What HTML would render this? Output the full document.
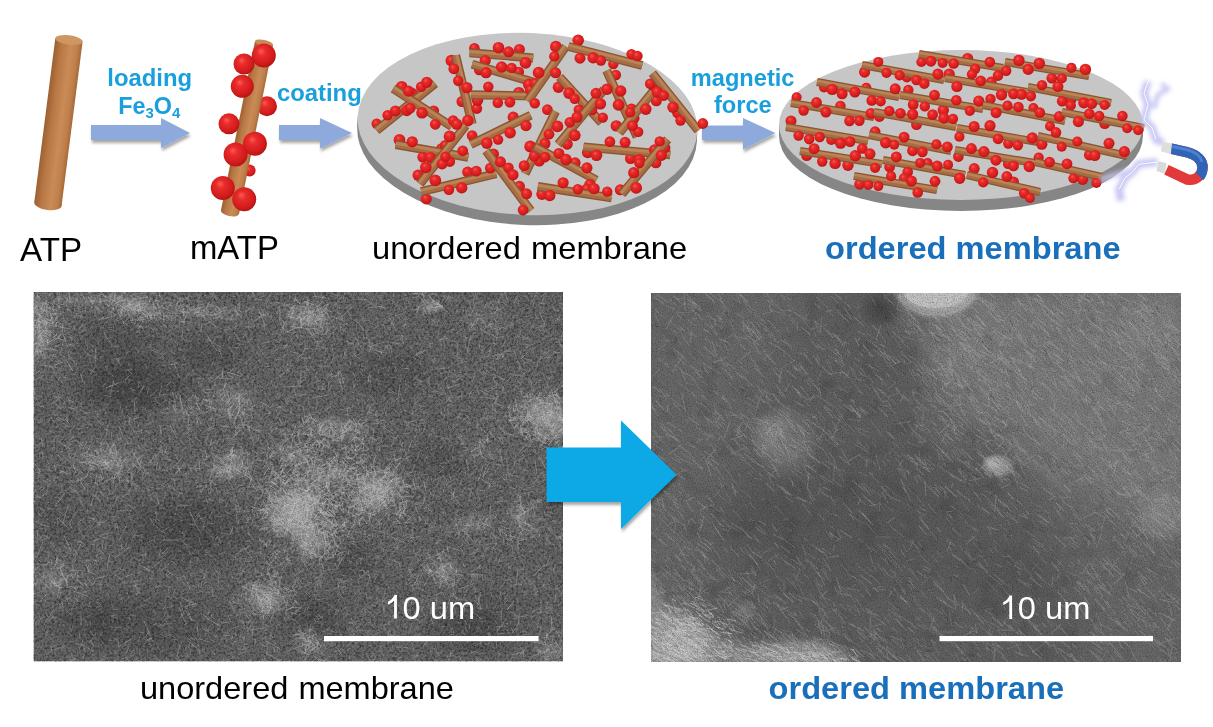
<!DOCTYPE html><html><head><meta charset="utf-8"><style>html,body{margin:0;padding:0;background:#fff;width:1213px;height:727px;overflow:hidden}svg{display:block}text{font-family:"Liberation Sans",sans-serif;opacity:0.999}</style></head><body><svg width="1213" height="727" viewBox="0 0 1213 727"><defs><radialGradient id="ball" cx="0.45" cy="0.42" r="0.6" fx="0.38" fy="0.32"><stop offset="0" stop-color="#ff5a52"/><stop offset="0.3" stop-color="#e82c2c"/><stop offset="0.75" stop-color="#d41c1c"/><stop offset="1" stop-color="#b01414"/></radialGradient><linearGradient id="rod1" x1="0" y1="0" x2="1" y2="0"><stop offset="0" stop-color="#9c6032"/><stop offset="0.25" stop-color="#b87744"/><stop offset="0.6" stop-color="#c98b57"/><stop offset="0.85" stop-color="#bf7f4b"/><stop offset="1" stop-color="#a56838"/></linearGradient><filter id="shadow" x="-10%" y="-10%" width="130%" height="140%"><feGaussianBlur in="SourceAlpha" stdDeviation="1.5"/><feOffset dx="1" dy="3"/><feComponentTransfer><feFuncA type="linear" slope="0.35"/></feComponentTransfer><feMerge><feMergeNode/><feMergeNode in="SourceGraphic"/></feMerge></filter></defs><g transform="translate(69.0,40.0) rotate(7.30)"><rect x="-13.8" y="0" width="27.5" height="165.3" fill="url(#rod1)"/><ellipse cx="0" cy="165.3" rx="13.8" ry="6.0" fill="url(#rod1)"/><ellipse cx="0" cy="0" rx="13.8" ry="4.7" fill="#cf9664"/></g><path d="M91,125 L161,125 L161,118 L190,133 L161,148 L161,140 L91,140 Z" fill="#8eaadc" filter="url(#shadow)"/><path d="M279,125 L320,125 L320,118 L352,133 L320,148.5 L320,140 L279,140 Z" fill="#8eaadc" filter="url(#shadow)"/><path d="M702,125.5 L743,125.5 L743,118 L775.5,133 L743,149.5 L743,140 L702,140 Z" fill="#8eaadc" filter="url(#shadow)"/><g fill="#19a0dc" font-weight="bold" font-size="23.4"><text transform="translate(107.3,86.1) scale(1.02,1)" >loading</text><text transform="translate(118.2,113.9) scale(1.0,1)" >Fe<tspan font-size="15" dy="4.5">3</tspan><tspan dy="-4.5">O</tspan><tspan font-size="15" dy="4.5">4</tspan></text><text transform="translate(276.9,101.2) scale(1.02,1)" >coating</text><text transform="translate(690.8,85.7) scale(1.01,1)" >magnetic</text><text transform="translate(714,113) scale(1.01,1)" >force</text></g><g fill="#000" font-size="31"><text transform="translate(20,261.1) scale(1.024,1)" font-size="32.4">ATP</text><text transform="translate(190,259.2) scale(1.005,1)" font-size="32.7">mATP</text><text transform="translate(372,258.8) scale(1.021,1)" word-spacing="1" font-size="32">unordered membrane</text></g><text transform="translate(825,259.3) scale(1.02,1)" fill="#1a6fba" font-weight="bold" font-size="32">ordered membrane</text><circle cx="267.0" cy="106.3" r="10.0" fill="url(#ball)"/><circle cx="249.6" cy="170.6" r="6.0" fill="url(#ball)"/><g transform="translate(264.0,43.0) rotate(11.38)"><rect x="-9.2" y="0" width="18.5" height="172.4" fill="url(#rod1)"/><ellipse cx="0" cy="172.4" rx="9.2" ry="4.1" fill="url(#rod1)"/><ellipse cx="0" cy="0" rx="9.2" ry="3.1" fill="#c98c58"/></g><circle cx="263.8" cy="55.4" r="12.0" fill="url(#ball)"/><circle cx="244.0" cy="64.0" r="10.5" fill="url(#ball)"/><circle cx="242.3" cy="86.3" r="11.5" fill="url(#ball)"/><circle cx="229.0" cy="123.8" r="10.5" fill="url(#ball)"/><circle cx="254.9" cy="143.8" r="12.0" fill="url(#ball)"/><circle cx="235.6" cy="154.6" r="12.0" fill="url(#ball)"/><circle cx="222.8" cy="188.0" r="12.0" fill="url(#ball)"/><circle cx="244.2" cy="199.3" r="12.0" fill="url(#ball)"/><g transform="rotate(2.5 527.5 124)"><ellipse cx="527.5" cy="134" rx="170" ry="91" fill="#868686"/><rect x="357.5" y="124" width="340" height="10" fill="#868686"/><ellipse cx="527.5" cy="124" rx="170" ry="91" fill="#c6c6c6"/></g><g transform="rotate(0 961 125)"><ellipse cx="961" cy="136" rx="182" ry="75" fill="#868686"/><rect x="779" y="125" width="364" height="11" fill="#868686"/><ellipse cx="961" cy="125" rx="182" ry="75" fill="#c6c6c6"/></g><g><circle cx="376.7" cy="123.8" r="5.2" fill="url(#ball)"/><circle cx="412.7" cy="93.6" r="5.5" fill="url(#ball)"/><line x1="376.6" y1="130.5" x2="435.2" y2="83.4" stroke="#8a5532" stroke-width="9"/><line x1="376.6" y1="130.5" x2="435.2" y2="83.4" stroke="#a66e46" stroke-width="6.3"/><line x1="375.8" y1="129.4" x2="434.4" y2="82.3" stroke="#bb8456" stroke-width="2.9"/><circle cx="387.6" cy="115.2" r="5.2" fill="url(#ball)"/><circle cx="395.4" cy="110.9" r="5.5" fill="url(#ball)"/><circle cx="406.7" cy="110.6" r="5.6" fill="url(#ball)"/><circle cx="421.2" cy="86.8" r="5.3" fill="url(#ball)"/><circle cx="426.8" cy="82.3" r="5.6" fill="url(#ball)"/><circle cx="401.7" cy="86.6" r="5.7" fill="url(#ball)"/><circle cx="433.7" cy="110.8" r="5.4" fill="url(#ball)"/><line x1="393.2" y1="88.5" x2="451.7" y2="126.6" stroke="#8a5532" stroke-width="9"/><line x1="393.2" y1="88.5" x2="451.7" y2="126.6" stroke="#a66e46" stroke-width="6.3"/><line x1="393.9" y1="87.4" x2="452.4" y2="125.5" stroke="#bb8456" stroke-width="2.9"/><circle cx="408.4" cy="91.1" r="5.6" fill="url(#ball)"/><circle cx="410.1" cy="108.2" r="5.5" fill="url(#ball)"/><circle cx="422.0" cy="112.8" r="5.8" fill="url(#ball)"/><circle cx="435.3" cy="124.3" r="5.4" fill="url(#ball)"/><circle cx="453.1" cy="120.6" r="5.3" fill="url(#ball)"/><circle cx="451.4" cy="60.6" r="5.9" fill="url(#ball)"/><circle cx="462.0" cy="101.5" r="5.5" fill="url(#ball)"/><line x1="455.6" y1="55.4" x2="472.1" y2="124.1" stroke="#8a5532" stroke-width="9"/><line x1="455.6" y1="55.4" x2="472.1" y2="124.1" stroke="#a66e46" stroke-width="6.3"/><line x1="456.9" y1="55.1" x2="473.4" y2="123.8" stroke="#bb8456" stroke-width="2.9"/><circle cx="453.8" cy="68.8" r="5.4" fill="url(#ball)"/><circle cx="458.2" cy="80.7" r="5.2" fill="url(#ball)"/><circle cx="466.8" cy="87.6" r="5.7" fill="url(#ball)"/><circle cx="476.8" cy="108.5" r="5.4" fill="url(#ball)"/><circle cx="467.8" cy="120.6" r="5.8" fill="url(#ball)"/><circle cx="399.5" cy="139.9" r="5.9" fill="url(#ball)"/><circle cx="441.4" cy="148.5" r="5.3" fill="url(#ball)"/><line x1="395.7" y1="144.5" x2="468.3" y2="157.2" stroke="#8a5532" stroke-width="9"/><line x1="395.7" y1="144.5" x2="468.3" y2="157.2" stroke="#a66e46" stroke-width="6.3"/><line x1="395.9" y1="143.2" x2="468.5" y2="155.9" stroke="#bb8456" stroke-width="2.9"/><circle cx="412.2" cy="141.8" r="5.6" fill="url(#ball)"/><circle cx="422.7" cy="157.1" r="5.4" fill="url(#ball)"/><circle cx="430.3" cy="157.4" r="5.5" fill="url(#ball)"/><circle cx="449.8" cy="161.6" r="5.3" fill="url(#ball)"/><circle cx="462.7" cy="150.8" r="5.4" fill="url(#ball)"/><circle cx="418.1" cy="175.2" r="5.6" fill="url(#ball)"/><circle cx="445.4" cy="145.5" r="5.6" fill="url(#ball)"/><line x1="419.9" y1="183.9" x2="465.7" y2="125.4" stroke="#8a5532" stroke-width="9"/><line x1="419.9" y1="183.9" x2="465.7" y2="125.4" stroke="#a66e46" stroke-width="6.3"/><line x1="418.8" y1="183.1" x2="464.6" y2="124.6" stroke="#bb8456" stroke-width="2.9"/><circle cx="425.8" cy="167.4" r="5.8" fill="url(#ball)"/><circle cx="442.1" cy="163.9" r="5.5" fill="url(#ball)"/><circle cx="445.4" cy="156.8" r="5.2" fill="url(#ball)"/><circle cx="449.6" cy="136.3" r="5.9" fill="url(#ball)"/><circle cx="456.7" cy="124.2" r="5.6" fill="url(#ball)"/><circle cx="426.2" cy="198.9" r="5.6" fill="url(#ball)"/><circle cx="467.7" cy="172.1" r="5.6" fill="url(#ball)"/><line x1="421.2" y1="191.6" x2="496.3" y2="173.7" stroke="#8a5532" stroke-width="9"/><line x1="421.2" y1="191.6" x2="496.3" y2="173.7" stroke="#a66e46" stroke-width="6.3"/><line x1="420.9" y1="190.3" x2="496.0" y2="172.4" stroke="#bb8456" stroke-width="2.9"/><circle cx="435.3" cy="180.3" r="5.9" fill="url(#ball)"/><circle cx="448.9" cy="189.8" r="5.3" fill="url(#ball)"/><circle cx="461.7" cy="187.7" r="5.7" fill="url(#ball)"/><circle cx="476.3" cy="171.1" r="5.4" fill="url(#ball)"/><circle cx="490.3" cy="168.1" r="5.4" fill="url(#ball)"/><circle cx="474.4" cy="48.2" r="5.3" fill="url(#ball)"/><circle cx="519.4" cy="49.4" r="5.5" fill="url(#ball)"/><line x1="469.6" y1="52.8" x2="533.2" y2="57.9" stroke="#8a5532" stroke-width="9"/><line x1="469.6" y1="52.8" x2="533.2" y2="57.9" stroke="#a66e46" stroke-width="6.3"/><line x1="469.7" y1="51.5" x2="533.3" y2="56.6" stroke="#bb8456" stroke-width="2.9"/><circle cx="485.2" cy="60.6" r="5.6" fill="url(#ball)"/><circle cx="498.5" cy="47.7" r="5.8" fill="url(#ball)"/><circle cx="508.6" cy="51.8" r="5.5" fill="url(#ball)"/><circle cx="525.5" cy="62.8" r="5.9" fill="url(#ball)"/><circle cx="479.2" cy="70.0" r="5.2" fill="url(#ball)"/><circle cx="518.8" cy="72.0" r="5.3" fill="url(#ball)"/><line x1="472.1" y1="64.3" x2="533.2" y2="82.1" stroke="#8a5532" stroke-width="9"/><line x1="472.1" y1="64.3" x2="533.2" y2="82.1" stroke="#a66e46" stroke-width="6.3"/><line x1="472.5" y1="63.0" x2="533.6" y2="80.8" stroke="#bb8456" stroke-width="2.9"/><circle cx="486.0" cy="72.7" r="5.6" fill="url(#ball)"/><circle cx="501.6" cy="67.0" r="5.7" fill="url(#ball)"/><circle cx="511.7" cy="67.9" r="5.2" fill="url(#ball)"/><circle cx="528.9" cy="84.5" r="5.9" fill="url(#ball)"/><circle cx="477.4" cy="100.1" r="5.9" fill="url(#ball)"/><circle cx="518.9" cy="92.7" r="5.8" fill="url(#ball)"/><line x1="470.8" y1="94.8" x2="534.5" y2="96.1" stroke="#8a5532" stroke-width="9"/><line x1="470.8" y1="94.8" x2="534.5" y2="96.1" stroke="#a66e46" stroke-width="6.3"/><line x1="470.8" y1="93.5" x2="534.5" y2="94.8" stroke="#bb8456" stroke-width="2.9"/><circle cx="488.3" cy="86.7" r="5.2" fill="url(#ball)"/><circle cx="497.8" cy="102.8" r="5.3" fill="url(#ball)"/><circle cx="509.9" cy="102.2" r="5.4" fill="url(#ball)"/><circle cx="530.8" cy="90.1" r="5.9" fill="url(#ball)"/><circle cx="472.1" cy="135.5" r="5.3" fill="url(#ball)"/><circle cx="513.2" cy="117.2" r="5.6" fill="url(#ball)"/><line x1="470.8" y1="144.5" x2="530.7" y2="115.2" stroke="#8a5532" stroke-width="9"/><line x1="470.8" y1="144.5" x2="530.7" y2="115.2" stroke="#a66e46" stroke-width="6.3"/><line x1="470.2" y1="143.3" x2="530.1" y2="114.0" stroke="#bb8456" stroke-width="2.9"/><circle cx="486.8" cy="143.1" r="5.8" fill="url(#ball)"/><circle cx="498.1" cy="139.6" r="5.2" fill="url(#ball)"/><circle cx="510.1" cy="132.7" r="5.8" fill="url(#ball)"/><circle cx="526.0" cy="125.6" r="5.6" fill="url(#ball)"/><circle cx="493.5" cy="154.1" r="5.5" fill="url(#ball)"/><circle cx="519.4" cy="186.4" r="5.6" fill="url(#ball)"/><line x1="486.1" y1="150.8" x2="530.7" y2="210.7" stroke="#8a5532" stroke-width="9"/><line x1="486.1" y1="150.8" x2="530.7" y2="210.7" stroke="#a66e46" stroke-width="6.3"/><line x1="487.2" y1="150.0" x2="531.8" y2="209.9" stroke="#bb8456" stroke-width="2.9"/><circle cx="500.4" cy="161.9" r="5.6" fill="url(#ball)"/><circle cx="508.5" cy="167.8" r="5.2" fill="url(#ball)"/><circle cx="513.0" cy="174.8" r="5.6" fill="url(#ball)"/><circle cx="526.6" cy="193.8" r="5.5" fill="url(#ball)"/><circle cx="523.0" cy="210.1" r="5.3" fill="url(#ball)"/><circle cx="555.9" cy="46.6" r="5.9" fill="url(#ball)"/><circle cx="535.4" cy="83.5" r="5.8" fill="url(#ball)"/><line x1="565.8" y1="46.5" x2="527.6" y2="101.2" stroke="#8a5532" stroke-width="9"/><line x1="565.8" y1="46.5" x2="527.6" y2="101.2" stroke="#a66e46" stroke-width="6.3"/><line x1="564.7" y1="45.7" x2="526.5" y2="100.4" stroke="#bb8456" stroke-width="2.9"/><circle cx="554.3" cy="56.4" r="5.2" fill="url(#ball)"/><circle cx="555.6" cy="72.8" r="5.5" fill="url(#ball)"/><circle cx="538.6" cy="72.7" r="5.9" fill="url(#ball)"/><circle cx="534.8" cy="103.3" r="5.2" fill="url(#ball)"/><circle cx="578.2" cy="40.3" r="5.8" fill="url(#ball)"/><circle cx="613.3" cy="64.1" r="5.2" fill="url(#ball)"/><line x1="568.4" y1="46.5" x2="642.2" y2="65.5" stroke="#8a5532" stroke-width="9"/><line x1="568.4" y1="46.5" x2="642.2" y2="65.5" stroke="#a66e46" stroke-width="6.3"/><line x1="568.7" y1="45.2" x2="642.5" y2="64.2" stroke="#bb8456" stroke-width="2.9"/><circle cx="580.0" cy="58.2" r="5.5" fill="url(#ball)"/><circle cx="593.1" cy="57.8" r="5.7" fill="url(#ball)"/><circle cx="600.9" cy="60.5" r="5.2" fill="url(#ball)"/><circle cx="631.5" cy="54.1" r="5.2" fill="url(#ball)"/><circle cx="637.4" cy="56.0" r="5.3" fill="url(#ball)"/><circle cx="558.4" cy="87.2" r="5.7" fill="url(#ball)"/><circle cx="594.4" cy="104.1" r="5.2" fill="url(#ball)"/><line x1="559.5" y1="77.0" x2="601.5" y2="122.8" stroke="#8a5532" stroke-width="9"/><line x1="559.5" y1="77.0" x2="601.5" y2="122.8" stroke="#a66e46" stroke-width="6.3"/><line x1="560.5" y1="76.1" x2="602.5" y2="121.9" stroke="#bb8456" stroke-width="2.9"/><circle cx="569.1" cy="93.1" r="5.9" fill="url(#ball)"/><circle cx="574.7" cy="98.8" r="5.2" fill="url(#ball)"/><circle cx="579.0" cy="109.9" r="5.4" fill="url(#ball)"/><circle cx="602.8" cy="117.6" r="5.2" fill="url(#ball)"/><circle cx="547.4" cy="109.7" r="5.4" fill="url(#ball)"/><circle cx="530.2" cy="146.5" r="5.9" fill="url(#ball)"/><line x1="555.6" y1="111.4" x2="525.1" y2="173.7" stroke="#8a5532" stroke-width="9"/><line x1="555.6" y1="111.4" x2="525.1" y2="173.7" stroke="#a66e46" stroke-width="6.3"/><line x1="554.4" y1="110.8" x2="523.9" y2="173.1" stroke="#bb8456" stroke-width="2.9"/><circle cx="557.4" cy="126.4" r="5.9" fill="url(#ball)"/><circle cx="549.0" cy="134.2" r="5.4" fill="url(#ball)"/><circle cx="545.0" cy="143.5" r="5.5" fill="url(#ball)"/><circle cx="539.2" cy="161.0" r="5.6" fill="url(#ball)"/><circle cx="524.2" cy="165.7" r="5.5" fill="url(#ball)"/><circle cx="567.2" cy="144.1" r="5.6" fill="url(#ball)"/><circle cx="592.1" cy="110.0" r="5.2" fill="url(#ball)"/><line x1="558.2" y1="144.5" x2="604.0" y2="89.7" stroke="#8a5532" stroke-width="9"/><line x1="558.2" y1="144.5" x2="604.0" y2="89.7" stroke="#a66e46" stroke-width="6.3"/><line x1="557.2" y1="143.6" x2="603.0" y2="88.8" stroke="#bb8456" stroke-width="2.9"/><circle cx="574.7" cy="135.3" r="5.9" fill="url(#ball)"/><circle cx="569.9" cy="122.3" r="5.4" fill="url(#ball)"/><circle cx="577.0" cy="117.2" r="5.6" fill="url(#ball)"/><circle cx="600.4" cy="103.9" r="5.7" fill="url(#ball)"/><circle cx="596.0" cy="93.3" r="5.5" fill="url(#ball)"/><circle cx="534.4" cy="156.0" r="5.6" fill="url(#ball)"/><circle cx="575.2" cy="162.7" r="5.4" fill="url(#ball)"/><line x1="535.3" y1="147.0" x2="596.4" y2="180.1" stroke="#8a5532" stroke-width="9"/><line x1="535.3" y1="147.0" x2="596.4" y2="180.1" stroke="#a66e46" stroke-width="6.3"/><line x1="535.9" y1="145.8" x2="597.0" y2="178.9" stroke="#bb8456" stroke-width="2.9"/><circle cx="545.1" cy="157.1" r="5.3" fill="url(#ball)"/><circle cx="558.9" cy="153.4" r="5.5" fill="url(#ball)"/><circle cx="566.0" cy="159.6" r="5.8" fill="url(#ball)"/><circle cx="586.9" cy="167.9" r="5.6" fill="url(#ball)"/><circle cx="589.9" cy="184.8" r="5.7" fill="url(#ball)"/><circle cx="542.0" cy="194.2" r="5.7" fill="url(#ball)"/><circle cx="586.9" cy="189.0" r="5.5" fill="url(#ball)"/><line x1="537.8" y1="186.5" x2="611.7" y2="197.9" stroke="#8a5532" stroke-width="9"/><line x1="537.8" y1="186.5" x2="611.7" y2="197.9" stroke="#a66e46" stroke-width="6.3"/><line x1="538.0" y1="185.2" x2="611.9" y2="196.6" stroke="#bb8456" stroke-width="2.9"/><circle cx="549.7" cy="195.5" r="5.8" fill="url(#ball)"/><circle cx="563.1" cy="182.8" r="5.6" fill="url(#ball)"/><circle cx="577.8" cy="189.2" r="5.2" fill="url(#ball)"/><circle cx="594.0" cy="188.6" r="5.7" fill="url(#ball)"/><circle cx="607.2" cy="191.6" r="5.2" fill="url(#ball)"/><circle cx="615.9" cy="75.0" r="5.2" fill="url(#ball)"/><circle cx="631.5" cy="109.3" r="5.7" fill="url(#ball)"/><line x1="606.6" y1="70.6" x2="637.1" y2="136.8" stroke="#8a5532" stroke-width="9"/><line x1="606.6" y1="70.6" x2="637.1" y2="136.8" stroke="#a66e46" stroke-width="6.3"/><line x1="607.8" y1="70.0" x2="638.3" y2="136.2" stroke="#bb8456" stroke-width="2.9"/><circle cx="607.0" cy="89.2" r="5.8" fill="url(#ball)"/><circle cx="620.7" cy="91.0" r="5.7" fill="url(#ball)"/><circle cx="618.6" cy="104.9" r="5.9" fill="url(#ball)"/><circle cx="633.8" cy="118.2" r="5.7" fill="url(#ball)"/><circle cx="638.2" cy="131.9" r="5.2" fill="url(#ball)"/><circle cx="616.3" cy="125.9" r="5.7" fill="url(#ball)"/><circle cx="656.3" cy="100.8" r="5.5" fill="url(#ball)"/><line x1="619.3" y1="133.0" x2="657.5" y2="85.9" stroke="#8a5532" stroke-width="9"/><line x1="619.3" y1="133.0" x2="657.5" y2="85.9" stroke="#a66e46" stroke-width="6.3"/><line x1="618.3" y1="132.1" x2="656.5" y2="85.0" stroke="#bb8456" stroke-width="2.9"/><circle cx="632.4" cy="125.7" r="5.5" fill="url(#ball)"/><circle cx="630.1" cy="112.2" r="5.2" fill="url(#ball)"/><circle cx="645.8" cy="109.1" r="5.8" fill="url(#ball)"/><circle cx="653.3" cy="85.7" r="5.2" fill="url(#ball)"/><circle cx="650.2" cy="83.7" r="5.3" fill="url(#ball)"/><circle cx="677.8" cy="112.6" r="5.8" fill="url(#ball)"/><line x1="652.4" y1="73.2" x2="698.2" y2="130.5" stroke="#8a5532" stroke-width="9"/><line x1="652.4" y1="73.2" x2="698.2" y2="130.5" stroke="#a66e46" stroke-width="6.3"/><line x1="653.5" y1="72.4" x2="699.3" y2="129.7" stroke="#bb8456" stroke-width="2.9"/><circle cx="657.3" cy="92.0" r="5.7" fill="url(#ball)"/><circle cx="663.7" cy="95.6" r="5.3" fill="url(#ball)"/><circle cx="673.0" cy="107.3" r="5.7" fill="url(#ball)"/><circle cx="680.5" cy="120.5" r="5.2" fill="url(#ball)"/><circle cx="702.8" cy="123.5" r="5.4" fill="url(#ball)"/><circle cx="587.7" cy="152.5" r="5.8" fill="url(#ball)"/><circle cx="630.5" cy="158.5" r="5.5" fill="url(#ball)"/><line x1="583.6" y1="147.0" x2="670.2" y2="154.7" stroke="#8a5532" stroke-width="9"/><line x1="583.6" y1="147.0" x2="670.2" y2="154.7" stroke="#a66e46" stroke-width="6.3"/><line x1="583.7" y1="145.7" x2="670.3" y2="153.4" stroke="#bb8456" stroke-width="2.9"/><circle cx="596.5" cy="155.3" r="5.8" fill="url(#ball)"/><circle cx="609.9" cy="141.7" r="5.4" fill="url(#ball)"/><circle cx="625.1" cy="142.3" r="5.5" fill="url(#ball)"/><circle cx="639.4" cy="160.0" r="5.9" fill="url(#ball)"/><circle cx="654.6" cy="150.0" r="5.7" fill="url(#ball)"/><circle cx="665.0" cy="147.7" r="5.4" fill="url(#ball)"/><circle cx="620.3" cy="189.8" r="5.5" fill="url(#ball)"/><circle cx="655.9" cy="162.8" r="5.5" fill="url(#ball)"/><line x1="621.8" y1="194.1" x2="667.7" y2="139.4" stroke="#8a5532" stroke-width="9"/><line x1="621.8" y1="194.1" x2="667.7" y2="139.4" stroke="#a66e46" stroke-width="6.3"/><line x1="620.8" y1="193.2" x2="666.7" y2="138.5" stroke="#bb8456" stroke-width="2.9"/><circle cx="636.2" cy="187.9" r="5.9" fill="url(#ball)"/><circle cx="633.7" cy="172.7" r="5.6" fill="url(#ball)"/><circle cx="639.3" cy="163.0" r="5.2" fill="url(#ball)"/><circle cx="661.3" cy="155.3" r="5.6" fill="url(#ball)"/><circle cx="659.7" cy="141.4" r="5.2" fill="url(#ball)"/></g><g><circle cx="921.4" cy="62.0" r="5.1" fill="url(#ball)"/><circle cx="967.6" cy="58.5" r="5.6" fill="url(#ball)"/><line x1="919.0" y1="54.0" x2="1003.0" y2="68.0" stroke="#8a5532" stroke-width="8"/><line x1="919.0" y1="54.0" x2="1003.0" y2="68.0" stroke="#a66e46" stroke-width="5.6"/><line x1="919.2" y1="52.8" x2="1003.2" y2="66.8" stroke="#bb8456" stroke-width="2.6"/><circle cx="930.9" cy="61.2" r="5.5" fill="url(#ball)"/><circle cx="942.6" cy="62.9" r="5.0" fill="url(#ball)"/><circle cx="953.7" cy="63.5" r="5.3" fill="url(#ball)"/><circle cx="975.1" cy="68.8" r="5.2" fill="url(#ball)"/><circle cx="989.8" cy="62.1" r="5.3" fill="url(#ball)"/><circle cx="998.0" cy="75.6" r="5.3" fill="url(#ball)"/><circle cx="1006.2" cy="70.7" r="5.2" fill="url(#ball)"/><circle cx="1051.8" cy="78.2" r="5.4" fill="url(#ball)"/><line x1="1005.0" y1="62.0" x2="1089.0" y2="76.0" stroke="#8a5532" stroke-width="8"/><line x1="1005.0" y1="62.0" x2="1089.0" y2="76.0" stroke="#a66e46" stroke-width="5.6"/><line x1="1005.2" y1="60.8" x2="1089.2" y2="74.8" stroke="#bb8456" stroke-width="2.6"/><circle cx="1018.9" cy="60.4" r="5.7" fill="url(#ball)"/><circle cx="1028.2" cy="69.4" r="5.6" fill="url(#ball)"/><circle cx="1039.3" cy="63.4" r="5.7" fill="url(#ball)"/><circle cx="1061.8" cy="78.4" r="5.1" fill="url(#ball)"/><circle cx="1071.4" cy="67.9" r="5.1" fill="url(#ball)"/><circle cx="1085.4" cy="69.4" r="5.7" fill="url(#ball)"/><circle cx="864.6" cy="72.1" r="5.6" fill="url(#ball)"/><circle cx="906.9" cy="77.5" r="5.0" fill="url(#ball)"/><line x1="862.0" y1="65.0" x2="944.0" y2="80.0" stroke="#8a5532" stroke-width="8"/><line x1="862.0" y1="65.0" x2="944.0" y2="80.0" stroke="#a66e46" stroke-width="5.6"/><line x1="862.2" y1="63.8" x2="944.2" y2="78.8" stroke="#bb8456" stroke-width="2.6"/><circle cx="878.3" cy="61.9" r="5.0" fill="url(#ball)"/><circle cx="886.5" cy="72.8" r="5.1" fill="url(#ball)"/><circle cx="899.6" cy="75.4" r="5.1" fill="url(#ball)"/><circle cx="916.5" cy="80.0" r="5.3" fill="url(#ball)"/><circle cx="924.3" cy="83.6" r="5.3" fill="url(#ball)"/><circle cx="937.9" cy="74.1" r="5.6" fill="url(#ball)"/><circle cx="949.2" cy="74.2" r="5.6" fill="url(#ball)"/><circle cx="991.3" cy="81.8" r="5.3" fill="url(#ball)"/><line x1="945.0" y1="78.0" x2="1027.0" y2="92.0" stroke="#8a5532" stroke-width="8"/><line x1="945.0" y1="78.0" x2="1027.0" y2="92.0" stroke="#a66e46" stroke-width="5.6"/><line x1="945.2" y1="76.8" x2="1027.2" y2="90.8" stroke="#bb8456" stroke-width="2.6"/><circle cx="956.9" cy="86.5" r="5.6" fill="url(#ball)"/><circle cx="971.9" cy="74.3" r="5.1" fill="url(#ball)"/><circle cx="980.7" cy="80.9" r="5.4" fill="url(#ball)"/><circle cx="1001.5" cy="94.8" r="5.7" fill="url(#ball)"/><circle cx="1013.6" cy="93.8" r="5.5" fill="url(#ball)"/><circle cx="1021.5" cy="94.3" r="5.5" fill="url(#ball)"/><circle cx="1030.8" cy="96.1" r="5.3" fill="url(#ball)"/><circle cx="1071.1" cy="99.5" r="5.4" fill="url(#ball)"/><line x1="1028.0" y1="87.0" x2="1111.0" y2="103.0" stroke="#8a5532" stroke-width="8"/><line x1="1028.0" y1="87.0" x2="1111.0" y2="103.0" stroke="#a66e46" stroke-width="5.6"/><line x1="1028.2" y1="85.8" x2="1111.2" y2="101.8" stroke="#bb8456" stroke-width="2.6"/><circle cx="1042.0" cy="85.1" r="5.2" fill="url(#ball)"/><circle cx="1057.9" cy="86.6" r="5.5" fill="url(#ball)"/><circle cx="1062.1" cy="101.2" r="5.3" fill="url(#ball)"/><circle cx="1083.8" cy="102.8" r="5.6" fill="url(#ball)"/><circle cx="1091.7" cy="103.7" r="5.4" fill="url(#ball)"/><circle cx="1104.6" cy="105.0" r="5.0" fill="url(#ball)"/><circle cx="824.0" cy="87.4" r="5.0" fill="url(#ball)"/><circle cx="866.3" cy="87.8" r="5.1" fill="url(#ball)"/><line x1="817.0" y1="82.0" x2="899.0" y2="97.0" stroke="#8a5532" stroke-width="8"/><line x1="817.0" y1="82.0" x2="899.0" y2="97.0" stroke="#a66e46" stroke-width="5.6"/><line x1="817.2" y1="80.8" x2="899.2" y2="95.8" stroke="#bb8456" stroke-width="2.6"/><circle cx="832.2" cy="89.4" r="5.7" fill="url(#ball)"/><circle cx="842.1" cy="93.8" r="5.5" fill="url(#ball)"/><circle cx="854.9" cy="92.0" r="5.5" fill="url(#ball)"/><circle cx="871.7" cy="100.4" r="5.3" fill="url(#ball)"/><circle cx="880.7" cy="101.3" r="5.1" fill="url(#ball)"/><circle cx="895.2" cy="88.8" r="5.5" fill="url(#ball)"/><circle cx="908.3" cy="90.0" r="5.2" fill="url(#ball)"/><circle cx="943.3" cy="110.3" r="5.7" fill="url(#ball)"/><line x1="900.0" y1="95.0" x2="983.0" y2="109.0" stroke="#8a5532" stroke-width="8"/><line x1="900.0" y1="95.0" x2="983.0" y2="109.0" stroke="#a66e46" stroke-width="5.6"/><line x1="900.2" y1="93.8" x2="983.2" y2="107.8" stroke="#bb8456" stroke-width="2.6"/><circle cx="913.2" cy="104.6" r="5.4" fill="url(#ball)"/><circle cx="924.8" cy="106.4" r="5.2" fill="url(#ball)"/><circle cx="934.5" cy="95.1" r="5.4" fill="url(#ball)"/><circle cx="956.3" cy="100.3" r="5.3" fill="url(#ball)"/><circle cx="969.8" cy="110.8" r="5.1" fill="url(#ball)"/><circle cx="978.8" cy="101.1" r="5.6" fill="url(#ball)"/><circle cx="990.5" cy="99.0" r="5.2" fill="url(#ball)"/><circle cx="1033.4" cy="108.1" r="5.0" fill="url(#ball)"/><line x1="983.0" y1="105.0" x2="1065.0" y2="121.0" stroke="#8a5532" stroke-width="8"/><line x1="983.0" y1="105.0" x2="1065.0" y2="121.0" stroke="#a66e46" stroke-width="5.6"/><line x1="983.2" y1="103.8" x2="1065.2" y2="119.8" stroke="#bb8456" stroke-width="2.6"/><circle cx="996.1" cy="112.7" r="5.5" fill="url(#ball)"/><circle cx="1007.5" cy="105.7" r="5.1" fill="url(#ball)"/><circle cx="1018.4" cy="107.0" r="5.3" fill="url(#ball)"/><circle cx="1039.8" cy="112.5" r="5.3" fill="url(#ball)"/><circle cx="1050.0" cy="126.3" r="5.0" fill="url(#ball)"/><circle cx="1059.2" cy="116.5" r="5.4" fill="url(#ball)"/><circle cx="1070.7" cy="105.4" r="5.2" fill="url(#ball)"/><circle cx="1104.7" cy="123.6" r="5.5" fill="url(#ball)"/><line x1="1062.0" y1="112.0" x2="1144.0" y2="128.0" stroke="#8a5532" stroke-width="8"/><line x1="1062.0" y1="112.0" x2="1144.0" y2="128.0" stroke="#a66e46" stroke-width="5.6"/><line x1="1062.2" y1="110.8" x2="1144.2" y2="126.8" stroke="#bb8456" stroke-width="2.6"/><circle cx="1078.4" cy="121.6" r="5.6" fill="url(#ball)"/><circle cx="1089.3" cy="113.7" r="5.4" fill="url(#ball)"/><circle cx="1099.2" cy="116.0" r="5.2" fill="url(#ball)"/><circle cx="1122.4" cy="116.1" r="5.3" fill="url(#ball)"/><circle cx="1127.2" cy="128.2" r="5.0" fill="url(#ball)"/><circle cx="1138.2" cy="130.3" r="5.0" fill="url(#ball)"/><circle cx="796.6" cy="97.3" r="5.0" fill="url(#ball)"/><circle cx="840.4" cy="106.1" r="5.3" fill="url(#ball)"/><line x1="791.0" y1="103.0" x2="874.0" y2="117.0" stroke="#8a5532" stroke-width="8"/><line x1="791.0" y1="103.0" x2="874.0" y2="117.0" stroke="#a66e46" stroke-width="5.6"/><line x1="791.2" y1="101.8" x2="874.2" y2="115.8" stroke="#bb8456" stroke-width="2.6"/><circle cx="803.6" cy="110.5" r="5.2" fill="url(#ball)"/><circle cx="816.5" cy="102.5" r="5.4" fill="url(#ball)"/><circle cx="825.9" cy="112.0" r="5.5" fill="url(#ball)"/><circle cx="849.5" cy="120.9" r="5.3" fill="url(#ball)"/><circle cx="859.4" cy="120.8" r="5.2" fill="url(#ball)"/><circle cx="871.0" cy="113.4" r="5.4" fill="url(#ball)"/><circle cx="879.4" cy="116.5" r="5.4" fill="url(#ball)"/><circle cx="916.5" cy="124.6" r="5.4" fill="url(#ball)"/><line x1="874.0" y1="112.0" x2="956.0" y2="127.0" stroke="#8a5532" stroke-width="8"/><line x1="874.0" y1="112.0" x2="956.0" y2="127.0" stroke="#a66e46" stroke-width="5.6"/><line x1="874.2" y1="110.8" x2="956.2" y2="125.8" stroke="#bb8456" stroke-width="2.6"/><circle cx="889.3" cy="110.9" r="5.2" fill="url(#ball)"/><circle cx="900.4" cy="113.2" r="5.3" fill="url(#ball)"/><circle cx="912.6" cy="114.3" r="5.6" fill="url(#ball)"/><circle cx="932.6" cy="114.6" r="5.4" fill="url(#ball)"/><circle cx="943.8" cy="118.1" r="5.6" fill="url(#ball)"/><circle cx="953.0" cy="118.8" r="5.1" fill="url(#ball)"/><circle cx="959.4" cy="136.7" r="5.1" fill="url(#ball)"/><circle cx="1008.3" cy="143.5" r="5.2" fill="url(#ball)"/><line x1="957.0" y1="128.0" x2="1038.0" y2="142.0" stroke="#8a5532" stroke-width="8"/><line x1="957.0" y1="128.0" x2="1038.0" y2="142.0" stroke="#a66e46" stroke-width="5.6"/><line x1="957.2" y1="126.8" x2="1038.2" y2="140.8" stroke="#bb8456" stroke-width="2.6"/><circle cx="974.1" cy="126.5" r="5.5" fill="url(#ball)"/><circle cx="990.0" cy="125.7" r="5.6" fill="url(#ball)"/><circle cx="998.1" cy="138.8" r="5.4" fill="url(#ball)"/><circle cx="1017.8" cy="145.2" r="5.3" fill="url(#ball)"/><circle cx="1032.3" cy="138.0" r="5.7" fill="url(#ball)"/><circle cx="1041.8" cy="144.2" r="5.6" fill="url(#ball)"/><circle cx="1089.3" cy="155.0" r="5.4" fill="url(#ball)"/><line x1="1038.0" y1="136.0" x2="1127.0" y2="156.0" stroke="#8a5532" stroke-width="8"/><line x1="1038.0" y1="136.0" x2="1127.0" y2="156.0" stroke="#a66e46" stroke-width="5.6"/><line x1="1038.3" y1="134.8" x2="1127.3" y2="154.8" stroke="#bb8456" stroke-width="2.6"/><circle cx="1056.0" cy="132.4" r="5.3" fill="url(#ball)"/><circle cx="1061.7" cy="146.8" r="5.0" fill="url(#ball)"/><circle cx="1077.3" cy="141.5" r="5.1" fill="url(#ball)"/><circle cx="1094.8" cy="155.5" r="5.6" fill="url(#ball)"/><circle cx="1109.0" cy="143.3" r="5.5" fill="url(#ball)"/><circle cx="1124.4" cy="151.6" r="5.6" fill="url(#ball)"/><circle cx="791.0" cy="121.0" r="5.5" fill="url(#ball)"/><circle cx="831.3" cy="139.9" r="5.1" fill="url(#ball)"/><line x1="786.0" y1="127.0" x2="868.0" y2="141.0" stroke="#8a5532" stroke-width="8"/><line x1="786.0" y1="127.0" x2="868.0" y2="141.0" stroke="#a66e46" stroke-width="5.6"/><line x1="786.2" y1="125.8" x2="868.2" y2="139.8" stroke="#bb8456" stroke-width="2.6"/><circle cx="798.6" cy="135.6" r="5.2" fill="url(#ball)"/><circle cx="809.2" cy="139.1" r="5.3" fill="url(#ball)"/><circle cx="819.7" cy="137.0" r="5.2" fill="url(#ball)"/><circle cx="840.6" cy="143.2" r="5.6" fill="url(#ball)"/><circle cx="850.0" cy="141.6" r="5.4" fill="url(#ball)"/><circle cx="862.3" cy="148.5" r="5.3" fill="url(#ball)"/><circle cx="875.1" cy="131.7" r="5.4" fill="url(#ball)"/><circle cx="912.6" cy="150.7" r="5.5" fill="url(#ball)"/><line x1="869.0" y1="135.0" x2="951.0" y2="151.0" stroke="#8a5532" stroke-width="8"/><line x1="869.0" y1="135.0" x2="951.0" y2="151.0" stroke="#a66e46" stroke-width="5.6"/><line x1="869.2" y1="133.8" x2="951.2" y2="149.8" stroke="#bb8456" stroke-width="2.6"/><circle cx="885.7" cy="142.8" r="5.7" fill="url(#ball)"/><circle cx="894.2" cy="144.8" r="5.0" fill="url(#ball)"/><circle cx="904.1" cy="137.1" r="5.4" fill="url(#ball)"/><circle cx="922.4" cy="151.9" r="5.3" fill="url(#ball)"/><circle cx="936.4" cy="144.4" r="5.1" fill="url(#ball)"/><circle cx="947.4" cy="146.9" r="5.4" fill="url(#ball)"/><circle cx="958.4" cy="156.6" r="5.3" fill="url(#ball)"/><circle cx="1008.1" cy="163.9" r="5.2" fill="url(#ball)"/><line x1="955.0" y1="150.0" x2="1035.0" y2="163.0" stroke="#8a5532" stroke-width="8"/><line x1="955.0" y1="150.0" x2="1035.0" y2="163.0" stroke="#a66e46" stroke-width="5.6"/><line x1="955.2" y1="148.8" x2="1035.2" y2="161.8" stroke="#bb8456" stroke-width="2.6"/><circle cx="971.4" cy="148.5" r="5.4" fill="url(#ball)"/><circle cx="983.9" cy="151.6" r="5.6" fill="url(#ball)"/><circle cx="995.9" cy="160.2" r="5.5" fill="url(#ball)"/><circle cx="1013.5" cy="165.9" r="5.4" fill="url(#ball)"/><circle cx="1029.3" cy="166.5" r="5.7" fill="url(#ball)"/><circle cx="1038.7" cy="157.5" r="5.1" fill="url(#ball)"/><circle cx="1082.6" cy="179.3" r="5.7" fill="url(#ball)"/><line x1="1035.0" y1="162.0" x2="1102.0" y2="177.0" stroke="#8a5532" stroke-width="8"/><line x1="1035.0" y1="162.0" x2="1102.0" y2="177.0" stroke="#a66e46" stroke-width="5.6"/><line x1="1035.3" y1="160.8" x2="1102.3" y2="175.8" stroke="#bb8456" stroke-width="2.6"/><circle cx="1049.5" cy="162.1" r="5.4" fill="url(#ball)"/><circle cx="1067.0" cy="163.8" r="5.4" fill="url(#ball)"/><circle cx="1073.4" cy="178.3" r="5.1" fill="url(#ball)"/><circle cx="1096.4" cy="182.9" r="5.0" fill="url(#ball)"/><circle cx="806.7" cy="155.5" r="5.5" fill="url(#ball)"/><circle cx="848.0" cy="165.2" r="5.7" fill="url(#ball)"/><line x1="800.0" y1="151.0" x2="882.0" y2="164.0" stroke="#8a5532" stroke-width="8"/><line x1="800.0" y1="151.0" x2="882.0" y2="164.0" stroke="#a66e46" stroke-width="5.6"/><line x1="800.2" y1="149.8" x2="882.2" y2="162.8" stroke="#bb8456" stroke-width="2.6"/><circle cx="814.1" cy="148.7" r="5.5" fill="url(#ball)"/><circle cx="822.2" cy="161.5" r="5.2" fill="url(#ball)"/><circle cx="835.1" cy="163.4" r="5.7" fill="url(#ball)"/><circle cx="855.3" cy="155.8" r="5.7" fill="url(#ball)"/><circle cx="870.0" cy="153.8" r="5.5" fill="url(#ball)"/><circle cx="875.1" cy="167.8" r="5.1" fill="url(#ball)"/><circle cx="889.6" cy="166.9" r="5.4" fill="url(#ball)"/><circle cx="927.6" cy="163.2" r="5.1" fill="url(#ball)"/><line x1="883.0" y1="160.0" x2="965.0" y2="175.0" stroke="#8a5532" stroke-width="8"/><line x1="883.0" y1="160.0" x2="965.0" y2="175.0" stroke="#a66e46" stroke-width="5.6"/><line x1="883.2" y1="158.8" x2="965.2" y2="173.8" stroke="#bb8456" stroke-width="2.6"/><circle cx="896.3" cy="156.9" r="5.5" fill="url(#ball)"/><circle cx="907.7" cy="172.0" r="5.3" fill="url(#ball)"/><circle cx="920.1" cy="162.9" r="5.0" fill="url(#ball)"/><circle cx="937.2" cy="166.1" r="5.5" fill="url(#ball)"/><circle cx="948.1" cy="164.7" r="5.0" fill="url(#ball)"/><circle cx="959.7" cy="178.2" r="5.7" fill="url(#ball)"/><circle cx="974.2" cy="168.6" r="5.5" fill="url(#ball)"/><circle cx="1013.4" cy="182.0" r="5.6" fill="url(#ball)"/><line x1="967.0" y1="175.0" x2="1040.0" y2="192.0" stroke="#8a5532" stroke-width="8"/><line x1="967.0" y1="175.0" x2="1040.0" y2="192.0" stroke="#a66e46" stroke-width="5.6"/><line x1="967.3" y1="173.8" x2="1040.3" y2="190.8" stroke="#bb8456" stroke-width="2.6"/><circle cx="983.2" cy="182.4" r="5.1" fill="url(#ball)"/><circle cx="992.5" cy="172.5" r="5.7" fill="url(#ball)"/><circle cx="1006.8" cy="176.5" r="5.4" fill="url(#ball)"/><circle cx="1024.2" cy="193.2" r="5.3" fill="url(#ball)"/><circle cx="1029.9" cy="198.0" r="5.0" fill="url(#ball)"/><circle cx="859.6" cy="184.3" r="5.4" fill="url(#ball)"/><circle cx="904.0" cy="178.2" r="5.2" fill="url(#ball)"/><line x1="854.0" y1="176.0" x2="937.0" y2="190.0" stroke="#8a5532" stroke-width="8"/><line x1="854.0" y1="176.0" x2="937.0" y2="190.0" stroke="#a66e46" stroke-width="5.6"/><line x1="854.2" y1="174.8" x2="937.2" y2="188.8" stroke="#bb8456" stroke-width="2.6"/><circle cx="868.3" cy="184.9" r="5.0" fill="url(#ball)"/><circle cx="878.4" cy="186.1" r="5.0" fill="url(#ball)"/><circle cx="891.1" cy="176.2" r="5.1" fill="url(#ball)"/><circle cx="911.4" cy="181.0" r="5.5" fill="url(#ball)"/><circle cx="917.7" cy="192.5" r="5.3" fill="url(#ball)"/><circle cx="935.0" cy="181.2" r="5.4" fill="url(#ball)"/></g><defs><filter id="glow" x="-50%" y="-50%" width="200%" height="200%"><feGaussianBlur stdDeviation="2.2"/></filter></defs><g filter="url(#glow)" opacity="0.85"><path d="M1148,81.5 L1144,93 L1148,104.6 L1144,120 L1152,127.7 L1155.8,139.3 L1163.5,143" stroke="#c0c0f2" stroke-width="8" fill="none"/><path d="M1161.6,83.5 L1167.4,89 L1157.7,95 L1154,108.5" stroke="#c4c4f2" stroke-width="5" fill="none"/><path d="M1157.7,162 L1138.5,164.3 L1132.7,172 L1125,177.8 L1119,189.3 L1121,200.9" stroke="#c0c0f2" stroke-width="8" fill="none"/><path d="M1132,170 L1112,176 L1100,180" stroke="#c8c8f2" stroke-width="5" fill="none"/></g><g fill="none" stroke="#fff" stroke-width="1" opacity="0.9"><path d="M1148,81.5 L1144,93 L1148,104.6 L1144,120 L1152,127.7 L1155.8,139.3"/><path d="M1157.7,162 L1138.5,164.3 L1132.7,172 L1125,177.8 L1119,189.3"/></g><path d="M1171,148.7 L1186.5,152 C1198,155 1203,161 1202.5,168 C1202,176 1195,181 1187.5,179.6 L1166.4,169.8" stroke="#e23a3a" stroke-width="10.5" fill="none"/><path d="M1171,148.7 L1186.5,152 C1198,155 1203,161 1202.5,168 C1202.3,172 1201.5,174.5 1199.5,176.5" stroke="#2f64b6" stroke-width="10.5" fill="none"/><path d="M1172,146.5 L1186.5,149.5 C1196,152 1201,157 1202,162" stroke="#4c82cf" stroke-width="3" fill="none"/><path d="M1162,141.6 L1171.8,143.4 L1170.9,154.1 L1161,151.4 Z" fill="#dedede"/><path d="M1158.4,161.3 L1166.4,163 L1164.7,173.8 L1156.6,171.1 Z" fill="#dadada"/><clipPath id="cL"><rect x="33.5" y="292" width="529.5" height="369.5"/></clipPath><filter id="grainL" x="0" y="0" width="1" height="1"><feTurbulence type="fractalNoise" baseFrequency="0.9" numOctaves="2" seed="2"/><feColorMatrix type="matrix" values="0 0 0 0 0  0 0 0 0 0  0 0 0 0 0  -2.2 0 0 0 1.25"/></filter><filter id="mottL" x="0" y="0" width="1" height="1"><feTurbulence type="fractalNoise" baseFrequency="0.42" numOctaves="2" seed="8"/><feColorMatrix type="matrix" values="0 0 0 0 0  0 0 0 0 0  0 0 0 0 0  -1.1 0 0 0 0.62"/></filter><g clip-path="url(#cL)"><rect x="33.5" y="292" width="529.5" height="369.5" fill="#696969"/><radialGradient id="bL0"><stop offset="0" stop-color="#000" stop-opacity="0.25"/><stop offset="0.55" stop-color="#000" stop-opacity="0.163"/><stop offset="1" stop-color="#000" stop-opacity="0"/></radialGradient><ellipse cx="135" cy="389" rx="70" ry="35" fill="url(#bL0)"/><radialGradient id="bL1"><stop offset="0" stop-color="#000" stop-opacity="0.22"/><stop offset="0.55" stop-color="#000" stop-opacity="0.143"/><stop offset="1" stop-color="#000" stop-opacity="0"/></radialGradient><ellipse cx="186" cy="531" rx="80" ry="45" fill="url(#bL1)"/><radialGradient id="bL2"><stop offset="0" stop-color="#000" stop-opacity="0.18"/><stop offset="0.55" stop-color="#000" stop-opacity="0.117"/><stop offset="1" stop-color="#000" stop-opacity="0"/></radialGradient><ellipse cx="313" cy="618" rx="40" ry="30" fill="url(#bL2)"/><radialGradient id="bL3"><stop offset="0" stop-color="#000" stop-opacity="0.15"/><stop offset="0.55" stop-color="#000" stop-opacity="0.098"/><stop offset="1" stop-color="#000" stop-opacity="0"/></radialGradient><ellipse cx="389" cy="373" rx="50" ry="30" fill="url(#bL3)"/><radialGradient id="bL4"><stop offset="0" stop-color="#000" stop-opacity="0.14"/><stop offset="0.55" stop-color="#000" stop-opacity="0.091"/><stop offset="1" stop-color="#000" stop-opacity="0"/></radialGradient><ellipse cx="211" cy="353" rx="50" ry="25" fill="url(#bL4)"/><radialGradient id="bL5"><stop offset="0" stop-color="#000" stop-opacity="0.12"/><stop offset="0.55" stop-color="#000" stop-opacity="0.078"/><stop offset="1" stop-color="#000" stop-opacity="0"/></radialGradient><ellipse cx="480" cy="620" rx="60" ry="40" fill="url(#bL5)"/><radialGradient id="bL6"><stop offset="0" stop-color="#000" stop-opacity="0.12"/><stop offset="0.55" stop-color="#000" stop-opacity="0.078"/><stop offset="1" stop-color="#000" stop-opacity="0"/></radialGradient><ellipse cx="440" cy="460" rx="40" ry="30" fill="url(#bL6)"/><radialGradient id="bL7"><stop offset="0" stop-color="#000" stop-opacity="0.12"/><stop offset="0.55" stop-color="#000" stop-opacity="0.078"/><stop offset="1" stop-color="#000" stop-opacity="0"/></radialGradient><ellipse cx="90" cy="620" rx="50" ry="30" fill="url(#bL7)"/><radialGradient id="bL8"><stop offset="0" stop-color="#000" stop-opacity="0.15"/><stop offset="0.55" stop-color="#000" stop-opacity="0.098"/><stop offset="1" stop-color="#000" stop-opacity="0"/></radialGradient><ellipse cx="353" cy="562" rx="35" ry="25" fill="url(#bL8)"/><radialGradient id="bL9"><stop offset="0" stop-color="#000" stop-opacity="0.14"/><stop offset="0.55" stop-color="#000" stop-opacity="0.091"/><stop offset="1" stop-color="#000" stop-opacity="0"/></radialGradient><ellipse cx="150" cy="625" rx="100" ry="40" fill="url(#bL9)"/><radialGradient id="bL10"><stop offset="0" stop-color="#000" stop-opacity="0.1"/><stop offset="0.55" stop-color="#000" stop-opacity="0.065"/><stop offset="1" stop-color="#000" stop-opacity="0"/></radialGradient><ellipse cx="60" cy="520" rx="40" ry="40" fill="url(#bL10)"/><radialGradient id="bL11"><stop offset="0" stop-color="#000" stop-opacity="0.1"/><stop offset="0.55" stop-color="#000" stop-opacity="0.065"/><stop offset="1" stop-color="#000" stop-opacity="0"/></radialGradient><ellipse cx="470" cy="630" rx="50" ry="30" fill="url(#bL11)"/><radialGradient id="bL12"><stop offset="0" stop-color="#000" stop-opacity="0.12"/><stop offset="0.55" stop-color="#000" stop-opacity="0.078"/><stop offset="1" stop-color="#000" stop-opacity="0"/></radialGradient><ellipse cx="115" cy="350" rx="60" ry="40" fill="url(#bL12)"/><rect x="33.5" y="292" width="529.5" height="369.5" filter="url(#mottL)"/><path d="M116 297l2 1M349 578l5 3M91 399l-1 2M214 406l-4 1M443 447l-4 0M208 400l-1 2M324 545l5 1M98 468l6 1M519 366l1 4M197 340l2 4M277 490l3 4M298 380l-1 3M220 623l-2 0M301 657l-4 6M378 476l2 3M299 304l3 3M247 586l-3 4M315 451l-0 4M369 419l-5 2M258 582l-2 4M299 570l5 3M54 364l2 4M215 573l-2 2M96 438l3 1M169 439l1 3M459 320l6 1M119 568l-5 5M161 552l4 2M476 573l2 6M522 450l-2 1M321 448l1 7M198 408l-7 2M79 595l-2 6M425 427l-1 3M183 298l-1 5M380 588l-4 3M106 471l-1 2M254 595l-6 4M310 552l1 4M394 409l3 4M285 562l-3 1M430 296l4 6M412 511l2 2M382 574l2 7M305 311l2 2M82 595l-0 5M81 374l1 3M189 622l-5 3M70 336l2 5M257 586l-1 6M88 584l-5 1M463 438l5 1M404 313l-7 2M137 525l7 1M278 566l0 8M397 483l-2 2M448 313l3 3M357 398l2 7M529 423l-3 7M505 633l-7 1M173 606l-7 2M505 529l-4 1M53 340l2 3M111 361l5 4M475 586l-2 4M381 650l-5 4M99 308l-6 0M439 651l-1 6M200 321l-5 0M474 559l2 1M456 562l-6 4M263 646l-3 4M519 487l4 1M318 610l-2 3M511 586l4 1M256 473l-3 1M45 303l-6 0M308 504l-0 7M550 575l-2 8M333 338l3 4M224 451l-2 1M486 440l6 2M39 564l-6 0M460 386l-3 1M292 455l2 3M450 370l-2 5M534 345l-1 7M525 566l-2 0M80 623l2 3M337 623l-2 2M545 303l-7 1M465 292l-7 1M308 418l2 7M450 489l5 5M54 497l6 1M335 640l-8 2M294 431l7 3M116 473l4 2M276 429l-4 1M268 588l-1 2M247 310l-2 2M544 297l-3 7M256 491l-4 1M59 393l2 5M128 593l-3 1M532 526l2 4M313 506l5 1M284 566l-1 3M174 586l2 0M538 360l-1 7M378 537l4 4M226 466l2 6M506 534l2 7M85 307l1 5M140 301l6 0M225 552l-7 3M190 296l4 2M278 439l-7 0M321 479l-0 7M558 632l-1 2M89 525l-4 5M63 304l2 2M330 433l-2 6M296 475l4 4M498 420l-1 3M351 630l2 2M450 442l6 2M284 305l2 3M381 645l-1 4M282 545l-7 1M379 467l-5 2M313 336l3 6M232 530l-2 4M226 424l-5 6M144 295l4 2M526 415l6 2M553 412l-6 5M539 446l4 3M166 495l-2 2M211 444l1 6M228 425l-3 7M167 463l-2 3M351 295l3 5M81 497l1 2M434 356l1 6M529 368l2 2M387 374l2 2M476 433l3 0M140 431l-2 1M270 421l5 5M80 520l6 3M280 488l-4 3M529 336l-2 3M403 533l5 2M337 318l-6 3M484 365l5 1M90 292l3 2M195 435l1 5M211 651l4 3M560 339l2 4M165 596l5 1M306 543l-2 6M396 399l3 3M277 422l4 4M422 381l-8 2M174 595l-3 3M182 493l2 6M315 309l-3 4M104 404l5 0M288 367l-0 4M105 480l3 1M83 568l2 1M328 442l3 2M244 530l3 2M515 566l3 4M196 332l4 4M126 505l-1 3M354 523l-1 6M123 480l-3 1M241 445l2 7M533 566l8 0M230 465l0 8M301 357l6 2M479 370l4 5M262 541l-1 7M295 513l-1 4M456 515l3 1M314 507l-2 3M351 533l2 5M491 425l4 7M427 552l1 4M189 582l-3 1M309 427l2 7M141 472l5 1M49 463l-4 4M308 303l-3 6M291 613l7 1M364 526l-3 3M35 355l8 1M232 373l0 3M191 595l0 2M317 657l4 1M450 423l5 2M403 505l2 6M291 512l-4 1M338 290l-1 6M358 522l2 2M35 433l4 1M517 417l3 1M464 449l0 2M380 523l2 1M63 321l7 3M81 324l2 4M345 292l-2 7M309 549l-6 3M540 341l-0 2M255 503l0 3M210 418l3 6M50 418l-2 5M285 505l-3 3M337 306l3 2M433 486l2 2M563 590l-3 7M560 541l0 6M241 605l2 3M336 433l-5 4M449 554l-4 3M95 451l4 5M83 619l1 3M556 629l-3 1M537 620l2 1M122 627l-7 1M260 488l-1 2M360 597l-2 3M459 304l-3 2M213 465l5 2M162 563l-3 6M170 460l1 8M479 607l-1 5M169 291l-5 3M427 519l-2 2M324 509l-6 4M455 344l3 6M377 571l-2 4M192 392l2 0M158 644l0 5M58 531l-1 6M153 421l-6 3M523 344l-1 2M350 470l-7 1M297 611l-3 4M172 400l-1 2M428 601l-0 7M443 479l3 4M419 334l2 7M330 510l-2 2M447 400l2 0M224 296l-4 5M101 449l4 3M443 469l-4 4M341 505l-6 2M554 475l-3 5M339 312l4 6M379 334l-4 4M61 394l-5 4M555 320l1 4M327 376l0 4M460 374l-4 4M143 386l8 2M222 468l1 3M48 388l5 3M511 568l-3 1M229 440l1 3M391 452l5 0M396 649l3 1M94 452l-3 2M325 654l-0 8M154 305l3 3M549 493l-5 5M40 660l-1 2M552 636l3 1M370 320l-7 1M428 658l3 6M271 495l6 3M182 589l4 1M390 499l2 2M528 379l4 1M101 307l4 3M336 534l-7 1M326 630l6 0M134 420l1 4M386 497l3 7M223 657l2 8M462 471l-3 4M566 534l-7 3M442 437l4 6M118 497l-3 5M311 614l-4 1M329 304l-4 1M50 583l1 4M469 602l-6 4M500 317l3 3M551 332l3 1M516 358l4 5M521 319l4 6M173 636l5 5M473 607l0 6M292 373l4 4M335 571l-4 3M537 502l6 1M344 464l-4 2M56 577l-2 7M280 421l6 3M503 386l1 5M295 324l0 2M319 442l4 0M216 470l-6 2M273 596l-6 1M270 430l2 3M248 391l5 2M446 490l-7 4M255 505l-6 3M212 296l5 4M128 438l3 1M361 425l-4 2M182 319l3 6M553 520l3 3M374 346l-3 0M166 513l-4 3M135 522l-3 2M428 355l5 1M346 492l3 5M433 427l1 7M350 451l-7 2M536 491l5 2M516 302l-3 1M143 314l5 2M554 427l3 1M464 512l-2 8M79 343l-3 1M319 487l-3 6M116 502l-3 4M421 556l-1 4M216 571l5 5M241 301l-3 4M236 598l5 3M545 440l0 4M226 458l5 2M333 447l-6 1M178 358l-5 3M356 343l-2 7M339 339l3 1M295 582l1 3M510 646l-2 1M366 637l2 4M68 552l-3 1M263 498l1 6M46 632l-0 5M418 487l5 6M414 614l0 3M184 557l-2 4M238 649l8 0M435 474l1 4M203 591l-6 2M333 510l6 4M420 560l-5 3M49 394l-0 2M116 301l-1 5M165 564l-0 2M190 637l5 3M253 596l-3 5M362 559l-2 6M476 614l5 5M142 475l1 4M475 329l-8 0M274 450l1 3M522 416l-4 1M496 355l5 5M540 433l-0 3M225 343l-4 6M92 468l-2 3M471 404l4 6M491 570l-7 2M72 612l-2 3M53 617l-5 4M416 617l4 6M331 302l-6 4M206 441l1 4M335 544l0 3M446 513l-4 0M445 443l-5 6M328 457l-2 8M521 442l1 2M307 499l-0 3M73 453l5 4M292 370l3 2M300 520l-2 2M561 602l-3 4M544 510l1 5M349 445l-4 7M234 471l1 4M399 514l4 4M403 541l2 2M285 463l1 5M228 533l-0 6M237 398l4 2M171 381l-5 5M324 573l-2 4M253 491l-4 3M168 408l-2 1M197 409l4 0M212 621l6 4M482 574l1 7M414 518l-7 2M198 380l1 7M79 586l5 3M522 419l5 2M503 520l2 2M231 453l-3 4M258 383l6 6M505 354l4 0M484 371l-3 3M324 622l-2 3M68 458l7 0M138 311l3 0M38 342l-6 5M503 553l-1 3M101 551l0 3M260 599l1 4M349 655l0 4M85 466l-5 0M105 653l-6 0M136 553l4 2M72 565l1 5M325 383l-4 3M124 308l2 3M560 296l2 4M408 516l7 2M350 438l-4 2M257 463l2 2M75 643l6 2M500 523l2 1M444 626l-6 1M490 634l1 6M254 388l3 3M283 497l2 1M129 301l0 6M565 447l-7 1M456 438l3 0M392 451l-3 2M87 344l1 6M484 525l2 2M88 369l7 3M80 408l1 3M563 308l-2 2M545 377l5 2M510 585l7 0M154 481l-6 0M70 311l5 6M544 637l2 0M532 425l5 1M187 653l1 4M293 451l-2 6M552 413l5 1M440 568l2 5M60 624l-0 3M240 379l-3 7M497 364l-6 0M261 649l1 3M488 408l-7 2M402 517l2 2M47 534l2 5M272 405l-3 3M264 589l-1 3M276 340l3 3M512 521l-2 7M223 489l-1 2M107 447l5 0M166 605l-3 4M66 560l-4 2M63 579l-4 1M341 589l2 4M504 424l-1 6M306 468l2 7M201 654l-1 3M99 539l-7 3M456 444l7 0M458 424l-6 3M126 641l-1 4M394 367l2 1M190 304l-2 1M148 352l-6 0M553 423l4 3M333 474l3 4M314 300l2 5M263 319l3 2M446 335l-2 2M423 491l1 3M454 576l1 7M219 393l2 3M262 589l0 5M312 494l4 7M99 448l-5 3M369 440l-1 4M449 617l-2 1M245 608l-2 6M71 506l-1 5M83 449l-0 3M94 460l-1 4M358 589l3 5M293 598l-2 2M58 297l5 2M354 459l-3 1M333 548l-5 4M451 524l-2 4M57 645l-5 2M45 597l-0 7M345 307l3 1M395 298l-3 2M245 646l2 3M354 399l0 3M101 481l-5 0M316 556l6 1M373 498l-4 0M223 391l3 6M456 584l3 7M335 460l-2 1M322 309l1 7M549 649l-4 5M277 588l-5 3M233 476l-2 2M432 437l-2 3M508 623l-4 4M353 397l1 2M283 511l4 2M284 430l-3 1M307 473l1 3M267 462l-4 7M391 599l-7 2M365 366l-4 1M502 327l-4 3M245 646l1 5M107 593l2 2M144 430l7 4M353 623l-6 1M523 409l-0 4M373 492l-2 2M79 466l-6 2M94 470l-2 4M496 349l-2 4M101 541l7 1M190 307l-3 2M269 523l-5 3M494 546l-2 6M541 584l3 3M366 320l-5 0M283 442l-1 7M166 298l7 2M161 426l3 3M448 657l-2 0M516 422l4 2M84 485l2 5M196 418l4 2M141 406l5 3M86 437l-3 4M444 626l-4 7M355 539l-2 0M395 499l-4 2M463 410l0 2M346 349l-2 7M552 489l-6 3M476 351l-0 3M218 511l2 3M492 483l4 1M162 459l2 6M322 467l-1 2M229 540l7 2M415 435l1 3M483 371l4 4M122 293l-1 5M198 494l2 4M178 292l-1 2M167 620l-1 2M332 385l-2 4M520 426l2 5M536 545l-5 5M237 439l-6 1M348 480l-2 1M398 553l7 3M323 347l6 2M149 291l8 3M190 643l-1 3M528 524l3 5M45 547l-4 4M138 408l-4 3M87 423l6 3M239 620l3 1M208 444l3 5M71 353l5 1M310 389l4 3M514 506l-5 4M357 426l-2 4M253 421l-7 1M393 650l-6 1M342 473l1 3M96 456l-2 1M459 374l-0 3M497 313l1 6M405 550l-2 3M353 641l-6 5M284 388l2 3M254 390l5 3M335 541l-1 4M420 412l4 1M262 353l1 2M461 519l-2 3M288 524l-0 3M274 601l-5 6M121 333l3 0M536 424l2 0M370 526l-1 4M326 420l1 7M309 639l-1 3M261 604l0 6M222 446l2 1M421 442l-7 4M68 471l-6 3M298 545l2 3M485 656l2 3M463 589l2 6M304 507l-7 4M404 538l-1 3M156 594l-3 5M186 447l-4 4M178 345l-5 3M52 318l-2 4M220 458l3 3M524 605l0 2M243 619l-0 4M94 658l3 2M192 620l4 1M542 519l4 0M382 437l-1 5M365 330l2 6M180 298l1 2M363 442l-3 7M368 294l3 6M547 425l-6 5M266 346l0 3M106 290l4 5M558 332l-3 0M83 510l-7 0M213 442l5 2M233 314l-2 6M498 603l-5 6M416 375l1 3M477 567l1 2M240 322l2 1M520 426l-1 5M514 531l-5 1M468 545l2 4M423 389l1 4M502 630l2 1M216 383l-1 3M308 524l3 1M276 535l4 2M274 367l-2 3M245 307l8 2M90 562l1 4M355 587l-2 3M545 321l-2 7M228 482l3 1M111 385l-2 2M524 400l1 6M438 304l6 3M208 312l4 1M320 578l-3 6M491 334l3 1M73 381l2 2M141 571l-4 2M68 603l3 1M84 416l-6 4M470 351l-3 0M281 409l-3 7M234 492l2 5M311 319l0 6M189 656l-8 0M443 305l2 6M376 496l6 0M427 554l-1 5M265 300l2 8M273 404l0 3M188 608l-2 1M556 411l1 2M484 531l2 5M268 477l2 2M495 326l5 2M146 411l2 6M59 435l-6 3M560 406l-2 3M222 639l-4 6M296 332l-5 3M453 376l-1 3M42 339l-3 6M320 595l-1 3M153 578l-6 1M190 455l1 4M169 527l-6 4M185 349l-7 0M530 406l-4 2M153 349l7 2M112 303l7 2M275 447l-1 2M456 464l-2 2M427 465l6 4M412 440l4 5M139 415l-5 2M418 475l3 6M196 482l3 1M157 317l-1 4M407 621l-2 4M393 473l-0 2M250 660l-1 2M334 472l-2 2M436 548l2 5M555 612l6 5M280 367l4 6M111 346l8 1M314 594l2 6M324 409l5 5M114 652l4 2M255 379l-5 4M234 602l8 2M367 622l3 1M476 546l-3 0M89 484l-4 0M158 555l5 2M545 584l-2 2M265 594l5 1M108 494l5 0M554 519l1 4M265 578l-2 4M92 365l-4 1M237 418l-6 1M323 499l8 2M382 497l5 1M345 507l2 6M312 534l7 1M172 429l-4 2M232 456l-2 2M138 330l-3 5M400 565l1 5M439 513l1 7M453 410l1 2M505 582l-5 6M295 509l-4 3M168 384l-1 2M474 400l-1 2M239 520l-1 5M507 557l-5 0M331 412l-3 1M463 531l5 2M121 541l1 7M55 586l-4 0M523 443l0 2M378 601l-3 4M543 416l-4 3M489 547l-3 4M211 625l-5 6M266 573l3 0M339 555l1 6M248 341l4 5M48 587l-7 2M458 433l4 7M435 357l-1 6M108 490l2 4M106 432l2 3M339 544l-1 4M273 443l-1 6M195 411l-2 4M410 602l-4 1M269 578l4 1M248 323l1 8M493 519l-2 1M221 491l-4 2M144 638l1 2M505 598l3 1M216 440l-5 4M468 421l5 6M230 493l-6 1M398 542l1 5M238 393l2 3M66 657l6 0M116 360l3 1M86 547l3 4M266 501l-2 2M97 411l-8 2M194 306l-5 4M142 502l1 5M310 469l-4 5M534 503l-3 5M428 552l2 7M168 301l-6 5M323 577l2 2M555 437l-6 2M412 567l-5 1M406 545l-5 5M380 532l5 1M75 426l-5 5M345 471l-5 1M138 445l4 6M143 430l-8 2M307 505l5 4M525 511l-1 3M345 582l-6 1M121 298l1 3M502 318l5 0M203 501l5 1M149 388l-2 6M516 497l7 2M543 620l2 0M246 383l2 2M371 375l0 2M262 527l-2 2M538 624l-2 1M559 403l1 3M327 633l5 1M492 516l-3 6M547 439l4 1M500 300l-2 5M269 613l-5 1M230 542l0 6M160 411l2 3M272 443l5 1M374 344l7 4M462 447l5 1M150 635l-0 7M122 608l4 1M165 309l4 4M228 466l3 6M261 450l3 3M527 434l5 2M234 458l-7 3M294 648l6 4M263 314l3 6M305 434l3 2M499 596l1 3M232 454l1 3M347 560l7 4M411 562l-1 5M284 599l2 3M472 348l-4 1M159 484l6 3M530 338l-8 2M496 353l-3 5M504 496l-5 3M454 477l4 3M191 646l3 1M214 516l8 1M497 421l5 0M155 327l4 4M412 321l5 5M107 430l-1 7M240 344l-4 5M316 429l-4 6M490 451l1 8M307 496l4 1M313 508l-6 2M395 305l4 2M321 292l2 7M81 355l-1 3M340 543l-2 3M66 512l-4 4M453 405l-2 3M468 361l-3 1M231 531l3 4M80 587l3 1M76 586l-1 2M97 452l-0 3M558 436l4 3M450 518l5 3M479 564l1 5M53 330l4 4M271 382l-5 3M533 588l4 6M383 659l-4 5M325 320l-6 2M276 455l-1 2M341 292l-6 4M448 547l8 2M510 563l-4 1M395 477l-0 3M117 399l2 5M310 424l-4 4M239 626l-6 2M322 448l0 2M490 632l-1 3M85 334l-5 5M132 531l2 1M39 368l3 2M438 290l-0 5M433 396l-6 1M122 597l-1 3M409 642l4 2M479 528l3 1M230 599l5 4M302 535l1 3M303 586l-5 3M200 352l4 0M190 448l0 2M220 424l1 3M77 407l-7 3M198 473l6 3M106 543l-1 7M439 301l-3 7M507 431l2 1M356 292l2 3M69 332l-4 3M309 486l4 0M202 476l0 4M362 517l3 4M306 427l-5 2M424 421l2 2M468 352l5 5M534 405l-1 4M76 422l5 5M117 472l-5 0M96 460l-7 1M41 352l5 5M511 628l4 6M80 471l-2 4M218 629l5 2M226 543l4 0M457 318l-2 3M255 436l-7 2M262 537l-3 4M231 407l-1 6M231 637l3 1M459 569l-4 1M324 548l2 7M233 297l3 0M73 308l2 3M173 421l1 8M185 446l2 2M511 508l1 8M219 497l4 7M202 634l-4 6M317 554l-3 1M477 311l-2 6M151 328l2 2M234 610l5 6M304 655l2 5M129 482l-5 6M380 319l-7 0M463 544l-3 3M450 460l-5 4M321 295l5 3M48 302l0 6M340 502l-3 2M137 458l-4 3M227 410l6 5M432 434l-3 2M493 521l-3 1M101 422l0 2M318 341l-1 5M518 300l1 6M206 570l-7 2M225 384l-2 7M370 304l-5 3M394 621l-6 1M543 651l4 1M287 361l1 5M148 378l-4 5M59 307l-6 3M312 418l6 4M393 301l-1 3M135 398l2 6M500 591l1 5M380 599l-1 5M386 422l-6 2M540 608l-0 5M389 614l-4 3M329 518l-4 2M294 402l7 4M132 443l-8 1M49 429l2 3M302 511l-3 5M485 367l4 6M176 524l-3 1M173 401l3 1M287 437l1 4M563 418l-0 3M418 405l8 2M57 391l4 2M238 449l6 2M77 294l6 2M249 632l-2 4M182 628l-3 1M108 560l2 2M511 348l-5 3M211 658l-1 4M252 619l-6 4M121 308l1 3M288 311l3 1M187 330l3 1M383 485l-5 2M516 486l5 5M220 391l-1 3M537 516l-4 1M501 622l7 2M303 412l-2 2M474 417l3 1M304 545l2 1M226 429l-0 5M251 476l-2 1M165 615l-4 4M551 581l-4 0M309 302l-3 1M502 476l-4 4M434 520l2 3M413 411l-2 4M225 306l-2 3M309 419l-5 6M378 558l-6 1M281 515l3 1M208 434l-2 7M506 454l-2 4M300 555l4 4M46 380l2 3M428 366l5 2M61 306l-3 1M72 345l-4 0M331 406l-6 4M535 429l-0 4M341 608l-6 5M82 472l-6 4M287 518l4 6M287 403l3 2M141 480l2 0M303 333l3 0M447 552l-2 4M504 578l-1 2M346 396l-5 5M45 300l5 3M302 517l-4 6M432 548l-2 2M543 657l4 3M335 433l-2 3M464 571l-3 1M36 593l-2 1M398 428l-4 6M415 483l4 1M267 303l-5 3M212 614l-1 3M72 453l-4 3M447 609l-2 4M446 455l-0 3M489 431l-2 5M307 552l-2 1M70 567l-5 1M552 432l-0 3M428 446l-2 3M532 501l-2 5M534 432l8 1M279 448l6 4M127 478l5 0M466 311l0 4M69 633l3 3M444 523l4 3M329 430l0 3M213 362l-2 6M441 639l2 3M129 352l-3 1M318 573l-8 0M389 366l0 3M518 509l0 3M159 539l-5 3M441 551l4 2M539 437l5 0M329 563l8 1M395 602l5 5M372 380l-3 1M208 303l3 6M334 505l3 0M364 637l5 4M214 617l-8 2M539 573l-1 6M180 468l-5 1M57 356l-6 1M309 357l1 2M138 562l3 2M242 443l-6 3M150 411l0 5M438 403l-4 3M475 515l7 2M532 372l1 3M493 645l2 5M338 572l3 0M290 345l-0 2M115 650l1 6M120 320l-4 1M148 308l6 2M231 454l-3 3M78 533l4 0M346 548l-7 1M510 351l-6 1M137 516l1 4M370 534l-3 3M484 573l8 0M118 472l-4 1M301 633l-0 5M205 552l2 3M245 372l-5 5M95 310l-0 7M335 402l-5 0M127 650l-0 3M524 504l1 5M346 421l-2 3M503 561l-5 1M314 529l1 7M232 497l-2 5M309 584l6 4M212 375l2 1M76 598l-2 1M90 302l3 1M295 644l-3 3M358 578l1 7M173 310l3 5M71 543l1 4M463 564l3 5M193 439l-4 0M289 400l-2 5M422 340l3 2M198 515l5 5M345 436l-3 3M415 659l2 3M425 351l-6 3M321 318l-3 1M61 619l-6 3M252 573l-6 2M520 450l-1 4M516 475l3 3M187 646l-2 4M344 363l5 4M168 460l3 1M317 403l-1 8M425 454l-4 4M134 659l6 2M267 416l-4 4M113 620l-0 3M166 428l-3 1M272 353l3 3M218 584l6 4M227 327l5 3M286 338l-6 3M122 478l-0 3M165 420l0 2M461 413l-2 2M336 304l-3 5M523 508l1 6M369 476l-2 3M383 385l3 2M402 448l4 5M85 645l-2 1M423 299l1 5M360 414l4 0M284 526l-1 3M365 454l-1 6M348 588l-4 1M340 591l-3 4M288 397l-1 5M262 597l4 4M448 376l3 1M413 574l-2 2M417 370l1 2M355 564l-2 2M141 660l-1 2M224 644l4 6M239 569l0 6M450 534l-2 2M490 485l-2 3M189 462l-0 5M56 522l-2 1M346 445l-1 7M418 458l-2 3M265 311l4 5M254 414l6 1M385 513l6 2M507 479l6 2M35 555l1 3M482 379l3 4M299 370l-4 3M337 356l-5 3M399 514l4 2M301 536l1 3M462 541l5 3M414 476l3 7M44 624l-1 4M360 447l-1 3M248 571l3 7M214 328l4 0M40 328l-6 4M430 539l4 2M89 427l-3 1M428 550l-5 1M411 501l2 4M160 300l-5 1M97 571l5 0M378 365l-3 1M403 446l-4 6M424 516l-5 6M294 389l-2 4M54 557l-0 2M68 377l-5 1M149 631l-4 7M173 338l-6 4M465 343l1 6M356 398l2 3M517 484l-1 4M392 656l5 1M332 501l-2 7M292 511l0 3M551 431l-1 2M275 427l1 3M261 292l-4 3M261 410l-2 7M555 631l7 2M279 532l2 0M234 450l-7 1M135 488l2 1M360 534l2 2M246 603l4 6M403 657l-5 1M466 497l-2 1M62 603l-4 6M293 539l-1 3M46 559l3 4M305 476l-2 0M112 473l6 3M103 597l-6 3M505 575l-0 2M366 424l2 3M101 409l-4 6M142 496l-4 4M373 533l-1 6M209 629l-1 3M505 396l-2 4M276 506l-4 2M518 418l-1 2M416 337l-2 1M290 397l2 1M123 581l-0 3M37 506l2 4M308 552l4 2M255 598l4 4M459 591l5 2M503 303l3 2M332 460l0 5M113 539l1 2M81 558l-2 1M351 535l2 3M105 299l4 2M243 394l-6 4M131 591l3 1M185 453l1 4M420 393l4 1M473 337l-5 5M523 388l1 2M377 507l-5 3M70 407l5 4M466 615l5 2M457 332l1 2M449 585l-1 3M106 382l-3 5M252 543l-0 4M34 364l3 2M36 330l-1 4M491 388l2 0M39 313l2 7M245 610l2 4M35 394l-1 6M309 458l-7 1M112 609l7 1M281 320l1 8M33 323l3 5M93 638l-4 5M231 442l-3 3M76 292l2 4M429 476l-2 5M193 446l-3 0M354 350l1 7M341 426l3 5M394 317l-6 4M529 392l-2 2M148 374l4 2M113 382l6 6M64 647l-2 4M278 418l-3 0M180 305l-4 5M456 544l5 5M312 342l0 2M255 660l-7 0M534 515l2 0M70 472l1 4M510 513l6 5M315 440l-3 1M412 648l4 5M546 633l1 7M295 489l6 3M504 539l3 3M319 497l7 2M140 331l-5 2M482 502l-1 6M556 587l0 6M410 516l-3 0M529 308l-7 2M286 345l-3 5M293 324l-1 3M275 600l5 5M553 607l-2 2M251 341l-2 2M225 379l2 6M126 490l-4 0M198 460l5 4M71 436l3 2M373 653l-1 4M339 397l-3 2M203 491l-5 1M366 553l5 6M252 585l3 3M141 535l-7 1M67 379l-2 1M515 433l-7 3M118 309l5 6M336 468l2 2M538 398l4 3M530 436l1 6M259 423l-3 0M170 364l5 1M108 640l7 1M477 521l2 3M206 618l3 1M41 645l0 3M239 410l4 4M309 321l1 5M385 408l-2 6M220 525l1 4M279 657l2 7M353 381l1 7M463 333l-2 2M368 448l4 4M82 325l4 3M246 524l3 4M373 571l8 1M180 339l-0 2M548 609l-3 7M545 635l2 1M401 338l-1 3M318 348l-6 2M166 604l-3 6M308 309l4 6M452 465l1 5M437 490l-5 2M279 318l2 7M389 349l1 4M194 557l5 2M190 561l0 8M274 519l7 1M478 567l6 3M444 571l5 3M527 373l1 2M433 495l0 3M478 627l5 6M300 435l5 2M435 522l1 2M497 519l4 4M348 611l-3 6M299 380l-1 5M363 456l-6 2M270 460l1 7M385 523l-2 3M57 510l5 4M294 474l1 4M375 543l-7 4M490 367l5 2M540 372l-5 4M561 357l-3 1M67 395l2 6M490 493l-0 3M444 578l7 3M305 525l2 3M332 293l6 3M90 446l-1 3M71 573l-5 5M289 481l-3 2M372 512l-3 4M220 469l3 2M94 533l3 0M99 584l2 0M115 469l4 2M490 482l-1 7M220 639l7 0M232 529l-2 6M522 513l-5 6M417 305l2 2M126 657l4 5M443 593l2 5M523 538l-2 2M75 294l0 6M211 427l2 3M449 399l4 7M200 400l-4 1M461 653l6 1M355 526l-0 5M320 337l6 5M192 467l-4 1M193 575l-3 1M61 570l0 6M263 524l6 5M255 567l1 7M325 511l-2 4M213 378l-2 1M293 303l2 1M478 531l-2 4M450 563l2 6M247 429l-5 5M88 571l5 3M375 404l-6 1M130 519l5 2M331 641l1 4M479 538l-5 5M92 377l0 8M356 346l3 4M487 659l3 2M403 299l6 2M353 569l2 5M369 329l-2 1M57 519l1 5M252 648l2 3M503 473l2 5M243 434l-2 7M297 515l-4 6M198 308l-7 2M245 362l3 2M200 515l-5 6M319 302l-3 2M314 471l0 3M508 411l4 4M304 496l2 6M86 536l3 0M311 573l-0 3M233 488l2 1M267 393l-3 1M428 517l-1 7M471 292l3 3M211 484l0 2M361 624l-5 4M377 415l5 0M167 453l0 6M441 564l5 3M169 304l4 3M415 553l1 2M394 370l2 3M156 438l-5 5M447 377l-2 2M319 465l-4 3M272 412l-4 2M202 443l-5 3M245 333l1 4M305 585l5 1M127 441l1 3M59 505l-6 0M339 370l-1 7M286 443l3 2M390 345l2 8M279 303l6 1M516 505l2 6M547 389l-5 1M123 459l8 0M456 559l0 5M294 623l0 7M135 583l2 6M452 655l5 2M63 455l5 6M151 471l-2 4M263 403l-1 7M401 353l2 4M227 505l-2 2M414 384l3 3M562 561l-2 2M145 472l4 1M561 537l-4 2M487 604l-1 5M324 437l0 3M143 337l-2 1M495 428l-6 6M214 453l-5 3M488 325l-3 2M465 311l4 0M549 642l4 7M552 395l-5 6M383 477l-2 4M270 356l-3 2M331 389l-5 4M252 383l1 7M252 409l-8 1M80 446l1 5M277 302l2 2M339 519l-5 4M323 340l-5 4M516 559l-4 2M101 556l1 5M536 422l2 1M511 418l2 2M511 457l6 4M319 429l6 5M60 322l-4 1M493 543l4 1M212 489l-2 4M299 499l-1 2M240 423l-4 0M414 376l0 4M77 411l-0 3M205 442l2 2M207 485l-5 5M498 308l2 1M195 311l3 7M337 366l-1 3M470 402l-3 3M194 379l-1 2M324 443l-1 7M445 580l-2 7M80 582l4 4M260 361l0 2M267 602l1 2M334 635l1 7M466 300l3 2M207 428l3 0M503 434l5 0M175 411l3 2M253 320l1 6M336 533l4 2M151 334l-7 4M77 569l-7 2M340 409l8 2M267 471l-3 3M380 508l-2 5M315 658l2 3M526 321l-3 1M327 574l-6 0M364 523l-3 3M446 531l-3 5M234 424l-0 2M226 645l5 4M328 432l-5 3M313 594l6 1M422 482l2 1M38 401l-2 2M222 603l-4 3M317 502l2 2M190 295l-5 5M199 476l-4 7M422 315l3 2M79 521l3 5M382 511l1 2M437 316l-4 6M281 499l6 0M44 616l-3 5M313 555l-7 4M219 581l-1 2M288 430l-5 5M542 499l-6 2M557 548l-2 1M424 565l2 6M360 497l-8 1M434 374l5 1M84 428l-7 1M184 610l5 5M254 349l2 1M79 305l-1 5M318 332l-0 3M405 549l3 1M459 532l-1 7M553 622l-1 2M197 412l-2 2M390 522l-5 6M181 456l-3 0M530 442l-1 3M198 557l-1 7M433 530l6 0M218 536l-2 2M202 603l4 6M344 462l-4 0M132 483l-1 6M355 482l5 2M522 527l-8 1M321 512l6 0M242 573l-7 1M51 568l0 8M319 421l3 2M362 569l5 6M521 560l3 4M175 454l3 7M230 400l-2 3M413 627l4 0M325 430l-1 4M275 516l0 6M417 404l-3 5M316 397l2 7M195 573l-5 1M506 366l-6 1M549 481l0 2M133 430l4 3M306 375l1 2M178 471l-1 2M124 628l4 2M118 317l-4 6M35 321l4 2M74 437l-1 2M40 538l-2 6M298 500l-2 3M365 548l2 1M184 309l-8 2M160 447l1 6M497 515l-3 3M264 562l4 2M229 584l-2 7M239 397l1 7M260 316l-5 1M553 635l-1 8M484 412l1 3M501 642l-1 3M70 335l6 0M212 399l-1 6M498 452l3 5M104 473l4 1M424 602l-4 1M443 366l3 7M289 520l1 2M452 584l-6 1M371 445l-0 2M148 313l0 3M319 512l5 2M38 564l-5 6M548 602l-2 6M121 573l-3 1M143 316l5 1M264 622l-1 2M263 310l-3 7M85 329l-6 4M328 296l1 4M281 528l-6 4M253 415l-2 6M546 441l3 1M416 441l2 1M263 440l-3 1M433 527l-4 1M374 482l-1 5M403 479l-0 4M361 378l-5 5M195 419l-2 3M362 639l-7 2M153 313l1 3M383 476l2 0M451 521l3 2M438 549l4 0M242 515l4 2M270 366l-6 1M77 440l-7 2M245 640l-1 7M149 307l5 1M550 334l2 2M464 309l-1 3M43 298l-4 2M74 362l2 6M395 600l-4 0M397 377l-7 1M127 592l2 7M155 513l4 1M242 622l3 4M245 516l-3 4M456 635l1 4M437 582l3 6M136 471l-3 3M239 307l2 1M271 438l3 3M229 525l2 5M207 570l-3 4M41 417l0 3M554 649l5 2M430 524l-2 7M435 326l-1 3M242 525l1 4M188 646l2 3M470 320l2 4M270 303l6 2M367 601l3 2M374 554l6 3M369 441l2 6M508 335l-6 2M341 382l-4 1M436 536l-2 3M360 514l-8 2M461 531l-3 2M377 419l2 3M231 347l7 1M318 468l0 3M183 393l4 5M299 329l1 3M308 360l5 2M330 421l1 7M129 363l-1 3M220 436l-2 4M151 644l-3 1M270 480l3 4M509 315l0 2M321 341l1 7M234 587l-3 5M544 337l-1 4M387 536l1 2M419 656l-7 0M154 461l1 2M145 295l3 4M483 513l-1 3M154 624l6 2M140 466l2 6M66 579l-6 0M87 596l5 4M227 630l0 6M318 438l-2 4M364 367l4 2M276 298l-0 2M309 531l-2 5M93 614l-6 3M34 500l1 3M343 516l-0 5M501 378l3 2M96 316l2 3M406 319l-1 7M313 504l1 4M401 441l-3 5M99 645l-1 2M165 468l6 1M244 570l-4 6M126 420l-2 5M314 514l-3 0M292 455l-2 4M70 366l1 4M381 467l5 3M256 352l4 4M515 449l-4 5M114 638l3 2M159 408l-3 3M523 427l-3 6M311 500l5 5M52 375l-1 6M175 419l1 4M390 549l5 4M84 654l-1 6M393 459l-6 1M83 489l-1 5M441 483l4 3M136 449l-2 1M160 409l3 4M242 320l-2 6M276 527l-4 2M75 462l-2 1M360 342l7 2M395 522l-5 6M431 445l1 6M516 525l-3 6M558 496l-2 3M133 578l-1 2M534 570l6 0M314 325l2 8M280 290l3 5M280 488l1 5M306 419l3 4M177 636l1 2M50 338l-2 2M475 572l-4 5M216 455l3 4M247 375l2 4M542 473l3 6M304 453l-2 5M504 593l1 7M479 354l2 8M46 559l-1 3M140 293l0 5M104 450l2 2M167 624l6 5M402 528l0 4M538 388l-5 0M399 343l4 3M339 656l-3 3M411 361l-1 4M334 422l-2 2M201 326l3 1M465 607l-3 1M482 659l-6 2M228 390l3 4M207 457l-2 3M429 377l-3 4M476 443l-1 3M349 499l-2 6M123 321l5 5M323 316l-4 4M528 361l7 2M88 606l4 0M477 323l-5 3M547 550l-3 7M54 443l1 7M504 351l7 0M284 330l-1 5M86 573l2 7M106 460l-2 3M89 358l2 4M129 618l2 2M204 421l1 2M30 581l7 4M33 580l2 2M77 559l-4 4M401 335l5 3M495 537l1 3M245 482l-4 4M295 601l-3 5M289 618l-4 3M493 535l3 5M57 305l3 2M315 575l-2 2M518 420l-4 4M88 487l-1 6M509 437l0 8M364 426l3 0M302 433l-5 4M288 634l3 3M108 372l5 4M180 321l-1 8M499 419l6 3M123 415l-3 2M384 432l3 0M242 510l4 2M455 519l2 2M220 384l4 1M556 641l-0 7M419 296l-7 2M64 327l-4 2M508 562l1 6M129 490l6 1M169 435l1 5M405 450l-5 0M266 298l2 5M237 368l-4 2M54 320l-1 7M75 504l-1 4M384 645l-5 2M268 473l7 2M157 439l-2 1M219 418l-6 4M225 375l2 1M326 296l-6 2M301 451l-2 5M223 376l2 1M435 444l1 4M77 599l-4 4M315 615l4 4M198 584l1 6M350 530l4 2M492 416l-3 0M398 642l-1 1M61 415l-4 3M267 341l2 1M312 334l6 4M90 464l2 7M89 569l-1 4M215 407l-6 4M142 302l-6 4M386 528l-3 3M126 379l7 2M198 312l-5 2M514 601l-3 6M539 400l3 1M302 370l3 3M259 608l-4 0M135 558l5 3M422 596l8 0M302 406l4 4M394 559l-6 0M531 442l3 0M259 429l-0 4M77 608l-6 1M385 657l3 5M276 359l-0 2M448 404l-0 3M450 550l-2 2M329 317l1 2M153 658l5 2M536 343l-7 3M415 657l-4 3M164 586l7 1M457 298l-1 5M447 526l0 4M552 627l3 2M542 519l-6 1M557 585l1 4M286 605l5 0M273 512l-0 6M419 401l3 3M356 654l-3 5M312 495l6 1M187 530l-3 3M196 603l-4 1M359 416l-3 1M486 522l5 6M287 343l2 5M302 419l4 4M71 305l1 2M91 473l6 4M408 475l-5 0M59 567l-5 2M229 294l-2 3M383 318l6 3M448 437l2 5M307 601l-3 2M274 642l2 2M40 646l-5 5M476 510l-4 1M392 501l2 1M268 398l2 3M446 534l4 3M539 329l4 6M541 573l0 3M46 493l-4 3M69 352l3 0M501 612l-5 0M284 490l-1 3M245 636l-3 2M495 482l0 5M447 314l-3 2M277 387l-3 1M307 535l-1 2M141 293l3 4M94 584l-3 2M295 610l6 2M384 531l1 7M92 480l-2 2M365 436l-0 3M550 464l-2 5M417 408l-2 3M442 583l-2 2M326 543l1 3M465 620l2 5M113 444l3 6M328 648l-2 1M76 363l2 7M331 377l5 5M419 472l1 2M560 416l-3 7M528 524l1 4M366 592l1 7M72 472l-6 2M204 315l-3 1M263 400l-2 3M226 475l3 6M404 482l5 4M195 422l-2 1M286 421l-4 3M320 346l-5 0M269 616l4 2M503 498l-4 5M414 397l2 3M194 636l3 4M246 494l3 0M314 502l6 3M392 397l0 6M498 357l-2 2M369 457l-5 3M102 522l2 1M102 489l4 1M106 480l-3 4M287 347l0 7M428 504l-4 5M425 442l-0 4M85 447l7 3M163 425l6 1M559 537l-4 2M84 591l4 5M444 431l2 0M242 469l2 2M321 478l-5 0M324 311l4 3M84 413l4 0M120 497l-7 0M504 337l-7 0M472 502l4 4M560 499l2 0M329 534l7 2M113 448l3 4M256 324l-2 2M546 533l2 7M470 307l4 5M388 631l-0 5M74 316l8 0M408 422l1 6M237 581l4 2M71 551l-4 3M130 441l2 1M248 493l-1 7M425 329l-7 1M89 525l2 3M558 315l4 6M324 452l6 2M182 582l6 4M89 483l-2 2M524 635l-2 0M485 521l3 5M518 439l1 1M187 429l2 1M543 432l-1 7M298 580l-7 2M271 436l-6 3M379 325l-1 2M122 544l-1 3M340 575l7 1M519 491l-2 6M288 556l-6 3M248 598l2 1M259 434l-1 8M337 651l-3 1M283 614l1 1M494 533l-4 5M435 592l-1 7M343 469l-3 0M170 401l-1 3M253 463l-4 6M241 370l-4 3M257 326l-5 1M133 294l-2 2M340 481l-6 2M324 325l-2 1M267 421l-3 6M87 424l-5 2M153 302l1 7M203 573l1 6M553 547l-3 2M524 425l-7 3M310 642l3 2M240 611l-3 1M89 569l3 4M535 384l-2 6M385 610l1 1M405 380l1 5M344 646l-5 5M42 471l-6 2M239 325l-7 3M490 546l6 4M144 303l5 2M250 462l-1 4M493 343l4 2M504 302l-6 1M376 468l5 1M379 485l4 1M504 459l-3 1M307 493l2 7M68 578l-6 3M342 430l5 3M284 441l2 1M417 638l-0 5M469 500l3 1M84 381l1 3M552 361l-0 4M497 361l-2 3M547 483l5 1M244 422l-0 6M53 480l6 5M371 374l-1 8M516 346l-3 4M559 536l2 3M535 535l-5 3M206 387l-4 3M291 627l-8 0M467 370l4 0M520 508l2 3M109 423l-3 7M146 301l-0 2M126 299l-3 2M257 582l-7 1M367 466l-2 4M378 404l-2 0M318 440l2 4M77 296l-0 5M300 464l-5 2M398 428l1 2M208 393l2 7M393 421l-3 1M40 380l-0 3M151 298l-0 2M414 613l2 1M445 321l-3 5M548 562l-2 3M134 470l-1 2M461 522l-0 4M349 568l3 2M417 584l-6 2M473 556l4 4M159 508l6 1M244 449l4 4M477 450l3 4M134 650l-4 6M60 589l-6 4M238 489l6 5M299 300l3 3M101 655l3 2M486 482l5 2M442 578l-6 5M303 533l4 2M344 613l0 6M457 342l-0 2M459 413l2 2M521 390l1 6M385 503l0 2M385 508l-2 1M450 477l6 0M524 382l-5 1M525 390l6 5M275 367l4 4M535 502l-1 3M286 323l-5 5M232 432l2 2M319 345l-3 1M519 650l3 7M335 330l3 5M299 499l5 5M381 657l-2 7M258 482l3 5M304 641l7 1M190 515l3 1M252 519l3 4M229 619l4 4M91 640l3 6M227 300l1 3M439 331l-1 6M348 361l3 2M455 512l3 1M249 309l2 1M318 443l2 1M519 547l-1 7M174 478l1 7M202 454l2 1M260 390l3 1M103 492l-3 1M174 464l-0 4M441 307l2 4M140 636l-2 6M552 627l2 1M282 305l-5 3M114 455l-1 2M46 335l4 0M294 321l-1 6M114 653l6 5M328 628l-1 3M119 300l-1 4M113 426l0 2M165 631l-5 4M553 403l-7 1M417 298l-2 2M214 525l-2 1M387 483l-2 0M41 531l-5 0M128 491l-3 5M191 480l-1 3M315 376l3 4M289 475l2 2M61 380l1 3M312 532l-3 5M265 393l-2 2M563 629l-2 3M451 585l4 1M257 462l-6 5M381 543l3 3M170 485l5 4M550 396l4 2M290 321l2 4M359 558l3 1M278 506l3 0M291 361l-5 5M256 353l3 2M186 471l1 7M233 477l3 2M462 358l-5 1M304 359l2 5M511 605l-3 3M304 640l-5 4M376 379l4 2M499 510l-6 2M435 493l-2 3M84 633l3 6M365 481l-3 3M375 495l0 4M153 463l-5 3M429 549l-2 5M62 366l-1 6M397 531l-1 2M269 481l-5 3M50 627l5 5M44 552l4 0M156 464l1 6M307 577l-5 2M144 316l-1 7M60 429l-1 3M307 468l6 2M349 433l-7 4M371 535l-4 1M418 581l6 2M170 316l8 0M497 628l1 7M328 657l-3 5M547 330l-7 1M80 311l-5 0M247 489l-0 4M85 535l-4 5M535 545l-8 0M452 352l1 3M493 603l-4 3M325 439l3 4M208 345l-1 2M271 485l-0 5M352 425l-0 3M515 548l1 2M350 655l-1 4M182 499l2 1M97 413l2 2M523 516l-0 4M398 543l-1 7M309 299l-3 6M436 647l-2 2M302 544l-1 2M79 445l2 6M197 422l2 6M360 371l3 5M163 394l3 6M366 471l-5 1M35 297l2 6M180 318l5 5M405 294l-0 2M348 324l-6 1M401 657l-2 2M343 460l1 2M233 503l6 4M61 658l-2 7M322 553l3 1M377 487l3 4M402 470l3 4M312 626l1 2M300 451l-7 2M494 537l-2 2M113 613l3 4M202 562l-1 2M281 429l-8 0M185 473l2 2M522 575l-1 3M323 484l2 0M86 310l-6 2M248 588l-6 2M213 592l-7 1M232 629l-6 5M320 542l-0 2M427 560l-6 1M430 529l1 4M204 294l2 5M414 454l-7 3M272 316l-6 1M100 587l-0 3M460 550l-2 4M167 315l-6 1M495 501l6 3M97 310l4 2M498 356l-0 4M75 388l-0 3M41 378l3 2M310 543l-2 2M121 404l-1 6M247 610l7 3M276 330l4 5M426 426l-2 0M281 476l4 2M278 349l-7 3M426 570l5 1M141 491l3 0M318 544l1 2M274 572l4 3M523 581l-3 2M477 608l7 1M485 304l4 3M423 610l-2 2M410 501l-6 0M391 464l2 6M371 621l-7 4M368 452l3 7M250 514l-3 7M360 536l-3 2M439 465l5 2M91 312l-6 0M440 420l-4 2M167 325l-7 2M393 419l-1 5M401 544l2 3M422 311l1 4M363 337l4 1M214 460l1 2M251 425l1 2M502 413l-2 3M328 481l1 5M268 484l0 3M362 423l1 3M211 457l-2 0M448 404l2 1M374 489l3 3M447 438l2 2M72 466l-4 5M305 390l1 6M563 446l-7 3M376 449l4 2M558 442l-3 3M195 449l0 8M439 338l-3 0M263 512l-4 3M550 418l4 2M129 423l4 5M406 557l6 1M215 475l3 2M498 394l-2 1M275 446l6 0M194 464l2 6M189 473l-2 2M207 484l-1 4M127 617l3 2M435 564l-8 0M87 641l-1 3M171 492l2 7M100 474l-1 8M506 437l-7 2M150 432l-3 1M204 304l-6 1M58 592l6 1M172 551l1 4M265 510l-5 4M346 454l2 5M107 533l0 6M291 479l-4 1M548 395l2 2M41 403l-4 1M121 341l5 2M550 533l-4 7M537 427l6 4M219 353l-2 1M350 453l5 1M142 559l-3 1M454 616l-4 3M304 630l8 1M338 317l7 3M301 566l-4 4M357 433l-3 5M160 451l3 1M540 350l4 2M69 491l5 2M232 594l5 1M447 408l2 7M381 461l-1 5M467 382l0 4M490 351l-3 1M59 455l0 2M163 355l-4 4M34 571l2 7M490 415l5 4M67 424l1 2M79 406l4 2M552 618l-1 2M297 648l4 4M355 554l1 2M277 646l1 6M127 516l3 1M127 369l5 5M351 582l-0 4M423 572l-3 7M451 491l1 8M218 494l-3 2M299 603l-5 0M296 593l-0 2M445 327l1 5M262 508l3 6M300 462l6 1M388 467l-2 8M401 490l2 0M514 384l5 5M535 505l-5 5M514 462l6 3M73 489l4 2M327 463l2 4M507 556l7 0M396 314l-1 3M349 292l3 2M175 451l4 1M196 395l-2 4M522 384l-3 0M114 336l-7 3M173 424l-3 3M232 575l1 4M66 343l-4 2M371 415l-6 5M69 345l6 0M294 441l3 2M42 598l-1 4M312 418l5 2M422 305l-2 1M479 342l4 1M540 550l6 1M176 294l-6 2M264 597l-4 5M324 513l6 3M522 400l2 2M102 568l1 3M403 309l6 2M494 657l2 0M378 452l-7 4M295 322l-3 6M436 306l0 5M473 559l-3 2M188 406l4 4M112 375l2 2M75 603l-4 7M294 305l-2 3M490 363l-8 1M400 423l3 2M464 358l-3 4M88 511l-4 1M303 404l4 2M516 416l-6 4M517 543l-3 0M509 353l4 4M127 324l-1 4M261 440l-5 0M463 525l7 1M545 611l4 3M519 585l3 0M192 426l-5 4M409 291l0 2M479 653l5 1M305 592l5 5M291 592l-2 6M241 391l-2 1M265 630l2 0M328 490l5 3M479 539l-3 2M422 657l1 2M123 500l-3 2M39 620l-3 2M294 365l-4 2M463 362l-6 2M430 293l-1 3M55 299l6 0M124 435l2 1M246 584l2 8M309 640l0 8M416 313l0 5M306 368l4 5M488 390l-3 1M556 412l2 1M259 552l-5 2M300 322l6 4M453 363l-5 5M174 460l-2 1M291 602l4 4M373 511l4 0M488 417l-8 1M285 515l-0 5M388 507l5 4M553 562l-2 3M76 556l-4 6M469 530l-7 2M237 314l3 0M160 397l-7 1M233 467l4 3M299 460l-1 2M265 488l5 1M237 531l0 2M75 337l-4 0M182 532l1 2M405 324l4 3M89 522l4 5M291 516l-3 5M288 410l4 3M143 467l-5 5M461 368l-0 5M233 598l-4 5M47 630l1 5M490 643l-5 2M541 356l-2 7M408 368l-2 1M288 367l5 3M351 537l2 2M450 404l-3 2M551 542l-1 2M52 352l3 5M382 427l3 3M529 656l2 7M540 649l1 6M406 507l-3 7M529 342l2 0M380 480l3 1M433 307l-6 0M550 400l3 5M420 600l4 1M402 497l-3 4M64 302l0 2M543 425l-3 1M249 295l-5 5M164 452l5 2M241 468l-4 2M312 637l4 7M418 604l1 3M412 304l-4 3M158 476l-5 0M168 308l-6 1M360 449l-4 5M286 475l-4 1M285 462l-4 2M427 575l3 2M347 302l-5 0M204 487l-4 5M55 420l-2 3M42 293l4 1M440 394l3 1M379 632l-6 4M127 480l8 2M48 551l1 6M331 579l2 2M288 439l3 7M60 358l3 2M274 385l2 2M534 301l-1 6M210 536l3 1M320 599l-6 4M176 554l-3 6M266 463l3 2M385 372l-0 4M41 439l3 6M147 469l-2 3M431 492l-3 7M74 401l-5 2M403 507l2 0M293 428l-5 4M126 293l-3 0M37 445l-4 0M271 581l4 0M555 400l3 3M55 317l1 4M152 327l2 5M197 603l-0 3M266 544l3 1M406 528l7 3M357 481l-5 4M541 325l2 5M317 509l6 2M88 462l2 1M183 475l4 2M60 400l-3 1M53 358l-5 6M114 516l6 2M70 443l-2 4M523 375l-1 4M359 424l3 5M254 591l5 1M206 549l4 3M65 543l5 2M140 382l3 7M324 386l-7 1M126 472l-7 2M523 501l-4 5M337 545l-2 2M513 466l-2 4M301 393l-7 2M484 388l1 7M352 439l5 2M262 604l1 8M342 464l2 4M226 383l2 2M158 547l-5 0M234 615l-6 1M543 299l-0 4M258 316l2 1M538 489l-3 1M527 362l3 3M319 651l-2 4M87 509l1 5M138 486l-4 0M551 494l-3 4M394 612l-1 7M476 524l4 2M108 406l-5 4M287 438l-1 4M509 419l5 5M331 631l6 2M111 604l4 6M560 537l2 0M286 439l-5 1M298 538l5 1M357 457l-0 5M176 373l5 5M462 430l-2 2M366 364l-2 8M178 658l4 5M539 635l1 5M518 428l7 2M551 430l-6 3M212 461l-2 2M304 301l4 5M274 501l3 2M303 401l6 0M55 393l-6 2M38 600l-3 2M324 387l0 2M468 448l5 4M393 496l1 4M84 416l2 7M500 313l2 3M421 361l-1 3M487 441l1 3M375 352l5 5M267 475l-3 5M376 316l2 4M145 320l2 2M512 492l-3 1M47 538l-5 3M350 485l4 4M405 487l-7 0M204 652l2 2M353 336l0 8M325 552l-3 7M303 361l2 3M533 334l3 2M81 315l-1 4M300 481l2 0M172 468l-2 1M427 583l-3 2M114 562l-4 0M86 365l-3 1M434 391l7 1M123 408l-1 5M270 415l-4 2M59 618l-7 0M262 369l2 2M264 611l6 2M352 491l-2 5M488 632l1 6M216 487l1 6M331 370l-4 6M307 317l2 5M151 338l3 3M508 654l-2 4M529 556l2 2M231 462l2 2M306 591l4 4M283 456l-3 5M531 500l-1 4M423 523l8 1M458 397l-8 1M275 513l1 2M301 566l2 3M237 602l-6 1M144 497l2 2M291 612l1 3M456 311l5 1M414 428l-4 2M257 375l-5 2M197 410l3 2M353 446l-2 3M100 499l0 4M64 543l-5 0M124 533l4 0M481 383l-3 0M526 600l-3 1M544 303l0 6M342 449l2 1M240 450l2 6M531 322l-6 4M175 513l1 2M359 547l-3 2M346 486l-3 2M228 468l7 1M296 591l-3 5M455 370l-1 2M362 458l-1 7M194 394l-4 6M334 472l-6 5M424 294l0 3M45 372l2 7M66 490l-6 3M336 547l7 0M206 633l-1 3M353 491l6 3M490 475l-2 6M182 350l-3 1M336 302l2 7M394 654l-2 3M247 399l-5 2M447 501l-5 4M300 355l-3 7M58 441l-8 1M225 568l1 1M387 445l-2 0M366 498l-4 2M44 311l-3 3M535 449l-5 6M76 313l4 1M522 403l-3 0M430 612l3 3M437 585l-5 1M368 405l-2 5M480 452l5 2M271 338l6 3M506 513l3 1M441 393l3 0M407 626l-1 6M280 520l-4 3M306 377l-1 4M380 555l3 2M374 365l1 6M464 367l6 0M460 456l3 0M48 430l7 3M319 306l-3 1M277 593l2 1M558 356l-1 8M533 431l3 1M262 426l-4 0M398 479l-7 3M318 531l5 2M477 390l3 4M300 649l2 7M147 554l-7 1M312 583l-7 4M182 613l-1 5M114 391l-6 0M302 634l2 7M234 480l2 5M250 563l-0 4M400 481l-6 4M322 451l-1 5M333 332l-3 2M460 484l-2 4M265 606l-3 2M436 572l8 0M286 495l1 4M510 443l7 3M253 400l2 6M470 393l-1 4M48 397l3 0M263 659l-2 2M319 555l-2 3M496 448l4 5M423 553l2 1M263 624l1 3M466 545l2 1M343 445l2 3M321 305l-3 5M221 514l2 2M279 595l3 3M270 461l4 7M176 303l4 5M557 466l-2 2M150 315l-2 5M398 521l-6 1M252 455l-2 2M493 377l4 0M71 519l3 5M547 441l4 1M211 488l-1 6M190 432l-7 2M455 618l-7 2M245 648l-4 3M61 549l-3 0M254 339l-5 1M286 450l5 5M53 447l-1 5M273 519l1 8M541 306l-1 2M163 497l-0 5M164 400l3 1M514 536l5 3M336 437l6 1M293 531l5 1M417 428l-2 4M378 588l-2 2M533 501l4 1M54 649l-6 5M358 443l-1 4M253 599l-6 1M312 648l2 3M296 467l-3 5M36 369l-2 3M351 304l-5 3M286 584l4 3M479 344l1 6M279 427l5 4M526 396l-3 1M236 392l0 8M248 566l-6 5M560 544l1 7M290 483l3 5M264 361l2 3M433 332l3 5M61 575l2 2M244 347l4 1M553 338l-3 3M190 601l2 1M166 317l3 2M498 468l-3 5M465 361l-4 3M440 399l1 2M339 599l-2 5M57 321l6 4M380 421l-3 4M301 544l4 5M527 359l6 2M177 578l3 4M341 324l2 1M516 365l3 5M169 466l-2 3M546 410l5 1M469 302l2 4M520 443l5 4M547 410l5 3M429 605l5 3M546 364l3 3M356 636l0 3M71 429l-1 5M290 411l4 0M147 439l3 0M275 293l4 2M308 564l5 1M460 416l-3 2M287 417l-4 0M501 314l-4 3M39 333l0 5M197 460l-1 6M482 369l-6 2M167 633l-1 4M418 626l-0 2M319 304l2 6M561 648l-3 6M154 344l-6 4M464 440l1 3M319 621l-3 1M531 434l3 1M542 311l3 3M384 331l5 3M195 477l6 1M466 428l1 4M365 507l-0 4M495 393l4 2M382 291l4 3M449 296l-4 7M213 296l-5 2M393 403l1 2M361 482l6 3M438 540l5 1M421 420l4 1M181 578l-2 5M210 471l-3 5M46 318l4 3M260 657l4 3M562 385l1 3M112 463l-0 6M342 460l4 7M287 421l2 0M522 574l2 2M323 570l2 3M466 606l2 0M351 512l-2 3M156 488l7 1M541 612l5 4M109 309l2 0M378 306l7 2M56 381l-2 1M232 315l-0 6M531 295l1 2M54 573l-2 2M114 296l2 5M435 325l7 2M129 295l5 3M404 484l4 6M68 454l3 4M397 539l-3 1M87 302l-0 4M238 474l-6 3M404 409l1 3M213 444l-1 7M445 462l-5 2M43 521l-4 5M356 412l-1 4M285 607l-2 3M419 628l-3 1M95 560l2 2M551 328l-4 3M148 486l1 6M54 543l-4 4M355 436l6 4M527 445l-5 3M412 589l1 3M451 652l-2 2M522 368l-3 1M315 454l3 2M159 291l-0 6M425 507l4 2M236 371l6 4M400 335l-4 1M57 508l4 0M467 452l-3 2M174 429l3 6M169 292l0 2M369 645l4 1M130 517l2 1M414 484l-6 4M67 468l3 0M446 500l3 4M386 319l-3 7M340 429l1 2M360 364l-1 3M550 649l-4 1M269 493l-6 1M131 586l3 1M247 627l1 5M104 317l-4 2M173 448l5 0M61 561l-2 5M482 476l2 2M526 484l0 2M470 535l-3 4M500 606l4 5M339 578l-2 2M298 458l3 1M330 640l3 4M341 423l4 1M394 645l-5 4M268 556l3 8M363 618l-3 7M273 598l5 4M449 554l-5 0M433 436l7 1M35 389l-1 5M363 558l-6 0M468 640l-1 4M523 420l-4 5M258 385l-1 4M228 512l3 3M306 607l-2 6M483 301l-7 3M200 430l2 0M87 503l5 3M68 320l-4 0M324 607l0 3M110 329l6 2M531 344l2 3M309 479l2 0M543 412l7 1M302 431l6 4M480 640l1 6M73 442l-4 5M434 659l6 3M208 488l1 6M504 355l-4 4M334 391l1 6M411 572l3 6M411 538l-3 3M550 387l-6 1M537 357l2 1M253 345l0 8M280 613l-3 1M255 600l-2 5M190 431l-4 4M341 534l4 1M496 596l3 4M459 295l-1 6M486 524l-4 3M154 439l-1 3M304 297l4 1M265 569l-0 5M287 394l6 4M199 468l1 2M404 375l-4 0M53 355l-1 3M272 437l-2 2M468 337l-3 2M459 576l-1 4M462 483l-2 2M274 494l-6 3M168 614l0 3M346 518l1 4M171 604l2 3M198 486l-2 2M550 448l-2 7M440 579l1 7M321 437l6 5M115 472l4 2M375 635l-2 4M493 454l-6 1M298 658l-5 7M279 534l-7 4M424 410l0 7M378 379l-3 1M229 522l2 2M371 323l6 3M289 398l4 6M88 291l4 7M557 570l1 2M521 505l-5 2M412 474l-4 4M522 405l0 3M469 423l4 0M463 490l-0 3M527 295l-1 2M263 289l-0 8M530 522l4 2M269 479l7 1M177 425l2 4M536 350l-1 2M472 636l3 5M154 539l-7 4M393 490l-3 4M104 395l7 2M390 616l-8 0M102 294l-7 4M277 504l1 3M354 300l2 1M161 320l-5 0M206 307l-3 6M182 555l4 0M179 325l-5 5M68 297l2 1M455 454l0 6M271 424l1 5M286 542l-5 5M107 330l-3 0M124 482l3 7M552 651l-0 3M447 628l-3 5M314 337l-7 0M77 315l-3 3M493 404l6 0M457 568l-1 5M465 365l1 5M231 418l-2 2M518 403l-3 4M159 291l1 7M39 438l5 3M189 304l0 3M320 559l-1 8M539 575l2 0M324 300l-0 6M446 458l3 4M304 322l-1 3M350 520l-4 3M105 429l5 3M340 543l5 1M357 561l-0 8M335 650l7 4M340 661l-5 0M289 454l-3 7M450 642l4 5M427 311l-4 0M168 602l2 1M396 468l-3 5M58 295l2 7M47 308l-6 3M295 462l-5 4M275 333l2 1M502 436l1 7M115 542l-3 3M70 390l-2 4M192 456l3 2M466 307l-6 1M158 317l6 3M262 485l-0 4M517 397l-4 0M472 588l6 4M254 497l7 1M252 488l-3 4M305 556l2 2M242 413l-3 3" stroke="#9a9a9a" stroke-opacity="0.5" stroke-width="1" fill="none"/><path d="M201 376l-2 2M555 437l-4 4M161 549l-2 7M398 508l2 0M255 582l-2 5M233 296l2 1M500 558l-2 6M295 519l4 0M498 433l4 2M333 528l-2 2M316 528l2 1M521 337l4 1M321 583l-7 3M269 615l-4 4M370 483l3 4M177 476l3 0M456 439l2 4M447 299l-2 3M278 572l-0 5M319 510l3 4M351 424l-1 6M109 444l-3 5M38 387l2 1M323 524l4 3M402 395l-3 3M535 586l-0 5M271 380l2 7M466 322l6 2M535 646l-1 4M326 323l4 1M107 365l0 6M202 580l-1 8M104 468l4 1M324 314l-2 2M413 582l5 2M190 560l1 3M275 407l-2 2M97 544l-0 6M73 625l-1 5M456 322l5 5M335 614l3 0M451 380l4 1M461 468l-4 4M491 367l-1 2M521 555l4 2M285 546l3 4M387 345l-2 3M536 612l6 2M364 520l3 3M142 438l3 2M291 417l-4 5M271 599l-7 3M388 392l5 1M39 341l-0 6M101 404l4 2M218 449l1 5M45 354l-1 5M467 316l-7 3M383 626l3 5M529 345l-5 6M134 465l-2 0M451 344l2 2M87 454l7 2M262 296l-2 4M282 336l-3 7M197 294l-2 3M271 314l1 4M160 441l5 5M387 348l-0 3M284 617l1 3M372 605l4 1M533 498l2 7M176 513l-2 2M232 407l-2 2M227 401l3 5M81 410l7 4M285 302l-2 4M272 471l6 2M118 359l3 7M172 382l4 4M184 499l2 0M250 415l-2 1M561 433l-5 4M523 476l-1 4M278 359l4 0M243 475l5 1M294 467l5 6M293 467l-0 7M541 533l-3 5M524 529l6 2M155 519l1 3M401 639l-7 2M451 628l0 5M79 498l2 5M288 508l7 3M264 457l2 6M365 492l-0 6M316 654l6 0M218 449l-4 2M315 300l5 3M211 615l3 4M150 518l4 7M505 355l-4 4M402 409l-1 4M400 475l-0 4M511 539l-1 5M238 488l-2 0M286 306l7 3M159 530l6 3M489 417l5 2M213 292l1 2M284 479l-4 1M258 603l-2 3M546 312l0 2M277 478l-4 1M335 349l-3 0M58 478l-5 1M305 376l-4 2M84 477l-7 4M170 408l-7 2M190 409l4 1M478 490l8 1M116 483l-1 7M491 479l2 3M253 441l1 5M319 427l-1 2M48 466l3 7M101 292l5 6M311 304l4 1M128 433l5 2M441 478l-3 4M284 469l-6 4M278 623l1 2M364 512l-0 8M422 299l0 3M417 601l-4 3M516 553l-4 0M157 373l0 2M316 310l7 2M320 430l4 2M461 371l-2 2M269 342l-7 1M364 497l-4 0M342 530l2 1M350 521l3 5M313 486l-3 1M359 493l1 3M306 416l4 2M269 494l7 2M320 463l-2 6M211 480l6 5M262 542l5 5M454 634l-5 1M420 380l-1 2M156 312l1 2M562 520l-3 4M97 374l-2 1M273 456l-3 2M486 493l1 5M420 348l2 4M515 635l5 1M333 436l0 8M40 560l-2 1M542 458l-4 1M208 314l-6 2M367 429l-3 4M380 484l1 6M314 292l2 6M186 437l2 0M319 639l6 2M447 395l4 6M369 431l-4 5M283 294l-3 0M348 638l-7 3M303 429l-4 4M161 430l1 5M231 577l8 2M222 399l2 2M333 354l1 2M414 519l3 1M344 438l-2 2M78 521l1 5M82 629l4 1M36 367l-2 4M217 634l-1 4M361 518l-5 0M539 559l2 1M393 517l1 2M312 310l1 5M414 370l2 0M142 409l7 2M200 568l1 2M263 585l-6 5M365 476l-3 2M555 342l3 1M83 442l-3 1M156 583l1 4M360 462l-5 2M531 528l4 1M345 547l2 5M427 456l-0 7M396 363l-4 1M350 467l6 4M447 299l5 6M300 338l1 2M216 447l-1 2M357 479l1 3M329 381l-1 8M81 479l5 3M268 602l-3 0M86 565l3 6M283 460l4 2M45 329l-4 5M361 419l-5 5M69 482l4 4M214 496l-5 4M274 391l3 1M390 584l3 4M444 557l-2 2M260 617l4 6M344 521l2 3M129 494l-3 1M271 545l4 2M166 574l3 4M423 607l-2 3M465 487l-3 6M59 426l-3 2M35 489l2 3M98 539l-5 2M316 484l4 1M518 298l-2 2M103 356l-3 1M521 592l7 0M520 496l-1 6M430 537l4 2M485 390l4 2M179 392l-3 5M84 648l1 3M269 368l1 3M221 346l-0 4M227 613l3 7M415 435l-1 3M279 375l3 6M275 465l3 2M81 343l-3 4M261 548l0 6M219 480l5 0M70 332l-1 3M231 489l-7 3M499 475l6 5M68 443l5 2M150 344l0 4M445 496l1 2M428 509l4 3M253 551l-6 2M532 482l-1 5M477 389l2 6M349 465l3 5M192 644l3 3M444 354l-3 2M337 536l1 5M317 538l-1 6M457 614l-4 0M534 324l-1 2M330 520l4 6M68 372l-4 6M295 332l-6 1M299 523l-3 5M137 319l-7 2M235 324l-2 2M95 581l-2 4M175 296l5 4M207 339l0 4M371 525l2 1M428 373l-5 0M155 525l3 3M280 307l-2 1M425 562l-4 4M295 352l4 2M103 350l3 4M319 488l4 5M480 441l3 6M488 522l4 6M133 308l-7 0M177 465l2 6M267 313l-0 2M458 424l-5 5M370 396l5 5M372 415l-3 3M106 296l-4 0M173 338l3 5M386 326l5 4M339 501l-3 2M444 407l1 5M95 298l0 3M310 348l-7 1M37 579l6 3M68 400l6 2M476 447l-2 4M75 658l-4 6M105 441l-2 5M190 295l-4 4M306 367l3 3M135 653l-4 4M370 487l7 2M484 352l-4 0M385 591l1 3M165 538l-5 5M522 541l-5 4M450 604l-1 3M110 505l2 4M101 524l-6 4M431 319l4 3M521 569l5 1M201 330l-6 5M70 590l-1 6M322 308l-6 1M70 641l4 1M176 367l-2 1M153 609l3 6M265 400l4 5M168 303l-6 0M498 305l-3 5M409 318l-2 2M415 619l3 1M309 323l-3 7M439 607l-1 2M540 424l5 3M496 435l6 4M34 397l5 5M471 325l4 4M369 607l-3 2M333 548l2 4M82 541l-6 2M480 478l-5 0M517 584l5 1M521 434l-7 0M275 520l0 2M232 415l-3 2M73 490l4 2M196 294l6 3M373 423l-2 1M370 512l-2 4M318 529l4 6M167 570l6 5M330 655l3 0M52 483l-5 4M231 448l-0 8M140 593l-4 1M274 366l2 1M517 331l-5 4M519 423l-3 5M273 600l6 3M479 618l4 1M478 423l-2 6M195 470l3 1M78 612l3 0M56 659l3 5M201 295l-4 6M520 415l3 3M52 309l5 1M362 476l2 3M151 419l3 2M237 641l-3 1M332 506l-3 3M483 527l5 2M528 429l7 4M272 481l-7 2M439 402l-0 4M174 441l3 1M64 312l-3 2M536 501l-2 2M56 473l-2 8M449 474l2 6M525 445l2 2M135 308l0 4M260 425l-4 3M310 505l3 3M328 327l-2 8M372 656l-2 1M50 502l-3 1M119 457l2 6M155 492l-6 4M334 343l1 2M243 476l-4 2M90 641l4 6M355 468l-3 0M147 486l6 2M272 516l2 0M563 528l-2 6M68 556l-6 1M341 481l1 5M249 601l3 3M216 621l-4 4M92 647l-1 4M356 631l2 4M520 427l-5 3M309 307l-0 7M552 652l2 3M477 297l-0 3M237 304l2 1M340 595l2 2M472 358l1 3M127 415l5 5M77 544l4 1M352 623l5 6M345 398l0 4M429 507l-5 2M295 490l2 7M176 294l1 2M450 603l2 2M430 343l0 5M179 297l6 3M290 303l-2 3M400 354l-5 4M212 512l-3 7M398 507l-2 2M407 473l3 5M298 489l1 3M428 474l-8 1M304 521l7 1M515 461l-1 5M405 510l-5 6M59 604l3 5M545 352l4 5M32 393l4 1M382 440l-4 4M162 470l7 1M563 332l-2 5M79 308l-6 1M487 370l-2 7M102 543l1 8M376 495l-5 3M378 573l-3 7M399 547l-6 1M66 610l5 5M423 481l5 4M379 519l-4 5M326 531l-6 2M524 514l-4 3M477 636l4 5M214 544l5 1M159 465l1 5M545 443l-7 2M151 597l-7 4M445 357l-4 6M302 548l5 2M78 586l-1 3M246 379l-3 1M57 554l1 8M550 512l4 2M325 562l-5 4M401 513l-6 3M419 460l2 2M330 509l-4 4M444 548l-2 7M447 296l6 0M135 309l-7 2M100 328l6 0M261 566l2 3M290 312l-2 3M497 549l5 3M542 651l-4 1M540 577l-2 1M482 377l3 3M246 322l-1 2M307 462l-7 1M328 543l-5 1M481 450l-0 5M503 383l-2 4M208 482l-4 1M498 653l2 2M224 409l3 5M391 518l-3 2M512 566l-4 2M383 295l-6 2M390 368l-2 4M360 532l5 3M198 550l1 5M52 617l4 1M315 442l-3 5M80 561l3 2M287 482l2 4M104 456l2 1M431 559l5 3M334 537l-4 1M288 553l-1 5M329 611l0 4M525 363l-2 1M355 355l5 4M40 452l-1 8M394 307l2 4M180 492l-2 6M155 455l2 2M122 436l-2 4M100 438l2 7M235 652l-7 2M347 471l6 1M131 548l-4 0M362 466l3 5M486 566l-0 2M435 610l-5 1M333 449l8 1M163 569l-2 2M153 500l-3 0M167 483l3 6M139 317l4 1M249 321l-1 3M456 554l-3 1M535 449l1 5M364 438l-2 3M313 306l-0 7M248 295l2 4M447 397l-1 6M43 535l7 3M465 605l-1 8M187 426l1 4M83 323l-4 7M398 485l6 4M116 612l-2 1M317 578l-3 1M388 356l3 1M310 365l4 6M281 370l-4 5M160 448l-1 4M452 438l-7 1M297 484l2 2M127 626l6 5M240 649l3 1M428 394l4 5M179 531l7 4M312 502l-7 1M214 382l1 4M517 422l2 5M90 517l7 4M58 407l4 2M311 640l-1 5M230 336l-2 5M336 453l-0 3M120 436l2 5M431 525l2 5M371 579l-1 2M334 458l1 4M282 405l5 5M141 572l-3 2M242 593l-1 4M517 361l4 7M76 453l-2 2M287 473l6 5M299 495l2 2M545 642l-7 0M45 650l2 5M368 376l0 6M246 487l3 0M343 649l1 2M307 452l4 1M366 381l-2 3M190 614l-3 2M265 322l-2 5M387 563l4 2M65 303l4 7M298 585l-4 4M151 459l-3 5M553 429l0 4M123 467l-3 1M132 294l7 3M412 601l-1 4M296 595l-5 2M275 467l-4 2M357 642l-2 2M538 647l-3 1M99 549l5 5M58 383l-0 2M272 498l0 6M45 338l5 4M316 444l4 1M53 349l2 5M107 653l-3 4M223 372l-1 7M289 513l3 1M60 334l0 2M233 424l5 5M229 622l-8 1M418 639l-5 2M431 346l-5 2M101 434l1 5M334 450l-1 4M332 373l-6 6M348 498l5 4M493 582l-2 1M139 658l-3 1M106 365l-1 3M462 454l0 7M252 494l7 0M112 653l-4 2M237 545l-5 4M47 322l-3 2M36 418l-5 2M475 595l2 6M177 468l3 1M270 426l2 6M102 606l-6 1M525 333l1 5M36 393l-3 4M452 362l-0 4M432 570l-4 3M237 384l3 3M348 557l3 7M468 570l-4 3M190 448l8 2M74 485l3 2M337 503l-7 1M485 515l-3 6M490 522l0 5M34 481l1 3M175 589l-1 4M113 291l5 1M312 463l5 3M534 408l2 3M281 345l7 1M103 522l-7 1M211 315l-4 0M230 376l4 2M406 388l-1 5M370 622l4 6M511 433l-2 4M140 584l-7 2M539 516l3 5M551 616l-6 2M404 500l3 3M365 458l3 5M159 623l2 2M470 623l-1 7M521 534l2 1M431 587l5 3M497 557l-3 6M427 382l2 0M43 572l1 6M259 602l2 6M402 368l8 1M297 542l2 1M62 624l3 2M373 597l-4 1M298 480l-2 0M92 560l7 1M280 429l2 7M289 490l4 3M342 354l-1 3M261 614l-7 1M69 597l2 3M422 589l3 3M270 593l-2 3M113 516l2 6M159 603l3 1M327 470l2 3M370 494l5 2M156 401l6 5M119 296l3 6M300 443l3 2M463 478l-3 6M453 445l0 6M541 402l-2 3M284 589l-2 2M376 656l-3 5M537 382l-2 4M279 479l3 3M247 587l-6 1M418 486l-1 3M329 439l-2 7M322 463l2 1M315 475l-1 2M75 550l3 6M58 517l-1 3M293 589l5 5M120 470l-6 5M474 465l3 2M50 303l4 2M535 616l-5 1M184 430l-3 0M290 515l-1 6M123 295l-4 3M147 649l1 5M219 499l5 2M526 368l-2 2M62 480l-4 5M78 574l-1 4M325 389l-5 1M300 381l3 0M145 470l-2 5M132 623l2 2M472 450l0 6M273 431l-2 0M483 541l-4 3M46 479l5 2M211 475l-2 6M199 418l-3 7M427 581l-3 5M524 647l3 0M518 375l-8 2M479 652l-6 0M273 633l2 2M184 481l6 1M227 373l6 5M56 603l2 2M267 424l3 1M435 478l1 2M232 352l7 2M359 438l5 2M225 385l3 3M401 359l5 3M233 526l-1 5M412 570l-4 5M517 657l-6 1M509 608l-2 2M411 535l-1 4M259 504l5 5M107 520l-3 3M480 400l-4 1M293 640l-4 3M532 580l3 2M42 301l-4 0M474 600l5 5M232 467l-2 0M104 536l2 3M497 641l-1 7M172 408l5 2M258 594l1 7M404 314l-3 1M340 313l1 2M401 542l-3 1M51 634l5 4M442 488l-4 1M53 293l-5 3M77 572l3 6M58 296l-5 6M423 530l-2 3M506 479l-2 1M128 489l2 3M559 389l-7 4M128 297l-3 4M291 362l-1 4M245 408l-2 7M447 445l-2 2M235 430l1 6M407 510l1 2M445 579l2 5M391 574l1 2M295 567l0 3M278 598l-2 1M347 480l-5 3M263 578l7 3M241 612l-1 5M235 290l4 6M539 650l-1 5M339 301l-6 5M43 421l-5 2M282 458l-3 6M494 481l-4 4M474 509l3 3M184 535l-0 6M553 471l-1 3M266 409l4 4M40 508l4 3M146 464l-3 1M208 419l2 1M285 520l-2 4M133 473l-1 7M399 567l-3 0M133 437l6 0M163 394l4 1M347 434l-5 2M539 623l-2 1M551 398l6 5M310 333l5 4M519 557l-5 1M531 594l8 1M183 355l2 5M438 482l-1 5M479 442l4 3M352 405l2 2M323 428l-1 8M131 421l-6 1M173 529l-4 2M114 526l5 3M291 649l-4 4M157 308l-4 2M234 353l0 7M517 396l2 3M351 466l4 3M179 317l2 1M448 297l6 1M127 543l-4 6M69 632l-2 1M94 559l4 6M61 551l-5 0M453 456l-0 3M172 310l1 6M530 382l4 1M539 391l-3 3M419 516l2 4M209 610l-1 5M517 504l7 4M323 386l-1 4M313 582l-6 1M38 620l-3 5M247 429l6 3M103 578l-3 6M459 656l4 7M142 344l0 5M427 371l-3 4M294 590l-6 2M246 334l-3 3M386 489l2 1M166 657l1 6M541 430l5 4M520 319l-5 3M307 446l1 6M361 457l2 4M217 629l6 0M379 369l-1 5M271 413l-7 1M287 504l-4 4M530 370l-2 2M38 581l-3 5M541 416l2 3M547 386l-3 1M318 365l3 3M482 472l2 4M391 454l-0 4M259 447l7 3M177 394l4 2M46 457l4 1M371 485l-5 0M199 449l6 4M281 454l-3 2M47 322l6 2M529 493l-1 4M224 431l-2 0M289 391l2 5M107 404l1 2M281 544l-2 3M99 320l-1 2M248 337l-0 6M267 391l4 4M261 526l-4 1M74 597l5 5M421 344l-2 1M370 464l5 1M500 544l4 4M508 448l-2 7M390 558l-2 4M362 342l2 3M459 415l-2 6M549 540l-0 3M74 574l-5 2M173 405l-1 2M87 531l1 2M168 641l-3 3M253 510l-1 3M101 522l-4 5M39 321l-4 7M532 634l-7 1M450 653l3 1M50 399l-0 2M398 440l-5 0M83 432l-5 2M193 599l0 4M303 463l-6 3M120 291l6 2M488 325l4 2M386 468l4 2M442 568l2 3M476 332l-3 3M445 372l-5 2M168 587l1 6M328 536l7 3M482 439l-3 4M266 352l-0 7M343 378l4 2M493 318l4 4M439 412l6 4M253 408l-2 3M70 523l2 6M311 455l-6 2M518 346l-1 4M452 381l2 1M387 345l0 4M203 423l1 2M348 544l2 3M462 632l3 3M277 522l-4 5M142 429l-1 5M489 355l-2 2M283 406l-7 2M520 532l2 2M62 601l1 7M135 347l4 6M39 521l-4 1M334 417l-5 1M309 369l-5 2M501 626l-4 5M292 408l-1 2M559 303l6 2M359 499l-6 3M228 329l-4 1M530 363l3 6M383 304l-3 6M408 537l-5 5M242 481l3 0M208 378l6 0M563 534l-2 3M294 591l1 4M484 445l-2 2M521 531l-0 3M368 379l1 2M320 489l-4 6M524 525l-2 7M346 612l2 3M219 538l2 6M89 544l6 1M392 560l5 2M157 623l-4 2M421 425l-5 2M83 640l-2 7M252 362l-4 4M139 649l1 6M42 312l-2 2M255 574l-6 2M169 367l2 3M358 489l-7 4M462 570l-7 1M302 456l3 3M506 412l-1 6M491 592l1 5M471 651l1 2M242 350l3 2M68 356l5 2M237 473l7 4M276 563l7 2M100 593l2 0M525 403l-1 7M101 302l-3 0M358 570l7 1M414 527l-2 4M522 529l-6 2M193 473l2 2M304 448l-3 3M216 535l-4 4M103 456l1 2M335 563l2 6M251 323l0 2M220 328l2 0M351 618l1 3M103 632l-3 4M539 534l1 3M102 447l2 0M363 335l2 4M335 521l1 5M318 387l1 3M89 465l6 2M550 372l6 0M492 580l2 2M386 346l-2 5M244 412l-3 4M227 629l2 5M81 375l2 7M406 455l2 7M477 657l6 4M189 428l3 4M159 301l-1 4M116 629l-5 6M415 575l-2 0M192 586l4 0M511 539l2 4M387 345l1 3M73 454l-3 3M350 504l-0 4M113 478l-2 3M384 425l2 2M510 507l-1 2M545 390l2 4M402 645l-0 7M441 540l-6 4M92 441l-3 2M308 490l-0 4M360 492l3 2M546 292l-5 5M403 365l-3 3M104 429l4 1M433 429l-4 5M448 556l4 5M545 489l-4 4M113 358l6 2M549 659l-3 1M396 635l7 2M467 590l-3 7M347 420l3 3M517 385l-1 2M284 452l3 3M260 317l-2 2M298 318l-3 1M66 420l3 3M327 438l2 1M56 307l-7 0M327 604l2 2M477 506l4 1M41 322l-2 6M208 459l-6 2M366 472l1 2M199 645l-2 1M304 324l-4 2M547 425l6 1M317 441l6 3M226 465l-2 6M258 323l2 6M349 528l3 1M509 391l-5 2M163 305l-5 4M71 358l5 6M86 517l-6 4M524 479l-2 4M395 366l2 6M100 299l-1 7M343 295l-4 5M98 341l1 3M346 586l-5 2M524 454l-2 2M71 658l-2 1M309 357l2 2M192 606l4 1M422 486l5 1M397 470l3 0M137 506l-6 3M545 395l-3 3M243 548l-3 3M375 556l5 3M240 446l2 7M538 326l8 0M110 627l7 0M131 329l1 2M87 466l-3 5M155 479l2 4M106 581l0 2M136 319l-1 4M423 471l-5 4M490 536l3 3M42 497l-5 1M456 575l2 1M65 401l-2 5M220 439l-4 5M416 556l3 4M543 527l3 5M349 635l4 0M306 554l2 1M68 416l-4 5M350 482l-0 6M237 511l1 2M205 522l-2 6M108 321l-2 2M406 324l-5 3M54 397l5 0M57 450l-1 3M394 314l-6 2M89 467l1 3M521 387l0 7M555 565l-2 6M433 620l-1 4M300 488l7 3M551 604l2 3M293 596l-3 4M172 302l-5 1M421 363l-1 3M278 393l-1 3M114 574l6 5M558 540l2 3M416 428l-0 5M296 433l-2 3M435 554l7 1M364 460l-2 4M293 476l-3 2M397 498l-5 6M356 465l-2 0M380 524l-6 4M414 635l7 0M131 304l-7 3M435 453l-3 0M354 450l4 1M363 537l3 4M117 522l-2 4M169 478l7 3M556 488l-7 2M380 420l5 1M414 358l2 1M224 510l5 4M188 298l-0 4M368 538l2 1M254 642l2 1M298 483l0 3M553 449l4 1M444 580l-6 3M46 613l2 4M463 587l4 4M197 400l4 6M491 557l-2 5M530 348l3 5M414 474l1 2M107 315l-6 4M339 521l-5 4M317 496l-5 2M454 491l-1 7M139 381l-1 7M192 599l-3 7M200 613l7 4M488 515l-2 5M410 536l-2 2M107 300l-7 2M177 363l-6 2M188 566l1 3M271 488l2 3M297 316l5 4M265 513l2 1M211 353l-3 0M491 458l4 2M323 617l-5 2M319 360l4 1M199 323l1 5M93 509l2 2M491 587l-1 4M558 394l-3 1M324 309l-6 1M316 418l-2 2M405 322l-1 6M234 642l-2 3M261 572l1 3M400 562l-1 5M251 584l4 2M162 365l4 1M324 471l-3 2M184 304l-6 5M387 508l4 4M439 612l3 4M285 429l-6 4M322 477l-2 1M319 499l-3 2M76 374l-4 1M560 636l2 1M51 417l3 5M188 306l-2 1M310 487l-5 2M503 537l1 8M37 532l4 6M81 602l3 4M218 537l-3 2M205 295l2 3M357 352l-5 5M240 430l-4 5M399 494l-7 0M63 439l-4 3M169 564l-6 5M459 417l3 2M227 430l2 2M507 511l1 3M232 627l2 1M408 447l6 0M40 326l-4 2M191 311l-5 3M490 308l3 1M438 541l-1 3M307 623l1 7M337 466l-1 7M172 634l-5 2M432 359l2 5M295 486l-1 7M431 608l-1 6M40 330l-2 3M305 442l6 5M315 656l6 5M547 507l-2 1M348 290l1 5M102 584l-4 2M41 525l7 2M316 613l7 5M71 653l2 6M364 530l2 5M381 306l4 3M354 466l-4 3M103 459l3 1M497 543l-2 3M475 433l-1 2M102 321l-3 4M106 296l7 1M137 419l-4 1M41 337l1 2M302 420l2 2M351 503l0 4M329 459l5 5M125 479l-4 4M274 529l1 3M412 648l3 1M329 514l6 3M554 527l1 4M224 439l-1 3M281 383l1 2M527 428l5 0M238 393l0 2M231 435l-4 3M81 534l4 3M402 512l-3 7M274 592l3 1M286 616l5 4M274 579l-4 1M263 649l5 4M395 629l-0 8M264 465l3 3M227 562l2 3M480 540l4 1M44 641l-2 4M148 581l-6 4M97 300l-7 1M465 627l2 5M465 628l-4 5M292 537l0 2M423 312l1 3M421 582l-5 5M408 301l1 3M178 406l-5 1M342 551l0 5M381 467l-3 3M79 647l2 5M464 418l5 6M277 508l-2 2M349 628l4 1M67 293l-3 3M130 644l-7 2M162 337l4 0M486 325l-3 2M274 423l3 1M342 433l0 5M334 315l7 1M47 342l2 1M245 600l2 0M381 612l-4 1M551 607l-6 2M524 569l-6 1M521 608l-5 3M388 530l-1 4M558 536l6 5M258 429l2 4M257 309l8 1M248 388l3 3M515 518l1 6M184 411l5 5M362 461l5 1M319 644l-5 3M564 611l-3 3M514 358l3 0M251 308l-5 4M345 475l2 3M447 556l-6 5M324 454l2 4M463 553l1 3M103 458l-3 6M213 508l1 2M84 371l1 2M262 645l5 1M475 658l6 4M516 302l2 2M362 611l0 4M303 344l-6 1M475 651l-6 3M104 332l3 7M46 341l-5 6M120 569l6 2M112 313l-1 6M539 617l4 2M176 489l7 0M317 516l-1 4M318 310l4 6M343 492l-5 1M251 515l-5 4M80 592l7 0M322 584l-2 4M435 600l7 3M49 555l-1 4M43 535l-3 4M260 442l4 5M70 628l2 4M190 500l3 0M253 405l-2 6M319 579l-2 3M524 514l-5 0M461 435l4 1M145 470l1 6M479 503l1 3M515 418l-0 2M97 320l1 2M215 336l-1 5M312 551l4 6M60 377l-1 2M391 323l4 1M493 323l0 2M235 601l0 8M542 460l1 4M46 518l2 2M207 334l3 7M392 644l1 4M95 564l-3 3M247 442l1 3M354 494l-6 2M494 369l4 5M408 424l-3 6M56 403l1 3M166 307l4 1M245 630l4 1M380 541l1 4M391 505l-5 5M73 321l1 2M139 307l4 1M510 416l-7 0M51 646l1 5M466 371l2 3M351 426l-5 4M383 549l1 6M292 340l4 6M343 383l-3 0M515 404l2 0M186 473l-3 3M380 463l-3 1M130 472l-3 1M237 442l-4 0M57 417l7 3M457 416l2 2M525 439l-0 2M301 554l6 1M54 465l2 6M275 544l-2 5M550 564l-7 2M178 551l3 0M376 519l4 4M189 467l4 6M377 299l-1 7M315 634l2 2M275 570l2 7M419 576l-2 1M273 584l-5 1M97 602l4 3M276 490l5 4M182 484l-4 3M301 355l-4 4M274 552l-3 6M297 580l3 7M249 585l8 1M394 561l6 3M350 491l3 0M520 350l1 5M552 520l2 2M109 545l3 1M107 566l1 5M520 510l-5 0M491 303l-4 3M525 461l4 1M280 406l-0 2M145 552l1 7M496 397l0 7M284 314l-5 4M414 523l-2 1M295 298l3 3M386 505l3 2M386 303l-0 2M401 467l-0 3M419 452l-1 6M139 539l2 2M139 417l-6 3M376 318l-3 0M517 403l3 1M422 590l4 0M229 490l-4 4M71 366l-6 0M235 556l-0 2M501 490l3 4M244 412l-0 7M516 628l0 3M322 556l-1 6M305 394l-5 2M489 463l-2 4M330 512l-1 4M261 604l5 5M553 479l2 3M516 599l5 4M284 659l-7 2M339 364l-0 4M335 498l-6 3M272 501l1 2M275 517l-1 3M93 531l-2 2M300 626l-0 5M426 529l-5 0M274 468l-3 6M416 354l5 5M279 540l-3 4M458 510l-1 2M417 411l-6 3M119 638l-5 2M305 565l3 5M334 507l3 6M283 595l2 7M146 638l4 4M228 413l-7 0M480 315l-4 0M75 304l0 7M304 553l-2 2M257 598l5 4M376 548l-4 2M525 296l4 4M340 378l-0 6M355 363l1 4M277 574l-2 4M191 406l3 1M445 296l-3 6M546 437l-1 5M520 647l4 4M279 580l3 6M553 309l6 2M340 371l-4 5M298 547l-1 4M248 533l1 3M286 614l6 3M236 322l0 7M482 642l-7 4M327 487l3 6M77 392l1 2M546 536l1 6M415 574l2 3M371 347l-2 6M341 427l6 2M478 361l-5 6M167 331l5 0M237 509l-5 0M464 335l3 3M241 553l-1 2M349 407l2 3M525 616l2 2M334 429l3 3M130 615l6 1M210 322l-6 3M345 591l-3 3M549 350l-1 3M411 346l0 3M445 550l-3 2M160 298l6 4M368 523l2 7M359 486l1 7M39 345l3 1M186 489l-3 2M462 360l-5 1M85 458l-4 0M553 306l2 5M523 360l3 3M492 531l-2 6M493 379l1 2M543 457l7 2M269 305l-2 4M487 483l3 4M444 564l3 2M451 444l-3 6M350 523l3 0M184 576l-7 2M515 317l-3 1M250 532l-5 3M401 526l-8 1M201 383l0 4M165 455l3 2M467 375l5 4M398 375l3 7M346 525l-3 2M258 298l-2 1M272 551l8 1M159 315l-5 1M111 616l7 3M505 591l-0 3M268 515l-5 4M186 328l3 2M61 476l-4 1M58 379l2 2M224 470l6 2M410 618l1 3M149 632l-1 2M61 465l-7 1M273 567l0 5M266 315l-4 2M242 637l3 2M558 441l-5 6M365 503l2 2M202 485l-4 1M130 375l-5 5M180 440l5 5M66 646l-5 3M40 335l-2 2M158 312l-0 4M293 469l4 4M204 480l3 0M527 594l-4 2M308 366l-6 1M398 521l-6 2M221 389l-1 3M562 654l-5 5M543 632l4 6M509 487l7 2M176 621l-3 0M338 622l0 6M525 524l6 1M118 639l1 8M129 310l-5 1M332 344l0 2M346 444l-1 3M342 482l-0 5M62 580l-2 6M342 529l1 3M238 406l2 1M128 406l-3 2M177 325l-5 1M115 473l8 2M365 609l-0 7M424 599l-2 1M134 585l5 4M336 468l1 3M302 531l-1 7M217 648l-3 3M309 450l4 2M233 597l5 5M353 407l-7 2M202 392l8 1M367 416l-6 2M103 620l1 4M487 303l-3 6M529 292l0 2M555 521l2 0M321 631l6 1M546 348l-2 5M93 578l2 2M61 470l0 3M559 419l-4 5M286 366l3 6M429 343l7 1M430 309l7 2M457 343l1 5M400 626l-4 2M153 448l-8 2M243 402l3 1M257 505l-5 5M122 295l-4 5M219 409l7 0M346 341l6 2M436 574l1 4M392 490l-1 2M44 494l-1 2M208 499l6 2M133 309l3 5M153 590l2 2M272 632l-2 7M245 644l4 1M430 387l2 2M356 542l-3 0M159 500l-1 4M44 336l5 2M305 445l1 2M423 293l5 0M144 567l6 5M537 627l6 0M92 452l-3 3M478 549l-3 1M309 542l4 5M386 367l-3 2M277 443l3 4M364 350l-6 5M413 483l3 6M53 314l-0 7M264 438l3 3M173 430l-3 3M255 594l5 6M281 488l-4 6M141 392l-2 1M443 582l-3 1M36 357l3 5M214 428l-6 3M92 345l2 4M278 593l-4 3M474 570l-3 2M95 655l-3 0M265 331l3 6M228 327l3 1M489 325l-6 5M286 432l5 0M66 595l2 7M257 299l5 1M287 528l-2 5M398 398l-5 4M412 610l-6 0M207 374l-0 2M419 428l1 3M367 413l1 5M262 627l3 4M205 554l3 3M375 404l3 0M291 458l-2 2M279 376l5 1M397 507l-2 7M368 331l-2 0M285 521l7 2M374 512l-3 7M531 607l2 5M329 356l-4 7M258 551l4 3M394 458l4 2M244 487l-6 5M46 529l-1 4M214 653l0 2M128 657l-6 2M266 497l3 2M540 290l-6 4M182 428l-3 1M227 424l-1 2M392 615l2 1M165 389l4 2M205 649l-3 1M267 324l-7 4M381 323l4 5M304 353l-3 2M263 568l-0 2M83 562l4 3M354 541l-7 2M206 517l-6 2M117 615l-6 1M169 325l4 4M440 524l2 7M346 299l-2 3M30 620l8 0M518 628l-1 2M105 409l1 5M163 357l-0 3M296 481l-2 6M217 431l-3 6M264 624l7 3M279 586l4 5M130 388l6 3M273 403l-1 3M406 305l1 4M245 388l-5 4M554 423l-2 5M185 543l6 5M560 386l3 0M225 477l-1 5M552 316l-0 2M252 451l6 3M479 327l4 4M40 436l-4 0M551 357l-7 1M514 388l1 3M197 465l-6 4M510 367l-2 3M207 582l-3 1M95 519l-6 2M449 330l-2 2M131 427l4 6M356 383l-3 5M343 530l1 2M306 489l-4 6M197 421l2 3M400 378l3 1M480 293l-4 1M394 454l2 2M525 347l3 1M228 502l-2 5M333 332l1 6M229 387l4 2M306 647l-0 3M553 411l-3 5M58 362l-1 2M556 396l2 4M493 343l6 3M240 406l-2 7M53 325l-4 1M225 632l2 3M405 473l6 2M345 330l2 3M48 656l-2 2M349 470l-4 7M85 340l1 3M284 475l2 5M344 535l-6 3M200 650l2 6M74 327l1 4M213 469l-2 7M540 540l2 3M475 587l1 6M297 633l-5 4M389 476l5 0M274 592l7 2M496 493l3 1M269 609l-1 5M455 591l1 7M58 573l2 1M555 441l3 3M369 580l-2 6M537 649l4 3M528 413l4 5M394 453l1 6M56 505l0 2M453 500l4 5M442 650l-2 4M210 380l-4 5M510 342l-3 3M538 436l1 4M84 619l4 7M240 612l6 1M45 469l7 2M116 449l1 7M458 353l-1 3M450 396l-3 6M390 615l1 3M250 541l-5 0M267 517l-6 2M521 516l-7 1M232 455l-1 7M220 445l2 3M100 536l5 2M344 436l-6 2M77 575l3 3M342 557l-5 4M371 292l-6 2M97 482l1 5M427 434l4 1M396 424l-3 0M466 373l1 2M268 540l2 1M315 321l3 2M35 404l-4 0M495 621l2 3M349 312l2 4M488 472l-5 3M364 510l5 3M527 438l1 2M43 582l3 7M534 389l-2 2M290 444l-4 6M486 464l-4 3M182 642l-1 2M152 638l-6 3M144 386l-4 6M396 660l5 1M455 581l-2 6M391 494l5 1M325 468l-8 1M138 305l-5 1M36 601l-5 4M397 572l6 5M484 576l3 2M560 316l-3 3M80 577l-4 3M74 587l4 6M264 585l0 2M317 436l-6 1M549 447l-4 6M202 301l-5 1M412 293l2 2M391 648l-1 2M287 446l5 2M93 326l-3 3M516 420l-8 0M241 642l2 1M405 384l7 4M313 519l2 2M188 360l3 1M508 600l-5 5M224 515l-2 6M217 586l4 3M205 496l3 7M295 461l-4 5M66 445l-2 1M290 519l-2 5M61 484l1 7M276 471l-0 3M457 458l3 2M169 550l-5 6M468 417l-5 3M182 339l5 1M418 342l-2 3M517 470l-4 3M106 454l2 1M419 476l-1 3M318 316l-3 3M419 394l-2 5M242 628l6 0M461 548l3 6M48 488l-2 7M471 612l3 1M197 334l2 6M206 411l3 3M352 543l2 2M466 533l-2 2M150 462l6 1M225 638l2 4M529 431l-5 0M159 317l6 3M391 429l2 2M311 629l5 4M295 300l4 1M343 378l2 1M63 545l3 3M312 451l7 2M59 326l3 1M233 454l0 5M481 525l-4 4M424 606l-2 3M328 627l2 2M555 320l2 1M38 513l4 4M180 520l3 1M38 512l2 4M375 495l5 6M174 498l-0 3M193 546l-2 1M138 318l2 3M390 436l7 2M449 400l5 3M503 386l-1 7M510 471l1 4M545 411l-2 4M495 338l-2 3M267 363l1 4M449 591l4 6M148 323l3 2M312 517l-3 0M254 596l-4 6M166 599l-1 3M237 343l7 2M477 627l-0 3M190 397l-5 5M90 582l6 4M43 329l-5 4M500 460l4 6M38 559l3 3M300 455l-3 1M208 530l3 1M444 290l0 8M82 402l-3 6M543 655l3 5M263 313l3 3M282 564l-7 3M288 564l-5 4M500 485l-0 4M113 480l-2 2M257 621l-2 3M172 392l2 6M535 486l-8 2M328 486l-5 1M356 325l1 5M518 315l-5 1M454 368l1 3M209 585l1 3M261 314l-1 4M527 377l-2 3M321 515l7 3M248 418l-4 1M479 344l-0 6M119 433l2 3M246 506l-0 2M139 424l-1 3M222 337l-7 0M545 411l-2 2M170 639l6 1M196 378l8 1M479 522l-1 7M299 492l-2 5M47 370l-7 3M374 458l-0 7M547 634l2 6M202 521l4 1M338 295l3 0M121 594l-3 2M555 461l-5 4M110 525l-3 1M355 385l-1 2M169 350l6 4M379 335l2 3M136 460l4 5M330 316l4 1M418 659l2 4M77 339l2 2M261 551l-1 4M550 332l-6 0M142 445l3 4M213 519l-2 0M207 629l2 8M415 378l6 3M35 541l2 3M110 452l-2 4M146 442l-2 4M441 606l-1 3M38 612l3 7M120 315l-6 0M269 370l-0 4M405 294l1 2M545 584l1 6M413 581l-6 4M285 325l-5 5M357 419l3 6M377 384l5 0M151 638l3 5M318 342l-1 2M164 451l5 1M179 348l0 3M373 423l8 1M136 326l8 1M550 555l-2 7M341 473l3 4M178 503l-2 8M258 499l-4 6M161 585l-6 3M271 518l1 5M41 496l-8 2M312 330l2 5M321 341l-7 1M300 313l-3 6M139 580l-6 2M144 318l-2 3M196 602l-1 3M324 644l3 6M176 408l5 4M380 470l-1 3M547 478l6 6M283 530l4 5M267 354l-6 5M274 614l-1 3M205 402l3 0M463 636l-5 4M457 310l-2 4M486 347l-5 4M347 424l6 4M309 497l-0 4M406 533l5 3M291 595l-6 2M239 310l3 3M441 558l0 2M200 560l0 3M186 636l5 5M265 510l-8 1M315 470l1 5M515 536l-6 5M421 406l-1 3M50 508l-2 2M372 344l-2 0M138 591l-2 5M124 391l-2 4M461 623l-5 0M535 389l-3 5M162 323l5 5M411 540l5 5M90 560l-6 3M427 332l3 5M267 636l-5 3M548 568l4 2M311 624l-1 6M227 414l3 2M52 455l-1 5M316 634l-7 3M315 589l3 4M94 404l-6 0M291 313l-2 2M39 473l4 5M213 479l-3 6M264 501l-4 5M506 658l-2 4M538 591l-3 3M435 600l3 1M212 414l-0 7M367 472l2 5M320 496l-8 2M380 297l2 4M411 325l-6 4M251 453l-4 0M499 323l3 1M285 475l-5 4M74 297l-4 3M285 308l1 2M427 306l4 6M474 324l-5 1M106 455l-4 2M135 293l3 1M47 460l3 7M478 487l-1 7M57 559l5 2M436 558l6 1M332 349l2 4M363 363l-2 3M170 573l-4 4M157 519l3 2M303 358l8 0M549 586l1 3M227 307l-6 2M315 411l6 3M366 659l-3 5M94 306l-3 1M533 551l-6 1M44 333l4 1M496 543l-1 2M36 647l2 1M433 391l2 4M90 467l4 2M315 454l-2 1M532 381l-4 1M556 503l5 4M445 415l3 0M318 616l3 1M37 346l-0 8M97 492l-3 5M245 526l-0 2M455 513l3 3M47 302l-3 1M69 517l-3 0M447 335l-6 5M367 605l-5 5M424 614l2 5M246 514l3 6M498 513l-6 3M456 443l7 1M159 308l5 6M322 434l7 2M330 546l3 2M388 299l7 3M267 563l-4 1M223 435l7 2M130 417l-1 6M117 460l-7 1M545 582l-3 6M449 376l-5 4M509 577l3 6M452 627l2 6M299 546l2 1M460 351l2 2M336 520l-2 1M247 453l-5 1M219 576l-1 7M101 519l-3 6M74 480l-4 1M295 300l2 1M415 550l-2 2M95 540l-5 2M46 300l0 5M262 417l-2 4M497 484l1 3M97 440l0 4M490 418l-7 1M276 556l-1 5M143 303l-7 2M324 453l-5 4M73 565l0 7M176 319l-1 2M406 501l-2 6M384 424l0 3M52 348l-2 3M165 402l-2 0M536 423l-3 1M396 315l5 5M276 346l-3 4M492 324l-3 1M255 639l1 4M523 418l-3 0M418 295l2 3M332 450l-3 3M418 293l-5 1M371 478l-1 5M145 364l2 5M244 510l4 1M51 292l-2 4M45 293l6 3M322 653l-4 1M377 534l1 4M398 472l-7 0M326 437l-6 5M347 333l2 3M300 459l-1 4M251 561l-6 1M89 560l-7 1M522 631l5 1M212 390l-1 3M507 406l4 6M473 579l-3 5M421 453l2 2M273 331l-0 4M269 317l5 5M385 515l4 5M122 496l2 1M474 539l2 3M533 409l-4 1M417 422l-2 1M186 386l3 5M351 522l-1 4M155 492l1 2M293 493l-2 3M253 639l5 1M255 406l-4 1M514 370l1 3M286 546l-2 8M126 477l3 4M398 533l-1 7M526 419l-4 6M292 612l-0 3M379 326l-6 3M519 518l2 7M146 306l-2 1M547 527l3 3M438 517l-1 2M172 561l-5 4M246 559l-2 5M307 472l-3 7M517 391l7 1M414 587l7 2M285 549l-1 2M288 477l2 5M171 516l-0 2M430 456l-6 3M334 496l-3 3M63 335l3 6M313 507l2 5M132 651l-2 3M145 488l6 2M173 595l4 4M303 644l-1 2M92 349l1 5M38 305l-6 5M496 516l-2 3M202 324l-1 8M57 335l-4 2M137 397l-6 5M547 584l2 1M462 562l3 5M153 638l-4 1M352 557l2 2M71 337l5 5M108 489l2 3M228 454l2 1M161 651l-2 3M245 459l1 4M235 496l-3 6M212 480l-2 5M360 432l-3 1M482 318l-5 1M304 500l7 3M325 643l-5 3M420 384l6 4M172 561l5 5M431 650l-1 4M139 318l-2 1M275 489l-5 2M105 461l-0 8M191 649l-1 6M523 428l-5 2M234 505l4 5M359 426l0 7M393 496l-0 6M306 301l3 6M245 489l-5 5M242 571l4 1M301 551l6 2M200 489l2 6M374 311l-3 7M273 612l-2 2M266 607l7 1M76 326l-3 1M415 577l3 6M47 310l-0 7M364 411l-3 0M542 403l1 3M467 358l-2 1M292 479l5 3M478 495l2 7M262 366l-7 2M333 472l-3 3M278 562l-3 1M454 329l-4 3M340 579l5 4M414 495l-2 3M468 314l2 1M274 395l3 4M279 518l-5 5M38 572l4 5M306 449l-1 6M442 411l-1 3M521 489l7 1M523 353l-0 3M306 441l7 3M390 630l1 8M119 292l6 0M194 435l-2 1M149 325l-4 3M344 551l2 1M512 417l2 2M315 497l3 4M522 577l4 7M553 651l4 1M494 377l-1 3M519 616l-5 0M371 464l-3 3M491 513l-1 6M190 439l-1 6M520 509l7 3M359 476l2 3M511 621l-1 3M158 307l3 1M123 549l-6 0M431 441l4 1M428 564l-6 5M534 325l-1 3M94 482l4 3M360 335l-3 6M172 623l-8 1M287 528l4 3M406 338l1 2M367 575l3 1M244 477l2 1M261 518l4 4M362 292l-4 6M345 414l7 2M78 527l3 5M199 650l1 6M119 391l-4 2M41 335l3 7M446 296l5 5M359 637l4 2M162 299l-1 2M51 295l-0 5M122 527l-2 4M265 324l-1 6M323 344l-0 5M282 568l3 5M282 495l1 5M312 314l-3 3M257 437l-5 4M424 600l5 4M561 398l-7 1M178 466l2 6M310 355l-2 1M495 530l-2 0M391 517l1 6M439 508l5 1M146 473l3 2M66 416l2 7M300 448l-4 6M417 614l4 3M368 309l4 2M367 479l0 3M68 343l6 4M314 457l-5 4M317 307l2 5M467 415l2 5M337 317l-0 4M520 322l-2 2M478 425l-1 6M225 448l-0 3M462 295l3 4M153 413l2 1M63 307l-5 1M480 421l5 5M389 491l7 1M463 468l3 3M115 490l-3 3M497 385l-5 2M506 304l6 4M234 412l-5 4M132 639l-2 1M405 410l2 3M454 355l6 4M553 438l-2 1M206 572l-2 6M253 595l-2 0M242 409l1 7M434 501l-6 4M498 327l-2 7M539 386l1 3M538 446l-4 1M442 306l-6 0M92 535l2 1M348 323l-3 1M230 635l-7 1M336 508l4 3M325 326l1 2M131 510l-2 5M229 466l6 1M50 365l0 3M95 486l-4 3M455 376l-4 0M339 584l-1 4M361 369l2 2M359 574l1 3M110 461l4 2M281 517l3 3M500 653l-2 3M189 617l3 2M425 520l1 5M280 392l0 3M333 358l-2 7M246 634l-3 7M329 403l8 1M484 372l-0 3M123 299l-2 2M207 523l8 1M196 398l0 6M137 418l-4 1M299 634l-6 1M424 460l2 1M342 534l2 3M379 523l1 6M472 312l-3 4M369 417l-3 3M532 471l4 4M340 391l-2 1M158 464l-6 1M351 318l6 4M478 454l-1 2M442 467l5 4M258 608l4 4M209 435l-2 4M537 499l2 3M335 535l3 3M267 576l-2 2M511 415l4 2M200 512l-5 5M206 508l-3 2M79 632l1 7M394 291l-1 6M447 422l2 7M238 615l-2 1M342 458l-2 2M378 457l-3 5M287 345l-8 1M168 456l-4 4M503 407l-3 1M99 457l-0 7M95 518l-5 1M274 647l1 6M349 580l-4 1M342 429l1 6M374 410l-4 0M104 422l-4 6M442 446l-2 3M248 399l-1 6M370 342l-1 5M251 412l1 7M284 427l6 4M273 524l6 4M271 530l-5 4M307 372l-4 3M143 477l2 5M314 406l-2 2M345 455l-3 0M52 615l2 3M284 326l-3 4M366 338l4 2M406 627l1 2M93 469l1 3M204 314l2 1M355 428l6 5M241 507l-2 5M428 599l5 2M339 471l-0 7M152 335l3 2M388 513l1 6M61 562l-0 4M519 371l6 3M507 630l2 4M225 535l-4 3M297 336l1 3M489 625l-1 4M266 478l-7 2M237 359l5 1M163 442l-1 2M131 388l3 5M486 621l-6 1M345 490l-3 6M343 578l-3 1M314 563l-6 2M326 348l-1 7M269 311l-1 4M329 489l-2 5M367 476l-5 1M388 467l-1 3M424 423l-6 1M197 527l4 6M281 508l5 4M237 415l6 4M307 348l-5 5M285 612l2 5M106 657l-6 4M64 564l-4 5M365 360l3 2M211 640l5 2M82 572l1 5M541 397l-3 1M471 457l-0 4M264 544l-4 5M37 581l-3 4M42 392l2 1M362 426l-0 3M260 579l-6 5M473 390l-4 4M255 459l-2 0M412 655l6 0M132 369l-7 2M288 540l-1 4M543 441l3 3M266 561l3 4M295 432l-4 5M484 537l1 3M150 422l-2 3M215 570l3 2M290 351l7 3M263 504l-2 2M462 412l-4 1M474 573l-1 6M215 471l5 3M189 363l-8 2M174 361l5 4M518 335l-4 6M552 635l-1 2M305 447l6 1M532 418l-7 0M358 498l-2 5M537 505l-2 2M403 601l1 3M393 499l-1 2M483 439l6 1M165 459l8 1M525 445l7 2M512 322l-2 7M430 414l-3 1M544 628l5 4M297 302l3 2M126 449l2 2M211 487l-3 3M79 481l-4 1M465 337l3 4M517 380l4 5M275 511l-4 6M489 468l-2 4M299 421l2 6M519 507l2 2M270 457l4 3M345 535l7 3M521 422l5 1M414 547l-1 4M300 613l-1 3M337 579l2 2M50 541l1 3M381 624l1 6M369 339l0 6M274 471l-3 4M392 313l-5 1M56 558l2 6M281 623l-5 4M342 380l2 3M220 390l-5 4M523 573l4 1M557 479l6 5M305 633l4 7M206 399l1 2M398 413l2 2M235 451l-2 1M274 302l5 1M548 544l-3 0M245 327l7 0M268 564l4 2M390 587l-2 1M478 556l5 0M482 429l-1 2M525 316l3 1M410 433l-7 1M525 456l-4 3M205 397l-4 7M263 344l0 3M191 341l-4 0M107 496l1 5M58 415l-4 0M302 541l4 3M502 519l5 4M85 579l1 6M379 524l3 0M261 309l3 4M475 385l3 4M68 504l0 5M470 576l5 0M448 547l0 2M403 638l-6 3M388 474l-3 3M278 447l1 2M498 528l2 5M412 489l8 0M54 438l0 3M448 340l8 2M169 399l2 0M72 480l1 3M240 452l4 1M329 443l1 4M278 460l3 2M472 400l-0 2M307 544l-4 1M542 380l-4 1M264 529l0 3M434 319l-2 4M104 477l-7 0M331 374l6 2M140 632l4 1M404 293l-0 2M413 531l-1 7M291 412l-1 2M530 419l-8 0M429 491l4 5M382 607l2 3M547 352l-5 2M46 327l-3 4M315 618l0 6M371 412l-1 2M362 487l-8 1M470 429l-2 1M538 529l-1 3M459 331l-3 2M161 307l-5 3M481 565l-5 4M321 365l1 4M462 396l-5 1M37 552l-4 3M99 443l6 2M377 410l-2 6M343 357l2 1M552 377l-2 0M107 576l-6 2M460 451l-2 2M356 430l-4 3M560 407l-5 1M184 294l4 6M416 607l6 0M303 506l-1 2M397 302l3 8M65 317l-2 2M69 426l-4 1M365 558l-5 2M331 423l5 5M496 390l1 7M466 460l2 8M329 565l-0 5M490 313l5 1M260 360l-2 1M430 583l2 3M92 435l0 5M385 412l2 6M480 316l-4 6M166 594l6 5M197 439l3 2M452 422l-2 3M318 505l1 6M345 317l-5 3M312 311l6 0M243 522l6 1M454 607l2 6M127 315l-7 1M477 421l2 5M366 520l1 4M521 458l-2 3M100 557l4 2M188 524l8 1M464 339l-0 4M265 445l6 5M284 448l-4 3M256 586l1 7M322 425l-3 6M279 517l1 4M388 499l5 2M521 356l6 4M283 365l-1 2M554 568l0 6M342 652l-3 3M327 476l7 0M559 652l-3 6M286 560l6 5M384 420l5 5M172 505l-4 3M416 502l6 2M75 425l-2 2M400 510l5 4M521 524l2 7M533 325l-4 7M309 605l-2 6M494 466l-3 4M483 537l-4 6M551 397l-7 1M250 511l-3 1M551 543l-3 0M419 516l1 5M286 347l-6 1M288 369l-2 3M548 577l2 2M303 487l-1 4M511 377l-4 4M81 580l2 1M468 316l-3 2M326 469l-8 1M57 557l-1 6M132 578l-1 6M404 303l1 2M304 298l-2 3M404 443l-4 2M41 619l-3 5M408 297l-1 2M352 490l2 6M353 543l4 3M414 527l3 3M277 426l-1 3M108 459l-5 4M524 344l5 1M564 447l-7 3M60 323l0 5M368 564l4 1M368 342l7 3M377 471l-2 2M165 491l0 5M191 347l-6 5M397 591l0 5M455 583l-0 3M518 505l4 2M163 315l5 1M304 395l-7 0M358 603l-1 2M407 525l-2 3M531 503l5 5M260 424l3 4M251 517l-1 3M383 625l2 2M378 420l-5 1M56 354l-7 2M114 327l-6 1M152 645l-2 2M335 539l-2 2M545 610l3 4M196 549l-5 6M387 341l3 6M103 439l-2 7M310 432l-7 2M217 377l4 2M235 367l-5 5M502 355l4 5M245 382l-1 2M62 570l1 4M166 612l-2 3M412 584l2 7M338 494l1 2M518 542l0 7M388 655l-2 1M289 594l-7 3M259 438l1 2M98 413l-0 5M325 538l1 4M539 327l-4 1M493 489l-2 2M36 490l-4 5M121 495l4 2M467 588l1 2M547 378l6 0M380 349l3 7M475 575l3 6M74 540l7 2M540 441l7 2M160 625l5 1M207 526l-6 1M264 655l1 7M381 521l-3 1M471 329l-2 1M240 494l2 3M152 493l4 5M90 601l-1 4M228 595l3 6M418 653l-4 6M439 320l-3 7M256 555l2 4M364 539l4 4M261 457l-3 2M492 300l4 2M542 437l-6 4M232 486l-0 7M536 504l1 5M401 496l3 1M425 428l-3 6M355 292l-2 4M506 543l6 4M349 408l-3 0M476 397l-1 2M296 475l4 0M162 461l-1 2M512 545l1 8M524 451l1 2M277 364l-2 1M176 312l-0 6M397 497l3 1M489 431l4 6M221 533l6 1M318 499l0 5M369 534l4 1M344 437l-5 2M538 654l-7 3M499 527l2 4M489 453l1 4M554 318l6 2M57 435l4 3M142 534l-0 8M406 535l-3 1M99 609l3 4M109 452l6 1M39 349l2 4M356 447l-1 4M281 471l0 5M346 607l-5 4M61 593l-2 5M47 575l4 2M201 569l-0 4M513 491l3 1M76 339l-3 0M490 350l-1 6M529 504l-2 2M206 439l-0 2M436 640l-3 3M531 382l1 3M211 469l-4 2M381 478l1 4M357 384l2 4M94 310l3 0M434 622l-1 2M399 339l-5 3M150 559l-2 4M515 493l6 4M208 576l-5 2M561 471l4 4M219 500l1 3M518 501l-4 1M315 444l-5 1M429 570l2 1M249 519l-3 4M75 497l-4 1M285 480l2 3M340 522l3 0M208 424l1 3M413 569l-5 1M313 553l-0 5M431 476l1 7M519 619l0 6M455 479l-6 3M561 417l-3 5M203 528l-0 3M287 322l-1 5M285 398l2 7M391 642l-4 2M540 313l3 0M127 303l6 2M375 337l-4 2M400 456l1 3M314 420l-3 4M450 562l1 8M235 632l1 4M131 308l2 3M304 432l-3 6M194 441l-2 1M259 643l7 4M465 450l-6 3M372 475l-7 0M148 565l1 3M453 493l1 3M214 620l-1 2M282 327l3 3M339 531l-1 3M53 532l-2 2M240 620l4 3M409 551l2 1M169 486l2 3M106 584l6 5M274 566l-5 3M45 487l-4 4M225 395l-5 6M226 438l7 1M351 561l2 2M377 524l-4 1M253 313l-2 7M282 472l3 1M444 510l-1 7M463 576l-3 0M95 540l-1 3M120 358l-4 1M163 413l4 1M340 326l2 2M539 579l5 0M41 337l-1 5M303 461l3 2M45 528l-5 1M96 448l1 4M278 518l6 2M42 487l-3 2M510 474l-2 1M213 385l-0 5M65 558l-2 7M361 298l-2 2M252 307l4 1M347 469l-4 0M293 324l5 1M359 496l-1 3M146 297l3 1M350 427l-6 5M508 328l-5 1M504 652l3 0M225 329l1 4M322 348l-3 1M213 304l-4 3M374 584l5 5M239 396l-3 3M552 544l3 1M472 393l-4 2M283 513l-6 2M527 423l-7 1M217 313l-3 2M201 468l-8 1M317 528l-0 7M440 606l2 3M372 465l4 2M485 528l-5 4M426 655l-3 3M316 581l2 5M379 447l-2 1M299 501l-3 0M463 527l4 2M320 577l-5 1M424 497l-0 3M241 567l-1 3M307 471l5 1M415 618l6 4M143 298l-8 2M144 317l-5 4M407 507l-6 6M431 651l-2 1M387 352l-4 5M249 477l-3 2M361 487l7 0M329 640l-5 2M297 512l7 1M117 416l3 4M89 564l-2 6M287 548l5 1M234 633l-3 7M473 527l-1 2M286 474l5 3M490 643l-6 1M490 347l1 5M467 459l-1 3M390 623l-6 2M369 399l-5 5M283 470l-3 5M415 464l-3 7M271 579l-1 7M275 452l4 6M558 344l7 3M37 492l-0 6M351 361l-1 7M348 437l3 3M117 434l2 7M109 464l-4 0M447 655l2 5M150 618l6 2M63 315l1 4M293 312l-2 2M461 396l-6 5M530 584l-0 5M380 322l-4 5M344 351l2 7M457 532l-2 4M282 486l3 0M89 475l3 3M174 450l-1 4M236 376l-0 2M351 478l2 0M110 551l5 2M189 551l2 5M445 414l-1 3M293 338l-3 3M249 398l3 7M184 462l2 6M249 621l-1 4M499 301l-1 3M287 558l3 5M109 315l-3 4M155 536l-1 6M65 364l2 2M383 480l-2 6M421 306l-5 3M117 368l-2 2M229 466l-2 4M258 339l2 3M220 619l-2 2M38 563l6 2M525 430l-1 2M112 516l-2 1M445 532l8 0M80 541l5 4M535 477l2 5M208 315l4 6M383 488l-6 1M344 527l-3 1M249 399l-3 4M212 533l-5 0M483 510l2 0M505 341l-3 7M66 609l-7 3M414 502l2 7M314 560l0 4M261 644l1 2M515 515l-4 4M361 318l7 1M281 449l-5 3M280 309l-4 5M72 656l4 4M552 474l1 6M545 565l-1 2M559 495l-2 2M458 350l0 3M381 651l3 5M442 592l-6 3M330 376l7 1M470 406l-4 4M548 456l-0 4M292 307l0 4M104 306l-3 4M229 346l3 6M90 620l1 6M472 518l-3 6M215 414l6 2M91 457l7 4M155 511l1 3M382 446l6 0M373 498l-1 7M159 534l6 3M535 314l3 5M270 633l3 5" stroke="#b4b4b4" stroke-opacity="0.45" stroke-width="0.9" fill="none"/><path d="M273 496l-0 5M371 510l-3 3M371 475l3 4M161 328l6 4M197 618l-4 2M337 307l5 0M548 324l2 4M405 645l0 6M475 431l-4 5M269 319l7 1M159 341l1 6M317 302l-1 7M101 456l3 7M311 331l1 2M300 505l-4 4M83 499l3 6M133 333l2 2M337 485l-3 7M170 391l1 5M386 565l-2 6M339 557l5 4M289 651l-5 1M539 563l-3 1M365 422l-1 6M516 410l-5 2M209 393l4 0M312 574l-4 0M320 478l3 2M387 316l-1 2M377 294l5 4M208 597l3 1M367 357l0 2M208 417l1 2M208 398l4 4M509 494l5 2M370 574l4 0M236 501l3 4M438 568l-7 4M250 449l-1 7M307 444l4 6M326 535l-7 0M504 510l-4 1M424 302l-3 1M205 470l-3 2M91 451l4 4M488 302l-1 3M305 430l-2 4M553 293l5 1M192 449l-2 0M234 580l3 2M536 518l-0 6M273 607l-3 1M62 437l2 1M105 482l1 2M148 304l-1 6M95 471l5 6M158 325l4 2M226 314l0 2M71 303l3 3M526 653l-5 2M398 586l3 0M361 472l3 3M388 474l-3 3M174 389l2 6M489 354l-4 2M95 410l5 2M246 409l-1 3M559 441l-1 4M201 325l5 4M484 523l5 2M256 431l-1 5M525 643l1 4M236 605l7 2M379 367l6 3M440 364l1 3M248 457l4 7M552 656l-3 6M427 320l-2 5M534 621l-0 4M164 443l0 3M460 477l5 3M255 293l-5 5M233 398l0 4M315 533l6 4M122 430l-4 6M91 546l-3 0M93 570l6 4M477 411l-5 4M244 321l-3 3M292 546l6 2M487 577l-2 1M552 412l2 2M357 491l-3 5M442 385l3 7M160 459l-6 1M138 428l-3 0M72 300l-4 7M321 452l-1 2M255 469l-1 5M489 635l-1 5M255 346l-5 3M446 413l4 4M336 503l4 1M54 343l1 6M167 565l-1 3M385 463l-6 5M370 292l-2 2M523 529l3 4M497 405l-4 4M261 436l5 6M533 625l-5 0M100 446l2 6M73 436l-3 0M134 303l3 2M503 318l-1 3M479 434l-5 4M538 421l1 2M120 425l6 3M518 581l2 5M290 312l-5 3M344 327l-4 0M318 434l-4 1M458 602l1 4M457 521l-3 1M344 493l6 1M355 381l-3 1M427 409l-1 2M236 531l6 1M70 360l-3 2M399 637l1 2M284 602l-5 4M269 453l5 1M256 582l2 3M58 395l-5 4M443 533l4 3M491 301l-2 5M126 461l4 5M394 494l4 1M282 294l-1 3M267 501l3 2M516 356l1 4M248 530l2 4M347 523l-1 8M283 365l3 3M444 475l4 1M307 453l-1 3M373 465l5 3M446 333l-1 3M84 617l-3 2M169 541l2 2M320 471l-2 3M514 466l3 3M139 587l1 4M66 308l2 5M319 351l-4 2M543 440l-2 7M473 374l-2 4M383 328l-2 1M423 340l7 4M250 639l-4 2M406 356l3 1M74 537l-6 2M67 502l-2 1M312 445l-4 2M173 488l3 3M293 457l6 1M490 610l6 5M152 424l3 1M145 293l-2 1M43 396l-3 1M180 519l-6 1M237 501l-5 2M494 537l2 1M38 533l-2 6M491 493l-3 4M550 607l-3 2M185 349l1 4M371 634l-3 5M43 312l-5 0M95 306l-6 4M130 496l2 7M297 439l-6 1M276 507l1 2M254 525l1 5M231 365l-7 2M323 515l2 3M35 343l5 1M315 581l8 2M128 476l0 4M185 538l3 1M335 613l-1 4M325 445l1 3M313 561l-2 7M351 466l1 6M454 520l1 7M547 574l-0 5M305 547l-6 1M427 512l6 3M548 627l-2 2M444 399l-4 7M549 630l-2 0M177 514l5 4M275 297l2 1M376 344l-0 5M520 509l-1 5M435 398l-6 5M463 334l3 7M317 515l-3 1M561 304l-0 4M440 556l5 2M396 619l2 3M128 413l6 0M501 362l0 4M370 450l-1 2M458 356l-1 3M302 613l-2 1M401 463l-4 4M76 486l-2 2M455 357l4 5M224 650l6 1M470 460l6 2M77 498l-1 2M453 551l-5 1M41 409l-2 3M258 319l-4 3M427 380l3 6M301 642l-3 5M441 439l1 2M393 480l1 5M407 444l-0 2M549 298l-1 4M40 517l-3 6M320 488l-4 4M225 415l1 7M195 466l-0 3M53 474l2 5M161 411l-4 3M43 413l-3 2M128 514l6 3M303 439l-2 7M290 594l-1 7M374 573l0 2M54 311l4 5M306 535l4 0M499 585l-2 2M44 437l-7 3M141 332l-5 6M277 363l3 7M360 657l-4 2M514 351l7 0M475 557l2 7M280 640l4 6M550 479l-7 2M231 427l2 1M309 356l-1 3M169 316l-2 5M301 527l-7 1M133 594l2 6M161 579l4 2M454 632l0 6M105 569l-5 3M444 312l4 4M137 440l-0 4M460 578l5 0M130 484l6 5M555 553l2 1M378 514l-3 5M67 520l-5 5M103 557l-2 2M64 547l5 3M483 356l-4 6M244 295l-7 2M448 306l1 5M499 330l3 2M324 455l-5 1M77 466l-2 2M311 538l-3 4M528 439l-2 0M192 437l7 1M116 465l-0 2M326 451l-5 3M408 382l3 1M83 601l1 2M136 487l4 0M174 392l7 0M398 316l2 2M48 294l3 3M330 493l-2 3M65 304l-2 4M268 448l1 7M556 301l-3 2M351 503l4 0M542 486l-2 5M516 580l-2 3M501 554l-1 3M513 427l-5 0M128 461l-2 7M383 489l5 5M185 655l0 5M57 464l2 1M544 419l6 1M374 587l-3 4M51 359l-3 5M155 310l-1 3M494 550l3 5M447 569l5 1M480 300l-4 3M198 423l-1 7M242 342l4 0M141 324l-1 4M504 384l3 4M478 431l6 3M220 645l-2 3M163 504l-2 1M554 597l-2 2M270 352l4 2M220 630l-5 0M284 501l-1 4M306 461l8 0M479 480l-4 1M57 595l-6 3M59 548l3 7M134 485l1 4M239 461l-1 3M212 494l4 3M107 291l4 6M366 394l-1 3M539 428l-6 1M137 427l-4 6M411 334l-1 2M365 444l-7 0M307 338l1 6M385 470l1 5M176 644l5 1M86 608l4 1M90 508l1 4M374 513l0 3M260 375l-1 2M450 568l5 4M532 310l-3 3M405 305l-2 1M373 399l1 5M217 453l1 4M288 378l-2 2M348 635l3 2M275 382l-1 2M70 547l2 4M305 558l1 4M507 367l2 4M486 555l-3 3M542 369l1 5M478 317l-2 2M515 338l0 7M121 447l-4 6M46 509l-5 5M344 641l-2 6M180 389l2 5M367 638l-2 5M310 502l2 4M520 427l-3 7M348 483l-1 4M500 419l-0 7M556 617l-2 3M498 421l2 3M224 394l3 6M411 517l-2 6M411 330l7 0M362 394l-6 0M175 306l1 7M422 323l1 4M305 517l-3 2M439 536l-2 6M190 440l-5 3M524 432l5 1M216 623l3 2M32 468l7 2M312 635l1 2M550 328l-6 4M315 532l-2 5M153 292l-2 4M464 332l3 0M329 444l-2 7M274 505l-7 2M40 364l2 6M322 527l2 4M188 429l6 2M247 655l0 4M47 457l4 1M148 327l2 1M343 659l-5 3M98 488l-4 1M205 404l-2 3M239 363l-6 3M457 580l-0 3M315 537l-6 3M128 340l-1 2M287 535l-3 2M505 454l3 1M398 574l-6 2M232 634l-2 4M522 336l5 1M216 501l-6 2M327 435l6 5M254 382l-2 1M347 524l1 3M503 322l-5 2M393 334l-2 3M393 567l-4 6M160 633l4 3M334 416l-4 1M417 294l-0 8M479 429l5 5M97 337l5 4M350 458l3 0M382 421l-2 5M223 551l4 1M329 508l2 3M127 313l-0 2M273 305l7 1M534 448l-1 5M376 481l-3 3M414 511l-1 3M242 618l-3 5M459 576l-3 1M458 298l7 2M89 345l7 1M339 499l-4 3M110 620l-1 4M543 436l-0 3M231 514l3 3M552 566l-0 3M186 573l-2 2M403 562l7 3M262 313l1 5M126 379l-2 6M34 603l6 3M440 419l7 4M314 385l-1 3M152 427l-8 1M309 541l2 6M215 351l5 0M248 408l7 3M107 520l-4 2M389 506l0 5M281 589l-6 1M301 491l4 4M231 509l3 2M548 439l-6 1M262 525l2 2M496 567l-2 1M173 381l-4 3M380 654l-0 5M67 360l-5 0M233 411l6 5M229 448l-3 2M242 563l0 8M347 543l-2 1M263 572l-2 8M59 325l-2 5M391 617l7 3M248 420l-6 3M164 374l-4 5M68 562l-5 5M92 440l2 4M51 433l4 5M435 559l-2 7M408 522l-6 3M153 510l-4 2M290 557l5 1M358 512l-3 5M250 430l5 1M93 605l-3 3M397 603l3 1M106 307l-5 3M527 305l-4 4M127 329l-4 4M46 602l6 1M159 394l4 5M386 584l3 3M313 394l3 0M533 541l-3 6M38 310l4 3M130 561l-7 1M388 519l2 2M370 381l2 7M274 621l-1 5M281 637l-4 2M299 489l3 6M532 378l5 3M388 404l3 4M166 360l-3 3M511 595l-7 1M490 528l-2 7M532 486l-4 5M462 558l-2 2M247 318l5 4M210 387l-7 2M227 491l5 5M32 306l5 3M479 344l5 4M257 476l3 7M363 524l-8 1M320 327l-4 0M227 367l0 4M79 315l-4 3M211 607l-6 5M242 655l-1 2M103 607l-2 2M208 369l1 5M129 438l-6 1M245 300l3 6M244 647l2 1M522 513l-0 5M139 458l-4 4M263 502l5 3M528 576l-5 1M498 350l-1 5M227 435l7 2M358 380l-2 1M285 328l3 3M346 320l-0 2M189 314l1 3M307 413l3 2M102 306l-0 7M125 358l-4 0M561 364l-5 0M284 599l1 4M241 453l1 2M418 439l-4 6M400 525l1 5M206 324l4 6M124 417l1 2M290 542l-4 2M61 321l5 2M489 518l7 1M493 412l-2 2M124 415l-1 6M424 552l-2 1M64 616l-4 7M52 592l5 3M269 395l3 0M320 312l5 3M306 317l3 7M104 455l-4 5M503 500l-1 4M175 592l5 2M183 367l0 6M503 459l-4 4M543 372l-5 4M284 483l3 6M321 407l-1 4M47 589l-2 3M512 544l1 2M94 434l1 3M435 389l3 5M178 491l1 8M116 471l1 4M408 473l0 3M337 466l3 3M168 626l0 3M378 393l-7 0M358 631l-2 2M533 387l-3 6M266 595l6 5M157 310l-1 4M369 542l1 3M243 366l1 2M253 398l3 3M249 416l-5 1M275 327l-1 3M59 470l7 2M438 642l0 6M418 375l-5 5M123 370l-4 1M406 308l-5 4M547 649l-4 6M394 457l-2 2M203 464l-1 4M333 644l-1 6M487 603l1 6M480 588l-7 4M296 524l2 2M63 562l8 1M340 472l-4 1M44 410l-2 3M326 426l-1 3M208 566l-3 5M287 429l-6 3M312 636l-3 6M369 588l1 3M60 307l-4 7M467 367l3 2M529 583l4 1M249 429l5 5M553 398l6 5M358 561l-2 5M448 550l-4 0M186 589l-4 3M401 625l6 4M109 309l1 4M549 411l-3 3M321 355l5 3M532 348l2 2M468 403l0 4M537 295l3 6M305 541l4 6M206 531l4 4M355 434l-6 4M114 591l2 2M479 589l-0 2M202 465l-3 2M451 395l4 6M268 567l-1 8M340 536l-2 5M317 449l7 3M211 473l1 2M336 439l-4 1M406 372l-2 7M342 365l-2 2M335 395l4 1M457 348l-1 1M487 412l-1 2M560 636l-5 0M541 582l6 3M242 493l-1 2M84 605l4 0M327 538l2 5M300 445l1 3M237 642l-4 2M421 486l-2 3M511 571l-1 2M143 430l8 1M312 301l-1 2M105 496l6 4M523 458l6 2M282 471l4 0M254 414l4 2M294 432l7 2M535 439l-5 5M316 520l4 5M434 614l2 3M361 356l2 5M419 314l2 4M46 598l1 3M509 555l-4 6M98 512l-0 4M354 612l-0 7M562 428l-1 6M160 346l5 6M536 319l-2 4M115 495l3 2M227 489l0 5M313 423l-1 5M270 451l5 4M433 566l-1 3M56 441l1 4M506 567l4 7M338 437l-6 0M187 605l-1 4M336 660l3 1M287 463l2 3M58 362l-4 2M498 508l-1 7M449 570l4 3M515 375l1 3M542 377l-2 1M542 587l-7 3M486 582l4 1M67 594l-1 4M176 479l3 0M352 399l-3 2M272 472l0 5M463 561l4 0M524 322l3 1M268 340l-0 3M448 551l1 7M265 433l5 1M100 646l-1 7M497 614l2 0M75 591l-3 2M514 643l2 6M259 422l-3 2M89 294l-0 5M75 417l2 3M225 500l-3 0M366 483l3 6M48 538l-3 2M545 493l2 4M494 650l-2 1M31 600l5 0M497 537l-5 5M165 409l-1 2M81 502l0 3M207 323l6 1M45 351l-3 6M352 457l4 6M81 483l-0 5M214 585l-2 1M433 433l-6 4M275 502l3 6M539 439l-3 0M430 453l6 5M412 371l6 0M419 550l1 7M59 300l2 2M529 624l3 7M385 639l1 3M344 484l-3 4M279 331l-1 3M307 452l-1 6M553 640l-0 3M394 505l-6 5M347 449l5 5M464 379l-2 2M288 498l-4 4M105 337l0 3M346 511l5 0M288 453l5 1M308 303l-7 1M349 567l7 0M257 361l-1 3M96 362l-1 4M425 312l3 4M220 472l4 1M469 487l-3 6M271 446l2 2M51 431l-2 7M159 625l4 3M388 487l-2 1M381 461l-5 0M364 572l-0 8M407 656l2 5M300 316l1 7M329 313l-6 2M107 510l4 3M113 443l6 0M303 315l-1 3M508 473l5 3M393 639l-2 4M79 321l-7 1M191 335l-2 4M443 400l1 2M119 474l-1 5M265 483l1 2M389 488l-1 3M217 346l3 6M504 362l-3 6M218 635l2 1M258 587l-7 3M82 469l6 0M242 477l-2 1M535 455l-0 3M291 606l0 4M260 316l-4 3M527 520l-6 4M483 433l-3 3M294 303l-4 2M515 423l-3 2M277 654l3 1M364 614l-1 4M138 449l5 3M359 314l7 1M473 488l-5 1M473 550l-5 3M165 618l-0 4M335 510l-3 1M528 320l1 4M297 487l6 1M261 356l1 2M291 462l-2 1M386 457l3 1M518 485l7 1M521 368l1 7M253 322l2 5M212 576l-2 6M88 512l5 3M327 445l1 2M361 436l4 2M364 428l-7 2M454 615l-7 2M523 494l-3 1M518 541l-1 2M157 581l7 2M436 553l3 4M336 537l-3 7M555 396l2 2M381 525l-1 5M439 310l-2 0M317 572l-6 3M327 661l-4 0M189 617l3 3M547 415l5 3M495 446l5 1M544 384l-5 3M521 379l-3 2M62 583l3 0M319 424l3 2M103 354l-3 5M453 586l1 3M100 568l6 3M322 568l2 0M65 292l-5 1M223 581l-3 1M532 458l-4 0M95 316l2 3M289 557l-5 4M293 391l-0 8M70 522l0 3M68 488l3 4M412 560l-2 4M458 362l4 1M99 586l-6 3M71 600l2 4M494 375l-3 1M143 641l2 4M179 504l4 1M67 586l3 2M255 582l3 6M536 295l-1 2M514 490l-3 4M564 643l-3 6M126 562l4 5M343 345l4 1M392 499l-3 4M281 433l-6 2M426 503l2 1M201 422l2 7M334 607l-6 4M382 600l1 7M403 494l-5 1M484 656l1 5M505 570l-0 6M91 357l-2 6M361 612l2 2M270 516l2 6M231 643l3 2M275 605l-3 1M420 538l7 3M187 357l-6 4M80 604l2 5M278 555l2 4M153 316l2 4M343 650l1 2M464 550l6 2M544 437l3 0M231 478l-2 2M377 592l5 0M457 473l-2 7M136 647l1 5M491 304l4 1M523 340l3 4M97 306l3 4M127 572l3 0M548 559l-5 0M395 499l6 0M520 592l-2 1M303 544l-0 2M481 365l-4 4M240 651l1 4M476 292l5 2M50 620l-2 4M243 478l-1 2M535 409l-5 6M370 514l-3 2M523 337l-1 3M483 355l-2 4M480 470l-6 3M426 619l-4 6M216 480l7 4M366 492l-7 1M337 653l-3 6M326 439l2 1M424 548l4 3M210 572l2 5M90 584l-3 4M524 332l-4 3M138 588l-3 2M527 537l-7 3M323 469l-3 1M359 576l-6 0M319 319l-4 4M405 471l5 4M44 353l-0 5M210 429l3 4M524 532l3 3M500 434l6 1M516 364l-3 1M423 397l-5 3M423 404l-3 2M543 484l-2 2M303 464l-3 2M542 414l3 1M161 467l-2 2M55 382l-4 6M380 308l2 7M431 555l-2 2M326 511l7 3M218 397l-2 6M211 379l-2 1M317 478l-2 3M258 385l-6 3M319 327l-2 7M181 514l2 1M311 596l1 6M338 334l-4 6M502 517l7 3M169 605l2 3M194 619l2 4M320 560l0 5M496 314l1 3M80 655l7 4M110 301l4 5M357 607l-2 2M395 344l2 2M99 430l3 4M504 596l8 1M303 346l-1 3M77 652l3 0M357 473l0 5M299 555l5 0M427 295l-3 4M146 549l4 1M302 540l2 2M513 440l6 5M327 648l-5 6M157 408l-4 5M467 584l-5 2M106 442l-4 3M544 472l1 5M524 486l-3 0M337 463l3 2M344 455l-2 5M446 589l-2 2M537 481l2 2M315 322l-1 5M288 504l-4 5M297 407l4 2M351 428l4 0M376 652l-3 4M476 370l-2 5M301 299l-6 1M525 322l-4 5M34 360l7 2M252 294l-1 2M403 397l-1 5M158 553l1 4M445 320l1 4M161 301l-1 8M108 488l-3 2M87 550l-2 6M471 620l-0 2M220 542l-4 2M134 556l-3 6M276 607l-5 2M437 477l3 2M106 430l5 5M150 647l-3 2M373 473l-4 3M204 457l-4 3M506 476l7 1M539 437l-5 3M437 319l4 3M553 454l3 1M337 525l4 3M530 563l7 3M191 428l-0 3M363 296l-3 4M296 345l4 1M158 452l0 6M44 307l3 1M38 309l-5 5M294 348l-1 3M350 306l2 2M56 470l3 2M338 494l-2 4M305 393l7 3M473 393l7 0M464 607l3 3M273 577l3 7M46 425l-1 2M299 436l2 4M420 329l-2 1M119 298l-2 3M202 297l1 2M454 651l-4 2M509 350l5 4M385 313l4 1M427 338l1 2M530 634l-7 0M217 597l-1 2M323 622l-7 2M215 659l1 3M370 423l3 7M56 460l-3 1M263 431l1 5M194 604l-3 4M54 478l-1 5M307 455l5 1M337 388l2 3M425 525l-6 3M387 525l-3 4M281 410l-5 0M424 482l4 0M510 586l-1 3M33 459l5 5M342 466l-6 5M261 592l-1 6M147 381l7 2M275 643l-3 0M401 484l-0 4M137 650l5 3M308 307l4 0M59 370l0 7M261 468l-5 2M273 484l5 4M473 571l-5 1M288 336l-7 0M493 332l0 2M517 466l1 4M246 626l2 1M109 561l5 1M145 600l7 3M519 622l4 5M302 436l2 8M70 486l3 6M340 474l0 4M55 402l-1 2M286 604l-3 4M317 486l-2 5M229 395l-4 1M518 452l-0 5M255 602l8 2M166 367l-2 5M309 369l3 1M165 587l4 1M286 449l-1 3M49 548l1 6M415 534l2 3M349 422l-4 1M371 572l3 6M82 593l3 7M319 653l1 6M182 384l5 2M336 521l4 0M206 608l-3 5M320 320l2 4M125 449l4 6M229 601l-2 7M300 577l-2 2M167 628l3 3M463 568l2 2M506 556l-2 5M293 314l0 2M331 404l-1 3M195 390l-7 3M503 299l6 5M304 294l0 3M215 322l2 0M562 408l-3 5M276 296l-1 8M346 503l4 0M498 371l-1 6M281 534l2 4M53 324l3 3M521 497l2 1M251 333l1 6M453 367l1 4M128 608l4 3M309 459l-5 0M364 585l-2 1M241 463l-6 4M397 420l-3 4M207 612l-1 2M297 562l1 3M187 657l-2 1M347 355l-2 2M310 406l5 2M289 541l5 4M219 396l1 2M192 641l-0 6M460 543l-6 0M283 355l3 2M318 484l-0 4M339 613l0 8M395 473l3 2M282 392l-3 4M42 495l-2 2M299 619l5 0M372 438l-2 2M121 315l4 2M334 545l-1 3M410 450l-3 4M267 385l5 3M203 459l-0 3M115 478l-3 1M560 316l-3 2M520 407l7 0M335 449l-4 5M525 560l-5 3M88 516l3 3M54 325l4 1M301 433l3 4M497 339l-0 5M387 552l-4 4M437 474l-5 1M414 586l-3 1M269 522l0 3M47 441l0 6M58 457l-6 3M367 314l3 1M298 640l-3 3M390 399l2 3M63 530l-2 4M72 498l-4 5M198 458l5 3M245 658l3 6M126 571l3 5M389 513l-3 3M325 378l-3 4M85 511l1 3M310 536l-5 1M38 352l5 2M402 655l-4 5M371 445l2 2M443 592l-2 3M516 567l-4 2M550 392l-1 4M503 566l3 1M414 645l3 0M315 395l6 2M174 419l-4 0M152 574l-7 3M398 442l4 5M285 307l-3 5M108 476l-5 2M384 523l-2 0M253 359l-0 2M494 461l-2 7M111 357l3 6M130 535l-4 4M158 626l4 3M322 590l3 2M184 636l5 6M362 550l4 1M479 626l-2 6M169 627l0 7M187 491l2 1M162 610l1 2M260 424l-2 1M91 566l-1 4M423 450l-4 1M548 444l6 1M61 538l2 2M369 465l-1 7M388 325l-2 5M316 350l4 0M242 593l5 1M73 365l-4 2M45 412l-7 2M386 298l2 1M288 513l2 1M504 383l7 2M352 445l2 2M559 303l1 5M453 455l-0 7M84 473l-4 5M203 476l-2 6M543 320l-2 4M385 627l1 2M67 349l2 2M265 459l-3 0M307 318l-5 0M192 326l-5 3M243 495l5 2M47 390l4 3M454 642l7 3M87 561l3 3M382 654l-6 2M445 414l7 1M242 488l4 0M346 407l-2 2M219 560l-2 4M540 501l-1 5M182 627l6 5M165 492l1 5M344 457l-2 1M99 568l1 4M407 402l-2 4M134 314l-1 5M377 654l-2 6M241 648l-0 6M518 606l-2 5M161 313l-4 4M66 570l-7 2M179 643l1 5M164 352l4 1M233 394l-0 2M91 473l-3 7M55 307l-5 3M407 335l6 1M234 502l5 4M251 580l-1 2M519 533l3 2M473 332l1 6M395 382l2 1M263 637l-4 5M385 596l-4 0M90 566l2 2M531 316l-4 5M211 491l2 1M57 611l-6 1M514 428l-5 1M555 442l1 2M72 506l-2 1M513 354l-1 5M532 481l3 1M344 543l2 1M390 597l4 4M354 529l8 2M354 290l-6 4M75 594l3 2M469 640l-1 3M267 504l-5 0M455 517l-1 2M351 305l3 2M62 329l-5 5M340 307l-1 2M50 327l-5 3M491 436l-3 5M385 378l-1 3M103 564l6 2M182 402l-1 7M384 496l5 5M375 386l6 1M218 468l2 5M225 615l2 2M361 496l-4 3M555 642l-0 2M139 619l-5 0M252 439l1 2M115 455l2 2M159 324l2 3M187 459l-3 0M309 412l3 4M300 570l-3 4M552 366l5 1M414 445l5 2M450 377l3 0M340 443l-4 4M234 600l4 4M444 558l-2 1M404 582l-6 4M450 527l2 4M55 467l-2 4M407 387l-0 3M157 399l-3 6M104 642l-4 4M533 348l3 0M491 415l3 0M536 389l-4 2M464 328l2 5M479 548l-7 4M210 376l3 1M521 478l3 1M492 552l-6 3M303 427l-2 4M444 534l-1 4M276 443l2 6M314 498l4 5M61 546l5 5M242 452l-3 7M256 588l-2 2M465 298l7 4M94 541l1 2M556 391l-1 2M91 472l-2 1M417 501l1 3M247 543l2 7M467 597l6 5M355 420l5 6M356 513l4 5M422 476l3 4M274 391l0 3M540 458l4 4M484 528l-2 0M235 517l4 2M532 409l-2 6M227 455l2 5M123 310l2 6M434 384l8 1M366 316l-5 2M250 353l-4 1M303 328l3 3M219 560l3 1M342 532l-1 2M291 403l-2 1M110 321l5 1M473 299l-3 1M489 305l3 2M142 619l3 3M507 297l6 3M453 380l2 3M330 458l7 3M368 487l-2 2M348 512l5 1M367 631l7 4M312 505l2 4M258 417l2 2M187 335l5 0M239 323l1 6M296 524l3 3M241 644l4 6M416 379l3 2M427 543l-4 6M80 468l-2 1M528 502l6 5M502 308l3 2M58 605l-3 7M241 356l3 6M519 485l1 2M298 354l-1 6M322 355l-4 2M316 477l-3 2M405 366l7 1M453 559l-1 5M521 471l0 5M389 336l-1 7M119 438l3 3M231 588l-1 2M374 432l3 0M386 520l-3 0M50 473l-0 4M165 607l2 8M322 309l-2 2M519 546l-6 4M272 301l-1 3M344 521l-6 1M539 657l-3 2M540 518l-3 2M294 424l-2 1M324 633l-0 4M185 654l3 0M514 413l2 5M431 434l1 3M402 309l7 1M535 501l6 3M63 355l2 7M160 529l-6 2M498 538l-1 2M395 335l-1 5M321 312l6 5M524 406l-5 2M128 312l3 7M39 327l-1 3M325 364l5 4M182 468l-3 6M384 503l-0 2M271 476l4 6M436 448l-5 2M457 450l3 3M418 323l-4 1M387 406l-5 3M124 454l3 0M247 343l7 3M452 443l-0 7M263 495l4 1M415 548l-1 3M408 337l2 0M327 317l3 1M306 315l-4 4M550 404l3 4M422 628l4 2M374 596l-7 2M435 471l-1 2M298 489l2 1M367 631l2 4M207 403l-6 0M238 531l3 1M259 436l1 6M290 558l-7 0M69 435l-1 3M499 398l-4 0M130 292l-5 5M463 375l-6 5M358 499l2 3M330 338l3 1M457 388l-4 1M35 568l6 0M110 291l-2 3M210 446l-2 2M92 502l-1 4M332 569l4 4M263 446l3 4M139 517l3 2M70 601l4 0M431 522l5 6M386 440l6 2M396 477l2 4M489 642l-1 6M235 386l-7 1M384 400l0 6M401 420l-1 5M498 401l-3 4M348 397l-5 3M161 523l-5 0M491 315l3 4M497 576l-2 3M276 453l-6 3M514 612l-1 5M174 462l4 2M414 609l3 5M89 580l-4 1M427 553l5 0M540 489l-3 1M42 332l-4 4M342 547l4 0M248 616l-7 0M306 495l-0 4M395 481l5 1M297 411l-2 2M130 617l-2 1M156 552l5 3M39 363l-5 4M284 411l-2 1M176 622l5 1M196 483l-4 4M426 412l-0 2M374 597l4 2M424 572l-7 1M176 444l3 6M58 340l-2 4M340 502l-0 3M255 584l-8 0M223 411l6 1M493 385l0 3M256 589l-1 5M271 507l-5 4M295 389l-6 5M251 408l-3 4M148 646l-7 1M347 490l-7 3M256 574l-6 2M209 478l-4 3M172 321l0 7M260 440l4 5M188 599l4 2M441 531l0 2M406 564l7 0M138 578l-1 8M497 455l2 7M542 648l3 1M399 448l-2 2M212 445l-1 3M65 457l-4 3M332 484l-0 4M460 352l-2 2M233 384l-4 5M399 614l2 2M190 572l-3 0M387 508l7 3M129 312l-4 3M453 386l-4 2M454 299l7 3M312 315l5 5M345 475l-0 4M402 352l4 3M427 467l0 6M464 302l-1 2M299 438l1 5M388 381l6 4M169 401l0 6M517 650l-1 6M44 375l-4 4M211 458l-0 4M304 478l-4 6M541 624l-8 1M130 656l-1 3M94 580l4 2M542 487l2 4M92 304l4 0M113 516l3 4M43 572l2 7M276 609l-6 2M520 424l1 3M441 381l-0 4M531 619l2 3M325 330l-7 3M507 425l-4 1M515 470l2 5M323 644l-2 2M199 455l-4 1M502 513l-2 3M230 479l-3 4M483 567l-1 5M553 341l-2 2M78 515l-1 7M33 476l4 1M539 553l6 5M516 428l-3 0M346 350l0 6M311 540l-6 4M529 492l7 1M338 414l5 3M292 301l-1 6M259 578l-2 7M120 481l-2 4M40 521l5 2M299 492l3 3M288 314l-2 2M112 446l-8 0M182 417l-1 3M68 293l1 2M346 398l-0 4M347 505l3 6M533 642l-2 0M416 302l-2 2M537 637l5 0M511 479l6 3M218 363l-1 3M266 292l-5 3M111 461l8 2M467 536l-2 7M81 498l-4 3M429 304l4 6M234 484l5 3M548 594l1 4M551 570l1 6M153 295l4 1M54 545l7 2M297 344l4 7M540 455l2 5M510 329l-2 6M253 621l2 2M328 472l-2 4M70 342l5 4M512 292l5 5M71 346l0 3M129 657l-4 0M270 440l2 2M345 503l1 2M299 547l7 4M289 504l4 3M340 364l3 7M83 315l-3 1M356 493l-2 6M92 454l-1 2M438 404l-1 6M227 605l2 5M523 516l3 2M284 510l2 5M402 469l-4 3M237 564l-6 4M303 625l3 0M152 404l3 4M284 586l4 4M503 418l3 1M485 576l4 5M118 646l-4 1M287 498l7 1M480 446l-4 6M322 609l1 2M43 564l2 7M448 582l2 7M188 386l-4 4M297 541l0 3M93 452l1 8M291 557l7 1M127 516l-2 3M538 297l-3 5M377 592l3 3M294 602l-1 2M458 534l3 5M213 463l1 3M554 344l4 7M195 626l5 6M233 320l-3 1M46 345l-1 5M270 607l3 2M390 405l-4 1M196 615l2 1M285 309l-6 5M350 524l4 6M431 430l6 4M294 426l-6 5M124 459l2 5M566 411l-7 3M254 417l6 3M95 570l3 5M489 338l-4 1M381 423l-1 2M333 485l-1 3M450 609l-2 1M96 299l-2 5M71 406l8 1M225 392l2 2M193 325l-6 2M424 573l1 4M251 621l-1 7M385 523l-2 7M100 302l2 1M448 455l6 2M135 355l2 2M256 521l-1 4M86 455l5 3M223 512l-2 5M383 489l-7 1M33 317l2 5M384 297l-6 2M128 298l0 3M517 544l-4 2M158 505l-6 3M376 481l2 3M510 595l6 0M271 590l3 1M480 534l-3 0M307 300l3 1M279 388l6 0M358 320l7 2M324 351l2 5M331 374l-6 3M428 507l1 6M50 341l5 1M46 515l-4 4M118 517l3 5M54 350l-0 4M242 619l3 3M261 404l7 1M121 630l3 7M171 359l-3 7M49 474l3 2M80 372l-5 1M397 472l1 7M238 427l-2 4M351 486l-1 3M299 566l0 7M266 451l-6 3M535 511l-1 7M60 315l-5 6M53 321l0 4M346 477l-2 3M501 482l-6 0M344 522l-7 2M256 600l-3 2M288 442l-1 7M39 475l1 2M532 327l-3 6M89 513l0 6M44 406l4 4M427 567l0 3M129 305l1 4M406 511l-7 2M318 557l-7 2M116 330l-0 3M305 649l-0 8M428 468l6 4M54 368l1 5M450 329l6 2M551 425l2 5M482 344l4 5M370 440l-6 1M216 455l-1 5M329 303l-1 5M270 451l5 0M263 531l-4 4M434 301l-2 1M563 541l-3 2M320 530l-0 3M289 499l-4 7M222 498l-3 6M219 329l-0 3M522 568l-1 3M505 606l2 0M60 567l4 3M317 586l1 7M324 302l-1 7M477 528l7 3M123 443l6 1M76 575l-3 3M422 484l-1 3M260 387l2 6M457 397l3 3M377 320l1 3M213 300l-1 2M96 632l-1 4M374 642l-2 2M255 433l1 3M221 537l-3 3M441 320l4 6M281 351l2 0M340 644l-2 2M394 564l-8 1M85 608l3 5M113 485l5 0M289 353l-1 4M349 408l2 3M425 609l-1 5M356 488l-2 5M119 562l-2 1M323 367l-1 2M144 347l8 2M102 504l3 4M370 522l4 7M509 445l0 3M551 646l0 2M127 658l-3 5M172 540l-5 0M455 499l3 5M280 317l-3 6M229 378l-2 1M59 312l-4 0M46 633l5 5M243 516l6 1M268 450l-5 2M262 518l3 5M434 374l3 5M287 551l-7 4M329 658l-3 5M470 562l2 7M327 654l4 0M502 431l7 1M437 495l2 3M354 341l-1 4M88 603l-4 3M204 463l6 3M58 440l-2 2M39 592l-2 4M346 307l-4 4M329 583l-3 2M42 621l0 3M350 329l3 7M331 427l-2 3M528 583l-3 2M382 441l-2 1M103 303l-0 5M151 580l-1 5M510 644l-7 1M366 604l4 2M159 306l5 4M550 497l-6 1M422 585l3 1M223 420l-6 3M541 655l-5 1M428 319l-3 3M325 547l-0 7M449 295l4 5M522 493l-4 1M389 473l-4 5M424 308l1 3M254 571l3 2M197 290l0 5M306 551l-4 2M422 334l3 3M229 403l-3 4M402 510l-5 4M372 414l2 7M386 501l-4 3M414 448l3 3M526 609l-3 2M132 515l-1 2M414 520l2 2M282 447l1 4M54 580l-5 3M296 630l-5 1M447 339l1 4M423 391l4 3M321 606l-4 0M327 636l-0 6M527 577l5 5M131 539l2 3M338 601l5 4M257 635l-7 0M301 625l-6 4M305 322l5 1M346 507l-7 2M316 307l-3 1M237 499l-5 5M538 366l-3 4M269 307l-3 6M427 640l-1 5M558 306l-3 1M462 471l5 3M429 547l3 0M459 614l-3 4M130 399l-5 2M548 381l4 6M344 603l3 6M366 645l-3 4M499 413l5 1M491 457l7 0M71 626l-5 2M273 480l-3 1M37 420l5 0M83 460l-1 8M381 477l-7 2M91 539l7 3M39 588l1 4M114 548l6 5M386 647l-6 2M361 589l-6 5M368 524l6 3M477 591l-6 3M300 522l-5 3M555 385l6 3M130 622l-5 4M352 650l2 6M359 523l4 1M288 616l2 4M443 470l3 4M105 493l1 4M558 659l1 4M518 536l-2 4M303 334l3 1M221 628l2 1M259 435l-4 6M445 590l-2 2M473 519l0 4M366 555l1 5M36 300l-2 1M41 428l1 3M472 484l-7 3M49 341l3 6M206 566l2 7M386 476l4 4M427 563l8 1M237 417l-8 1M452 445l-4 6M320 459l-2 2M383 543l-2 5M130 381l-2 2M538 389l-5 2M134 298l-4 3M33 306l4 4M47 455l-3 7M299 334l-2 0M326 657l5 0M251 389l-2 2M549 535l-7 1M68 575l-5 4M169 590l-6 1M275 450l-3 2M160 436l3 4M558 473l4 1M322 518l2 3M522 326l3 2M205 305l5 1M343 649l0 3M515 429l0 3M215 476l-4 6M345 472l1 5M233 422l3 2M353 615l3 2M331 442l-2 4M111 323l-3 0M432 634l-2 2M195 360l-5 0M363 311l-3 4M479 304l2 1M377 294l1 4M354 622l4 7M541 433l-2 3M550 362l-6 0M331 655l-1 2M159 368l3 6M73 461l1 6M212 489l2 2M392 293l-6 3M421 297l-6 2M343 328l-2 3M322 424l3 3M40 297l-1 4M161 584l-3 3M61 441l-5 2M460 568l-7 2M503 513l4 4M278 395l-6 6M306 522l-4 2M260 614l2 5M66 492l-4 4M92 442l-3 7M371 424l8 1M116 294l-2 2M307 422l-6 4M68 411l4 3M353 505l4 5M405 311l-3 7M523 310l-1 6M255 301l3 2M334 655l5 2M396 615l3 2M514 493l2 0M346 628l8 3M304 311l-1 5M230 294l1 3M85 477l-1 3M467 315l1 6M426 555l-1 2M467 521l-5 0M469 557l2 7M280 604l-2 3M79 474l0 7M516 651l4 2M283 366l3 5M128 457l-2 4M234 317l6 1M230 604l4 4M203 488l4 6M323 406l4 2M421 434l2 3M116 545l5 1M226 381l-4 6M65 320l1 3M555 371l1 2M551 416l4 1M453 522l-3 1M286 521l1 5M195 372l-5 4M97 599l-1 4M196 411l3 4M536 414l2 1M391 561l-7 0M82 309l1 3M306 481l2 2M500 311l3 2M94 564l5 1M353 590l-5 4M85 334l3 2M367 358l1 4M543 578l4 2M481 447l5 0M221 549l2 5M164 380l3 1M460 632l-2 5M304 486l4 2M326 638l-0 5M72 373l-4 3M151 293l-6 4M163 308l-7 1M40 444l-1 5M182 412l-0 4M343 424l6 6M278 412l1 2M543 606l2 1M411 467l-4 2M112 518l1 6M474 617l4 5M442 348l-7 3M253 425l4 6M46 603l-3 3M256 390l3 5M556 506l-3 1M435 358l5 1M313 347l2 2M317 307l-4 0M414 564l-3 3M248 641l-1 3M481 315l1 5M378 412l0 3M528 385l-1 4M279 603l-7 0M225 456l5 2M369 486l2 5M150 484l-0 7M305 453l-2 1M317 583l5 3M402 307l5 5M298 533l-5 2M151 575l2 4M248 646l-2 5M290 475l2 4M296 600l-0 2M259 493l-5 6M91 655l2 4M407 406l4 5M283 466l1 7M181 416l-2 4M271 423l0 5M453 408l-2 7M172 569l4 2M127 523l-1 4M70 578l7 2M165 360l-1 3M273 304l0 2M378 558l3 2M322 308l4 6M42 507l2 5M380 486l2 5M302 326l-5 2M216 359l3 5M495 584l-4 1M246 366l-2 3M72 323l-4 4M235 456l-6 2M197 321l-2 4M398 469l-3 3M83 512l1 2M156 313l6 4M555 386l-3 5M308 506l5 0M345 626l6 5M441 597l-3 2M318 448l-2 4M502 554l-4 7M383 531l-5 1M370 413l-0 6M482 484l-3 7M486 522l-2 4M299 576l-3 5M252 567l-6 4M219 624l2 2M235 603l6 1M534 459l0 4M297 434l6 1M51 432l-5 2M90 462l2 3M550 365l-0 5M499 427l6 3M203 434l6 1M90 308l3 5M203 455l7 0M94 521l5 1M521 499l-7 2M302 591l-6 2M255 643l1 2M241 305l-3 0M140 578l1 3M347 498l-5 1M153 647l-2 5M157 397l-4 5M192 442l2 1M202 435l2 3M74 576l2 6M453 536l3 4M362 591l-2 3M448 442l2 6M437 394l2 0M60 596l-1 2M361 611l3 2M484 518l-5 2M548 419l2 1M557 536l-3 1M217 639l-3 1M529 419l-4 0M307 449l4 4M252 469l2 3M471 356l5 1M457 381l-5 1M479 605l4 4M99 515l7 0M260 335l1 2M324 621l1 2M551 324l3 2M318 324l-2 0M139 398l-5 2M402 368l-4 5M101 542l5 2M517 374l5 3M335 487l-4 6M404 343l-3 1M179 482l4 2M393 391l3 3M301 498l-2 5M333 525l6 0M405 325l4 1M276 439l-4 0M441 308l-8 1M40 568l7 0M198 485l-1 3M160 557l-4 1M311 519l1 6M214 457l0 6M41 430l4 1M180 291l2 5M404 469l-4 1M127 438l-1 4M128 658l-2 2M77 564l-4 0M61 339l6 5M312 429l-1 6M327 483l2 1M38 319l-7 1M330 336l-7 3M372 377l4 4M155 303l-0 2M450 501l-7 0M59 380l7 1M63 449l-2 4M73 586l-2 6M290 612l-7 1M274 515l1 4M226 376l3 3M294 388l-3 6M347 513l6 2M384 500l1 6M167 412l3 5M293 587l2 3M556 450l-4 6M521 467l-2 1M502 514l5 1M344 324l-5 5M200 450l5 2M362 314l-6 5M359 498l-1 7M392 466l-1 2M407 454l1 7M436 484l2 1M57 415l-6 0M482 330l-1 8M540 305l0 8M76 550l-2 4M483 461l3 0M356 560l2 4M395 625l3 5M207 465l-3 1M44 555l-1 2M54 350l-5 1M404 650l1 2M97 350l-4 2M211 340l-2 1M139 296l3 0M385 612l-2 2M122 430l1 2M420 607l2 0M515 307l3 2M273 637l-3 0M145 433l-0 3M504 321l-3 1M519 564l2 5M307 494l4 2M428 306l3 4M408 643l3 3M159 611l-0 6M517 647l-5 2M560 601l2 4M205 367l-5 4M45 469l-3 2M460 598l-2 6M352 585l1 6M333 597l3 5M512 322l-3 1M521 480l-5 3M238 554l-2 2M239 401l4 6M463 436l-7 3M493 537l3 0M150 362l-1 3M376 633l-4 3M483 447l-2 0M502 529l2 2M532 399l-1 3M372 571l3 6M186 311l-7 3M315 334l-2 6M103 632l-4 3M83 572l-4 6M346 444l-5 2M161 404l-3 2M523 591l-3 2M233 364l3 7M462 468l-6 0M495 438l-0 4M414 613l6 5M213 363l6 3M492 554l2 4M395 435l-3 5M401 479l-1 4M256 382l3 2M72 299l-3 5M84 328l3 3M217 405l-6 4M108 593l3 7M460 404l1 2M237 331l0 8M449 527l-6 2M266 581l4 2M538 407l2 5M71 636l6 5M109 653l2 0M134 325l7 3M211 566l5 5M515 569l7 4M207 627l-3 6M403 411l-3 2M391 557l-0 3M303 452l3 4M279 379l-1 7M290 505l-6 5M284 598l7 2M170 469l3 7M410 606l3 3M416 413l-1 2M550 650l-3 1M92 572l-7 3M398 558l-1 5M358 516l-6 1M327 489l8 1M120 300l-1 2M179 498l1 5M432 493l5 5M484 538l5 1M523 483l7 3M155 394l-2 2M336 419l4 1M45 303l4 2M303 308l4 0M271 513l1 7M233 440l-4 3M365 483l-5 4M471 502l-7 1M194 430l1 4M467 656l2 3M181 546l7 3M539 450l-6 3M487 447l1 3M353 512l3 2M209 597l-3 0M168 309l-3 5M372 555l-5 2M363 578l-5 1M503 330l4 1M293 535l2 2M322 660l-1 3M304 550l2 1M544 513l0 2M529 508l-1 3M43 403l-2 5M263 603l0 8M57 566l1 4M272 615l-1 2M378 530l-5 1M98 355l-5 3M50 508l-2 0M268 393l-2 2M109 290l4 6M361 293l2 3M479 493l-1 4M286 599l-3 2M121 637l-5 2M374 525l-6 0M267 486l-3 4M146 607l3 2M114 352l3 7M90 317l-0 6M345 349l3 3M533 413l-1 5M208 557l-1 5M213 468l-1 7M132 631l-4 2M542 357l-4 0M264 500l-2 0M450 527l-2 3M160 560l2 1M444 410l2 3M309 322l3 0M305 306l-1 2M508 304l-2 2M101 453l5 4M511 341l-6 5M121 381l6 2M303 382l-3 1M235 402l-4 6M555 497l-7 1M315 523l4 5M213 321l2 5M292 572l2 4M75 294l3 6M556 618l-7 3M259 591l2 1M397 659l6 4M273 604l4 4M121 412l1 3M542 456l-4 2M548 384l6 1M205 421l6 5M400 415l-1 5M239 459l-3 5M250 391l6 3M533 656l4 3M47 386l3 2M427 492l-3 3M527 587l1 7M386 505l-7 4M347 376l1 7M451 406l2 1M206 405l3 6M355 585l6 2M102 311l-2 1M202 354l4 0M308 650l-2 0M259 575l1 7M329 514l3 2M437 331l-5 6M321 528l1 2M65 479l-3 1M193 411l2 1M109 452l6 0M74 326l-5 0M489 478l5 2M463 435l-2 3M97 496l2 6M466 653l-7 3M470 611l-4 0M452 332l1 3M149 588l4 4M399 529l1 7M456 458l7 2M345 334l6 3M338 422l7 1M99 564l-1 5M244 585l3 1M424 412l4 0M116 297l-1 4M50 465l7 3M118 464l-5 6M203 353l5 5M359 414l1 7M109 336l-3 4M221 471l-1 3M343 550l-5 5M533 439l-1 2M379 654l-7 3M401 577l-3 2M171 360l-3 2M276 306l2 3M213 543l4 7M359 569l-4 2M539 476l-7 3M492 301l2 2M557 435l3 1M244 337l-3 1M482 321l3 3M369 451l5 4M142 440l1 3M140 579l2 1M211 599l-4 3M338 492l-4 5M109 378l-2 4M332 486l-1 2M59 463l0 4M423 335l2 2M61 524l2 5M361 575l0 3M340 310l-6 2M394 472l-2 6M554 638l-3 7M518 551l2 7M448 624l3 5M229 417l-2 0M527 306l5 4M545 303l-2 7M552 433l2 4M430 345l1 4M375 504l0 3M193 465l2 5M136 531l-2 1M493 427l2 5M56 341l2 1M151 315l6 4M62 294l-3 3M550 437l-4 1M332 634l0 2M218 477l-4 2M39 351l-3 4M435 294l5 5M480 564l4 5M548 469l4 1M313 474l-2 6M455 556l2 2M60 640l6 3M422 484l-4 4M58 461l-0 4M470 329l1 7M305 641l7 1M296 335l3 2M396 495l-0 3M444 382l-6 1M537 494l2 5M344 647l3 0M262 435l2 3M162 315l4 1M387 458l5 1M348 428l-2 5M436 465l-1 4M153 413l2 3M393 618l-3 5M378 320l-2 6M294 584l2 3M150 505l2 2M358 543l3 0M42 442l2 4M560 342l1 7M336 563l-4 3M513 531l-8 1M296 464l1 2M335 637l-2 1M194 397l0 3M363 441l-2 7M291 316l2 6M427 463l-8 1M70 558l6 1M509 611l3 1M310 438l6 1M130 363l-0 6M559 642l5 2M336 452l4 2M129 602l6 1M114 472l-6 5M364 429l-0 3M377 637l-3 0M249 654l1 4M485 435l-1 2M392 496l5 0M82 334l0 3M185 567l4 5M189 295l3 4M47 293l1 5M387 504l2 6M68 368l-3 0M190 313l0 2M286 541l-3 5M364 515l5 1M349 656l5 1M223 309l2 3M74 560l-1 3M72 587l-2 7M270 516l-3 6M124 409l6 1M295 355l-5 1M364 489l4 0M415 399l-0 6M263 488l-3 4M268 468l-0 3M195 369l-2 1M144 657l0 5M322 491l0 3M520 297l1 2M72 467l6 2M480 594l1 3M305 424l-6 1M267 435l2 3M425 619l-4 4M506 422l1 4M352 497l-7 4M257 298l-0 3M365 290l1 5M464 529l3 3M123 484l3 2M294 455l-5 3M92 579l-7 2M563 401l-6 2M529 398l3 6M521 363l4 5M359 374l-6 4M267 503l-0 4M224 633l-2 7M264 398l-0 4M51 414l-6 2M54 483l7 4M478 384l-4 1M453 564l5 1M42 589l4 0M121 598l-1 2M511 585l-4 7M262 586l7 2M339 355l-4 4M70 435l-0 2M478 444l4 4M93 390l-5 2M190 598l0 5M325 448l3 1M212 475l-1 2M548 501l0 8M522 446l5 0M306 572l-0 8M88 434l0 5M492 428l-1 5M312 522l3 4M388 320l-3 4M290 441l7 3M258 608l0 7M385 512l4 2M80 490l3 2M549 425l1 3M318 479l1 4M557 632l-4 1M240 519l-3 6M369 319l2 7M417 506l2 1M247 392l-4 3M328 644l6 2M338 486l4 3M292 503l-4 3M273 475l6 4M198 608l-6 2M523 385l-3 1M357 593l-4 4M366 504l5 3M290 559l-2 2M499 434l-6 0M524 386l0 3M168 468l2 6M424 577l5 2M381 593l2 4M266 504l-2 2M310 482l2 7M175 326l2 2M507 335l2 2M189 618l-5 3M449 541l-2 5M308 660l-3 0M255 512l-0 2M160 569l-3 3M316 360l2 1M305 541l-6 4M269 508l1 2M181 618l1 3M154 409l-4 2M513 445l-4 1M62 480l-4 4M510 458l-6 2M389 443l4 5M384 651l8 0M284 306l3 5M308 305l6 1M346 588l-3 3M338 538l3 2M481 439l2 2M185 506l-2 5M134 590l-0 5M151 562l5 3M398 513l3 0M365 553l7 1M478 600l-4 1M508 446l-5 1M235 377l4 1M105 428l-1 3M435 525l-2 7M401 637l-2 8M278 314l3 5M427 358l6 4M241 430l-4 1M520 473l-1 5M291 544l-0 7M72 486l-0 4M378 447l-3 6M418 597l3 2M474 557l6 2M484 332l-2 1M90 568l1 3M108 588l2 5M359 459l-1 6M522 431l-2 5M65 626l-2 1M203 590l-3 0M492 497l2 2M439 493l-5 2M40 481l6 4M267 407l-4 1M524 616l-0 4M397 600l1 6M103 449l4 4M396 380l1 4M272 649l-4 3M547 424l5 3M290 553l-4 2M503 647l-2 0M384 492l-6 2M529 503l-7 0M554 601l1 4M533 517l5 1M92 460l-7 0M302 296l-0 4M48 299l-4 6M458 642l1 3M524 518l1 4M342 579l-0 7M523 412l-6 1M536 640l-1 4M357 309l1 5M372 393l4 4M527 399l2 1M243 602l3 4M356 527l-6 1M552 295l3 6M436 367l5 5M168 372l-1 2M67 453l-1 3M282 436l-4 1M472 542l6 2M163 645l0 7M53 589l3 0M369 646l4 2M451 593l4 1M471 512l-3 7M528 602l-3 0M373 312l0 3M431 406l-0 2M506 439l3 3M193 535l-5 6M315 494l3 1M286 328l-0 5M416 629l-5 4M480 344l-6 1M40 406l0 5M129 332l-3 2M536 451l-5 3M462 539l1 3M452 603l2 1M283 511l-2 6M294 384l4 7M268 530l4 1M232 572l5 3M97 559l-3 1M266 426l0 2M277 613l6 0M219 499l8 0M293 385l1 4M106 486l-3 4M62 519l-5 6M558 467l-2 2M319 325l-1 6M149 306l7 2M260 609l-4 3M523 336l-5 3M48 458l-1 4M40 344l-6 2M58 643l3 0M533 448l1 2M229 302l4 4M235 530l5 0M380 630l-2 1M283 496l-3 7M40 585l-3 0M98 304l3 2M185 309l3 2M210 429l-1 1M470 336l-3 2M300 426l-4 4M78 496l5 2M85 581l5 2M299 379l-5 5M174 322l2 4M196 519l2 2M216 339l-4 0M434 556l2 2M247 312l-1 5M112 317l7 4M232 447l-4 1M221 371l-7 3M373 303l-1 7M110 398l2 5M95 292l-1 6M67 374l1 6M161 444l0 3M90 311l6 2M484 430l2 5M261 349l4 3M67 336l6 4M347 479l6 3M388 435l2 6M449 571l-5 1M130 559l1 4M370 461l1 4M191 590l2 0M518 466l-7 2M330 452l-0 8M415 523l-0 3M384 364l4 6M369 495l6 2M264 632l-5 5M287 651l2 6M537 363l-2 7M53 553l-1 6M43 291l3 4M151 648l6 2M239 361l5 3M320 621l2 6M220 398l3 3M419 337l-0 3M519 378l5 4M249 654l3 0M411 537l4 4M89 445l-3 2M85 447l7 0M473 397l-7 3M39 580l-2 1M460 329l5 4M94 400l-2 7M326 318l-4 3M255 596l-3 4M184 486l3 7M232 498l6 3M503 605l-5 1M258 398l-1 8M173 487l2 8M534 485l7 2M481 435l7 4M474 566l1 4M340 482l3 1M394 493l-1 4M491 643l2 5M135 634l-1 7M153 381l-4 5M158 523l5 5M96 416l7 3M202 420l1 4M280 450l-2 4M247 578l-5 1M141 304l-3 4M294 449l-5 2M276 347l-1 5M476 579l-8 1M491 571l0 4M458 659l5 5M359 594l-4 7M376 489l3 2M219 368l-3 2M376 553l-3 7M552 575l1 4M55 572l-1 2M276 386l3 3M196 426l-6 3M263 495l-5 5M269 479l6 0M413 426l-3 6M395 392l-1 3M304 317l-5 2M361 646l6 3M359 616l4 0M198 477l-5 1M452 310l-0 3M219 367l-6 4M359 478l1 4M253 576l1 3M89 578l-0 3M480 439l3 1M471 384l1 7M399 381l-2 2M70 345l-7 2M418 408l4 2M217 621l4 7M276 651l6 3M130 452l-5 3M151 311l1 2M268 452l5 4M311 604l-2 1M111 625l-2 2M192 318l-3 7M397 487l-6 3M504 522l0 2M237 472l7 1M133 303l2 2M415 342l-3 7M51 307l-6 1M225 526l-2 3M272 462l-7 3M44 587l3 5M385 457l-1 2M538 488l-4 4M407 556l1 2M529 581l-2 4M92 507l2 2M504 451l2 8M409 369l-1 5M436 561l-3 5M466 348l1 5M261 442l1 6M92 405l-0 6M552 346l0 6M406 535l-5 2M52 385l-4 2M215 596l4 2M363 443l6 2M483 403l-1 3M241 420l4 4M492 327l-1 3M530 351l-3 4M463 524l-1 3M549 585l-1 3M123 545l-2 0M452 436l-5 2M68 442l-6 4M251 351l-1 4M366 601l-5 1M204 470l0 6M409 541l-1 3M544 460l2 7M144 425l0 2M503 545l-2 1M425 576l-1 2M302 529l-4 6M312 311l-0 2M347 525l-5 3M322 533l6 5M334 470l-3 3M227 319l0 6M478 652l-4 2M298 394l3 0M308 592l2 1M147 592l-6 1M399 481l-1 5M535 371l0 4M249 611l-3 4M304 474l-3 0M115 340l3 6M550 419l-3 0M76 373l-1 2M228 516l-0 5M409 614l-1 4M525 580l0 6M308 483l-7 1M308 642l1 7M551 617l1 6M461 307l-2 3M422 585l-6 3M184 603l3 3M194 350l-2 3M435 509l1 2M339 545l1 2M107 462l3 0M371 397l-2 7M196 532l-0 4M403 602l-3 2M413 476l-4 1M347 452l-3 3M54 583l1 3M453 305l6 4M48 327l-3 4M64 320l-2 4M92 540l3 2M180 440l-2 5M253 624l0 2M260 294l7 2M298 657l3 4M471 511l-2 7M431 297l-6 3M397 543l-5 1M180 466l5 0M424 643l5 5M191 498l-4 4M322 428l4 6M524 469l0 7M354 456l6 1M277 587l5 1M346 401l3 3M483 458l5 4M171 404l4 5M556 655l5 0M540 429l-7 2M301 438l1 2M464 438l2 6M210 509l5 4M359 438l-6 2M489 513l3 1M535 500l5 4M389 507l-5 4M227 446l2 2M256 484l2 4M223 371l2 1M380 306l2 2M86 620l-1 8M281 312l2 1M354 587l-8 1M306 559l-1 5M524 652l-4 1M371 523l-2 2M458 600l3 2M558 347l-3 1M246 362l5 2M386 301l3 0M520 505l-2 1M365 476l-3 2M352 511l2 8M157 368l0 3M451 596l5 2M430 463l-4 1M201 385l1 6M73 328l-3 4M289 335l-3 4M98 293l-3 5M308 426l4 0M326 374l2 1M543 340l-6 3M420 501l1 2M267 523l-1 5M491 329l-4 4M307 416l-3 2M117 564l-0 3M40 482l-7 1M47 326l3 0M504 531l-2 6M366 366l3 2M320 363l2 1M53 410l-2 1M512 518l1 3M39 526l2 3M215 503l1 2M93 456l1 2M485 399l-4 2M35 639l-2 2M428 430l-2 1M350 400l-8 1M248 510l-4 2M167 303l5 3M93 462l5 4M366 290l4 6M344 452l2 1M142 487l0 3M327 451l4 0M218 444l-6 3M362 484l4 0M266 654l8 1M453 627l-4 6M372 479l-6 0M500 614l-0 7M143 317l6 1M290 400l5 3M84 438l-4 1M357 439l-5 6M405 428l7 1M383 314l2 2M98 584l5 5M92 367l2 1M386 515l-6 4M64 520l-2 1M44 327l2 4M52 544l2 7M470 541l-6 0M471 383l-3 1M72 513l1 3M402 323l-6 1M202 432l4 7M145 421l1 4M562 337l-3 6M223 493l7 1M294 576l-6 1M128 450l-3 2M37 384l-5 4M292 517l-4 3M385 620l4 3M533 636l-6 4M332 413l3 5M319 516l-5 2M210 335l1 6M99 640l-5 2M514 322l-2 5M151 544l-6 4M358 349l5 0M239 439l-2 4M236 311l-0 7M322 564l4 2M550 439l6 1M514 316l-1 5M433 467l1 6M448 469l2 1M318 652l-6 1M335 580l5 3M43 476l2 2M164 516l-4 0M57 356l3 1M510 405l4 7M212 295l3 1M111 298l8 1M555 445l2 1M353 608l3 2" stroke="#7a7a7a" stroke-opacity="0.5" stroke-width="1.1" fill="none"/><path d="M498 437l5 7M134 399l1 15M309 487l-5 8M74 436l-6 6M227 372l13 4M173 615l-9 5M156 452l-6 11M350 419l-9 14M180 395l1 9M497 387l-9 5M351 442l5 13M541 627l-4 15M223 373l-12 9M498 396l-6 12M522 522l10 4M310 414l5 12M60 587l-3 11M208 619l12 7M521 330l-4 13M396 532l-9 5M142 466l8 10M42 365l17 3M111 432l2 14M403 442l-3 8M265 628l-15 2M183 306l1 17M40 371l-8 5M483 331l15 7M156 493l3 11M115 316l-17 4M528 408l-1 16M451 435l-10 4M339 322l5 9M97 461l14 3M316 453l-2 14M96 347l-1 15M318 642l-12 8M318 659l12 3M277 483l-15 8M139 565l15 7M443 475l5 8M389 624l0 15M532 394l12 11M400 384l-2 15M543 566l-11 11M188 611l4 10M329 486l-13 11M523 651l1 8M143 546l0 17M202 399l10 3M454 598l14 3M170 425l7 14M286 321l-6 15M528 615l-16 4M460 384l-13 4M479 437l7 6M374 428l-2 16M342 457l7 7M456 434l8 11M240 415l4 14M287 524l-16 1M479 390l16 8M250 487l11 0M412 522l-17 2M462 529l11 12M227 391l3 11M195 604l-11 3M63 343l-3 12M270 610l-14 3M39 314l-0 12M247 424l5 12M520 418l-6 11M391 537l12 5M208 337l9 14M197 415l-0 13M371 406l-6 13M180 645l-3 11M179 607l6 15M93 414l9 12M346 456l13 7M301 327l8 3M387 513l-10 11M320 491l3 16M308 434l2 8M334 456l3 11M275 492l4 12M514 601l-7 9M347 552l-8 12M410 456l-11 8M384 604l0 9M353 334l9 15M520 524l0 15M258 486l7 8M475 373l-3 10M63 395l-12 10M412 440l-4 12M110 554l-3 12M263 594l6 5M329 310l-9 7M502 610l-1 10M407 491l-4 9M93 498l-2 8M446 368l-17 2M268 433l6 6M44 375l-13 7M320 563l-7 7M105 576l-16 5M506 626l-12 1M360 621l-12 2M382 306l-14 2M545 458l10 1M301 546l14 9M271 496l-5 10M326 522l-17 3M66 330l-12 11M451 595l-5 17M392 463l6 7M505 293l3 8M439 555l5 16M63 323l-1 10M100 491l6 7M258 312l9 4M86 570l-16 1M519 468l9 3M478 597l3 13M532 507l-8 7M452 579l2 17M49 305l9 12M345 525l-12 6M133 638l-15 9M469 488l7 10M243 405l-8 12M312 296l12 2M486 403l13 11M315 414l-11 3M348 471l-14 10M437 304l11 8M36 405l8 2M117 310l7 14M535 426l5 10M88 452l-8 3M483 466l-5 16M219 348l3 10M532 444l-8 7M552 392l6 17M157 390l-7 7M87 441l-9 5M225 390l-5 7M59 288l1 10M329 395l-17 3M310 498l6 6M164 558l-12 10M81 613l-0 12M63 362l-8 3M471 336l-4 16M369 349l17 4M359 439l10 11M67 490l-9 12M334 326l-11 9M133 574l-17 6M442 576l17 5M332 514l-11 8M64 338l7 16M323 528l3 17M80 643l14 9M54 326l16 3M244 398l-11 14M135 311l-12 13M163 313l1 9M480 427l9 9M366 609l9 8M421 351l-7 5M258 458l-13 12M329 458l1 14M73 312l13 7M355 630l-2 12M302 478l-7 7M418 400l-5 7M500 449l2 12M284 493l12 3M401 477l4 11M272 573l-17 4M550 398l10 5M339 530l11 2M58 455l8 8M299 473l-12 8M237 393l-11 10M567 427l-12 6M180 398l4 17M181 459l-8 9M121 382l-15 6M368 571l-9 8M119 426l4 10M276 556l-9 13M273 604l-8 14M498 331l-2 9M424 419l-15 3M526 578l10 9M565 426l-11 12M235 306l3 10M245 425l13 6M97 365l-7 9M273 466l-4 15M64 535l7 16M104 439l5 8M271 307l7 7M62 498l-6 6M294 523l-0 11M257 345l9 13M493 374l12 6M312 417l-12 8M475 583l-16 6M539 457l7 12M103 295l15 8M90 631l6 8M357 299l11 1M251 288l5 13M49 308l4 17M192 505l-14 1M379 495l-4 8M53 592l0 16M310 413l-7 12M224 319l13 0M183 574l7 14M528 352l-7 7M193 308l13 10M188 641l12 10M175 299l-7 8M338 326l-10 12M451 652l-3 18M284 373l-8 6M552 616l-1 14M188 415l1 15M340 371l5 17M266 493l6 7M58 441l12 8M365 498l12 11M380 437l-9 6M180 597l13 6M272 593l-2 10M339 379l4 13M99 550l-3 8M68 506l-5 17M39 285l-2 14M504 354l-10 1M190 512l7 15M251 545l-15 9M553 352l16 2M200 307l-2 8M382 395l6 7M163 540l16 0M476 291l-3 13M155 454l3 10M556 642l9 15M505 535l14 3M394 635l-13 5M485 414l-5 7M382 426l11 8M58 518l12 12M144 621l6 14M57 292l3 18M74 591l13 5M352 307l-12 11M428 566l7 14M420 564l11 10M314 628l-12 7M363 517l-12 11M300 540l12 6M562 381l-9 15M80 480l5 10M301 386l-17 1M123 466l-8 13M520 494l1 13M208 291l10 8M304 301l16 6M132 450l8 16M380 636l10 7M117 524l2 11M535 528l5 9M87 570l7 4M212 427l-8 4M518 570l-2 15M450 548l8 2M556 629l13 12M293 437l-9 4M119 296l14 7M76 658l-10 5M514 324l-15 5M83 582l6 6M212 586l1 10M200 639l9 3M518 625l-6 8M317 433l15 5M366 653l8 14M370 473l-9 10M294 441l7 10M280 563l12 0M66 360l7 11M423 536l-13 2M151 350l14 5M246 615l5 7M279 447l7 15M141 293l15 0M170 653l9 8M392 480l-9 13M357 436l-12 10M379 555l-4 11M295 498l10 4M309 651l-7 14M82 542l-6 11M177 655l6 11M411 577l-5 7M541 600l-0 13M507 618l-8 11M128 510l-11 1M124 475l5 8M226 416l-8 2M281 478l-1 8M407 452l-5 10M371 516l-6 10M402 335l1 9M347 343l12 2M252 484l5 7M431 635l-8 12M294 600l6 6M180 538l8 10M399 433l-8 14M297 577l-5 12M506 433l12 4M556 594l-1 8M493 464l12 1M446 382l6 14M254 622l-8 10M310 428l-10 8M364 512l-14 5M74 468l9 5M554 388l7 14M207 339l14 8M148 297l-16 2M514 351l3 8M388 388l8 6M249 425l1 8M384 342l-15 5M234 332l6 9M197 623l1 14M531 318l9 0M280 580l-2 17M223 367l-1 12M266 641l14 8M180 602l4 12M301 370l-1 17M160 425l1 9M411 309l10 1M524 652l-13 3M321 569l0 17M330 440l14 1M173 405l3 8M452 593l6 6M253 626l-1 11M261 402l10 6M329 366l-10 0M480 397l16 2M268 499l6 6M54 609l-9 14M396 647l14 1M111 302l4 10M533 642l15 3M167 446l-3 10M449 482l-10 15M371 464l1 11M435 614l-5 8M363 500l-13 8M129 547l-14 11M535 461l2 13M389 316l7 15M559 394l-13 2M277 522l11 8M202 462l12 8M440 338l2 9M323 306l7 13M350 489l-11 1M497 404l7 3M173 293l10 9M353 372l3 8M31 459l10 13M222 312l-12 4M448 338l-9 2M267 574l13 4M370 371l-2 11M542 500l-9 4M530 532l9 10M353 633l9 7M257 453l18 0M205 405l16 6M314 502l12 12M268 571l5 15M490 300l4 7M421 288l4 13M505 307l-15 7M342 559l-7 14M325 324l-12 0M42 450l1 9M443 339l2 9M209 321l9 7M390 342l10 2M491 505l-2 12M311 483l10 11M558 461l-9 12M125 502l11 9M259 310l5 13M481 592l-4 15M384 496l-14 5M539 311l6 14M486 468l-3 9M67 553l9 2M373 503l-10 1M451 492l9 13M467 574l16 1M453 518l8 2M367 411l9 4M476 319l-5 9M338 372l0 10M297 500l-4 9M364 448l-12 3M125 480l13 6M479 551l-10 4M456 523l4 13M517 539l7 12M231 306l11 12M304 653l8 3M43 351l-13 1M382 351l-3 9M266 653l13 7M310 489l-14 7M353 507l12 3M558 339l4 9M220 462l11 6M363 466l-9 7M183 328l-1 10M126 526l-7 15M240 430l-7 8M276 410l6 15M308 508l-13 10M202 628l15 9M255 514l-4 12M56 338l-9 5M252 507l11 3M292 618l9 8M356 319l8 12M85 461l17 5M47 594l-7 7M235 424l12 13M506 415l9 14M368 570l2 10M466 373l-14 11M367 345l15 8M345 434l-14 8M168 548l-6 6M433 648l7 8M273 288l-5 12M413 515l-8 8M296 425l-4 11" stroke="#b8b8b8" stroke-opacity="0.45" stroke-width="1" fill="none"/><path d="M303 553l9 6M341 326l-1 9M259 604l9 0M304 570l-12 7M43 480l7 5M486 426l10 14M62 329l5 16M298 578l7 9M543 374l6 14M326 419l-7 14M544 471l-7 6M173 489l10 5M432 522l9 4M73 596l-9 5M296 515l-6 7M130 530l5 8M160 451l-6 9M398 547l-6 7M338 446l8 3M506 291l-10 12M505 351l-6 6M489 544l-16 8M527 522l9 10M41 437l2 9M244 528l-10 0M522 532l-15 8M513 313l-10 1M312 642l-11 4M403 419l5 7M527 371l-7 6M129 581l-10 4M234 594l-1 8M469 526l-11 7M370 455l-7 8M51 583l12 5M327 507l11 11M351 392l15 4M550 477l-12 6M315 299l-7 11M290 413l10 3M324 638l8 8M241 634l-3 13M422 546l-9 13M66 573l-8 9M65 407l12 2M487 388l12 1M566 363l-8 0M253 458l-2 11M66 498l8 4M208 479l8 6M541 410l-8 16M77 491l6 15M389 595l-10 11M275 585l-7 15M95 307l6 8M263 587l8 1M567 458l-11 10M344 444l4 10M267 581l7 7M504 474l14 2M299 553l-1 9M329 598l-15 2M122 463l-4 14M366 632l4 7M238 657l-13 3M283 430l3 9M131 642l-5 11M548 528l10 11M65 645l-11 5M247 578l-8 5M376 412l2 12M361 465l10 9M527 647l-8 9M508 464l-2 18M173 392l3 16M350 421l-10 10M299 405l-0 12M396 544l-12 4M534 491l-11 3M386 458l12 6M277 469l-11 12M254 353l-9 11M486 405l0 9M285 493l7 8M37 529l1 14M326 602l13 10M317 647l-12 5M246 406l10 7M227 408l4 15M234 450l-11 12M247 651l-15 6M62 509l-15 0M315 644l-7 13M492 457l10 4M422 569l-8 16M367 440l-11 7M422 288l9 10M88 475l-9 6M377 546l11 5M539 477l-6 7M265 491l16 3M298 517l4 9M194 369l-11 12M270 551l9 10M256 475l7 7M482 320l10 7M265 314l-12 8M293 455l5 14M398 485l9 15M480 518l-4 12M333 642l8 12M52 367l4 10M250 424l-14 2M141 488l-13 3M298 634l11 8M133 584l8 10M207 311l-3 10M336 466l-9 0M103 456l-10 1M294 521l14 11M194 424l-13 2M407 318l-9 4M248 413l-5 14M321 380l-14 5M422 381l-7 7M202 301l4 14M316 433l-11 8M552 628l10 9M207 485l-13 3M139 309l10 5M547 483l13 2M68 351l2 10M60 405l-8 10M543 441l-17 0M321 299l1 16M309 644l-17 5M280 606l-7 6M40 468l-2 13M100 476l5 17M301 524l12 5M530 410l-7 13M464 396l11 2M456 487l-3 8M372 530l11 2M327 528l11 4M63 298l-11 5M523 436l17 5M494 381l9 9M333 405l-11 8M333 552l-9 9M491 403l2 14M403 458l-9 2M552 336l-8 1M36 522l13 5M105 463l10 11M184 303l0 18M279 524l-8 6M472 487l-4 17M502 464l-12 12M51 541l6 11M219 378l17 1M506 458l3 17M37 306l-0 9M395 508l7 11M336 443l10 4M341 474l-11 0M528 443l-8 8M288 354l-12 6M365 350l8 2M69 487l10 8M476 302l-6 16M507 501l-14 1M463 597l8 7M336 569l-14 2M247 458l2 17M437 594l-1 15M32 396l10 1M463 536l7 9M481 345l4 12M346 328l-9 12M412 623l-4 14M242 545l10 13M86 330l-8 4M154 655l7 7M466 429l-11 1M305 604l-10 8M435 553l17 4M495 408l1 17M384 295l-8 7M290 453l-5 14M541 512l10 5M112 455l14 8M339 489l-8 6M294 389l3 11M369 426l-3 11M344 524l-16 4M440 481l12 6M365 424l10 8M214 308l9 9M539 440l11 6M49 579l9 7M545 600l8 14M510 374l13 2M444 476l-11 5M137 324l7 6M384 602l11 5M42 442l-13 10M99 293l2 12M212 608l-9 12M53 535l-13 6M538 425l-9 12M154 328l7 8M198 535l3 10M532 530l-11 10M64 547l13 4M236 505l1 18M68 407l-16 1M493 402l-1 9M61 355l14 7M318 639l-1 13M356 630l18 1M244 456l-4 16M55 417l13 10M204 550l12 10M486 547l-4 12M337 556l4 8M107 297l-12 6M137 531l-5 8M520 613l-2 12M303 650l0 8M38 348l-5 12M309 495l11 6M542 518l11 13M549 451l9 11M365 499l-5 10M73 450l-16 5M274 307l9 3M81 459l-11 2M482 322l15 3M338 522l-11 9M56 320l-7 5M523 507l-6 13M83 349l6 8M160 395l12 0M510 611l10 7M250 421l-12 4M121 308l-1 12M239 443l-12 3M247 532l7 8M323 655l10 2M87 300l-7 8M520 511l-4 9M124 303l-3 12M59 470l9 4M547 353l-8 7M267 405l-12 3M304 418l-2 8M388 512l15 4M479 439l5 10M247 558l-16 2M86 353l12 6M254 489l15 1M314 476l-8 5M433 527l-7 8M493 535l12 7M522 335l10 6M330 423l3 9M490 543l-6 10M65 445l6 15M348 407l-1 9M545 512l-8 11M174 362l5 16M276 404l11 8M286 611l-0 11M279 473l-14 4M256 582l-9 2M481 479l12 8M502 525l0 8M239 593l-1 11M156 509l1 11M493 543l-17 2M255 476l5 10M463 494l-13 6M321 647l-7 5M513 452l7 11M339 629l4 12M373 476l2 17M386 590l-4 11M245 511l-9 1M441 567l-7 7M387 505l1 9M291 526l5 17M119 659l-11 4M415 555l16 0M338 580l15 2M301 541l6 6M43 542l-6 15M44 340l-11 12M435 289l-8 13M102 464l7 7M219 465l-8 6M92 493l8 8M382 498l5 10M316 441l1 11M516 288l-16 7M501 357l-11 6M155 502l7 4M546 447l10 8M341 586l-16 5M412 414l10 2M318 368l-3 11M405 464l-4 11M394 317l-4 12M462 391l-1 9M348 482l13 4M317 542l-5 11M268 641l-1 14M50 564l18 2M62 365l-6 10M240 411l-8 13M309 317l-8 11M248 582l5 15M496 355l-16 3M185 434l11 0M392 345l-1 11M192 585l-5 8M317 486l11 10M263 433l-14 6M471 513l0 12M446 495l-0 10M284 576l-10 6M548 416l-2 10M39 344l-2 8M355 466l3 15M387 491l12 7M351 433l13 11M324 475l6 8M363 298l14 9M63 296l8 6M350 476l10 7M265 553l-1 15M283 394l-6 5M243 473l12 9M253 569l9 5M184 464l-11 13M255 304l-4 10M305 337l0 16M355 646l-11 6M515 578l-12 3M322 547l14 1M533 506l2 9M478 467l-11 12M377 291l-7 14M145 443l4 7M374 504l-12 4M130 469l-13 4M409 567l2 10M370 496l13 2M49 330l-8 3M85 462l-8 1M324 471l-3 14M361 398l9 10M312 643l12 11M556 588l12 10M120 359l-6 10M114 380l-4 15M419 337l11 2M520 288l-6 16M276 476l12 11M214 410l-17 4M475 512l9 13M76 512l-7 12M268 489l6 8M310 519l-10 6M146 604l-10 4M350 515l-9 15M537 293l-6 10M457 599l-10 15M461 409l8 3M379 595l-9 14M121 455l-3 14M106 336l6 9M384 509l-17 5M213 466l14 6M230 602l5 12M181 321l15 2M336 480l7 8M181 322l9 2M266 626l-0 18M302 416l1 9M437 383l9 12M428 349l-12 6M553 393l-16 0M321 314l-6 8M521 396l14 2M456 481l-8 7M148 495l9 9M274 610l-4 13M253 430l14 1M307 332l17 3M406 422l13 5M464 472l10 7M49 319l-9 9M553 338l17 3M540 609l-9 3M293 459l-12 13M236 499l4 11M282 552l-10 4M161 445l2 12M303 406l2 14M499 419l-10 8M555 351l-10 11M153 412l-7 10M551 425l12 2M166 306l6 12M541 530l-10 8M545 526l-17 5M230 554l13 9M238 310l-16 4M468 462l0 9M225 310l-10 5M437 321l-8 6M308 395l1 11M303 537l-11 4M113 532l-15 4M531 380l1 9M400 393l3 8M196 404l9 11M460 433l4 12M334 317l11 4M489 409l-2 14M182 298l-6 6M308 443l-13 2M199 297l-1 15M162 385l-3 11M298 306l14 2M451 372l12 8M429 377l-0 10" stroke="#a0a0a0" stroke-opacity="0.4" stroke-width="1.2" fill="none"/><path d="M445 372l-2 0M310 437l4 1M194 448l3 1M93 470l2 4M78 430l-4 0M450 469l-5 2M271 358l3 3M76 354l0 4M324 365l-2 0M57 541l-0 3M166 603l3 0M489 443l-2 4M426 432l2 1M78 371l4 1M130 563l-2 0M43 383l4 1M91 305l3 2M183 375l-0 2M464 513l1 2M45 392l1 3M100 649l-5 1M436 493l-1 1M126 310l2 3M563 472l-2 1M445 564l2 3M458 337l-2 3M169 544l0 2M334 502l-0 2M401 425l-2 4M311 329l3 0M311 594l-3 2M224 341l-1 1M35 620l3 1M556 404l-3 2M124 482l-0 3M216 531l-1 4M221 386l3 3M246 460l-2 2M296 415l-1 2M70 419l-1 2M214 392l2 1M204 295l-2 2M403 303l2 3M376 324l1 2M415 531l4 0M124 342l3 2M310 536l0 3M301 420l2 5M86 398l2 2M78 390l-4 3M42 623l3 4M188 579l-3 2M394 434l1 1M309 458l-1 3M114 362l2 2M353 311l-1 4M136 458l0 2M230 481l1 2M541 636l-3 3M267 415l-1 2M215 626l0 3M284 344l-3 3M52 538l-2 3M95 501l-1 1M388 428l-1 1M400 359l-2 2M471 468l0 3M244 381l-2 2M267 480l1 1M311 300l2 1M59 470l-4 3M274 310l3 1M229 594l-2 2M240 327l2 3M183 609l1 1M193 353l-2 3M454 342l-4 1M550 382l-1 3M414 653l-2 1M289 551l2 3M103 355l-2 1M70 620l-3 1M559 345l-2 1M311 324l2 2M69 299l-0 2M68 348l1 2M473 648l2 3M189 432l4 3M435 452l3 3M222 512l1 3M217 481l-0 2M394 382l-3 3M363 381l-3 2M279 644l1 3M54 512l2 3M330 432l2 1M401 468l-1 4M430 431l0 2M170 481l-2 2M366 402l0 3M459 430l-0 2M495 389l5 1M101 614l-3 3M441 566l-3 1M129 589l1 1M248 587l-2 4M458 305l3 0M520 540l1 1M264 589l2 2M323 639l-2 4M523 335l4 2M144 597l5 1M42 467l4 1M119 504l-0 4M495 421l-0 4M132 488l1 3M61 541l3 1M194 365l1 1M483 573l4 1M448 560l4 1M128 652l-1 1M433 552l2 0M408 350l1 4M505 540l2 2M456 585l-2 3M127 309l0 2M158 450l-3 1M316 566l3 2M523 502l-1 2M535 445l3 4M124 606l-1 4M231 644l0 3M479 349l2 3M241 616l0 2M363 416l3 0M153 408l-2 0M370 475l-3 2M536 344l-3 3M213 419l3 2M106 343l-1 4M147 448l4 1M67 518l2 2M49 629l4 2M235 503l3 2M265 607l2 0M448 609l-4 2M66 406l3 4M514 339l-2 3M457 377l4 1M44 447l-2 2M523 319l2 2M389 496l1 4M228 431l-3 3M223 603l-3 4M367 415l1 4M79 578l3 2M392 443l-3 1M550 362l2 0M510 328l-1 2M129 594l-4 2M72 352l2 0M359 620l3 1M172 457l-0 4M236 559l1 0M211 546l-4 1M556 411l-3 0M469 533l0 2M280 465l-3 0M484 500l-2 3M372 602l3 3M527 476l-2 4M390 340l-4 0M426 629l-0 2M375 580l2 4M553 399l0 2M205 314l1 3M288 366l1 2M187 379l4 1M457 506l-3 2M89 465l-2 2M148 387l4 1M559 306l-4 2M60 446l-2 3M93 449l-0 3M186 362l2 4M263 454l0 2M123 342l-2 0M226 630l3 2M66 497l2 0M116 562l-3 1M371 587l4 0M341 644l2 4M120 346l2 3M466 589l-3 2M516 599l-2 1M508 303l-1 2M217 486l2 0M526 503l1 2M196 409l-3 1M245 602l2 2M262 653l4 2M248 630l-3 1M226 297l0 2M564 329l-5 0M492 480l1 1M208 634l4 2M423 456l1 2M197 334l1 4M500 322l1 1M41 430l-4 1M132 354l-3 2M354 344l2 1M53 558l1 2M546 549l0 3M322 484l-2 1M244 542l-3 1M432 372l2 3M470 622l1 5M489 321l-3 2M289 440l3 2M378 558l-1 3M410 615l-4 0M421 337l2 3M464 293l2 4M170 537l1 2M372 579l1 3M542 579l-2 1M104 360l2 1M112 542l-3 3M520 545l3 2M310 453l-4 2M352 601l-2 0M139 314l3 1M514 364l4 3M495 591l4 3M379 353l2 4M113 638l-1 3M246 598l-3 4M498 457l0 3M70 356l3 1M71 501l1 2M490 617l-3 2M387 526l-5 0M271 569l-1 4M487 659l-1 2M183 499l-3 0M402 408l-0 3M322 558l1 2M401 459l3 3M56 378l0 3M353 490l-4 1M363 486l2 1M378 529l-0 2M481 391l-2 1M176 546l-2 4M440 378l1 1M411 468l-1 2M324 379l2 3M198 632l-1 2M413 370l-3 1M377 605l-1 3M355 502l-2 0M425 383l2 0M385 592l2 1M100 566l-1 5M216 652l-1 1M42 299l3 3M516 660l0 2M375 434l1 5M458 584l2 4M340 347l4 1M314 484l4 1M373 431l-1 1M126 325l2 4M238 608l0 5M431 325l-4 2M479 564l-2 3M227 487l3 4M307 434l-1 3M116 370l5 2M269 460l4 1M169 404l-3 2M299 532l-1 2M385 336l-2 4M471 502l-4 1M514 361l-2 2M177 372l-1 4M379 315l-2 2M283 611l-0 2M289 404l4 1M543 510l1 5M76 405l1 0M205 536l-2 1M202 653l-2 3M203 398l-2 2M46 438l-1 3M108 388l2 0M365 412l3 4M90 647l1 3M228 558l3 0M353 450l2 1M442 301l-3 2M254 470l3 2M379 298l-2 4M409 526l1 4M372 317l3 2M257 574l3 1M71 640l1 1M126 592l-3 0M437 419l-4 2M51 504l-1 2M391 407l4 1M71 633l1 2M439 327l-2 2M235 654l4 2M107 640l0 4M462 311l-2 4M507 592l-1 2M485 485l-0 3M47 425l-3 4M83 295l-2 2M440 516l-3 3M515 640l-3 0M293 411l3 3M247 444l-2 0M408 477l-0 4M514 415l-2 4M348 444l-3 1M57 606l-3 0M526 293l3 3M326 403l-3 2M536 579l-0 2M559 449l1 1M151 584l-4 1M353 587l-1 3M262 545l-0 4M442 608l-0 3M144 316l-0 3M233 626l-2 0M147 418l-0 2M119 508l-1 2M409 325l2 2M253 521l4 0M129 350l2 1M291 557l-1 1M88 324l3 3M168 609l3 3M161 334l-3 1M378 579l-2 3M104 505l-1 3M454 468l-1 1M474 414l3 0M87 519l-1 1M80 359l-1 2M98 389l0 5M495 649l-3 1M145 434l-3 0M148 563l2 2M555 375l1 4M189 413l-2 2M475 450l-2 2M530 524l2 1M368 524l-3 1M201 366l-1 1M51 653l-2 1M339 654l-1 4M479 647l-5 1M211 326l2 1M431 398l4 2M411 592l-1 3M309 630l1 5M72 410l-2 4M481 622l-2 1M326 469l4 2M446 551l2 4M73 427l-4 2M345 569l-1 2M297 654l-1 2M519 531l2 0M334 318l-3 1M282 658l1 2M180 408l-2 1M207 290l1 4M407 358l1 4M316 600l-4 1M126 469l3 1M396 498l1 1M512 486l3 1M501 547l4 1M45 454l3 2M372 308l-1 1M522 307l-3 1M115 310l0 2M276 435l-1 3M281 398l-2 3M524 502l-2 0M308 359l3 3M137 363l-4 1M341 415l-2 1M390 518l3 3M239 638l-1 1M477 351l4 1M396 495l-0 2M433 515l1 2M335 593l-1 3M343 576l-2 3M516 536l-0 2M169 566l-2 0M77 333l2 1M207 596l2 4M278 355l2 1M335 335l-4 1M41 369l-4 0M421 618l-2 2M152 639l2 1M193 619l4 0M188 623l4 2M459 551l2 3M367 565l0 4M126 560l-2 3M112 656l-4 0M438 589l2 2M473 602l-4 1M273 307l4 1M285 314l-1 3M338 330l-5 1M420 659l2 1M49 501l1 1M390 558l2 1M534 562l3 3M431 303l-5 2M528 447l-4 2M458 578l-3 3M365 655l-0 4M86 439l1 1M82 648l-2 3M389 643l2 1M151 628l4 0M107 601l3 1M503 572l3 2M428 622l-0 2M298 410l2 3M310 609l1 1M193 358l-4 3M250 314l3 1M349 617l3 0M155 569l-3 0M103 445l4 1M129 659l4 2M390 648l-3 2M448 497l1 1M447 306l2 1M312 341l3 0M133 447l-5 1M317 533l2 2M42 620l-2 1M452 423l-2 1M498 476l4 1M328 500l-2 5M60 398l2 3M411 610l1 2M326 471l0 2M246 524l-4 0M434 349l1 1M366 454l-3 2M265 356l2 4M58 534l-2 1M285 647l-3 2M162 473l2 1M446 331l-3 4M134 632l-3 3M303 526l1 1M469 404l0 2M44 408l-2 5M423 652l1 1M65 430l4 3M406 541l2 2M304 382l-3 3M302 492l-2 5M148 363l3 1M172 405l0 4M134 305l-2 4M493 646l3 0M180 591l-1 3M433 536l4 2M267 558l-2 0M481 571l1 3M45 584l-4 0M380 486l-4 2M355 298l3 1M263 615l3 3M483 644l3 2M446 469l0 5M388 616l-2 2M221 406l-2 2M218 446l-1 5M212 525l3 1M46 462l-5 2M290 571l-4 1M313 388l2 4M421 568l2 0M257 596l-3 2M488 308l-0 4M499 312l1 3M87 601l2 1M422 631l-4 1M452 541l-3 1M42 599l-2 1M403 453l2 4M255 577l-1 4M325 304l-3 2M475 648l3 1M354 584l-2 0M47 417l-2 2M59 474l-4 1M192 376l-1 5M240 478l2 1M526 373l3 1M73 474l-4 3M308 533l2 3M179 424l-0 3M42 385l-1 1M339 633l-3 1M400 424l-5 0M404 653l-1 2M540 594l-1 1M66 492l-1 2M148 645l1 1M497 570l1 1M522 542l1 3M101 637l2 1M34 495l-0 5M218 296l3 3M147 293l2 1M522 384l2 1M69 342l-4 1M539 601l-2 1M505 594l-0 2M485 626l3 2M499 462l3 3M427 372l-2 1M557 649l2 1M246 372l-2 0M387 322l3 2M137 384l-2 4M349 636l2 1M439 507l1 4M505 399l-3 0M278 570l2 3M123 459l-1 4M194 447l-3 2M449 521l1 4M280 651l2 0M151 407l-0 2M523 613l-2 2M207 658l2 3M446 503l-4 2M101 387l1 4M543 419l-2 2M465 509l1 1M370 587l2 4M226 293l4 1M76 521l3 0M442 327l4 3M537 444l2 1M131 385l-4 3M99 360l-1 1M252 526l-2 2M508 304l-1 1M468 550l1 3M209 490l1 1M184 551l2 1M424 649l1 1M291 388l-1 5M457 411l2 2M78 588l2 2M131 478l-3 1M56 470l4 2M510 560l-1 3M346 652l4 2M268 515l1 2M451 575l-2 1M43 352l-1 2M107 420l-4 1M94 305l-2 0M427 554l-1 2M538 601l2 1M539 311l-0 2M426 462l-2 4M313 314l-5 1M514 325l4 3M541 613l3 1M199 601l-1 4M262 544l-1 1M134 604l1 3M257 359l-2 1M410 358l2 2M242 309l-3 1M145 402l-1 4M229 613l-2 3M136 465l2 4M359 644l2 2M155 525l2 1M44 376l2 2M281 585l2 4M100 297l3 1M548 632l2 2M477 515l1 3M402 584l2 2M384 552l-3 2M361 377l0 3M211 301l-4 1M533 606l-1 5M516 552l1 2M59 295l-3 1M385 517l2 0M465 417l-2 0M112 631l4 1M324 552l-2 4M273 400l4 2M68 511l-2 3M399 614l1 1M112 508l5 1M468 401l0 4M55 408l-4 1M373 506l3 0M450 639l3 2M488 551l2 2M282 319l4 2M210 531l-1 2M226 639l-1 1M190 578l2 2M330 423l-3 2M503 359l-4 1M67 450l0 5M361 645l3 2M92 605l1 2M257 343l-4 0M151 449l-4 0M226 471l-2 2M316 529l3 3M142 556l-0 4M75 637l-2 1M559 639l-2 3M523 368l4 0M538 367l-1 4M53 452l1 4M93 378l1 2M303 646l2 0M563 544l-2 1M315 657l2 2M119 456l1 2M499 581l2 0M545 428l2 3M182 397l3 2M427 436l-2 1M255 511l3 2M406 413l4 1M551 592l-1 3M557 326l1 5M38 561l2 3M245 523l-4 2M531 556l2 1M147 339l3 3M219 633l-0 3M59 422l-1 2M121 577l5 0M52 444l1 2M458 307l1 2M470 334l-1 3M74 338l-1 5M38 406l3 3M432 386l1 1M385 634l2 3M46 406l0 4M157 650l3 3M367 595l2 0M50 443l-1 2M131 342l2 4M176 356l-0 4M526 618l-2 3M484 309l4 1M64 479l-1 3M313 330l2 3M52 356l-2 4M533 497l-4 0M554 603l-1 4M256 557l1 2M286 616l1 1M290 390l-0 2M136 552l2 0M226 368l2 3M359 383l-4 0M124 606l-3 3M279 319l-3 0M198 402l2 1M503 455l-3 0M133 334l4 0M538 317l4 2M464 581l3 0M404 494l1 3M373 393l1 3M481 334l-2 3M149 398l0 3M206 584l3 0M304 585l-3 0M228 467l5 1M402 405l-1 2M292 566l4 2M211 657l-2 1M346 508l-4 0M181 529l0 2M335 445l-0 3M375 384l2 1M92 460l2 1M479 436l3 3M416 379l0 1M515 572l-2 4M416 336l2 0M309 310l3 0M509 304l0 4M545 613l1 3M453 547l-3 3M63 532l2 2M428 402l-1 2M292 485l4 3M547 623l-2 2M455 445l2 3M164 304l2 5M74 392l-1 2M92 605l-1 1M199 532l0 3M69 554l-2 4M54 292l1 4M163 525l-2 1M384 439l-2 1M560 565l2 0M391 339l0 3M516 518l-3 2M435 394l0 1M57 579l3 1M546 326l2 3M62 611l-2 1M172 501l3 2M429 657l-3 0M45 580l-1 2M178 469l-5 2M505 485l-3 0M191 622l3 1M393 590l-2 1M106 561l1 2M329 539l4 0M97 444l3 0M467 513l-1 3M397 603l1 2M77 296l-3 2M433 367l2 3M304 324l3 2M198 318l-3 3M127 450l3 0M51 389l-2 1M171 462l-3 3M478 609l1 1M154 632l-2 2M96 610l4 2M375 373l2 1M50 362l2 1M499 540l4 0M522 423l-5 1M403 523l-1 1M557 629l-4 3M187 594l-3 1M334 591l0 2M348 385l4 1M51 632l-3 3M199 436l2 4M281 350l1 2M418 600l-1 4M441 342l2 0M287 468l2 0M229 570l-2 3M508 575l-2 4M71 455l-1 1M136 298l3 2M401 424l-2 0M354 632l3 3M88 638l-3 4M46 617l-1 2M516 332l-2 1M528 309l-3 3M435 327l1 3M469 450l2 1M237 584l2 1M313 574l-2 3M140 538l2 1M482 506l-3 4M446 628l-3 1M82 541l3 1M165 308l3 4M205 515l-1 2M328 355l-3 2M88 425l-1 1M463 299l1 3M469 305l-2 1M280 516l3 2M118 529l2 2M346 640l4 2M510 646l-2 4M213 619l0 5M345 658l-4 3M554 336l-5 2M516 364l1 1M488 336l1 2M90 364l0 3M427 293l1 2M268 401l-0 3M392 659l3 1M159 565l-1 3M128 536l4 2M205 471l-2 5M533 497l1 2M414 386l-3 1M410 407l-2 3M347 508l2 4M490 297l4 1M110 351l2 4M544 380l-2 0M35 351l-1 3M136 399l-2 1M67 648l-0 3M505 636l1 2M555 489l-3 0M319 433l3 1M264 593l1 1M32 395l4 2M59 416l-4 2M335 571l2 0M57 599l3 4M294 373l-1 2M138 419l-3 2M161 334l-2 2M468 394l-0 3M52 394l-1 5M433 403l4 0M519 603l4 3M453 581l-4 2M420 365l-1 3M271 570l0 4M453 388l-4 2M418 491l3 4M85 620l-3 2M111 411l2 1M510 444l2 0M315 346l-4 1M341 628l-1 3M219 436l-2 4M446 363l4 3M164 374l-3 1M544 361l1 2M305 389l1 1M415 546l-1 2M142 613l-4 2M236 597l-2 3M52 627l-0 3M511 626l2 1M287 494l0 2M431 333l-1 3M50 570l2 1M221 418l-2 1M273 606l3 3M197 423l0 2M530 388l-3 3M148 643l-2 4M459 601l1 4M511 432l2 2M232 587l4 0M103 309l-3 2M524 460l-1 3M485 344l-5 1M100 473l4 2M245 435l-3 2M264 440l-3 2M281 336l4 0M498 598l-0 2M424 591l-0 4M497 575l-3 3M246 655l1 4M69 581l-3 0M530 647l1 3M210 540l-2 2M193 389l3 3M58 619l1 5M500 504l-3 2M90 427l2 1M145 591l1 3M87 632l3 2M477 340l-2 0M209 443l-1 2M352 381l-3 2M342 516l2 1M561 554l1 2M243 522l-3 4M455 645l4 0M471 609l-1 1M479 553l2 2M529 422l-3 0M341 333l-2 2M241 472l-2 0M501 628l-0 3M250 428l2 4M533 452l-1 4M519 338l-1 3M497 375l0 4M158 292l0 5M300 435l3 2M158 599l-1 4M46 304l-3 1M70 415l3 3M459 447l-2 1M419 401l3 3M528 519l3 4M268 389l-2 4M451 538l-1 1M334 529l-1 1M83 351l-3 1M441 346l3 1M103 644l1 5M294 453l2 3M291 428l2 2M447 624l-1 2M55 504l-2 2M168 504l2 2M44 597l-0 2M394 457l-2 1M471 404l2 4M279 536l4 2M386 391l-4 2M318 358l2 2M428 317l-2 2M357 329l2 2M470 636l-0 2M185 469l1 3M366 454l-1 1M339 332l2 4M270 488l-1 2M340 535l-1 3M300 439l2 1M89 539l4 3M168 318l-1 2M326 470l-1 3M372 545l-3 2M71 514l0 5M178 522l-2 4M256 610l3 1M443 554l2 2M305 516l0 2M138 563l-1 3M506 317l-2 2M528 441l-3 1M93 553l2 4M252 583l2 1M291 444l-2 1M208 417l3 1M111 546l2 4M118 654l-3 1M94 304l-2 2M460 486l2 2M318 370l-3 2M93 393l-1 4M65 486l0 4M242 515l-2 1M503 455l3 1M377 435l-3 2M80 407l0 2M317 479l-2 2M120 531l-2 2M73 348l-5 0M224 363l2 2M524 557l-3 0M295 520l1 1M86 544l5 0M490 493l-1 1M315 473l2 2M484 462l-3 1M520 528l1 3M537 511l-2 0M401 621l1 2M153 643l-1 1M77 420l-2 1M549 577l2 2M128 593l4 2M194 492l-3 3M336 455l-1 3M247 537l4 2M272 633l2 1M161 634l-2 0M215 401l-1 2M528 317l2 1M251 591l-2 3M475 563l-4 0M94 625l-1 4M486 375l2 3M192 350l2 1M302 362l4 1M155 510l3 1M435 385l-5 1M301 481l2 2M405 595l3 2M110 328l3 1M205 562l-4 2M345 333l-2 4M308 321l-0 3M202 299l-2 1M420 390l-4 1M348 366l1 1M525 607l-0 3M542 594l-1 1M252 489l-4 0M254 529l0 4M265 614l0 2M157 338l-4 3M69 360l2 1M189 556l1 3M480 539l3 3M119 420l3 2M308 313l3 3M466 656l2 0M232 365l-1 4M403 412l5 1M505 345l2 0M106 489l-2 4M341 533l-4 2M349 438l-2 3M533 498l2 1M201 447l-2 1M559 389l-1 3M553 643l-4 1M258 384l1 1M80 449l2 2M457 623l-2 4M443 303l1 4M108 334l-0 4M535 541l4 0M204 491l-0 2M203 580l-4 2M97 321l1 3M342 443l2 4M280 454l-3 1M109 304l-4 3M209 574l-1 4M529 453l0 1M58 391l1 2M150 322l0 2M237 331l-1 3M369 543l3 0M187 632l3 3M389 314l0 3M223 336l1 4M309 378l-3 2M81 495l1 2M268 623l-4 1M231 490l1 2M433 298l1 2M312 619l-5 1M459 545l-3 1M552 579l-2 1M387 626l3 0M161 461l1 3M79 642l1 1M234 303l3 3M48 588l-3 0M57 659l-1 3M386 528l1 1M100 617l-0 2M316 321l2 2M71 374l-1 2M157 651l-3 1M142 539l2 4M128 611l2 1M258 505l-3 2M201 373l-0 4M248 573l2 3M491 369l-2 1M380 613l-0 2M344 427l-2 1M257 530l5 0M266 498l0 2M369 372l-5 0M174 631l2 2M371 461l2 2M389 365l-2 3M131 358l-1 3M351 544l2 4M511 315l2 0M149 575l-1 3M340 389l-4 3M176 442l-0 1M175 397l-3 3M184 347l-3 1M61 646l-2 1M460 620l-2 1M164 461l-2 0M59 438l2 0M416 482l-2 1M69 588l-1 2M121 355l-2 2M560 382l-0 3M500 342l-2 3M400 524l2 2M344 626l2 2M310 304l-3 3M180 613l-4 0M360 542l1 1M412 462l2 1M330 601l-3 4M482 625l-0 2M433 308l-2 4M226 333l-2 1M211 609l-0 3M411 594l-3 1M99 486l2 3M496 507l2 1M201 603l-2 1M211 397l-1 1M311 583l-1 2M39 640l-3 1M290 394l1 2M331 364l2 1M334 402l-1 3M461 393l-4 3M279 606l4 0M259 366l2 2M200 443l-1 2M553 515l5 1M318 490l-3 3M68 502l4 1M237 329l-0 3M413 376l-1 4M437 394l-0 3M276 605l2 3M561 401l1 1M40 605l2 2M58 383l3 1M206 297l-2 2M408 358l1 2M479 552l-3 3M337 642l-0 3M175 634l-2 2M347 554l2 5M485 407l-4 2M99 381l2 3M252 387l1 2M61 481l-4 3M276 475l-3 3M226 649l2 3M468 366l2 1M303 512l-1 1M484 406l-1 2M193 409l-2 1M170 522l0 5M67 374l1 2M423 524l2 4M330 507l-1 2M392 346l3 3M185 322l1 2M510 549l-3 2M442 559l-0 4M385 617l2 3M40 400l-3 2M439 559l0 4M551 453l-4 3M341 325l2 3M41 296l1 4M534 316l-1 4M178 359l3 3M514 360l-4 1M265 563l-3 2M102 501l-1 2M315 429l-1 4M411 642l-1 2M243 353l-2 4M224 630l-1 1M64 631l2 2M76 507l1 3M74 306l-1 5M237 423l-1 3M198 425l-1 5M416 463l3 0M103 632l2 2M278 374l-1 1M115 340l-2 2M443 370l-2 1M116 621l-3 3M499 493l4 1M550 656l-2 2M400 396l4 1M187 308l-2 4M278 420l2 3M59 454l3 3M329 617l-4 2M487 347l-2 3M289 542l0 3M539 545l3 3M260 439l-2 3M379 425l-0 3M498 345l-2 2M459 573l3 2M173 637l-2 1M65 619l-4 0M144 553l-1 1M223 329l-1 1M178 308l-2 0M496 469l1 2M451 521l-1 3M372 643l3 3M35 462l1 2M466 442l2 1M142 533l-4 2M402 543l2 2M329 452l1 1M242 648l-1 3M93 536l-4 0M246 297l-0 5M449 380l1 3M280 415l-2 2M59 584l2 4M216 395l-1 3M513 610l-2 1M381 581l-1 5M278 461l-1 3M330 551l-1 5M516 341l-1 5M130 515l-3 1M91 546l1 3M97 333l-0 2M288 635l2 4M433 578l-4 1M186 568l-2 0M445 458l-2 4M290 486l-3 4M278 526l1 1M316 521l1 2M164 587l1 2M184 502l0 2M40 588l2 1M38 440l3 2M105 541l-1 3M380 468l4 1M319 367l-3 2M232 384l-1 1M495 573l1 2M465 449l-2 1M172 428l1 2M445 303l1 2M236 419l1 5M445 609l0 2M47 658l-0 3M253 659l1 2M140 410l-2 3M90 514l-4 1M188 492l2 0M175 459l3 3M354 336l-0 1M525 520l4 3M103 640l2 3M144 561l0 3M122 335l-4 2M410 348l-2 0M331 445l4 1M339 496l-1 3M282 436l3 1M134 548l-2 2M212 456l-3 3M457 460l1 4M513 635l4 0M333 422l-0 3M270 347l3 1M528 481l-0 4M350 493l-2 2M279 531l1 3M442 608l3 0M232 589l-2 4M289 515l1 2M86 654l-1 4M52 421l-1 4M410 331l1 2M302 448l-1 1M119 579l-4 1M231 344l1 3M337 293l-3 0M125 334l-0 3M133 422l2 1M445 319l3 0M235 359l4 2M374 652l5 2M384 509l4 1M327 465l-4 2M386 468l-4 1M41 575l-1 1M413 454l1 2M516 558l3 2M256 639l3 4M487 642l0 2M207 435l-5 1M545 305l-0 3M97 648l-3 4M155 540l3 1M448 402l-3 4M338 496l-4 1M281 404l-2 1M279 376l1 3M181 333l-5 1M315 643l1 3M274 437l-1 2M440 314l-2 0M47 457l1 3M483 563l1 1M510 301l-1 3M488 566l1 3M396 434l3 0M344 604l-2 1M370 401l3 2M510 311l-2 3M207 316l3 0M522 541l-3 2M433 636l3 1M556 302l2 0M407 634l4 2M107 295l1 1M311 420l4 0M292 344l-2 0M36 479l-0 2M203 499l-2 1M402 647l4 3M234 405l0 3M346 646l-3 3M491 421l-1 2M43 318l-1 2M207 632l4 0M225 604l4 3M392 411l-5 1M40 529l0 4M166 426l-4 2M158 630l-0 3M185 296l-2 0M116 366l-5 0M214 298l1 3M551 310l-2 1M114 310l3 2M109 587l-3 2M185 443l1 1M96 320l4 2M309 585l4 1M249 388l2 2M307 494l-4 2M41 505l0 2M69 519l-4 0M201 507l-1 2M297 390l-1 1M280 462l2 1M189 352l-3 4M371 482l-1 2M422 310l0 2M169 391l-1 1M44 562l-4 2M559 382l1 1M359 435l-3 0M326 438l2 1M439 522l-1 3M540 604l4 2M482 520l1 2M306 586l3 1M430 635l-0 2M204 362l-1 1M447 658l4 0M245 447l-1 4M50 517l-3 1M171 639l-4 3M226 587l3 4M301 398l3 3M104 620l-3 2M203 499l-3 2M340 510l-3 4M442 643l-2 2M214 424l3 4M160 359l-2 1M86 567l-1 1M49 416l-1 2M150 513l-4 2M393 467l1 3M477 564l1 2M503 610l0 2M261 552l4 0M447 454l3 3M305 512l1 5M229 297l4 1M351 594l1 1M135 330l-0 4M357 300l-0 3M234 543l1 1M62 313l-4 0M540 656l-3 3M362 617l-2 1M434 332l1 4M154 391l3 2M104 481l-4 0M457 367l-4 2M291 598l2 0M431 580l2 1M151 337l2 4M240 441l1 2M132 453l-0 3M301 347l3 2M355 428l-1 1M204 569l0 3M304 419l1 5M345 433l1 2M105 374l-2 0M167 587l-0 4M442 491l1 2M309 396l3 2M291 382l-3 1M392 522l-3 2M152 354l1 2M397 556l1 1M365 620l-0 2M167 651l2 1M347 296l-3 0M186 467l2 1M73 456l-2 2M368 444l3 2M87 602l1 2M420 371l3 0M449 631l-3 2M306 478l5 1M258 442l2 2M495 656l-2 3M446 545l-2 1M109 357l-3 1M277 599l-3 1M533 386l5 0M456 503l-2 0M121 527l1 2M225 433l-1 2M257 636l-3 3M453 420l-2 3M71 334l4 2M184 489l-0 5M538 532l-0 2M133 567l-3 1M450 550l0 2M249 450l3 3M438 428l-1 2M438 609l-1 1M427 385l1 2M308 437l-2 3M232 652l1 1M470 371l-3 2M139 418l2 1M401 383l-3 0M348 593l-4 0M77 314l3 1M242 588l-1 3M327 438l4 2M95 579l-4 2M134 394l2 3M295 592l-2 2M464 636l4 1M393 522l-3 1M170 494l1 1M542 374l-0 2M345 536l-1 1M50 623l-1 2M392 643l1 3M285 468l3 0M239 392l2 0M356 655l-3 1M207 571l2 0M339 503l-4 1M122 387l-4 1M115 472l-1 3M307 401l-1 5M269 335l-3 1M434 606l-3 0M425 527l1 1M555 466l1 1M304 294l-4 0M467 324l-1 5M526 416l1 2M262 498l-0 2M98 470l-4 2M557 369l3 1M489 505l-1 5M447 508l-1 4M329 501l2 1M403 503l2 2M370 431l2 4M370 450l0 4M136 561l3 1M388 645l4 0M473 332l-4 1M557 546l1 2M35 322l4 0M171 581l-0 4M265 572l1 4M366 400l1 4M410 481l-1 4M378 475l2 0M528 306l-3 3M487 390l2 1M233 407l-0 2M507 547l-2 1M57 365l2 2M258 477l1 1M516 606l-2 2M129 353l2 1M153 343l-1 2M119 396l-2 3M362 376l-3 0M527 553l2 0M314 652l-3 0M477 344l0 3M108 375l-2 1M165 653l0 4M497 353l-4 2M113 336l1 2M436 304l0 2M70 409l1 3M531 452l1 2M178 383l-1 2M397 658l-3 3M141 312l1 1M160 654l-3 0M70 373l-1 1M222 346l0 4M157 607l-3 1M346 334l1 1M316 535l3 1M352 562l1 5M503 462l4 2M553 547l-2 2M188 660l4 2M468 342l-1 4M223 471l1 2M213 515l1 3M367 469l3 1M325 317l-1 2M345 309l1 4M296 347l-2 0M97 615l2 3M423 459l-0 2M467 648l4 2M298 478l2 0M79 552l-1 4M519 424l1 4M129 328l-2 3M285 388l4 2M312 298l-2 0M84 318l2 2M228 502l3 1M263 497l-3 0M206 556l4 1M386 507l3 0M278 626l1 2M462 592l4 2M349 339l0 2M260 325l-0 5M186 302l2 2M211 467l-2 1M54 434l-2 1M410 499l2 1M142 323l-3 2M543 468l-4 0M235 534l-2 1M394 292l-3 2M318 559l-1 1M45 584l-1 3M221 628l-3 4M433 371l4 1M259 619l-1 2M381 536l-2 2M559 368l1 4M361 466l-1 1M205 376l-3 1M223 327l-2 1M384 323l-3 0M159 328l0 4M366 317l2 2M411 417l-2 2M198 446l-5 1M116 393l1 2M50 395l-1 4M311 380l-3 4M97 330l-1 3M375 496l1 3M189 619l1 2M509 423l2 2M298 526l-5 2M390 491l-3 3M313 389l-3 0M118 619l1 3M483 471l-2 3M120 356l-5 1M558 326l2 3M337 600l-0 4M102 438l-2 4M69 495l-2 2M460 515l2 2M207 426l2 1M60 333l5 0M441 300l-1 4M244 373l1 2M184 316l-1 5M124 571l4 1M549 427l-2 4M222 627l-2 5M497 649l-2 1M273 616l3 0M211 645l1 1M533 490l3 2M233 634l1 2M122 455l2 4M214 630l-0 2M203 405l3 4M369 525l1 5M471 398l-2 2M172 531l1 2M295 495l3 4M209 525l1 4M64 374l2 1M37 506l-3 2M444 302l2 0M379 404l-1 2M491 639l-3 1M310 341l-1 2M361 334l-2 2M241 354l-3 1M471 564l-2 2M295 391l2 0M283 411l1 2M184 566l4 1M42 404l3 1M346 433l0 2M232 300l-1 2M215 502l-3 1M312 596l-3 3M433 660l-1 2M265 607l4 3M530 603l0 4M390 460l-0 2M102 627l-1 2M193 301l0 2M547 330l4 0M366 345l-0 4M453 347l3 3M472 332l-3 2M358 314l1 5M458 606l2 4M357 350l1 3M103 629l3 1M100 650l2 3M383 581l-2 2M202 308l4 0M517 412l4 3M49 471l3 2M239 632l-2 2M455 454l-1 2M373 387l0 4M470 351l1 2M431 475l3 3M156 628l2 1M477 471l-1 5M507 652l-3 1M298 303l3 4M561 360l-1 2M266 647l-3 2M268 437l-2 1M427 444l-3 0M441 578l0 2M255 622l0 2M390 632l0 2M346 584l1 3M449 627l0 2M509 430l-2 2M412 606l3 1M328 474l-1 3M269 558l-2 2M546 312l4 1M364 381l-1 2M415 470l-1 2M317 314l-3 2M254 567l-2 2M127 394l-2 2M148 645l1 5M261 633l2 1M461 468l-1 4M406 621l3 1M102 564l2 0M346 484l1 3M394 368l-2 4M345 498l-0 4M346 439l1 3M463 399l3 1M202 507l-3 3M33 291l2 2M241 655l-2 2M280 327l2 2M401 354l-0 2M328 514l-2 3M262 391l2 5M369 473l3 1M542 653l2 2M552 519l3 1M268 324l1 3M346 315l1 1M73 430l3 1M138 465l-4 2M162 315l0 3M333 454l1 1M71 550l2 0M237 297l-3 1M154 637l4 2M327 412l0 2M364 510l0 2M146 328l-2 2M48 535l1 3M173 515l3 1M112 351l0 5M426 524l1 3M559 421l-2 1M217 497l2 0M237 542l3 1M472 355l-1 3M112 326l1 4M509 444l-4 2M370 551l-3 1M270 503l0 5M60 430l-3 1M114 437l-4 1M107 396l2 0M94 584l2 2M320 461l-1 3M505 503l2 2M488 443l-1 4M334 492l-1 4M323 578l-3 1M70 418l1 2M419 371l-2 3M458 541l-4 2M453 446l-2 4M146 582l1 4M372 369l-1 2M456 576l-1 4M213 532l-4 2M525 612l0 2M222 431l-2 4M433 568l4 2M140 452l2 4M45 327l-0 4M48 321l2 1M508 519l5 0M351 519l1 4M401 462l3 3M421 418l-4 3M459 484l-1 2M89 650l1 2M92 427l-1 1M278 489l-2 1M140 437l-2 3M114 527l-3 3M477 338l1 3M179 385l-2 2M440 412l-1 3M356 481l1 2M68 298l1 3M542 620l-2 2M99 565l1 2M97 479l-2 2M298 541l-2 0M336 599l-4 0M333 467l-1 1M157 582l-2 3M390 443l-5 0M168 468l1 4M259 470l-3 2M475 366l-2 2M279 475l1 2M443 448l-3 2M558 576l3 1M165 309l1 2M274 395l-2 1M424 378l-3 0M75 307l1 4M381 584l-4 1M130 485l1 2M138 467l-2 3M519 577l-3 1M132 510l4 0M332 333l-0 2M81 458l-2 1M280 592l3 1M136 479l-4 1M418 568l-2 1M223 427l-3 0M370 469l4 2M201 429l4 1M346 343l-4 3M487 647l-2 2M300 466l-4 2M351 428l3 0M234 586l-1 4M438 377l2 2M62 329l-3 1M292 608l-3 3M298 629l-3 1M471 642l2 1M125 471l1 1M61 410l3 3M69 465l-2 1M374 583l-1 3M233 514l0 4M484 406l3 1M497 604l3 1M177 476l1 1M99 600l2 0M480 602l3 1M306 384l0 5M326 655l-2 2M530 651l3 2M180 338l-1 3M428 512l-2 2M409 308l-3 3M199 332l-1 2M55 533l-2 2M187 603l-4 1M470 617l3 2M129 358l-1 1M563 392l-2 2M183 611l-2 2M273 323l-4 1M223 521l3 1M302 489l-2 4M272 614l-1 3M358 571l-1 2M168 441l-4 2M560 518l-0 4M483 352l2 1M156 624l0 4M114 392l4 1M176 442l0 2M412 605l3 4M443 446l-2 1M491 405l1 4M185 563l-0 2M130 634l-0 2M466 350l0 3M180 379l-3 2M369 602l-3 0M203 538l3 2M187 636l3 2M478 472l1 5M399 445l3 3M514 400l-3 4M102 425l-1 4M74 304l-1 2M89 480l-3 2M400 556l1 4M542 514l3 3M397 648l1 4M428 576l-2 2M104 394l1 1M388 399l-3 3M301 307l-1 1M113 306l-2 2M323 390l2 3M178 347l-1 5M82 429l-3 3M212 420l2 3M423 557l-4 1M245 439l-0 4M129 340l-1 4M103 435l-0 3M264 495l-3 0M184 483l-1 3M376 465l-1 5M261 439l5 0M546 506l-2 4M354 442l-4 3M424 590l3 0M86 332l-3 1M277 516l-2 1M221 340l1 2M489 430l-3 4M505 550l-3 2M273 474l-0 2M307 519l-3 1M463 561l2 1M164 586l2 2M33 509l3 3M426 627l-2 0M516 565l-1 2M460 443l-3 3M178 561l1 3M70 518l-2 1M71 372l4 0M368 306l-3 2M544 444l3 2M343 654l3 1M251 600l2 0M162 579l4 2M172 336l1 3M444 458l1 3M320 471l-2 1M284 342l-4 1M193 516l3 3M224 368l4 3M91 401l-1 2M484 340l-2 3M246 531l2 5M130 512l3 1M234 539l-2 3M395 439l0 5M414 528l1 3M119 321l3 0M440 417l-2 2M38 457l2 1M211 309l-2 4M432 628l-4 3M50 303l-2 4M457 476l-1 2M353 360l-2 2M438 292l1 3M102 457l2 3M110 499l-2 1M555 418l-4 2M325 296l4 1M309 453l2 2M272 393l-0 2M146 470l-1 3M477 400l2 1M65 447l-2 4M271 342l-1 3M323 294l4 0M502 545l-1 1M354 432l-5 1M463 608l-1 2M456 477l-2 1M343 336l1 2M270 370l-1 2M256 335l-2 4M471 534l2 1M399 469l-2 4M529 496l3 1M433 653l0 3M125 366l-2 1M254 643l-1 2M342 420l4 2M488 570l-0 5M381 469l-1 2M487 628l-4 2M41 299l0 3M78 385l2 2M95 451l1 5M43 309l-4 2M450 360l-3 3M173 373l2 1M282 624l-0 3M351 451l-1 4M153 629l-2 4M326 412l-3 2M271 508l2 1M191 610l3 1M491 391l-2 1M304 307l-1 2M223 396l-1 1M403 427l2 1M558 324l-3 1M340 336l-1 2M481 559l-2 2M464 533l-3 1M295 547l0 4M73 637l-3 1M36 393l1 0M509 314l-3 0M540 522l0 2M247 296l-1 3M214 496l1 1M447 621l-2 5M244 585l2 1M104 621l5 1M446 496l1 3M351 597l-3 2M211 455l-2 0M50 596l3 1M128 591l1 4M444 471l0 5M483 504l-1 2M128 622l-2 0M192 367l3 3M350 291l3 2M285 312l-4 3M246 596l1 1M468 615l0 2M244 503l-1 2M180 498l3 3M130 312l-4 1M316 601l1 4M438 556l-3 3M56 563l-2 0M225 477l-2 3M198 605l0 2M219 437l-1 2M233 470l-3 1M332 634l3 3M418 422l1 3M291 627l-3 3M508 372l-2 2M331 502l-1 2M375 595l0 4M53 530l-2 4M90 494l-1 3M315 496l-3 1M414 610l2 0M192 600l3 2M104 638l-3 2M130 481l-1 4M259 659l-1 1M129 613l-2 4M461 560l-3 4M465 372l-3 3M465 416l-3 0M147 541l-2 0M282 428l-4 0M547 581l3 2M339 363l3 1M52 619l1 4M82 470l3 3M368 480l2 1M415 448l-3 1M126 471l-2 1M377 593l4 3M104 428l-3 3M38 542l4 2M386 394l1 2M346 462l-2 3M534 502l1 4M456 469l3 1M47 474l1 4M446 424l2 2M112 551l-2 0M256 519l1 2M518 359l-2 0M287 546l2 1M466 584l-3 3M192 594l-3 3M154 367l1 1M94 584l2 4M301 641l-0 2M124 318l0 3M398 439l0 4M435 509l-1 3M440 657l3 1M209 458l0 4M414 613l-3 1M236 443l-1 5M313 654l-4 2M227 481l1 2M358 501l3 0M425 657l4 3M143 647l-5 1M513 510l3 0M358 637l-1 2M242 365l3 1M386 501l2 4M317 654l4 1M223 516l-1 3M408 561l1 3M302 338l2 2M184 428l2 2M282 574l1 2M318 613l-3 1M210 657l2 1M172 449l2 4M353 566l1 3M414 338l2 3M459 445l0 4M357 653l-1 4M203 326l2 1M401 599l-2 1M508 568l-2 4M71 572l-2 2M382 553l2 1M118 521l0 4M273 492l-2 3M250 514l-2 3M209 385l2 2M37 509l3 1M304 595l-4 2M131 643l-2 3M529 629l-1 3M488 322l-1 4M356 411l2 1M355 635l-2 4M512 396l-0 2M467 397l0 3M137 449l2 1M142 398l-4 0M555 607l3 1M209 488l-4 1M180 302l-0 2M428 322l-3 1M241 470l0 2M150 636l-3 3M558 482l-5 2M388 638l2 0M309 423l1 1M298 487l-1 2M546 550l-1 1M210 388l2 4M348 373l2 1M223 471l-1 4M477 325l3 3M58 541l-1 2M121 431l2 0M99 352l2 0M182 412l-2 2M229 598l3 3M196 345l-3 1M105 355l-0 2M64 451l2 2M527 637l2 1M196 326l-0 3M226 517l-0 2M408 398l-2 1M206 552l-4 0M346 630l-4 1M484 657l-3 2M415 523l3 2M441 401l-1 1M449 434l-1 5M130 637l2 2M126 400l0 3M324 574l-0 2M282 634l1 2M302 482l-1 2M371 627l4 2M445 502l4 3M380 373l3 2M178 372l-3 3M250 352l1 1M508 418l3 1M446 638l2 1M504 590l-1 1M378 308l2 2M440 651l-2 0M520 420l-3 2M233 575l1 3M477 638l5 0M504 581l-2 1M430 617l-1 2M463 616l3 3M544 383l4 2M531 437l2 4M218 511l-2 2M547 645l-3 1M105 452l0 3M214 569l-2 0M527 652l-3 2M38 619l-3 1M57 601l-5 1M120 447l-2 2M197 506l5 1M482 569l-1 2M480 481l-4 1M360 574l2 0M435 585l-4 0M393 302l-3 0M41 318l3 2M366 599l0 4M57 460l1 1M513 299l-2 1M138 604l-3 3M395 603l3 2M350 528l-2 1M528 599l-5 1M356 366l-3 4M94 479l1 2M340 293l3 2M322 559l3 3M175 315l2 3M150 406l-2 4M326 453l1 1M528 364l3 1M105 606l-5 0M57 660l4 1M335 300l-2 1M72 310l1 4M355 625l1 2M545 408l0 3M394 389l1 5M317 597l4 2M97 512l-2 3M105 314l2 2M97 327l3 1M76 633l-4 1M51 513l-3 3M377 638l2 4M428 602l-2 2M201 566l-1 2M307 294l-2 2M283 438l-2 0M188 633l-2 3M154 653l-1 1M462 386l-3 1M157 521l2 1M313 491l3 2M281 612l3 4M553 565l1 2M381 576l-4 3M154 296l0 4M344 588l1 1M179 600l-3 4M541 410l-3 4M451 517l4 2M66 617l-1 2M131 592l-1 4M274 633l-1 3M125 591l0 4M137 496l-3 3M366 601l-5 0M438 407l1 1M119 582l-0 2M48 397l0 4M108 520l1 2M147 413l-1 5M251 507l-0 2M49 549l2 2M408 401l-1 1M561 627l-4 1M335 571l-2 4M445 634l-1 3M205 382l4 2M220 433l-1 2M357 655l3 2M169 390l1 2M308 326l-2 1M333 506l1 3M222 504l3 1M184 342l-1 3M285 599l-2 3M478 383l1 2M353 408l1 1M335 647l-5 1M308 504l4 2M470 360l1 3M333 425l2 0M535 637l-3 3M196 648l-2 4M408 646l2 1M123 398l-3 3M301 361l-3 4M108 428l4 1M316 660l0 2M333 389l2 1M512 334l3 1M61 307l4 1M266 471l3 2M397 575l-2 0M116 392l-4 2M358 376l-4 2M140 311l4 1M58 475l3 1M340 564l0 5M358 451l-1 2M540 533l2 0M177 406l-1 2M529 467l2 2M109 639l-3 0M383 616l1 2M413 498l3 3M138 474l2 2M283 590l-1 1M203 483l2 2M186 383l-1 1M218 645l-0 4M219 611l1 5M550 501l2 2M326 470l1 4M494 352l-2 0M107 653l3 0M372 453l-3 2M242 559l-0 3M312 431l3 1M100 418l-3 0M449 483l-1 2M155 432l-0 4M103 314l2 4M548 440l-3 3M527 333l-3 0M81 511l5 1M236 604l-2 1M268 487l-0 3M111 557l3 3M316 327l-1 2M466 660l-0 2M401 415l-1 4M229 658l4 3M553 357l2 3M83 559l1 2M468 384l1 3M257 314l4 2M184 509l4 3M98 386l2 2M442 378l-2 4M213 407l2 1M401 614l2 2M517 357l-3 1M84 362l2 2M323 305l-4 2M141 335l1 4M365 469l5 1M340 628l-3 2M539 432l2 1M302 428l-0 2M560 340l2 4M104 338l-2 4M186 619l4 1M181 657l-3 3M422 426l3 2M340 585l1 1M155 331l-1 3M553 312l2 1M534 410l2 0M197 507l3 2M266 631l2 2M479 350l1 5M316 609l1 4M172 644l-2 1M352 474l2 3M373 344l3 0M255 331l-1 4M528 301l-4 2M195 486l-0 4M206 451l4 0M368 340l-2 2M519 293l-4 3M148 488l3 1M532 403l-2 0M253 515l-2 1M351 547l1 3M284 529l0 3M555 347l4 0M273 461l2 3M201 539l-0 4M64 528l5 0M336 558l-1 4M88 543l-2 2M307 353l2 0M523 354l3 1M352 607l-1 3M156 505l-5 0M353 318l0 4M464 463l4 4M145 582l-4 1M411 606l1 4M298 351l2 2M460 380l-3 4M406 628l3 1M313 611l0 3M58 525l4 1M304 655l-3 1M389 387l-3 3M39 517l4 2M61 305l3 1M297 398l-4 2M333 616l-2 1M361 458l0 2M346 628l-2 4M109 603l-2 1M173 553l-4 1M301 613l-4 0M293 615l3 2M291 533l-1 2M215 474l-1 4M213 621l4 0M296 302l1 1M481 484l3 0M121 393l1 2M232 311l1 2M184 620l-1 2M170 642l3 1M245 589l3 3M264 634l4 3M156 452l-3 1M282 316l-2 1M491 320l-3 1M420 493l-0 1M413 315l-3 3M211 407l4 0M478 614l2 1M514 295l1 2M124 642l-2 3M289 532l-2 2M265 456l-2 1M149 608l-4 1M547 324l4 1M251 544l1 5M197 329l3 1M506 519l-3 4M261 578l3 3M473 346l-2 4M347 550l1 1M47 430l4 0M200 407l1 3M321 343l1 3M524 446l2 1M498 496l1 1M399 543l2 1M302 299l-1 4M432 314l-0 4M274 314l2 3M330 658l3 2M344 594l-2 0M120 639l-3 0M54 352l0 2M337 314l-1 2M260 649l1 2M493 311l0 3M231 561l0 4M549 560l1 1M156 490l-2 2M211 446l-1 3M528 500l2 2M147 314l2 3M516 520l1 2M346 504l-2 3M248 644l0 2M54 308l1 3M484 425l3 2M339 657l-1 3M158 330l1 3M264 487l2 3M410 424l1 2M192 546l3 2M407 447l4 2M556 348l1 1M374 390l3 2M104 326l4 3M136 477l4 3M549 442l-2 4M396 552l-3 2M77 442l-3 1M387 490l-3 3M65 596l-4 2M305 454l-3 4M487 513l4 2M306 317l1 2M168 403l-1 2M96 626l-4 1M466 481l-3 3M85 496l-0 2M75 464l2 3M142 440l-1 3M486 619l-2 1M322 431l-1 1M495 309l2 3M469 520l-2 1M271 451l-3 3M148 351l1 3M442 320l-1 2M386 440l3 0M112 655l-4 0M501 554l-3 3M302 410l2 4M119 373l-2 0M110 501l-3 3M539 393l-2 0M486 416l-1 0M240 530l1 4M144 429l0 2M249 331l-0 3M438 579l-0 2M58 570l2 0M561 635l-2 4M81 340l-1 5M457 593l-2 3M158 308l2 1M394 548l-1 3M481 394l0 2M193 438l3 2M403 302l-4 0M349 341l2 1M267 355l-4 1M522 637l-1 1M259 420l-1 1M120 589l5 1M435 628l2 3M179 359l-2 1M310 293l3 2M104 613l-3 2" stroke="#2a2a2a" stroke-opacity="0.4" stroke-width="1.2" fill="none"/><radialGradient id="bL20"><stop offset="0" stop-color="#fff" stop-opacity="0.21"/><stop offset="0.55" stop-color="#fff" stop-opacity="0.137"/><stop offset="1" stop-color="#fff" stop-opacity="0"/></radialGradient><ellipse cx="290.3" cy="512.5" rx="30.5" ry="26.4" fill="url(#bL20)"/><radialGradient id="bL21"><stop offset="0" stop-color="#fff" stop-opacity="0.21"/><stop offset="0.55" stop-color="#fff" stop-opacity="0.137"/><stop offset="1" stop-color="#fff" stop-opacity="0"/></radialGradient><ellipse cx="292.3" cy="516.0" rx="32.0" ry="26.7" fill="url(#bL21)"/><radialGradient id="bL22"><stop offset="0" stop-color="#fff" stop-opacity="0.21"/><stop offset="0.55" stop-color="#fff" stop-opacity="0.137"/><stop offset="1" stop-color="#fff" stop-opacity="0"/></radialGradient><ellipse cx="303.2" cy="497.0" rx="25.2" ry="25.6" fill="url(#bL22)"/><radialGradient id="bL23"><stop offset="0" stop-color="#fff" stop-opacity="0.11"/><stop offset="0.55" stop-color="#fff" stop-opacity="0.072"/><stop offset="1" stop-color="#fff" stop-opacity="0"/></radialGradient><ellipse cx="339.1" cy="425.8" rx="30.4" ry="10.3" fill="url(#bL23)"/><radialGradient id="bL24"><stop offset="0" stop-color="#fff" stop-opacity="0.11"/><stop offset="0.55" stop-color="#fff" stop-opacity="0.072"/><stop offset="1" stop-color="#fff" stop-opacity="0"/></radialGradient><ellipse cx="326.4" cy="425.4" rx="32.0" ry="12.0" fill="url(#bL24)"/><radialGradient id="bL25"><stop offset="0" stop-color="#fff" stop-opacity="0.11"/><stop offset="0.55" stop-color="#fff" stop-opacity="0.072"/><stop offset="1" stop-color="#fff" stop-opacity="0"/></radialGradient><ellipse cx="349.5" cy="433.7" rx="24.3" ry="10.7" fill="url(#bL25)"/><radialGradient id="bL26"><stop offset="0" stop-color="#fff" stop-opacity="0.18"/><stop offset="0.55" stop-color="#fff" stop-opacity="0.117"/><stop offset="1" stop-color="#fff" stop-opacity="0"/></radialGradient><ellipse cx="380.9" cy="483.0" rx="28.5" ry="17.5" fill="url(#bL26)"/><radialGradient id="bL27"><stop offset="0" stop-color="#fff" stop-opacity="0.18"/><stop offset="0.55" stop-color="#fff" stop-opacity="0.117"/><stop offset="1" stop-color="#fff" stop-opacity="0"/></radialGradient><ellipse cx="369.8" cy="499.4" rx="22.5" ry="20.4" fill="url(#bL27)"/><radialGradient id="bL28"><stop offset="0" stop-color="#fff" stop-opacity="0.18"/><stop offset="0.55" stop-color="#fff" stop-opacity="0.117"/><stop offset="1" stop-color="#fff" stop-opacity="0"/></radialGradient><ellipse cx="379.5" cy="493.2" rx="24.1" ry="18.1" fill="url(#bL28)"/><radialGradient id="bL29"><stop offset="0" stop-color="#fff" stop-opacity="0.2"/><stop offset="0.55" stop-color="#fff" stop-opacity="0.130"/><stop offset="1" stop-color="#fff" stop-opacity="0"/></radialGradient><ellipse cx="535.4" cy="409.2" rx="26.3" ry="16.8" fill="url(#bL29)"/><radialGradient id="bL210"><stop offset="0" stop-color="#fff" stop-opacity="0.2"/><stop offset="0.55" stop-color="#fff" stop-opacity="0.130"/><stop offset="1" stop-color="#fff" stop-opacity="0"/></radialGradient><ellipse cx="553.6" cy="413.2" rx="27.0" ry="20.2" fill="url(#bL210)"/><radialGradient id="bL211"><stop offset="0" stop-color="#fff" stop-opacity="0.2"/><stop offset="0.55" stop-color="#fff" stop-opacity="0.130"/><stop offset="1" stop-color="#fff" stop-opacity="0"/></radialGradient><ellipse cx="552.8" cy="426.1" rx="24.3" ry="19.4" fill="url(#bL211)"/><radialGradient id="bL212"><stop offset="0" stop-color="#fff" stop-opacity="0.125"/><stop offset="0.55" stop-color="#fff" stop-opacity="0.081"/><stop offset="1" stop-color="#fff" stop-opacity="0"/></radialGradient><ellipse cx="298.5" cy="316.6" rx="21.4" ry="12.8" fill="url(#bL212)"/><radialGradient id="bL213"><stop offset="0" stop-color="#fff" stop-opacity="0.125"/><stop offset="0.55" stop-color="#fff" stop-opacity="0.081"/><stop offset="1" stop-color="#fff" stop-opacity="0"/></radialGradient><ellipse cx="318.7" cy="324.0" rx="19.1" ry="13.5" fill="url(#bL213)"/><radialGradient id="bL214"><stop offset="0" stop-color="#fff" stop-opacity="0.125"/><stop offset="0.55" stop-color="#fff" stop-opacity="0.081"/><stop offset="1" stop-color="#fff" stop-opacity="0"/></radialGradient><ellipse cx="306.8" cy="314.9" rx="22.4" ry="13.5" fill="url(#bL214)"/><radialGradient id="bL215"><stop offset="0" stop-color="#fff" stop-opacity="0.11"/><stop offset="0.55" stop-color="#fff" stop-opacity="0.072"/><stop offset="1" stop-color="#fff" stop-opacity="0"/></radialGradient><ellipse cx="126.4" cy="301.1" rx="23.8" ry="12.8" fill="url(#bL215)"/><radialGradient id="bL216"><stop offset="0" stop-color="#fff" stop-opacity="0.11"/><stop offset="0.55" stop-color="#fff" stop-opacity="0.072"/><stop offset="1" stop-color="#fff" stop-opacity="0"/></radialGradient><ellipse cx="139.9" cy="306.9" rx="22.7" ry="12.0" fill="url(#bL216)"/><radialGradient id="bL217"><stop offset="0" stop-color="#fff" stop-opacity="0.11"/><stop offset="0.55" stop-color="#fff" stop-opacity="0.072"/><stop offset="1" stop-color="#fff" stop-opacity="0"/></radialGradient><ellipse cx="132.0" cy="308.6" rx="22.8" ry="11.6" fill="url(#bL217)"/><radialGradient id="bL218"><stop offset="0" stop-color="#fff" stop-opacity="0.1"/><stop offset="0.55" stop-color="#fff" stop-opacity="0.065"/><stop offset="1" stop-color="#fff" stop-opacity="0"/></radialGradient><ellipse cx="38.7" cy="321.1" rx="14.7" ry="31.4" fill="url(#bL218)"/><radialGradient id="bL219"><stop offset="0" stop-color="#fff" stop-opacity="0.1"/><stop offset="0.55" stop-color="#fff" stop-opacity="0.065"/><stop offset="1" stop-color="#fff" stop-opacity="0"/></radialGradient><ellipse cx="42.0" cy="336.5" rx="14.5" ry="24.8" fill="url(#bL219)"/><radialGradient id="bL220"><stop offset="0" stop-color="#fff" stop-opacity="0.1"/><stop offset="0.55" stop-color="#fff" stop-opacity="0.065"/><stop offset="1" stop-color="#fff" stop-opacity="0"/></radialGradient><ellipse cx="36.4" cy="344.3" rx="16.6" ry="27.0" fill="url(#bL220)"/><radialGradient id="bL221"><stop offset="0" stop-color="#fff" stop-opacity="0.08"/><stop offset="0.55" stop-color="#fff" stop-opacity="0.052"/><stop offset="1" stop-color="#fff" stop-opacity="0"/></radialGradient><ellipse cx="230.6" cy="463.5" rx="21.8" ry="17.4" fill="url(#bL221)"/><radialGradient id="bL222"><stop offset="0" stop-color="#fff" stop-opacity="0.08"/><stop offset="0.55" stop-color="#fff" stop-opacity="0.052"/><stop offset="1" stop-color="#fff" stop-opacity="0"/></radialGradient><ellipse cx="223.7" cy="469.7" rx="22.2" ry="15.8" fill="url(#bL222)"/><radialGradient id="bL223"><stop offset="0" stop-color="#fff" stop-opacity="0.08"/><stop offset="0.55" stop-color="#fff" stop-opacity="0.052"/><stop offset="1" stop-color="#fff" stop-opacity="0"/></radialGradient><ellipse cx="235.7" cy="459.8" rx="18.9" ry="14.3" fill="url(#bL223)"/><radialGradient id="bL224"><stop offset="0" stop-color="#fff" stop-opacity="0.08"/><stop offset="0.55" stop-color="#fff" stop-opacity="0.052"/><stop offset="1" stop-color="#fff" stop-opacity="0"/></radialGradient><ellipse cx="120.9" cy="454.7" rx="30.7" ry="18.3" fill="url(#bL224)"/><radialGradient id="bL225"><stop offset="0" stop-color="#fff" stop-opacity="0.08"/><stop offset="0.55" stop-color="#fff" stop-opacity="0.052"/><stop offset="1" stop-color="#fff" stop-opacity="0"/></radialGradient><ellipse cx="116.3" cy="461.6" rx="38.4" ry="14.7" fill="url(#bL225)"/><radialGradient id="bL226"><stop offset="0" stop-color="#fff" stop-opacity="0.08"/><stop offset="0.55" stop-color="#fff" stop-opacity="0.052"/><stop offset="1" stop-color="#fff" stop-opacity="0"/></radialGradient><ellipse cx="93.1" cy="457.5" rx="34.2" ry="15.2" fill="url(#bL226)"/><radialGradient id="bL227"><stop offset="0" stop-color="#fff" stop-opacity="0.15"/><stop offset="0.55" stop-color="#fff" stop-opacity="0.098"/><stop offset="1" stop-color="#fff" stop-opacity="0"/></radialGradient><ellipse cx="256.2" cy="594.8" rx="21.8" ry="17.5" fill="url(#bL227)"/><radialGradient id="bL228"><stop offset="0" stop-color="#fff" stop-opacity="0.15"/><stop offset="0.55" stop-color="#fff" stop-opacity="0.098"/><stop offset="1" stop-color="#fff" stop-opacity="0"/></radialGradient><ellipse cx="273.2" cy="597.6" rx="18.2" ry="17.4" fill="url(#bL228)"/><radialGradient id="bL229"><stop offset="0" stop-color="#fff" stop-opacity="0.15"/><stop offset="0.55" stop-color="#fff" stop-opacity="0.098"/><stop offset="1" stop-color="#fff" stop-opacity="0"/></radialGradient><ellipse cx="267.6" cy="602.5" rx="17.0" ry="14.1" fill="url(#bL229)"/><radialGradient id="bL230"><stop offset="0" stop-color="#fff" stop-opacity="0.09"/><stop offset="0.55" stop-color="#fff" stop-opacity="0.058"/><stop offset="1" stop-color="#fff" stop-opacity="0"/></radialGradient><ellipse cx="448.7" cy="575.8" rx="17.1" ry="15.8" fill="url(#bL230)"/><radialGradient id="bL231"><stop offset="0" stop-color="#fff" stop-opacity="0.09"/><stop offset="0.55" stop-color="#fff" stop-opacity="0.058"/><stop offset="1" stop-color="#fff" stop-opacity="0"/></radialGradient><ellipse cx="440.5" cy="571.6" rx="16.9" ry="14.6" fill="url(#bL231)"/><radialGradient id="bL232"><stop offset="0" stop-color="#fff" stop-opacity="0.09"/><stop offset="0.55" stop-color="#fff" stop-opacity="0.058"/><stop offset="1" stop-color="#fff" stop-opacity="0"/></radialGradient><ellipse cx="442.7" cy="565.6" rx="16.6" ry="13.2" fill="url(#bL232)"/><radialGradient id="bL233"><stop offset="0" stop-color="#fff" stop-opacity="0.11"/><stop offset="0.55" stop-color="#fff" stop-opacity="0.072"/><stop offset="1" stop-color="#fff" stop-opacity="0"/></radialGradient><ellipse cx="433.0" cy="306.9" rx="10.9" ry="8.6" fill="url(#bL233)"/><radialGradient id="bL234"><stop offset="0" stop-color="#fff" stop-opacity="0.11"/><stop offset="0.55" stop-color="#fff" stop-opacity="0.072"/><stop offset="1" stop-color="#fff" stop-opacity="0"/></radialGradient><ellipse cx="432.3" cy="305.8" rx="12.9" ry="7.8" fill="url(#bL234)"/><radialGradient id="bL235"><stop offset="0" stop-color="#fff" stop-opacity="0.11"/><stop offset="0.55" stop-color="#fff" stop-opacity="0.072"/><stop offset="1" stop-color="#fff" stop-opacity="0"/></radialGradient><ellipse cx="428.5" cy="307.0" rx="14.1" ry="7.5" fill="url(#bL235)"/><radialGradient id="bL236"><stop offset="0" stop-color="#fff" stop-opacity="0.05"/><stop offset="0.55" stop-color="#fff" stop-opacity="0.033"/><stop offset="1" stop-color="#fff" stop-opacity="0"/></radialGradient><ellipse cx="479.1" cy="312.7" rx="18.2" ry="13.8" fill="url(#bL236)"/><radialGradient id="bL237"><stop offset="0" stop-color="#fff" stop-opacity="0.05"/><stop offset="0.55" stop-color="#fff" stop-opacity="0.033"/><stop offset="1" stop-color="#fff" stop-opacity="0"/></radialGradient><ellipse cx="480.3" cy="326.6" rx="21.9" ry="12.5" fill="url(#bL237)"/><radialGradient id="bL238"><stop offset="0" stop-color="#fff" stop-opacity="0.05"/><stop offset="0.55" stop-color="#fff" stop-opacity="0.033"/><stop offset="1" stop-color="#fff" stop-opacity="0"/></radialGradient><ellipse cx="491.0" cy="316.8" rx="21.0" ry="12.9" fill="url(#bL238)"/><radialGradient id="bL239"><stop offset="0" stop-color="#fff" stop-opacity="0.07"/><stop offset="0.55" stop-color="#fff" stop-opacity="0.046"/><stop offset="1" stop-color="#fff" stop-opacity="0"/></radialGradient><ellipse cx="515.4" cy="514.7" rx="14.9" ry="16.3" fill="url(#bL239)"/><radialGradient id="bL240"><stop offset="0" stop-color="#fff" stop-opacity="0.07"/><stop offset="0.55" stop-color="#fff" stop-opacity="0.046"/><stop offset="1" stop-color="#fff" stop-opacity="0"/></radialGradient><ellipse cx="523.0" cy="512.0" rx="16.3" ry="17.0" fill="url(#bL240)"/><radialGradient id="bL241"><stop offset="0" stop-color="#fff" stop-opacity="0.07"/><stop offset="0.55" stop-color="#fff" stop-opacity="0.046"/><stop offset="1" stop-color="#fff" stop-opacity="0"/></radialGradient><ellipse cx="527.4" cy="526.8" rx="13.2" ry="15.2" fill="url(#bL241)"/><radialGradient id="bL242"><stop offset="0" stop-color="#fff" stop-opacity="0.07"/><stop offset="0.55" stop-color="#fff" stop-opacity="0.046"/><stop offset="1" stop-color="#fff" stop-opacity="0"/></radialGradient><ellipse cx="46.2" cy="583.7" rx="19.1" ry="17.8" fill="url(#bL242)"/><radialGradient id="bL243"><stop offset="0" stop-color="#fff" stop-opacity="0.07"/><stop offset="0.55" stop-color="#fff" stop-opacity="0.046"/><stop offset="1" stop-color="#fff" stop-opacity="0"/></radialGradient><ellipse cx="51.3" cy="582.2" rx="19.9" ry="14.6" fill="url(#bL243)"/><radialGradient id="bL244"><stop offset="0" stop-color="#fff" stop-opacity="0.07"/><stop offset="0.55" stop-color="#fff" stop-opacity="0.046"/><stop offset="1" stop-color="#fff" stop-opacity="0"/></radialGradient><ellipse cx="55.0" cy="573.9" rx="23.4" ry="15.8" fill="url(#bL244)"/><radialGradient id="bL245"><stop offset="0" stop-color="#fff" stop-opacity="0.04"/><stop offset="0.55" stop-color="#fff" stop-opacity="0.026"/><stop offset="1" stop-color="#fff" stop-opacity="0"/></radialGradient><ellipse cx="180.1" cy="410.9" rx="23.7" ry="12.4" fill="url(#bL245)"/><radialGradient id="bL246"><stop offset="0" stop-color="#fff" stop-opacity="0.04"/><stop offset="0.55" stop-color="#fff" stop-opacity="0.026"/><stop offset="1" stop-color="#fff" stop-opacity="0"/></radialGradient><ellipse cx="182.7" cy="410.1" rx="22.4" ry="15.9" fill="url(#bL246)"/><radialGradient id="bL247"><stop offset="0" stop-color="#fff" stop-opacity="0.04"/><stop offset="0.55" stop-color="#fff" stop-opacity="0.026"/><stop offset="1" stop-color="#fff" stop-opacity="0"/></radialGradient><ellipse cx="174.9" cy="413.6" rx="21.2" ry="14.2" fill="url(#bL247)"/><radialGradient id="bL248"><stop offset="0" stop-color="#fff" stop-opacity="0.125"/><stop offset="0.55" stop-color="#fff" stop-opacity="0.081"/><stop offset="1" stop-color="#fff" stop-opacity="0"/></radialGradient><ellipse cx="308.2" cy="538.5" rx="19.9" ry="20.1" fill="url(#bL248)"/><radialGradient id="bL249"><stop offset="0" stop-color="#fff" stop-opacity="0.125"/><stop offset="0.55" stop-color="#fff" stop-opacity="0.081"/><stop offset="1" stop-color="#fff" stop-opacity="0"/></radialGradient><ellipse cx="313.9" cy="543.3" rx="15.5" ry="18.5" fill="url(#bL249)"/><radialGradient id="bL250"><stop offset="0" stop-color="#fff" stop-opacity="0.125"/><stop offset="0.55" stop-color="#fff" stop-opacity="0.081"/><stop offset="1" stop-color="#fff" stop-opacity="0"/></radialGradient><ellipse cx="308.4" cy="538.5" rx="18.8" ry="20.7" fill="url(#bL250)"/><radialGradient id="bL251"><stop offset="0" stop-color="#fff" stop-opacity="0.06"/><stop offset="0.55" stop-color="#fff" stop-opacity="0.039"/><stop offset="1" stop-color="#fff" stop-opacity="0"/></radialGradient><ellipse cx="478.3" cy="520.1" rx="21.9" ry="11.0" fill="url(#bL251)"/><radialGradient id="bL252"><stop offset="0" stop-color="#fff" stop-opacity="0.06"/><stop offset="0.55" stop-color="#fff" stop-opacity="0.039"/><stop offset="1" stop-color="#fff" stop-opacity="0"/></radialGradient><ellipse cx="475.5" cy="525.4" rx="20.4" ry="10.3" fill="url(#bL252)"/><radialGradient id="bL253"><stop offset="0" stop-color="#fff" stop-opacity="0.06"/><stop offset="0.55" stop-color="#fff" stop-opacity="0.039"/><stop offset="1" stop-color="#fff" stop-opacity="0"/></radialGradient><ellipse cx="462.8" cy="526.0" rx="19.5" ry="11.9" fill="url(#bL253)"/><radialGradient id="bL254"><stop offset="0" stop-color="#fff" stop-opacity="0.075"/><stop offset="0.55" stop-color="#fff" stop-opacity="0.049"/><stop offset="1" stop-color="#fff" stop-opacity="0"/></radialGradient><ellipse cx="316.7" cy="645.0" rx="13.8" ry="12.9" fill="url(#bL254)"/><radialGradient id="bL255"><stop offset="0" stop-color="#fff" stop-opacity="0.075"/><stop offset="0.55" stop-color="#fff" stop-opacity="0.049"/><stop offset="1" stop-color="#fff" stop-opacity="0"/></radialGradient><ellipse cx="308.9" cy="640.8" rx="14.5" ry="15.9" fill="url(#bL255)"/><radialGradient id="bL256"><stop offset="0" stop-color="#fff" stop-opacity="0.075"/><stop offset="0.55" stop-color="#fff" stop-opacity="0.049"/><stop offset="1" stop-color="#fff" stop-opacity="0"/></radialGradient><ellipse cx="303.5" cy="640.6" rx="14.0" ry="14.9" fill="url(#bL256)"/><radialGradient id="bL257"><stop offset="0" stop-color="#fff" stop-opacity="0.075"/><stop offset="0.55" stop-color="#fff" stop-opacity="0.049"/><stop offset="1" stop-color="#fff" stop-opacity="0"/></radialGradient><ellipse cx="555.0" cy="651.0" rx="14.5" ry="15.0" fill="url(#bL257)"/><radialGradient id="bL258"><stop offset="0" stop-color="#fff" stop-opacity="0.075"/><stop offset="0.55" stop-color="#fff" stop-opacity="0.049"/><stop offset="1" stop-color="#fff" stop-opacity="0"/></radialGradient><ellipse cx="551.0" cy="652.5" rx="14.8" ry="14.7" fill="url(#bL258)"/><radialGradient id="bL259"><stop offset="0" stop-color="#fff" stop-opacity="0.075"/><stop offset="0.55" stop-color="#fff" stop-opacity="0.049"/><stop offset="1" stop-color="#fff" stop-opacity="0"/></radialGradient><ellipse cx="543.4" cy="653.5" rx="13.5" ry="14.5" fill="url(#bL259)"/><radialGradient id="bL260"><stop offset="0" stop-color="#fff" stop-opacity="0.075"/><stop offset="0.55" stop-color="#fff" stop-opacity="0.049"/><stop offset="1" stop-color="#fff" stop-opacity="0"/></radialGradient><ellipse cx="44.1" cy="318.3" rx="11.2" ry="12.0" fill="url(#bL260)"/><radialGradient id="bL261"><stop offset="0" stop-color="#fff" stop-opacity="0.075"/><stop offset="0.55" stop-color="#fff" stop-opacity="0.049"/><stop offset="1" stop-color="#fff" stop-opacity="0"/></radialGradient><ellipse cx="37.6" cy="306.6" rx="9.5" ry="12.6" fill="url(#bL261)"/><radialGradient id="bL262"><stop offset="0" stop-color="#fff" stop-opacity="0.075"/><stop offset="0.55" stop-color="#fff" stop-opacity="0.049"/><stop offset="1" stop-color="#fff" stop-opacity="0"/></radialGradient><ellipse cx="40.7" cy="302.4" rx="9.2" ry="15.8" fill="url(#bL262)"/><radialGradient id="bL263"><stop offset="0" stop-color="#fff" stop-opacity="0.06"/><stop offset="0.55" stop-color="#fff" stop-opacity="0.039"/><stop offset="1" stop-color="#fff" stop-opacity="0"/></radialGradient><ellipse cx="233.7" cy="404.2" rx="24.9" ry="19.8" fill="url(#bL263)"/><radialGradient id="bL264"><stop offset="0" stop-color="#fff" stop-opacity="0.06"/><stop offset="0.55" stop-color="#fff" stop-opacity="0.039"/><stop offset="1" stop-color="#fff" stop-opacity="0"/></radialGradient><ellipse cx="232.3" cy="398.4" rx="26.7" ry="18.2" fill="url(#bL264)"/><radialGradient id="bL265"><stop offset="0" stop-color="#fff" stop-opacity="0.06"/><stop offset="0.55" stop-color="#fff" stop-opacity="0.039"/><stop offset="1" stop-color="#fff" stop-opacity="0"/></radialGradient><ellipse cx="231.5" cy="399.6" rx="31.6" ry="16.6" fill="url(#bL265)"/><radialGradient id="bL266"><stop offset="0" stop-color="#fff" stop-opacity="0.06"/><stop offset="0.55" stop-color="#fff" stop-opacity="0.039"/><stop offset="1" stop-color="#fff" stop-opacity="0"/></radialGradient><ellipse cx="224.5" cy="473.1" rx="15.8" ry="7.4" fill="url(#bL266)"/><radialGradient id="bL267"><stop offset="0" stop-color="#fff" stop-opacity="0.06"/><stop offset="0.55" stop-color="#fff" stop-opacity="0.039"/><stop offset="1" stop-color="#fff" stop-opacity="0"/></radialGradient><ellipse cx="223.2" cy="470.9" rx="16.4" ry="6.8" fill="url(#bL267)"/><radialGradient id="bL268"><stop offset="0" stop-color="#fff" stop-opacity="0.06"/><stop offset="0.55" stop-color="#fff" stop-opacity="0.039"/><stop offset="1" stop-color="#fff" stop-opacity="0"/></radialGradient><ellipse cx="239.9" cy="469.7" rx="17.2" ry="7.2" fill="url(#bL268)"/><radialGradient id="bL269"><stop offset="0" stop-color="#fff" stop-opacity="0.06"/><stop offset="0.55" stop-color="#fff" stop-opacity="0.039"/><stop offset="1" stop-color="#fff" stop-opacity="0"/></radialGradient><ellipse cx="475.1" cy="445.6" rx="16.9" ry="9.8" fill="url(#bL269)"/><radialGradient id="bL270"><stop offset="0" stop-color="#fff" stop-opacity="0.06"/><stop offset="0.55" stop-color="#fff" stop-opacity="0.039"/><stop offset="1" stop-color="#fff" stop-opacity="0"/></radialGradient><ellipse cx="473.0" cy="456.2" rx="15.2" ry="11.4" fill="url(#bL270)"/><radialGradient id="bL271"><stop offset="0" stop-color="#fff" stop-opacity="0.06"/><stop offset="0.55" stop-color="#fff" stop-opacity="0.039"/><stop offset="1" stop-color="#fff" stop-opacity="0"/></radialGradient><ellipse cx="489.8" cy="452.8" rx="15.1" ry="10.5" fill="url(#bL271)"/><radialGradient id="bL272"><stop offset="0" stop-color="#fff" stop-opacity="0.09"/><stop offset="0.55" stop-color="#fff" stop-opacity="0.058"/><stop offset="1" stop-color="#fff" stop-opacity="0"/></radialGradient><ellipse cx="323.4" cy="471.9" rx="29.6" ry="13.0" fill="url(#bL272)"/><radialGradient id="bL273"><stop offset="0" stop-color="#fff" stop-opacity="0.09"/><stop offset="0.55" stop-color="#fff" stop-opacity="0.058"/><stop offset="1" stop-color="#fff" stop-opacity="0"/></radialGradient><ellipse cx="322.3" cy="470.8" rx="24.8" ry="13.2" fill="url(#bL273)"/><radialGradient id="bL274"><stop offset="0" stop-color="#fff" stop-opacity="0.09"/><stop offset="0.55" stop-color="#fff" stop-opacity="0.058"/><stop offset="1" stop-color="#fff" stop-opacity="0"/></radialGradient><ellipse cx="338.3" cy="477.1" rx="27.0" ry="12.5" fill="url(#bL274)"/><radialGradient id="bL275"><stop offset="0" stop-color="#fff" stop-opacity="0.075"/><stop offset="0.55" stop-color="#fff" stop-opacity="0.049"/><stop offset="1" stop-color="#fff" stop-opacity="0"/></radialGradient><ellipse cx="296.6" cy="457.8" rx="17.6" ry="12.2" fill="url(#bL275)"/><radialGradient id="bL276"><stop offset="0" stop-color="#fff" stop-opacity="0.075"/><stop offset="0.55" stop-color="#fff" stop-opacity="0.049"/><stop offset="1" stop-color="#fff" stop-opacity="0"/></radialGradient><ellipse cx="283.0" cy="450.3" rx="17.8" ry="12.9" fill="url(#bL276)"/><radialGradient id="bL277"><stop offset="0" stop-color="#fff" stop-opacity="0.075"/><stop offset="0.55" stop-color="#fff" stop-opacity="0.049"/><stop offset="1" stop-color="#fff" stop-opacity="0"/></radialGradient><ellipse cx="296.8" cy="458.2" rx="19.6" ry="15.5" fill="url(#bL277)"/><radialGradient id="bL278"><stop offset="0" stop-color="#fff" stop-opacity="0.06"/><stop offset="0.55" stop-color="#fff" stop-opacity="0.039"/><stop offset="1" stop-color="#fff" stop-opacity="0"/></radialGradient><ellipse cx="174.0" cy="311.1" rx="37.0" ry="11.7" fill="url(#bL278)"/><radialGradient id="bL279"><stop offset="0" stop-color="#fff" stop-opacity="0.06"/><stop offset="0.55" stop-color="#fff" stop-opacity="0.039"/><stop offset="1" stop-color="#fff" stop-opacity="0"/></radialGradient><ellipse cx="213.3" cy="313.5" rx="38.3" ry="9.2" fill="url(#bL279)"/><radialGradient id="bL280"><stop offset="0" stop-color="#fff" stop-opacity="0.06"/><stop offset="0.55" stop-color="#fff" stop-opacity="0.039"/><stop offset="1" stop-color="#fff" stop-opacity="0"/></radialGradient><ellipse cx="217.0" cy="311.4" rx="43.4" ry="10.4" fill="url(#bL280)"/><radialGradient id="bL281"><stop offset="0" stop-color="#fff" stop-opacity="0.06"/><stop offset="0.55" stop-color="#fff" stop-opacity="0.039"/><stop offset="1" stop-color="#fff" stop-opacity="0"/></radialGradient><ellipse cx="100.8" cy="298.3" rx="26.2" ry="8.0" fill="url(#bL281)"/><radialGradient id="bL282"><stop offset="0" stop-color="#fff" stop-opacity="0.06"/><stop offset="0.55" stop-color="#fff" stop-opacity="0.039"/><stop offset="1" stop-color="#fff" stop-opacity="0"/></radialGradient><ellipse cx="82.7" cy="301.4" rx="31.1" ry="7.4" fill="url(#bL282)"/><radialGradient id="bL283"><stop offset="0" stop-color="#fff" stop-opacity="0.06"/><stop offset="0.55" stop-color="#fff" stop-opacity="0.039"/><stop offset="1" stop-color="#fff" stop-opacity="0"/></radialGradient><ellipse cx="74.4" cy="300.1" rx="29.4" ry="7.7" fill="url(#bL283)"/><path d="M309 487l-2 5M399 496l6 2M303 634l3 8M366 483l-2 5M358 510l9 1M312 512l-2 5M344 552l-8 3M303 459l6 2M185 409l4 7M130 468l-3 4M355 431l5 3M53 306l-0 8M322 442l4 6M411 486l-8 1M293 506l-2 4M210 456l-5 1M388 494l-5 3M367 502l-2 8M566 429l-6 7M324 480l5 2M268 482l8 2M385 480l-0 9M279 474l-3 8M321 511l-1 3M482 523l7 3M307 497l-4 6M519 405l3 2M560 419l6 6M321 506l-1 7M240 456l-2 3M546 423l-7 0M273 504l-10 2M541 403l-6 3M341 488l-3 0M287 498l7 2M559 417l4 1M287 518l2 3M286 489l3 6M319 516l1 3M347 446l5 5M525 520l1 4M285 331l4 1M322 511l8 6M161 306l7 4M295 497l-1 9M297 512l-1 9M318 503l-3 4M309 470l-2 9M292 454l5 4M311 489l-6 2M317 497l3 2M278 572l-7 6M392 488l-4 0M549 414l6 5M312 490l3 7M302 517l-0 3M535 398l-8 4M60 574l3 0M358 495l-3 4M302 514l5 6M389 503l-7 4M294 545l-4 3M68 575l0 3M285 588l4 5M240 473l-3 1M362 485l1 3M332 544l-5 7M266 507l2 9M293 453l-5 2M559 426l3 7M60 345l-5 2M143 314l-6 7M315 521l3 6M279 498l-9 3M341 493l4 0M289 530l6 8M236 417l-2 7M304 444l3 3M388 499l1 3M302 644l8 2M206 309l3 3M123 309l-2 5M310 518l1 5M69 292l1 10M437 294l-5 0M341 470l-2 5M239 303l-0 8M322 459l-6 1M298 463l4 4M448 574l-2 6M271 518l8 3M323 471l3 1M376 455l-3 9M322 501l1 3M342 505l2 6M378 499l-0 6M349 484l-4 1M255 614l-3 0M552 441l-4 4M357 463l6 0M369 516l1 7M426 564l5 8M275 492l-4 0M50 332l-6 0M363 517l-5 8M370 478l4 5M112 460l-7 6M305 482l4 7M120 474l-0 4M279 532l3 4M291 456l-3 3M563 426l-4 5M319 531l-1 4M516 405l3 9M51 314l1 5M454 574l9 1M342 525l7 3M323 503l1 8M137 306l-7 3M539 408l-4 0M506 321l-2 3M396 476l-5 5M250 612l-0 4M285 585l7 7M46 355l7 6M443 306l-10 2M261 519l-4 3M273 521l8 4M316 500l-7 1M330 481l-1 5M215 391l-2 6M234 404l-6 6M329 512l5 5M319 437l1 10M318 488l-2 4M340 525l-5 6M302 521l2 8M321 539l-5 0M295 512l3 1M518 410l6 5M553 403l-8 5M251 590l4 3M545 384l3 1M284 480l-4 8M301 480l-4 0M360 457l5 8M289 295l1 4M348 488l5 6M267 485l-6 2M327 484l0 4M539 417l-3 8M558 427l-7 5M252 588l9 2M109 465l9 0M549 648l-3 3M295 466l5 3M252 611l4 4M362 454l5 1M222 476l-9 1M360 479l-10 2M231 472l0 4M371 466l3 3M303 555l4 8M288 482l-7 3M560 443l-2 3M306 531l9 2M510 532l1 5M487 435l1 8M338 452l-2 8M402 500l3 9M325 511l-6 6M375 471l-0 4M327 482l-3 9M291 506l7 0M329 491l-4 3M448 563l5 6M291 469l-4 4M298 530l-1 7M322 513l7 3M38 321l6 1M46 319l-1 6M344 465l-4 0M267 453l0 9M553 644l-6 2M358 482l1 6M293 439l-2 7M352 458l-8 1M316 499l-5 1M319 476l0 6M171 304l-0 3M344 425l3 6M269 454l2 4M283 526l6 5M320 512l6 3M324 491l-5 0M293 556l-7 4M304 477l4 8M318 502l-5 1M60 304l3 1M528 419l5 5M178 301l-2 7M276 474l-2 7M311 438l-6 7M313 466l-5 2M97 474l-2 10M528 414l6 8M294 607l-8 3M300 518l1 4M294 512l6 4M543 444l-4 3M88 297l5 6M530 411l-2 8M188 311l-6 1M325 512l7 5M276 550l5 2M340 502l-3 1M361 461l-5 2M253 525l4 1M149 313l2 6M328 520l-4 7M406 484l6 2M343 492l2 5M246 591l-0 10M325 523l7 7M298 449l-0 5M57 322l-2 5M314 509l-1 3M243 485l-5 1M425 300l6 5M308 472l-7 3M299 510l-9 3M57 338l7 2M267 441l2 8M158 294l5 5M380 479l3 4M355 468l-6 1M334 530l3 3M362 503l-1 9M527 539l-9 2M392 472l-8 1M529 432l-8 1M153 319l-5 2M366 487l-5 5M498 307l-3 7M144 310l-7 0M294 497l-6 8M262 610l2 9M268 607l-5 4M320 543l-5 2M191 406l1 4M210 400l-6 0M309 449l6 7M241 454l-3 5M515 398l2 9M345 461l4 1M447 546l1 6M274 581l3 6M49 330l5 5M321 533l4 2M336 532l-7 5M281 516l2 3M215 301l-5 4M541 402l9 2M338 468l-5 1M303 525l6 2M298 308l-8 0M89 448l-2 5M329 430l1 6M362 474l-6 1M46 303l1 9M308 328l4 8M363 437l-1 6M298 482l-0 4M241 460l4 8M436 571l7 6M340 490l4 4M433 578l3 6M278 486l3 3M281 445l-1 6M297 520l6 2M375 471l-8 3M334 450l3 7M319 512l-5 7M329 510l6 3M383 491l4 1M390 480l2 2M229 473l1 4M360 455l7 0M343 479l0 4M493 328l4 1M375 477l-2 4M49 304l-7 4M393 457l4 6M376 479l6 8M292 308l-2 4M319 426l4 6M338 494l-5 2M335 466l-0 7M521 506l4 7M312 428l-2 9M331 557l-7 5M302 526l-4 1M36 325l-4 1M374 474l-1 8M309 524l6 4M297 503l-6 1M378 498l8 3M539 426l-3 1M266 510l-4 8M388 492l-5 3M413 478l2 10M323 301l-6 6M346 509l-1 3M378 481l4 4M383 477l-2 3M300 498l-5 4M372 482l4 1M528 394l-5 4M155 299l5 3M308 509l-1 9M66 579l2 9M133 312l2 3M114 443l2 5M541 433l-8 2M283 467l-2 6M269 492l1 8M323 501l6 5M565 419l-6 2M89 471l-3 7M531 416l-5 0M466 523l2 3M296 523l-7 2M256 482l-3 5M284 440l-4 3M344 458l9 0M370 487l-7 3M342 460l5 8M380 478l-3 4M45 330l1 3M400 486l4 7M537 412l-7 5M244 474l8 5M431 569l-4 5M544 419l-4 1M354 508l-1 4M281 487l5 6M321 541l8 1M341 470l-10 1M302 442l-7 3M337 438l1 4M536 437l8 6M279 518l5 6M387 494l2 4M290 498l-0 4M98 462l-6 0M313 655l6 6M322 508l-2 4M442 575l-5 2M319 554l4 4M326 501l-6 5M267 465l3 5M338 546l-3 9M141 460l-1 8M560 417l6 5M65 579l2 4M349 484l6 4M285 502l-0 5M323 494l6 2M279 523l5 1M323 521l-5 4M459 522l-6 7M545 429l9 1M545 639l1 8M416 471l-7 2M315 314l3 5M116 460l4 9M385 475l3 6M304 323l5 3M307 502l0 10M332 507l2 8M289 506l3 0M525 399l3 6M386 501l-4 2M344 501l5 2M312 311l-7 1M364 443l-1 8M55 313l3 8M344 524l2 6M294 310l-4 9M372 486l3 1M371 513l-1 5M294 543l-4 0M362 498l3 6M216 455l5 6M211 452l6 6M300 429l-3 3M319 473l-3 2M550 434l-7 5M306 520l-1 4M307 495l-8 5M530 433l-1 4M386 476l-3 2M351 449l-3 4M332 521l-1 7M333 427l-10 2M331 495l3 4M265 598l-5 2M104 301l5 6M252 603l2 7M363 490l-4 1M288 527l-1 8M325 513l9 4M294 523l4 3M348 481l-1 5M310 510l2 6M553 409l7 0M375 510l-2 3M363 479l-5 1M360 486l0 9M277 496l-6 2M162 312l-5 2M355 474l-6 3M371 496l-3 3M331 542l-5 5M390 475l8 0M308 542l-8 4M444 576l4 8M40 334l2 5M253 588l8 4M106 305l4 0M341 490l1 9M318 507l-3 1M478 453l8 6M336 544l-7 5M329 474l0 6M299 481l4 0M546 632l2 4M297 488l9 3M292 536l2 6M316 529l-4 2M335 457l-5 5M540 392l-3 8M39 318l-3 6M109 462l-4 1M535 423l-3 2M114 308l-5 7M302 637l-7 2M304 515l-5 3M285 513l-2 7M311 318l6 5M328 531l-6 2M345 521l-5 7M555 651l3 2M306 504l8 2M545 417l-1 6M322 465l3 0M369 495l4 8M360 498l-9 3M321 503l7 2M358 509l7 2M519 414l-6 6M301 651l4 2M419 486l-4 1M72 572l-1 5M282 490l-8 2M313 535l4 2M230 472l-9 0M157 301l-3 0M550 434l7 2M306 519l7 3M305 503l-5 4M314 503l-6 5M275 552l5 6M282 482l4 2M304 455l4 8M265 509l-10 2M363 517l-3 2M328 521l6 1M149 309l3 7M552 411l-0 4M271 592l-5 0M324 521l-4 4M539 434l-1 5M540 433l2 4M324 306l4 4M473 513l-0 6M284 472l3 6M268 540l-2 6M371 493l-6 3M379 445l1 6M244 587l7 4M38 321l5 2M328 483l-5 5M277 500l6 4M125 300l-9 3M305 443l0 4M300 495l8 0M339 536l2 8M315 328l7 4M112 300l1 3M479 447l-8 5M238 398l-6 1M299 471l-9 4M143 321l-5 8M404 478l-1 6M363 476l-0 8M314 526l-6 2M355 445l3 4M60 568l3 8M336 550l5 3M350 453l-2 5M270 603l1 6M325 508l4 5M308 526l-4 2M324 445l-2 4M54 330l-6 6M288 479l-3 5M303 434l9 1M377 471l8 2M326 483l-7 3M375 506l-4 2M138 309l7 6M119 477l1 6M50 320l7 6M414 293l10 2M529 401l4 3M404 496l9 1M333 524l4 1M300 320l2 9M382 481l-5 0M300 430l-3 6M328 473l0 6M298 504l-2 6M503 527l7 2M228 458l3 2M290 304l-3 1M202 402l0 3M232 449l2 9M555 410l-8 3M331 504l5 1M101 469l2 6M291 520l-1 8M360 481l-1 3M234 454l3 2M317 524l-4 5M555 395l3 1M282 498l-8 4M306 535l8 5M267 597l-3 3M339 495l4 9M370 472l5 5M73 464l3 9M341 509l4 0M78 478l-0 3M541 434l5 4M558 634l4 8M320 440l3 4M324 524l3 1M53 317l-4 4M287 495l-4 3M325 533l-0 6M283 462l-3 7M252 476l-1 7M326 480l1 6M521 512l0 3M423 570l6 4M319 530l-1 5M46 310l-3 2M313 507l-0 4M344 520l1 5M285 547l-3 4M307 447l-6 1M53 313l8 1M541 428l-4 7M366 484l-3 1M304 531l5 6M283 592l3 1M394 467l0 6M247 393l-6 5M526 436l2 4M479 444l2 9M392 462l-7 7M307 299l2 7M209 402l2 8M224 466l-9 2M277 475l8 6M339 454l-2 9M284 503l6 3M331 504l7 3M326 495l-4 3M178 316l-7 3M300 335l3 2M263 508l5 6M546 447l-5 3M509 417l9 2M302 539l5 7M237 470l3 2M310 444l5 8M314 519l9 1M320 531l8 4M312 491l-5 5M180 301l1 5M400 502l0 9M409 485l5 8M310 300l-7 3M501 531l6 4M119 297l-2 3M323 481l7 3M551 433l7 1M313 484l6 0M288 315l6 3M38 320l-6 1M328 424l9 0M53 578l2 3M368 501l-9 1M350 530l-3 8M283 504l4 3M406 484l2 4M350 478l3 1M296 475l4 3M420 293l3 1M321 475l-2 3M439 303l-5 2M546 407l-5 6M271 455l3 2M298 487l4 3M92 460l-3 2M355 506l-7 2M345 499l-4 7M397 491l3 3M517 420l-9 1M139 302l1 8M309 534l-2 4M307 455l6 6M294 452l-2 3M314 447l-8 4M317 478l-4 5M317 498l-7 2M364 473l-0 7M368 513l7 2M55 361l6 0M324 523l-0 6M380 498l3 3M33 302l4 5M308 304l-4 8M326 463l3 1M536 402l-1 7M154 314l3 1M508 406l3 3M323 528l-6 3M275 581l2 3M538 430l-1 3M333 531l1 3M422 300l3 4M537 426l-2 9M535 418l-5 4M559 445l0 6M325 530l1 3M383 505l3 2M87 442l-4 7M309 314l-7 5M298 539l4 8M324 480l-1 4M110 479l-4 3M107 305l7 4M324 487l-6 2M312 490l-2 4M270 569l-3 1M197 316l4 0M201 310l4 1M388 485l-2 7M47 338l1 8M360 499l-3 5M247 469l-2 7M332 519l1 3M289 489l0 4M333 469l-4 0M131 322l5 2M42 320l8 5M313 524l-2 9M352 429l-9 4M547 398l1 4M290 551l-7 0M513 408l2 4M336 504l0 5M338 524l-6 3M309 524l1 4M313 322l-3 5M441 552l-5 4M362 492l7 4M317 503l5 0M328 501l5 5M287 519l6 0M151 314l0 5M299 307l6 0M277 497l-3 5M336 457l-8 2M328 485l2 4M268 504l5 5M385 470l2 4M233 447l-3 6M307 497l9 2M331 534l2 3M315 461l-4 3M45 357l-0 10M313 314l5 2M55 566l-4 3M457 570l-1 3M188 400l4 1M310 428l2 8M323 315l-2 3M232 455l4 1M293 509l-3 7M346 452l-0 6M298 520l-4 2M53 302l5 4M251 479l-2 9M319 509l4 4M514 405l-1 7M281 495l4 4M274 570l-0 7M344 539l-1 3M309 454l-1 4M374 486l6 5M239 400l1 5M395 478l4 1M287 496l2 3M309 466l5 2M529 433l-5 7M347 467l5 4M359 445l-5 6M288 521l1 6M391 479l0 3M283 465l-2 3M385 501l-6 5M333 420l2 3M294 518l-4 4M115 476l-2 8M268 600l-1 7M368 450l-6 1M307 470l6 1M299 479l-1 3M255 465l3 2M429 574l3 2M284 305l4 0M336 543l3 5M400 462l-4 6M351 495l4 8M317 440l1 3M182 417l3 2M289 455l6 1M325 464l-7 5M220 458l4 5M326 498l4 2M61 582l-8 2M553 396l5 5M431 299l8 5M537 405l1 9M328 499l-4 4M284 446l-1 5M550 404l-2 5M322 514l4 4M302 327l-6 1M147 315l1 4M336 477l-6 0M299 452l2 4M358 484l-7 0M332 554l2 4M300 514l-0 4M317 640l4 7M322 470l-1 4M47 322l-2 7M316 504l-8 2M523 428l7 4M328 474l2 3M157 295l-0 4M348 479l2 4M400 504l7 1M355 473l-2 5M285 558l6 3M299 314l2 6M340 469l-1 7M65 302l9 0M545 438l4 1M482 443l-3 0M176 395l1 4M212 455l4 7M179 311l10 2M377 513l-3 2M472 455l7 0M310 495l-5 3M295 531l7 0M359 481l3 2M563 414l-2 4M352 490l3 3M310 493l-1 6M137 452l-4 2M137 304l2 10M384 492l-4 1M282 473l-6 6M290 326l9 2M385 504l2 7M42 341l3 9M79 462l8 1M37 349l-5 8M378 466l-7 1M210 416l2 4M290 532l3 3M271 481l4 3M315 499l4 3M296 435l-4 4M337 465l-3 2M346 493l5 8M349 510l-1 3M338 454l-5 5M424 482l2 9M280 483l-9 0M39 306l8 6M211 407l-5 2M537 413l-4 5M306 512l2 8M328 530l-1 8M542 393l-6 5M264 509l4 0M228 408l2 6M317 479l-6 5M389 471l-7 7M297 333l-0 4M61 585l-6 1M373 490l-3 3" stroke="#d0d0d0" stroke-opacity="0.4" stroke-width="1" fill="none"/><path d="M200 421l1 3M187 315l-3 5M313 435l-5 0M214 418l-0 9M196 402l4 8M289 504l-7 5M294 498l-2 10M333 433l0 8M273 602l-6 6M306 647l-1 7M298 436l2 7M283 468l0 5M285 476l-7 2M303 497l3 4M317 450l9 1M305 501l-3 4M305 467l-2 3M309 310l5 6M317 500l0 3M355 450l3 2M400 477l-2 2M115 443l-6 8M39 323l1 9M316 474l5 4M327 486l4 9M267 594l3 9M550 415l-2 3M245 608l-6 2M310 421l-7 2M305 455l9 3M338 506l6 7M308 515l-4 7M297 533l5 1M550 430l5 2M294 306l-2 9M532 419l-7 3M254 470l3 2M273 519l-1 3M319 495l-2 3M226 383l-3 7M385 492l-4 9M325 516l-4 2M264 615l-3 2M301 495l4 4M292 454l-4 4M240 393l-2 10M286 465l-6 1M287 530l-3 5M400 503l0 7M311 512l8 6M132 318l1 3M75 298l3 5M325 494l-4 2M325 522l8 3M352 473l7 2M50 313l5 2M371 486l-9 3M295 497l-2 5M330 531l-2 3M319 545l-1 10M139 300l1 9M339 524l-7 2M329 495l-0 3M309 480l-3 2M257 460l8 1M147 303l-3 8M341 502l-3 4M144 314l4 3M365 466l-4 5M308 314l-1 8M237 432l-4 5M304 426l-7 1M287 506l-6 7M324 422l-7 3M229 456l-5 2M313 482l-3 6M41 319l5 2M395 481l1 4M308 449l-1 4M155 314l-1 5M292 493l3 6M521 429l2 7M367 484l3 2M355 508l7 5M328 513l-4 6M265 507l5 2M325 523l-3 2M305 513l-1 6M336 508l-3 1M500 530l1 6M314 634l-2 5M561 409l0 7M379 469l9 4M362 483l4 1M301 559l5 7M319 524l9 3M553 407l7 1M357 491l0 4M255 498l4 1M330 503l-3 8M297 524l-4 4M393 495l-4 8M318 460l5 3M372 485l9 1M426 307l5 8M294 489l-6 5M374 472l1 5M376 505l1 4M301 477l3 2M320 556l0 3M307 510l5 5M136 301l4 4M563 446l-1 4M349 490l0 5M272 492l-3 5M293 525l5 2M252 584l8 3M527 427l-5 7M104 478l-3 2M308 517l-7 6M317 457l-5 0M305 517l1 5M338 485l-5 2M330 528l3 8M67 297l1 4M290 457l2 4M357 481l-5 1M299 497l-7 3M347 447l-6 2M126 307l3 9M543 416l4 7M282 576l-2 4M352 475l-9 1M560 414l-8 5M318 459l5 1M349 507l-1 8M265 512l4 1M536 438l-5 2M297 300l3 4M46 339l2 4M290 523l-2 5M300 502l3 3M131 306l-6 1M268 528l-3 2M556 425l-4 9M233 460l3 1M548 423l3 5M321 474l-4 6M304 633l-4 0M51 581l7 5M560 437l-8 2M289 505l8 1M64 471l-5 2M313 549l4 9M360 501l3 9M328 470l8 2M332 473l3 3M440 585l-0 3M329 548l-1 10M286 316l9 2M539 407l9 0M296 327l-6 4M213 463l2 6M311 458l2 8M372 500l-4 7M339 461l3 1M370 501l-3 7M249 468l-6 0M534 424l7 2M211 306l5 0M320 425l0 9M321 505l4 2M112 467l-8 1M516 515l7 6M298 494l-2 9M225 454l3 1M295 470l2 3M279 590l-6 0M319 432l1 4M552 389l-3 9M358 474l-2 6M352 477l-1 4M77 572l-5 6M358 466l-4 3M116 295l-2 7M364 501l3 1M324 309l8 3M334 510l1 4M321 518l9 2M355 532l6 1M336 554l-6 4M286 509l5 8M530 393l1 7M283 320l1 4M415 504l7 2M299 521l-4 7M321 541l-3 9M423 308l4 6M270 587l2 3M364 475l-8 4M299 430l-1 6M268 527l-9 4M343 487l-4 3M42 333l-5 5M325 440l-9 5M376 517l-4 5M308 508l-4 2M43 303l-2 7M315 495l-6 6M512 401l-4 7M533 403l2 4M375 472l2 4M398 492l5 8M531 417l3 1M244 427l-9 1M336 497l2 3M371 469l-4 3M358 423l4 3M292 425l4 2M311 312l-3 9M385 503l-4 0M546 414l-7 1M283 489l4 5M381 499l1 6M317 502l6 3M215 305l7 7M540 431l-0 6M329 498l8 4M272 481l6 6M323 424l-5 8M266 612l-3 7M267 498l6 1M257 456l-4 2M294 600l3 2M311 529l-2 8M390 466l-1 10M366 486l9 2M520 517l-7 2M561 415l-4 5M221 472l-5 2M401 509l-5 6M303 520l1 8M269 605l2 3M324 316l2 4M354 489l-3 1M219 316l4 3M32 302l4 9M310 318l-2 7M213 407l3 5M473 455l2 3M326 532l3 9M343 504l-8 3M94 301l-3 7M445 571l-5 9M560 440l-5 3M329 505l-3 9M56 586l6 2M145 303l-3 2M338 491l-6 3M306 547l6 6M349 468l6 1M306 504l0 8M298 507l1 3M303 511l-2 8M299 638l7 1M389 468l-5 3M396 476l1 9M238 396l4 0M310 512l-5 3M311 521l3 7M321 557l-2 3M349 420l7 6M145 307l-9 4M102 459l7 7M473 525l-9 1M341 435l1 7M330 420l-4 2M265 589l1 4M327 429l-6 4M546 433l-2 8M297 450l-3 3M262 540l5 6M275 527l7 1M356 513l3 2M51 560l1 4M394 501l1 6M186 305l4 5M47 307l4 2M542 416l2 6M111 468l-1 3M267 508l4 4M134 303l-8 4M523 419l-0 6M298 524l4 5M54 309l3 2M528 508l0 8M296 305l-4 3M230 455l6 3M364 478l1 8M320 473l-1 10M252 610l5 0M120 305l6 5M257 512l1 6M61 580l-3 8M33 303l5 0M117 297l3 4M307 493l3 5M419 306l-2 7M302 480l-1 6M301 557l4 5M299 446l-9 2M100 474l3 6M377 487l1 8M301 478l8 4M359 498l-6 3M247 585l-5 2M250 453l-6 5M287 602l-1 6M420 496l-2 2M302 524l-1 5M95 306l7 6M316 536l-6 7M107 310l8 4M297 514l8 6M402 512l5 4M60 310l1 4M42 348l8 2M325 530l7 5M320 485l-9 0M285 433l-0 5M333 538l4 9M539 398l-5 1M324 442l4 6M400 481l-3 4M282 503l-5 8M351 443l2 10M338 487l8 0M333 505l-1 8M293 526l-3 3M146 319l-6 1M131 472l1 8M310 553l2 6M290 480l-3 2M376 493l6 1M144 309l5 6M506 521l-4 1M225 456l-2 4M132 462l7 7M112 446l-2 9M315 439l4 4M489 517l-4 5M147 314l7 5M316 474l-8 1M358 453l-5 5M256 593l4 5M333 550l0 9M326 476l-5 0M407 500l-1 7M310 525l4 7M330 524l-5 7M256 592l2 6M333 462l-3 2M154 311l-4 7M334 492l5 4M263 606l-1 7M354 503l5 4M300 307l2 7M305 534l-10 1M368 473l1 4M516 409l-2 3M302 494l-7 7M274 451l-5 7M288 512l-7 2M192 395l7 4M321 563l3 6M80 292l5 7M333 506l6 6M113 477l-3 2M202 456l2 4M552 415l-1 3M376 504l4 5M229 412l2 6M303 488l4 6M143 455l-6 5M260 582l-1 5M50 562l-7 4M311 539l2 2M361 501l-3 8M212 389l-9 1M307 525l-3 6M256 592l-1 8M310 637l-3 2M294 466l4 0M377 483l-4 8M466 534l5 1M550 656l-3 1M395 518l5 5M358 471l3 3M534 408l-3 5M434 298l-1 5M320 461l3 1M315 637l3 8M366 465l1 8M233 476l-7 3M131 304l4 6M107 465l2 2M401 506l4 8M311 418l6 4M347 478l-1 3M50 348l8 3M261 589l4 6M355 499l6 2M111 294l-2 10M544 423l4 4M306 505l-2 8M448 563l-7 7M563 402l-8 1M46 328l5 8M332 430l7 6M299 479l-3 3M123 465l-7 2M324 432l8 5M136 298l-7 6M390 474l4 0M271 583l6 0M221 426l9 1M284 484l7 4M382 496l8 2M529 516l5 0M518 519l2 8M356 516l-2 7M132 462l2 5M557 405l4 4M308 531l-1 9M153 304l3 5M41 343l-9 1M362 513l-4 3M367 421l-7 4M292 524l5 4M376 498l-5 3M387 490l-7 1M233 446l-2 10M298 524l-6 3M335 459l3 6M392 479l5 1M533 435l3 1M551 420l-6 6M336 506l5 0M228 413l6 3M364 499l6 2M384 471l2 5M521 414l0 8M219 471l4 5M320 529l-2 4M45 584l5 5M309 516l-6 3M301 480l9 1M113 289l-1 7M308 312l4 5M61 333l-3 6M372 486l-7 3M559 415l4 8M316 500l-2 4M77 441l6 5M94 450l5 3M316 647l-4 3M41 348l0 8M344 488l0 5M400 463l-4 5M538 410l-6 2M468 449l-3 2M326 310l-8 4M333 461l-3 7M526 393l2 5M316 523l2 5M366 486l3 4M298 483l-7 3M291 446l-4 2M323 555l4 5M548 419l4 9M198 315l7 0M370 501l3 6M38 567l-5 4M37 312l6 7M298 497l2 2M121 307l4 1M320 479l-6 2M317 510l6 0M135 303l1 7M49 311l-3 2M333 432l2 5M355 498l5 8M317 492l-5 0M293 458l-2 4M309 426l6 6M381 505l-3 7M309 523l6 3M370 486l-5 4M319 318l9 2M534 636l8 6M148 316l-8 2M552 405l-1 7M106 460l-5 6M314 524l-9 4M349 550l-1 5M440 564l5 9M318 425l4 2M283 499l-7 3M338 490l2 2M93 462l-7 2M489 438l-6 5M340 504l-7 3M322 504l4 2M319 508l6 8M289 609l-3 2M82 455l3 1M286 528l4 0M309 328l7 1M228 465l2 3M329 476l-5 4M274 587l6 6M519 423l-4 4M304 515l-8 3M270 464l4 1M115 292l-1 8M312 485l6 2M442 574l2 5M309 319l-9 0M323 544l-6 3M345 475l5 8M311 478l5 4M539 399l5 2M441 565l-2 4M263 610l-1 3M70 586l7 3M73 465l-3 0M426 496l-3 8M330 531l-6 8M327 524l-7 5M320 326l4 4M63 566l-6 3M345 469l-3 4M387 502l-6 1M306 449l-6 3M159 310l2 6M547 652l-6 1M319 495l1 4M298 497l-1 4M334 492l2 3M330 526l5 3M40 308l3 3M327 445l3 4M306 317l-6 4M352 477l-4 6M557 430l3 2M124 299l-0 5M312 484l7 1M325 503l-2 4M327 539l6 2M271 540l-2 5M547 423l7 3M202 312l-9 1M205 450l2 8M231 475l-1 5M390 485l-4 3M355 463l-4 3M357 520l-5 7M404 490l-4 1M318 455l-3 8M342 463l8 3M349 520l-3 3M264 592l4 3M524 405l3 3M219 317l-6 2M381 469l-5 5M130 304l-1 5M363 477l-3 7M235 459l-0 7M287 600l1 3M431 571l3 1M154 313l6 0M323 445l3 1M153 313l-4 0M311 493l-1 5M296 328l-9 4M400 510l-4 4M241 463l-5 8M393 480l-7 5M298 630l5 4M39 323l-2 8M284 519l-8 2M265 527l-6 3M401 512l-2 7M340 497l8 4M297 519l-7 3M167 318l5 3M348 472l-4 2M170 316l-6 1M521 425l-1 8M335 502l3 2M281 521l6 6M548 637l-6 1M303 456l6 7M324 549l6 4M327 493l8 4M300 448l2 9M320 543l9 0M193 412l-3 1M292 513l5 1M348 428l4 2M307 480l2 10M325 547l0 8M115 474l-1 5M295 549l-4 4M253 586l-2 8M353 418l4 9M36 307l-2 8M352 437l7 1M369 484l-2 4M409 501l-10 2M234 468l8 5M348 464l-4 6M269 485l8 5M37 312l6 6M243 462l-1 6M306 460l4 8M210 301l-4 8M285 536l-9 1M394 487l-7 3M546 435l4 1M360 423l-3 1M273 528l5 5M292 473l6 2M530 420l4 3M373 491l-4 3M316 470l6 4M382 488l0 5M279 529l-2 7M280 458l4 1M269 467l-5 8M199 461l1 9M321 495l-3 7M328 304l-3 6M360 458l1 5M367 473l-2 9M111 452l6 3M280 530l-8 1M227 470l2 6M301 478l-9 1M315 517l7 5M336 476l-3 3M100 448l2 4M547 415l-4 5M317 437l-6 1M348 486l-6 3M274 505l5 6M44 331l3 0M333 518l4 5M527 421l2 3M313 525l-0 3M38 337l4 4M56 317l0 4M439 304l4 4M326 553l5 2M304 553l-5 0M539 418l-0 6M533 418l-7 3M329 483l-2 8M292 522l-2 7M553 629l-7 7M126 459l-4 4M296 294l-2 8M386 491l-6 1M306 495l4 5M524 431l-6 2M144 304l-2 4M313 548l-4 6M327 519l-0 8M311 640l-4 2M363 478l-5 1M38 351l0 4M347 474l-8 4M230 466l1 5M283 587l6 3M522 431l-1 4M195 310l-6 0M416 508l2 6M439 300l-0 3M385 477l-5 4M349 520l-7 5M531 404l5 8M316 441l-4 5M109 466l2 3M308 312l3 6M242 413l5 1M330 519l-1 8M275 475l4 0M283 480l1 4M300 472l-3 6M350 492l-1 5M289 499l-1 4M402 490l7 3M295 517l-9 5M320 484l-5 5M261 509l-1 4M310 628l-1 8M67 309l4 2M280 497l0 8M318 522l-5 4M302 463l-7 2M153 303l2 6M380 497l-1 8M47 303l-4 2M339 504l-3 6M240 404l-2 10M331 481l4 2M233 462l-4 4M179 321l6 1M301 526l8 3M330 543l-6 2M360 490l6 3M326 512l-3 4M521 416l6 1M294 434l-10 1M297 468l-5 5M315 498l-5 1M263 584l-8 4M499 426l6 7M321 532l2 10M235 468l-2 3M326 461l6 6M320 312l-2 7M305 537l2 9M243 471l8 5M101 463l8 2M341 478l8 2M544 421l-5 0M227 463l-2 4M300 634l-5 1M345 476l-4 5M276 509l8 6M543 414l4 3M360 423l-5 2M320 445l-1 3M368 482l3 1M347 472l-1 3M341 519l6 0M280 310l0 10M442 555l-5 4M63 451l-4 1M276 514l5 4M118 304l-2 4M314 468l-2 9M269 488l-4 5M305 313l-4 1M235 454l3 5M321 319l-6 2M323 497l5 8M434 556l-8 3M509 412l2 9M144 313l-3 0M400 458l-5 3M355 505l-9 2M339 495l-9 4M90 459l-4 0M263 597l-1 4M268 605l0 5M343 516l-3 1M326 439l-4 1M57 560l-2 6M300 534l2 3M280 529l5 4M265 488l5 8M331 548l-7 6M93 291l-5 2M556 434l0 4M432 302l6 3M468 519l0 6M319 544l7 4M399 481l-3 6M316 480l5 1M397 493l2 3M286 515l2 4M275 505l-5 2M347 470l2 2M259 538l2 4M276 492l-0 5M357 467l-1 8M354 431l4 0M389 475l-2 8M283 608l-7 3M344 432l-3 5M370 437l7 4M323 555l-4 6M328 520l-5 2M295 515l9 3M403 486l-4 6M311 532l-3 5M521 430l7 3M332 483l4 5M93 455l-8 2M234 450l4 3M326 518l6 7M292 607l9 1M306 545l-5 2M349 512l7 5M374 468l2 7M292 446l-5 2M331 543l-9 4M307 496l5 3M396 505l-5 1M31 295l9 2M263 492l-2 6M327 440l3 6M57 334l-4 4M248 471l2 2M151 297l-2 6M320 492l-1 5M175 308l2 2M87 301l8 0M359 519l1 8M331 522l6 5M42 319l5 7M531 427l7 3M283 598l2 5M330 541l-1 7M107 457l9 1M299 494l-8 0M329 525l-4 6M274 474l3 8M295 500l5 2M212 439l-2 7M291 478l6 3M282 609l-0 3M309 510l3 8M294 606l-6 4M234 466l-8 2M63 576l5 6M326 485l0 4M352 421l-1 4M45 335l-5 2M77 580l5 4M557 396l9 5M337 312l2 2M310 319l-4 2M156 300l3 8M301 318l1 7M273 471l5 4M223 470l1 4M520 516l-3 6M203 307l-8 2M286 482l-3 7M323 316l-3 10M326 498l6 5M322 434l-2 3M378 496l7 1M323 522l-1 3M354 438l2 9M260 602l0 5M330 501l-2 4M46 318l-5 3M302 493l4 0M309 509l5 5M90 464l4 6M297 488l-6 7M334 531l2 6M387 487l3 1M305 532l3 4M318 467l-1 8M271 520l-2 2" stroke="#bcbcbc" stroke-opacity="0.45" stroke-width="1.2" fill="none"/><rect x="33.5" y="292" width="529.5" height="369.5" filter="url(#grainL)" opacity="0.25"/></g><clipPath id="cR"><rect x="651" y="293" width="530" height="369"/></clipPath><filter id="grainR" x="0" y="0" width="1" height="1"><feTurbulence type="fractalNoise" baseFrequency="0.8" numOctaves="2" seed="4"/><feColorMatrix type="matrix" values="0 0 0 0 0  0 0 0 0 0  0 0 0 0 0  -2 0 0 0 1.15"/></filter><filter id="blurR" x="-20%" y="-20%" width="140%" height="140%"><feGaussianBlur stdDeviation="4"/></filter><g clip-path="url(#cR)"><rect x="651" y="293" width="530" height="369" fill="#696969"/><filter id="mottR" x="0" y="0" width="1" height="1"><feTurbulence type="fractalNoise" baseFrequency="0.05" numOctaves="2" seed="9"/><feColorMatrix type="matrix" values="0 0 0 0 0  0 0 0 0 0  0 0 0 0 0  -0.3 0 0 0 0.15"/></filter><rect x="651" y="293" width="530" height="369" filter="url(#mottR)"/><path d="M820,280 L900,280 L960,400 L1050,520 L1100,680 L720,680 L700,520 L760,420 Z" fill="#000" opacity="0.08" filter="url(#blurR2)"/><filter id="blurR2" x="-30%" y="-30%" width="160%" height="160%"><feGaussianBlur stdDeviation="18"/></filter><path d="M905,280 L1200,280 L1200,545 L1100,500 L1000,430 L950,370 Z" fill="#fff" opacity="0.12" filter="url(#blurR2)"/><radialGradient id="bR0"><stop offset="0" stop-color="#fff" stop-opacity="0.45"/><stop offset="0.55" stop-color="#fff" stop-opacity="0.293"/><stop offset="1" stop-color="#fff" stop-opacity="0"/></radialGradient><ellipse cx="998" cy="466" rx="18" ry="13" fill="url(#bR0)"/><radialGradient id="bR1"><stop offset="0" stop-color="#fff" stop-opacity="0.3"/><stop offset="0.55" stop-color="#fff" stop-opacity="0.195"/><stop offset="1" stop-color="#fff" stop-opacity="0"/></radialGradient><ellipse cx="992" cy="462" rx="10" ry="8" fill="url(#bR1)"/><radialGradient id="bR2"><stop offset="0" stop-color="#fff" stop-opacity="0.2"/><stop offset="0.55" stop-color="#fff" stop-opacity="0.130"/><stop offset="1" stop-color="#fff" stop-opacity="0"/></radialGradient><ellipse cx="785" cy="442" rx="35" ry="38" fill="url(#bR2)"/><radialGradient id="bR3"><stop offset="0" stop-color="#fff" stop-opacity="0.12"/><stop offset="0.55" stop-color="#fff" stop-opacity="0.078"/><stop offset="1" stop-color="#fff" stop-opacity="0"/></radialGradient><ellipse cx="770" cy="430" rx="20" ry="20" fill="url(#bR3)"/><radialGradient id="bR4"><stop offset="0" stop-color="#fff" stop-opacity="0.3"/><stop offset="0.55" stop-color="#fff" stop-opacity="0.195"/><stop offset="1" stop-color="#fff" stop-opacity="0"/></radialGradient><ellipse cx="676" cy="640" rx="45" ry="35" fill="url(#bR4)"/><radialGradient id="bR5"><stop offset="0" stop-color="#fff" stop-opacity="0.22"/><stop offset="0.55" stop-color="#fff" stop-opacity="0.143"/><stop offset="1" stop-color="#fff" stop-opacity="0"/></radialGradient><ellipse cx="803" cy="655" rx="60" ry="16" fill="url(#bR5)"/><radialGradient id="bR6"><stop offset="0" stop-color="#fff" stop-opacity="0.16"/><stop offset="0.55" stop-color="#fff" stop-opacity="0.104"/><stop offset="1" stop-color="#fff" stop-opacity="0"/></radialGradient><ellipse cx="1160" cy="515" rx="30" ry="28" fill="url(#bR6)"/><radialGradient id="bR7"><stop offset="0" stop-color="#fff" stop-opacity="0.08"/><stop offset="0.55" stop-color="#fff" stop-opacity="0.052"/><stop offset="1" stop-color="#fff" stop-opacity="0"/></radialGradient><ellipse cx="950" cy="390" rx="45" ry="80" fill="url(#bR7)"/><radialGradient id="bR8"><stop offset="0" stop-color="#fff" stop-opacity="0.18"/><stop offset="0.55" stop-color="#fff" stop-opacity="0.117"/><stop offset="1" stop-color="#fff" stop-opacity="0"/></radialGradient><ellipse cx="746" cy="610" rx="12" ry="12" fill="url(#bR8)"/><radialGradient id="bR9"><stop offset="0" stop-color="#fff" stop-opacity="0.06"/><stop offset="0.55" stop-color="#fff" stop-opacity="0.039"/><stop offset="1" stop-color="#fff" stop-opacity="0"/></radialGradient><ellipse cx="1150" cy="330" rx="40" ry="40" fill="url(#bR9)"/><radialGradient id="bR10"><stop offset="0" stop-color="#000" stop-opacity="0.22"/><stop offset="0.55" stop-color="#000" stop-opacity="0.143"/><stop offset="1" stop-color="#000" stop-opacity="0"/></radialGradient><ellipse cx="880" cy="308" rx="22" ry="22" fill="url(#bR10)"/><radialGradient id="bR11"><stop offset="0" stop-color="#000" stop-opacity="0.07"/><stop offset="0.55" stop-color="#000" stop-opacity="0.046"/><stop offset="1" stop-color="#000" stop-opacity="0"/></radialGradient><ellipse cx="860" cy="520" rx="160" ry="90" fill="url(#bR11)"/><radialGradient id="bR12"><stop offset="0" stop-color="#000" stop-opacity="0.07"/><stop offset="0.55" stop-color="#000" stop-opacity="0.046"/><stop offset="1" stop-color="#000" stop-opacity="0"/></radialGradient><ellipse cx="1010" cy="575" rx="70" ry="45" fill="url(#bR12)"/><radialGradient id="bR13"><stop offset="0" stop-color="#000" stop-opacity="0.05"/><stop offset="0.55" stop-color="#000" stop-opacity="0.033"/><stop offset="1" stop-color="#000" stop-opacity="0"/></radialGradient><ellipse cx="760" cy="520" rx="60" ry="40" fill="url(#bR13)"/><path d="M640,560 L651,575 L666,605 L691,625 L726,640 L756,645 L791,640 L826,645 L851,662 L851,680 L640,680 Z" fill="#a8a8a8" opacity="0.5" filter="url(#blurR)"/><ellipse cx="937" cy="292" rx="38" ry="21" fill="#bdbdbd" filter="url(#blurR)" opacity="0.9"/><ellipse cx="936" cy="292" rx="32" ry="16" fill="#c8c8c8" opacity="0.8"/><path d="M899,295 C905,310 925,316 940,315 C958,314 970,305 975,294" stroke="#e0e0e0" stroke-width="2" fill="none" opacity="0.35" filter="url(#glowR)"/><filter id="glowR" x="-20%" y="-50%" width="140%" height="200%"><feGaussianBlur stdDeviation="0.8"/></filter><path d="M905,312 C925,345 950,380 985,420 C1010,445 1040,470 1070,490" stroke="#9a9a9a" stroke-width="6" fill="none" opacity="0.35" filter="url(#blurR)"/><path d="M991 623l9 5M1033 439l11 10M723 520l3 2M1158 351l5 7M1122 401l5 4M656 580l9 7M665 564l5 5M1141 400l12 9M753 573l-13 1M850 605l9 8M818 653l5 6M1043 509l6 4M871 489l11 8M903 336l11 4M940 372l4 5M668 558l-3 5M743 420l11 13M768 334l3 4M849 575l7 3M673 536l7 7M687 641l9 6M902 328l4 5M924 309l4 6M835 587l9 10M762 445l7 7M1051 320l3 3M1164 513l-7 1M654 430l8 10M678 474l6 6M1150 329l8 10M1142 418l9 3M986 641l10 10M937 449l3 11M1114 651l9 9M957 384l3 3M883 545l7 3M709 433l5 3M792 482l9 10M748 409l8 10M1098 296l4 3M1065 384l2 7M754 627l4 3M697 564l8 6M1020 374l9 9M894 529l10 8M1098 616l4 14M771 442l7 7M1086 294l-10 3M1144 558l4 6M1097 430l9 7M710 642l11 8M1006 385l11 12M961 343l6 10M684 293l1 17M895 387l10 13M1135 388l4 4M1160 333l9 10M1011 472l-17 3M809 377l10 14M980 615l10 11M924 424l-3 3M714 635l11 13M928 367l9 13M955 308l12 11M724 639l8 14M880 377l3 8M763 641l4 3M918 441l6 5M1119 336l12 11M801 315l9 7M860 306l-4 2M798 497l14 7M842 622l9 8M894 450l6 8M1090 306l11 10M784 555l3 3M936 374l12 8M896 563l7 9M686 319l11 7M1106 295l4 4M940 486l8 12M856 563l4 5M972 360l12 12M683 653l8 10M1073 658l5 5M742 591l9 5M1166 332l13 1M997 465l8 7M1121 311l4 5M709 319l4 9M952 455l2 4M1040 351l7 11M1043 364l9 9M1021 377l5 3M932 555l5 7M1114 524l8 7M1004 632l6 10M905 312l4 4M868 548l4 4M780 631l9 11M724 601l1 9M914 646l8 9M1067 652l10 10M1048 342l6 4M696 574l7 11M835 406l9 14M759 421l8 7M981 466l7 7M1132 445l10 10M743 422l10 10M757 454l5 3M910 568l9 13M959 292l10 11M748 618l5 6M927 613l7 10M1062 469l12 9M674 403l7 8M1165 306l12 5M1089 310l5 2M1066 320l4 3M1160 384l11 12M842 634l11 8M1030 394l8 6M1141 433l-7 4M684 524l3 10M935 487l5 8M973 329l10 10M966 624l0 4M931 309l4 4M945 301l5 5M1158 564l15 4M1167 334l9 6M941 367l8 8M932 403l5 5M1170 521l4 4M1119 557l-10 14M735 439l5 7M1092 470l12 10M1159 531l13 9M1153 330l-9 4M678 650l4 4M1170 466l6 5M1080 585l12 10M840 655l7 6M967 294l12 5M815 465l-4 2M886 431l9 7M1106 327l8 9M1083 393l9 8M1074 437l7 5M673 516l11 10M1085 506l4 2M1001 396l10 10M820 475l14 9M932 342l5 9M1174 500l8 4M837 386l4 5M917 324l4 5M1095 648l8 6M986 439l4 3M1146 307l5 5M772 634l-3 5M727 595l10 8M807 645l10 12M819 638l6 5M965 364l8 5M985 418l3 3M825 439l12 8M1083 397l9 8M784 350l-0 7M1016 369l10 7M705 418l11 8M973 627l-4 7M659 590l6 6M796 364l3 3M1136 520l-6 8M971 461l-7 1M777 584l10 13M986 420l11 6M754 605l5 6M765 416l11 11M894 588l4 4M664 651l5 5M982 429l5 3M1125 475l9 10M833 466l10 10M849 610l7 6M999 350l4 5M777 379l5 4M909 301l6 5M679 482l-0 4M677 645l8 5M855 643l5 4M1102 393l3 3M818 513l7 8M1048 516l6 8M864 626l10 13M940 332l4 3M653 444l10 6M1062 433l9 10M653 439l5 4M1161 468l16 5M828 654l7 4M952 443l12 11M1039 465l12 6M685 298l-9 1M949 354l6 5M897 596l11 7M777 641l4 6M748 389l-4 7M1161 513l5 4M916 400l7 9M835 514l6 4M806 648l5 5M668 299l3 3M730 645l3 3M745 378l10 10M982 345l8 8M1100 335l4 2M686 500l2 3M703 580l-4 15M1090 375l7 11M1145 319l10 11M897 468l10 12M731 612l8 6M1161 643l9 8M855 597l9 14M710 444l8 11M734 430l9 6M1158 349l9 14M782 489l5 6M1152 472l-5 4M1052 409l3 4M722 617l6 9M1158 437l7 4M1084 583l5 9M719 495l13 10M722 614l8 10M891 399l6 6M901 638l3 11M1172 442l9 11M833 427l4 4M935 429l6 8M999 333l15 8M1147 373l4 3M1002 384l-13 7M1064 333l5 8M706 495l5 3M1166 459l4 4M1120 362l5 5M1109 464l4 5M699 500l-2 4M949 473l13 7M962 391l12 10M754 622l6 5M787 298l4 2M1012 435l7 9M921 657l11 10M1079 395l10 8M653 609l9 10M703 457l6 5M959 362l12 8M912 369l3 7M736 428l8 14M989 304l10 10M670 299l7 7M928 428l-5 3M986 648l3 3M658 358l11 10M884 457l7 6M1165 484l6 8M745 648l8 5M838 474l6 7M1109 320l-13 1M721 518l10 11M739 458l11 7M1053 403l4 6M706 316l11 5M998 357l12 9M729 405l3 4M795 360l-12 7M1072 393l8 10M687 306l13 11M1107 414l9 9M761 590l8 7M1136 586l6 6M763 585l5 4M713 416l9 10M708 635l10 9M927 298l8 8M992 644l6 3M739 293l3 4M974 563l10 6M679 628l10 2M757 599l3 3M781 415l13 11M952 426l5 9M788 432l4 5M1068 355l9 5M940 588l10 12M1103 313l12 11M1092 370l4 4M995 495l6 7M781 634l7 8M877 544l9 8M1127 382l7 11M1042 639l10 8M993 347l6 11M949 611l3 15M1176 379l6 6M845 591l4 5M942 457l4 10M1112 609l3 5M953 575l5 2M972 312l12 11M975 468l9 10M843 413l-7 14M1104 490l7 9M1163 415l12 9M710 543l4 0M1102 459l4 5M743 645l3 4M702 440l-6 3M1120 418l8 8M1042 327l7 7M931 330l3 11M752 331l6 7M664 603l9 12M1011 316l14 8M914 424l4 3M1126 320l10 12M1122 404l5 6M704 323l4 2M1128 324l5 5M696 642l10 2M1004 590l7 7M1135 631l9 9M696 312l4 4M671 631l8 13M1093 484l7 4M781 451l9 8M988 323l7 8M1018 356l-5 5M1100 455l3 4M666 648l15 6M1153 506l9 11M775 506l9 9M1095 341l3 8M1035 513l14 10M1024 424l9 5M967 319l3 3M893 656l4 4M748 422l-3 9M1002 469l6 7M935 292l7 4M1013 310l12 10M1164 397l2 15M1095 312l4 6M1077 454l4 4M1073 344l-1 4M1008 366l3 4M1136 389l4 5M791 437l7 7M1118 319l10 8M768 639l6 6M829 649l7 6M969 382l3 3M818 339l7 8M786 492l4 3M961 651l10 11M819 483l3 3M691 588l6 5M1062 412l12 12M671 655l3 4M781 654l6 13M892 639l11 10M916 374l10 5M828 309l5 7M873 565l4 7M1051 351l10 12M1160 368l8 14M989 575l13 10M950 348l6 5M716 467l8 13M681 492l10 9M1084 297l5 7M1102 608l7 8M1009 470l12 11M1078 346l6 5M1126 644l4 3M941 334l8 4M961 645l8 9M1107 322l10 13M998 400l12 9M896 387l4 5M917 651l9 14M977 299l7 3M823 598l8 2M689 585l2 9M1058 475l4 3M920 460l4 5M849 594l7 9M1159 462l8 9M794 401l10 6M1101 408l-9 1M840 620l14 6M796 442l13 9M660 571l9 9M730 624l5 4M973 306l6 8M950 515l4 6M1130 521l14 9M1145 425l3 4M1088 369l7 6M1096 520l6 9M1165 638l10 7M1015 335l8 3M682 553l6 10M793 651l11 11M779 644l13 11M654 597l8 12M697 318l-4 1M837 336l8 8M1077 411l-7 9M1029 623l11 8M903 292l3 3M1021 331l6 10M650 445l5 5M994 415l4 7M877 655l12 12M885 322l4 4M1054 424l11 10M786 648l8 10M895 417l7 6M1158 329l4 4M932 630l8 7M791 631l5 12M1103 442l9 10M1067 418l11 10M680 459l13 5M1134 493l-16 2M715 343l6 5M1087 332l13 10M977 410l7 4M653 623l9 9M814 635l8 11M1099 295l7 11M882 613l8 11M652 596l5 11M861 493l10 9M1110 345l9 11M984 405l13 5M837 414l3 3M687 547l9 12M1035 439l6 8M999 632l10 9M714 608l8 8M1103 427l3 4M1016 482l5 2M768 320l11 12M730 618l9 7M798 580l6 4M962 584l4 6M1042 421l8 8M923 380l5 7M1166 422l8 6M756 585l-11 7M931 652l9 11M1135 407l12 11M994 304l9 9M1175 574l7 13M1169 371l8 10M672 615l7 5M986 527l13 3M1048 309l5 4M714 405l2 9M1047 352l8 14M1093 292l11 11M666 659l-11 3M1051 451l7 4M1058 310l9 7M1028 376l4 5M1073 309l4 5M676 643l6 4M892 441l7 7M1129 356l14 9M960 394l8 8M1026 294l5 6M820 602l6 6M887 553l10 11M1147 436l6 3M1077 464l10 8M1093 395l5 10M815 437l8 5M1074 497l-13 1M1136 401l-2 4M945 637l8 7M1162 493l10 12M1065 469l5 4M960 480l14 6M1164 468l12 7M1074 345l6 7M696 407l3 3M763 654l9 12M1003 435l-5 0M835 348l3 5M987 440l5 5M1026 345l8 6M1120 431l5 7M696 569l-7 1M667 409l7 9M812 615l9 9M949 609l4 3M834 626l5 7M667 642l-0 8M653 604l9 7M962 343l11 5M1150 299l6 9M1045 465l5 9M959 425l7 6M1162 494l5 3M777 626l-5 12M721 305l9 7M1121 339l4 5M807 453l9 10M719 318l4 5M772 449l9 7M851 405l9 13M656 481l4 3M674 453l7 10M1080 390l11 11M1169 359l9 11M670 321l11 10M930 307l8 12M1138 423l11 10M982 507l7 6M986 423l5 8M974 427l5 4M953 320l4 5M1023 375l3 14M1123 461l-10 1M932 301l7 10M1091 297l5 8M827 433l-10 5M894 575l8 8M708 356l2 4M1115 514l6 7M983 460l7 11M737 580l6 6M953 511l-7 1M1168 383l13 7M792 581l6 9M1109 464l6 9M904 296l-8 2M783 643l9 13M1118 352l8 14M853 362l9 8M892 586l7 10M1079 573l16 1M701 411l9 14M845 353l4 3M1084 399l10 5M1081 473l1 13M1068 299l4 5M1120 433l5 5M1079 305l10 8M1154 529l-1 15M1176 598l-13 3M909 319l12 10M965 376l5 7M877 329l9 14M988 401l6 12M994 291l9 8M970 401l10 13M1137 321l8 9M1169 452l8 11M1091 624l10 9M818 344l6 6M1021 398l5 6M1136 490l10 9M714 391l11 9M994 547l4 6M1080 297l6 3M1115 551l11 6M1124 453l3 10M886 405l10 9M788 315l7 6M1070 375l10 3M1094 323l7 9M859 472l8 4M1068 572l8 4M1111 656l5 7M893 455l10 13M818 637l5 4M893 570l3 5M1147 445l8 8M792 456l4 3M699 648l5 7M692 318l8 7M726 493l6 9M1045 643l-13 9M786 448l10 9M1066 427l9 6M726 380l6 5M1093 372l9 5M1096 642l4 3M671 571l-11 6M934 608l9 6M1095 338l4 6M1141 515l6 7M859 371l5 5M971 536l7 5M696 426l12 11M933 427l11 13M1028 399l4 4M980 322l9 6M1117 475l8 15M1148 635l4 3M953 594l4 9M1039 371l8 6M675 636l7 10M947 327l10 5M1078 388l-5 4M1060 398l-6 6M965 319l4 5M1012 326l5 3M713 645l4 3M929 356l7 8M978 623l12 12M1025 306l2 6M756 384l7 12M982 361l-3 16M1045 519l12 10M1151 378l-3 6M820 648l5 6M764 630l8 12M1069 541l10 7M798 584l6 12M757 332l8 13M866 545l12 8M861 368l7 11M816 583l5 12M913 397l8 8M918 426l-7 10M1119 644l8 9M744 401l13 9M1028 645l9 10M1174 377l7 6M681 620l5 4M1153 389l4 3M797 402l8 5M993 330l9 9M1123 442l12 10M689 453l5 6M871 575l9 9M1027 329l-10 2M677 507l8 5M1099 456l4 3M798 652l4 5M736 434l5 5M1035 543l5 4M1159 657l5 8M691 581l10 11M908 367l8 15M1133 546l6 1M741 618l4 10M676 595l4 3M1089 416l5 3M1126 313l5 7M1081 364l4 6M795 444l2 15M830 435l15 8M718 433l6 6M1121 402l10 9M825 345l12 10M905 331l13 2M1015 321l-3 10M979 347l8 8M763 648l8 10M704 543l8 8M1098 586l5 3M1162 551l6 9M673 502l3 3M658 652l3 15M832 646l5 4M747 544l8 12M951 475l4 4M1142 449l-14 2M947 329l3 3M1012 360l8 11M725 410l3 10M853 576l7 7M1115 463l10 7M1122 341l5 9M984 559l4 7M797 322l-0 9M1097 574l4 3M944 369l-11 1M1169 370l10 10M768 634l10 7M894 618l8 8M704 329l8 6M953 297l4 6M646 495l11 10M995 337l5 8M950 425l5 5M896 389l3 5M1128 403l9 9M802 464l12 5M696 642l-17 1M1058 291l5 6M908 313l12 11M759 390l6 4M749 465l8 7M986 609l8 0M1138 342l8 11M800 444l10 11M1096 444l7 7M727 581l9 10M1067 327l7 11M851 378l14 3M1057 407l6 5M974 338l6 6M909 581l8 8M750 641l5 13M959 416l8 7M649 531l13 10M760 595l10 9M1154 499l11 0M776 448l5 5M987 331l8 7M1139 423l10 9M664 628l6 5M652 581l6 8M946 518l7 7M1117 463l-5 14M728 568l6 13M1122 414l7 8M1155 302l3 3M1073 433l7 4M908 584l4 6M1106 309l9 9M1025 304l7 9M750 456l9 9M782 650l3 5M889 452l3 6M899 306l10 6M1076 359l9 5M805 475l7 4M1089 447l13 1M980 304l9 11M1092 638l2 4M654 496l5 5M760 290l6 7M792 365l12 10M1171 374l6 3M777 453l8 4M1139 498l4 4M708 634l-5 2M959 329l12 11M1059 485l9 12M1002 502l6 4M778 445l5 8M1079 561l9 9M883 349l8 14M715 649l3 3M1052 455l14 9M1002 289l5 8M1148 569l9 10M732 449l-1 6M1003 459l-5 9M957 413l4 4M898 393l-10 4M671 648l8 8M921 591l7 7M1003 459l8 7M1063 587l5 6M669 638l12 8M710 347l7 8M650 404l8 12M1083 441l4 7M900 300l8 6M696 599l-3 5M1076 467l3 3M1075 336l5 3M954 360l6 8M874 342l12 5M768 648l3 6M803 430l2 11M900 322l11 12M734 653l4 4M651 649l7 12M948 401l9 10M1141 574l5 5M978 454l10 6M1152 452l-13 5M1086 395l9 9M818 426l8 7M929 305l6 6M925 379l6 8M869 552l4 12M1002 556l10 1M1164 623l8 12M988 431l8 5M1137 589l8 5M747 309l14 9M1147 531l6 6M1104 392l5 8M770 451l11 8M818 396l13 9M1056 387l3 4M1038 335l11 12M952 327l3 4M783 407l7 7M848 652l9 9M950 356l1 11M957 575l3 5M856 584l-4 3M798 632l-9 7M1033 539l11 7M720 298l6 11M735 646l4 6M1023 290l8 10M1052 390l4 6M690 301l11 6M1038 416l6 6M669 653l9 4M721 619l9 1M711 325l5 6M1018 431l9 6M896 580l10 12M709 498l5 6M702 527l-5 2M1091 356l6 7M712 614l-7 1M1039 324l10 11M710 513l6 5M694 382l10 11M957 403l8 11M1129 596l12 11M1009 615l-7 12M804 465l5 14M733 439l7 8M709 383l6 5M1040 427l13 5M1168 362l2 11M1061 587l6 7M793 410l8 6M1007 469l12 5M829 624l6 7M981 387l5 5M668 428l10 13M739 314l5 4M1011 467l8 11M832 310l-6 2M900 524l4 2M984 415l6 10M1028 462l-5 3M684 547l5 6M1147 477l6 4M767 473l7 13M883 544l12 9M933 359l5 4M1061 369l8 14M1104 302l-8 1M1027 318l-3 4M1168 326l10 7M1169 639l10 8M1058 482l-3 5M904 297l3 5M942 609l5 7M1106 449l4 5M1169 649l8 11M966 549l7 11M882 460l4 6M1072 540l8 5M831 628l4 6M974 492l4 4M700 467l4 1M1004 304l5 5M804 575l5 3M1004 423l3 2M1177 615l5 3M930 531l7 9M777 605l10 13M1024 567l9 10M766 650l6 7M975 439l6 8M1015 364l6 7M932 405l10 8M835 360l6 2M827 359l4 5M1029 352l4 4M964 335l4 3M974 631l-15 7M732 297l8 6M965 462l12 8M777 596l4 4M709 649l9 9M732 509l11 12M965 348l4 4M1128 423l-2 16M806 552l9 7M1157 485l-9 5M1004 534l3 7M735 289l6 15M788 613l5 5M936 328l9 13M947 392l7 6M1130 562l12 6M1126 510l7 12M1064 427l13 0M751 417l4 4M850 399l4 3M1141 406l7 7M654 627l8 8M951 644l13 8M978 378l3 3M1060 652l8 10M1155 533l11 12M1069 506l12 10M1170 324l9 7M1148 542l5 7M1156 498l10 10M845 342l-1 5M920 417l9 5M1006 584l6 4M1008 493l6 6M903 545l4 7M772 425l4 2M917 510l6 8M687 332l9 5M923 569l7 3M917 497l8 10M933 368l3 3M1155 309l8 10M859 509l11 13M1065 614l10 6M977 554l6 3M803 432l1 4M1155 328l1 5M770 654l5 6M665 648l6 8M1095 391l7 13M735 333l-9 6M1085 377l-1 7M1169 310l7 4M878 645l7 4M1155 433l-8 8M1167 650l3 5M954 291l1 17M775 350l-11 9M721 367l4 4M1128 401l-13 3M962 376l8 10M999 512l6 6M657 611l9 14M960 296l9 9M664 437l-15 0M1146 575l8 8M755 523l11 10M731 478l6 6M1084 318l-5 8M800 635l11 11M714 625l9 7M701 403l9 9M867 458l9 6M777 432l5 4M1106 446l4 5M950 653l5 6M702 554l8 10M1062 376l12 12M1114 449l5 4M822 366l6 7M816 421l9 11M1023 449l2 4M866 364l13 7M1110 633l5 5M743 326l10 10M1164 494l7 12M1125 473l4 4M1062 300l-1 7M702 381l7 5M1147 642l7 6M813 326l3 11M824 369l8 6M851 649l7 7M971 297l4 4M699 645l7 13M898 355l7 8M646 599l10 5M1036 300l12 9M852 410l10 7M779 554l-11 7M1040 457l8 10M982 493l11 11M880 556l9 9M973 361l8 10M961 325l12 12M1110 406l3 3M1119 395l-12 7M926 383l4 5M1168 601l4 15M1157 587l8 11M859 455l11 8M835 336l5 4M748 634l3 6M681 642l8 4M1175 505l6 9M1137 308l-12 2M727 650l6 7M926 428l5 4M671 329l7 5M1098 393l12 11M1123 457l11 9M998 337l4 8M923 387l9 11M792 633l9 12M968 362l11 11M1076 414l4 5M1154 447l-3 8M960 407l8 13M1144 556l-12 0M680 505l3 4M901 486l5 5M731 611l6 3M764 469l10 9M803 320l9 11M1100 435l7 15M909 658l4 7M888 589l7 7M914 328l3 4M647 465l13 8M961 371l8 7M921 617l-6 3M830 532l3 4M816 579l3 7M1146 401l10 11M1075 535l4 3M1012 310l-6 9M648 546l10 7M932 446l11 12M804 400l6 7M1076 527l8 8M1141 656l3 4M1079 582l10 7M1163 395l8 6M745 599l10 8M744 435l3 4M648 424l10 13M937 465l12 8M1164 622l11 8M1073 363l7 9M1130 329l5 3M1088 532l8 8M957 416l9 6M952 555l13 9M749 439l10 4M960 559l11 11M802 544l4 12M1015 344l13 9M966 295l10 10M877 351l6 6M950 334l13 10M1175 560l11 11M920 651l8 6M1077 575l8 7M928 504l9 11M1080 656l7 8M988 308l4 2M931 314l6 6M654 293l3 4M678 511l5 5M687 328l10 9M904 474l2 4M1089 292l12 4M704 432l9 6M1172 542l3 6M1064 328l4 3M866 523l10 11M808 454l13 9M1079 522l6 6M779 433l9 9M694 302l3 3M1051 344l7 4M903 565l3 3M1124 429l6 8M858 314l3 5M1134 329l10 9M999 455l8 7M976 399l7 14M835 649l-0 6M1130 377l10 8M802 503l10 13M1105 601l4 7M917 651l8 9M900 595l10 12M917 294l12 7M975 355l10 4M974 382l3 3M1144 450l14 0M881 660l6 3M814 655l3 5M870 340l8 8M890 537l-15 0M1176 368l9 11M1070 315l12 11M1133 370l-5 14M1073 439l7 9M934 484l8 7M1173 562l6 5M1118 371l8 11M792 593l15 7M660 423l13 10M1153 403l5 8M1079 602l5 2M993 515l4 4M681 333l8 13M1090 650l13 10M751 470l2 3M968 436l4 6M1159 533l5 4M931 640l8 15M836 627l4 1M1034 571l8 7M1130 369l-10 4M811 544l12 8M651 597l10 4M1175 638l-16 6M656 294l9 7M758 422l10 13M947 538l9 9M800 455l10 11M1050 408l8 8M984 378l6 5M690 354l10 11M905 540l6 3M667 645l6 4M767 320l9 8M667 356l-8 6M1059 293l7 12M684 583l-0 8M727 586l12 11M1015 301l5 6M760 433l8 9M1043 345l3 4M1166 368l14 7M985 453l7 12M851 488l10 13M1104 413l-9 1M724 339l8 7M845 341l4 3M749 518l5 3M652 624l8 7M1116 507l-15 6M666 624l4 6M1125 433l10 13M1170 528l4 4M1026 531l10 7M738 629l7 5M659 294l9 9M761 618l10 10M764 631l5 6M722 398l9 7M711 638l6 5M1001 341l9 5M1163 297l3 3M1083 307l4 11M936 368l7 5M1141 413l8 7M1049 344l14 7M1005 407l6 7M805 470l10 9M783 341l4 3M1033 349l13 10M919 339l5 2M652 568l3 8M1085 379l8 7M861 650l10 4M1157 639l3 4M791 426l10 12M995 443l10 6M745 644l5 8M708 641l4 8M669 496l11 11M818 572l7 14M812 636l8 12M719 569l12 11M1044 323l4 4M924 409l-2 16M1100 452l10 11M892 336l8 9M1122 596l7 9M754 478l4 1M1067 420l9 11M1039 521l8 4M997 434l14 8M994 540l2 4M826 531l6 9M774 653l11 1M747 627l12 10M712 522l8 13M816 435l4 5M858 627l10 13M756 588l-11 6M1114 469l10 9M1111 474l8 9M673 452l8 7M744 547l7 11M761 499l5 0M901 317l11 12M1070 525l5 6M660 588l4 7M961 318l-10 3M690 631l11 11M716 632l6 10M956 490l10 8M1138 432l4 3M669 656l8 8M1026 617l5 5M904 487l7 14M806 413l12 6M997 316l12 11M1053 468l7 9M1094 534l13 8M968 498l2 4M943 411l4 5M877 643l10 7M1124 471l7 4M693 623l5 5M740 595l-12 11M672 576l5 5M855 605l5 9M1007 441l4 3M1161 629l11 11M902 455l13 4M710 544l10 14M1129 342l10 7M667 637l-7 1M1056 503l5 6M1049 488l7 13M989 350l7 8M1156 343l3 3M973 355l4 8M944 301l-0 7M810 613l7 3M744 649l4 10M782 452l3 3M1044 319l-6 5M1175 440l4 2M936 392l8 5M783 451l1 4M1164 659l2 4M1103 563l15 4M1154 454l2 5M821 593l7 12M740 327l8 10M916 638l3 3M954 383l13 4M775 645l15 7M919 450l1 10M891 356l8 6M968 356l11 10M825 425l-5 15M993 352l9 8M1111 385l11 9M923 460l8 6M833 514l4 2M1128 321l8 8M1178 507l3 4M959 394l3 17M813 637l12 11M718 380l0 14M1150 526l9 13M698 640l10 8M882 392l9 9M1150 414l-3 8M1172 512l12 7M1020 634l7 7M695 616l10 9M759 648l5 4M1116 635l-8 5M804 390l5 7M1121 367l3 2M683 586l10 4M1007 397l12 5M1008 393l5 10M1136 292l8 5M1125 403l12 9M1019 651l4 5M780 535l8 8M1133 514l4 4M890 569l4 5M841 369l-1 8M1164 306l5 7M1157 314l8 7M677 581l4 5M1045 430l8 8M1074 310l9 14M694 588l-10 10M907 355l9 5M783 633l7 4M855 427l4 4M1097 371l-16 0M970 473l9 13M882 292l3 3M766 562l9 9M821 648l6 6M1159 537l3 3M992 440l-10 4M765 390l4 14M730 652l5 5M1038 554l9 11M859 579l10 12M998 620l4 6M693 653l7 7M1042 367l9 7M662 368l-13 11M1021 288l8 13M742 338l-11 12M740 547l5 8M901 351l10 12M1016 401l5 6M1032 403l3 6M695 630l5 11M820 490l-2 4M967 314l4 4M1077 481l4 4M671 457l9 6M1007 342l6 8M768 415l11 9M661 643l6 5M860 594l4 3M913 596l5 6M1001 479l9 1M1118 531l8 8M982 468l6 2M916 547l4 6M914 559l-8 2M907 504l3 3M774 601l6 5M1090 334l8 9M1021 423l3 7M1040 429l10 13M679 635l5 0M936 597l11 7M930 576l10 9M1097 374l4 8M962 367l-3 4" stroke="#a4a4a4" stroke-opacity="0.35" stroke-width="1" fill="none"/><path d="M964 551l6 6M678 340l4 5M998 315l9 10M711 598l3 4M950 332l6 10M763 358l3 3M1005 421l-8 2M896 327l3 5M888 602l11 9M1006 560l5 5M740 366l9 8M1064 439l-1 11M1145 551l8 12M676 380l7 6M792 471l10 8M944 301l4 4M929 323l11 7M865 644l11 12M1014 654l4 4M1034 442l6 9M692 618l8 5M939 447l11 10M991 527l4 2M736 417l6 2M656 591l4 4M947 452l-1 5M975 324l9 11M949 368l4 3M992 354l7 7M700 608l7 4M1032 381l1 13M1072 350l2 4M900 362l-6 2M842 344l2 3M932 353l7 6M985 304l7 8M863 446l6 8M1050 625l3 4M1176 497l6 8M997 378l6 10M1067 373l3 4M716 618l-4 14M995 405l8 7M742 490l10 9M982 297l1 8M856 509l11 9M773 657l8 7M1092 510l5 4M734 423l7 7M665 616l5 5M849 408l5 3M1141 308l5 4M922 366l9 9M916 475l5 3M981 337l8 11M1038 544l10 8M934 379l3 3M1117 333l3 12M1143 469l3 3M1128 424l7 5M1084 431l10 8M920 297l3 4M999 378l12 11M662 522l-9 12M724 638l9 14M1139 365l-2 5M1086 399l3 8M1059 416l7 3M959 349l7 0M1046 419l9 1M831 296l8 8M1163 589l-11 7M1115 359l8 1M1030 363l5 6M1051 341l8 10M967 292l10 9M839 387l3 3M678 490l5 6M728 446l12 10M1077 475l9 9M998 426l4 6M749 344l10 10M1135 361l9 8M1029 437l11 7M1084 598l5 6M1017 301l9 5M949 395l3 4M1014 652l15 4M1110 485l9 10M762 600l10 14M1159 346l3 3M832 656l4 7M1144 294l9 12M1037 307l10 9M1096 325l11 10M1092 386l2 4M787 630l9 8M957 512l5 7M1068 412l11 9M946 540l11 9M684 588l9 9M1057 607l14 9M648 449l9 11M960 425l4 4M824 451l7 10M681 487l9 10M729 658l10 7M1148 637l9 10M1041 442l9 8M1135 505l6 9M740 386l5 3M666 344l-8 6M1009 535l4 4M742 656l12 11M883 357l8 12M1010 325l8 10M669 623l7 9M679 531l10 12M690 604l4 6M704 574l5 9M1012 619l7 5M932 323l12 9M761 416l9 8M766 419l4 13M1078 294l12 8M1091 562l8 5M1118 591l9 10M720 566l4 3M805 597l14 8M708 634l4 2M735 658l-6 5M691 593l8 13M1014 443l11 12M1081 505l6 6M659 630l-7 5M945 365l-8 3M1053 370l13 10M727 574l10 8M979 350l8 8M747 397l10 7M915 434l8 9M907 442l14 5M890 526l6 5M745 504l3 4M1068 543l9 7M995 337l-10 12M870 632l7 6M1024 639l10 13M1140 617l-3 6M717 417l8 8M764 451l8 8M1110 354l9 10M1163 595l4 5M1101 400l10 13M768 472l9 7M802 415l6 3M907 567l7 8M753 364l8 10M1104 421l-8 0M979 556l-9 6M1120 322l8 11M699 588l3 3M854 444l14 8M1033 626l8 8M917 477l12 10M973 542l9 11M867 333l12 9M841 314l3 6M850 514l4 6M691 643l9 7M777 304l9 12M971 609l7 8M1169 524l15 8M946 299l10 10M1039 404l8 12M1045 449l13 10M773 452l5 8M1049 354l4 5M883 648l-7 7M1124 391l10 5M1150 336l-3 11M1087 317l5 9M671 602l9 7M781 610l9 13M1147 405l10 8M1039 374l12 8M705 598l11 11M992 440l4 3M1126 595l10 12M892 608l10 13M1152 380l12 12M908 320l13 11M897 445l-12 11M1030 365l3 3M870 384l9 10M705 625l3 4M1004 317l7 8M1138 489l4 3M1018 515l9 3M1108 432l7 6M1069 337l8 7M1068 294l5 6M935 294l4 5M920 555l10 10M897 309l7 3M855 653l10 7M1136 518l6 5M749 502l6 7M1139 530l9 5M1035 312l11 10M1089 323l6 4M1067 305l13 9M939 293l1 7M677 595l6 6M1060 343l4 3M673 403l4 5M772 301l7 8M1062 402l4 2M1167 506l3 3M813 659l4 3M747 320l4 16M832 641l9 10M1030 296l6 6M1145 519l5 9M1013 458l6 7M1126 486l7 5M1031 502l11 6M911 314l8 11M704 552l1 11M939 305l7 13M825 509l7 6M813 319l4 8M1140 300l8 10M1164 536l3 4M929 613l10 14M755 548l8 9M1071 509l7 8M1121 519l8 7M1056 492l7 8M914 654l8 12M961 297l-6 9M1071 389l7 7M909 397l3 4M1143 571l7 2M769 309l13 5M816 439l5 5M685 625l10 14M1160 498l9 9M826 634l7 9M1122 606l3 5M1096 623l8 12M938 353l8 7M843 503l10 11M970 382l7 6M1121 366l6 4M1159 483l3 3M1025 388l5 2M837 609l-9 4M972 413l10 9M893 371l7 4M676 543l3 3M660 573l-7 2M960 410l5 6M1173 317l-8 11M1032 475l10 10M1115 377l6 4M821 620l4 16M1175 530l8 6M796 659l3 3M1163 332l5 8M1002 420l5 7M903 483l8 9M692 312l-17 1M933 442l11 11M1061 376l2 3M962 433l10 11M698 522l9 7M1054 341l-12 6M970 399l11 11M875 364l7 5M952 290l14 8M947 301l6 11M754 448l4 4M1110 319l14 8M906 291l14 9M1089 579l4 5M1104 648l5 4M885 557l1 5M917 302l12 12M1016 625l6 8M1118 598l6 6M785 496l8 6M1017 403l6 8M935 377l13 8M969 631l11 12M838 593l13 3M1058 365l7 7M1130 387l6 5M884 295l9 9M828 356l15 5M1116 445l9 13M1017 444l10 8M1103 339l13 8M750 606l9 10M1081 446l12 11M845 318l4 5M662 482l-9 14M671 589l6 5M1021 644l-14 5M1035 628l5 11M811 600l5 4M827 343l12 11M987 409l5 5M888 609l10 8M1126 530l9 6M1076 414l8 13M1111 439l6 6M1014 379l13 7M922 639l4 3M1151 352l13 7M1070 340l13 6M873 461l3 6M900 353l12 9M696 402l11 5M1132 460l4 5M772 651l9 3M975 438l4 3M810 594l8 9M863 482l10 12M657 498l4 12M764 327l8 9M825 461l5 4M953 352l3 4M1004 356l7 10M1083 349l8 10M1108 332l11 7M1089 495l9 9M1130 535l12 10M782 385l5 6M937 414l11 7M1077 581l3 8M926 658l4 3M963 360l12 12M971 393l7 9M1125 399l3 3M1095 326l3 5M940 368l-3 4M945 435l12 8M1036 629l10 9M1163 488l6 8M892 360l4 4M947 362l9 12M873 349l8 8M928 589l4 4M1106 581l8 9M905 301l6 4M724 596l10 8M875 639l-5 5M1155 478l4 4M684 387l12 9M1122 551l3 4M753 328l3 5M728 525l13 7M1169 430l9 10M794 387l8 12M730 321l4 9M897 318l4 4M882 550l9 12M876 648l8 7M751 436l13 7M954 426l1 8M946 414l11 12M1122 542l5 5M1015 455l3 3M1132 525l13 5M690 650l7 8M806 380l6 10M866 566l7 6M1122 350l12 7M747 601l6 7M852 373l5 5M924 358l-1 8M1033 521l5 8M1091 500l7 5M792 380l-7 12M838 386l10 7M1112 559l4 5M914 304l11 11M1094 627l6 13M969 355l11 8M953 642l6 6M1103 510l-6 3M965 514l10 7M1060 509l-2 4M834 647l8 7M1062 395l5 5M694 577l9 12M1080 301l-9 5M664 477l11 10M664 491l13 9M1068 646l3 4M1175 378l11 11M1171 593l10 7M867 611l6 2M1026 364l9 7M930 404l4 4M730 642l3 3M700 513l11 11M848 419l13 2M978 340l-5 8M924 459l4 11M1104 499l3 3M1009 402l2 4M816 408l10 13M1103 333l7 10M815 385l6 8M942 387l6 12M751 592l4 7M826 360l7 12M1119 381l13 3M1134 507l6 4M1050 473l7 7M781 557l7 9M796 422l5 10M771 442l0 4M1161 587l8 8M754 450l6 4M948 430l-8 15M648 301l7 6M673 467l6 5M1154 337l7 7M1096 318l7 7M879 502l6 9M1092 405l6 5M743 654l8 6M1127 344l6 6M958 604l13 9M1150 371l3 5M866 339l14 10M1118 302l8 8M985 491l8 2M1090 424l3 10M978 363l9 14M870 474l9 9M839 586l9 5M1172 646l-2 15M964 421l5 7M1144 620l7 6M966 551l5 9M747 472l6 4M1056 377l8 13M1092 543l2 5M672 399l13 10M1104 480l8 3M1105 363l7 6M1068 380l11 11M748 581l7 8M1118 341l3 8M1024 583l8 2M795 388l5 5M987 398l11 7M772 643l3 4M924 574l4 4M1053 429l12 6M1057 327l2 6M1092 557l5 3M672 636l5 4M1144 423l7 7M877 563l8 12M681 451l5 6M654 313l7 14M1125 367l14 8M1000 311l8 8M889 363l7 8M990 336l-4 4M1138 501l3 5M818 647l5 8M686 303l-7 5M1057 340l5 4M700 370l4 2M760 602l8 6M955 433l6 4M918 308l5 8M888 613l4 6M680 587l10 10M792 573l6 7M780 340l12 6M929 432l8 11M972 349l6 3M652 616l4 2M1127 506l7 5M1141 444l-7 6M1123 621l8 6M663 615l10 8M1090 632l8 6M1119 477l13 10M711 514l10 11M975 315l8 8M1174 438l7 8M1107 468l-1 5M654 500l13 7M1005 406l2 3M724 310l-5 12M1126 617l7 8M1100 596l7 7M674 556l8 6M998 349l6 9M746 300l-4 3M997 459l8 7M1085 615l6 4M730 612l6 5M1014 376l13 8M1155 613l7 1M1018 298l3 8M1134 358l-14 4M1008 500l10 10M1016 562l6 4M1020 359l10 9M692 648l6 8M784 609l12 7M814 621l6 5M1174 515l3 4M1034 598l6 7M869 364l9 13M1072 337l6 4M917 327l12 9M796 638l12 10M1155 431l12 12M957 399l10 8M800 430l10 9M1142 513l4 3M1138 546l4 6M1133 657l-5 7M1123 307l5 6M834 392l3 7M1151 292l-6 5M999 358l11 8M700 657l6 7M841 468l5 5M1164 431l7 5M1126 605l12 9M1068 330l7 6M860 500l6 5M974 492l7 9M1029 357l4 8M1042 382l4 5M1107 440l9 10M814 646l9 8M1012 422l5 4M957 382l6 7M1153 383l4 9M929 321l12 9M1107 401l10 10M667 525l8 8M710 504l12 9M1063 350l-5 6M1143 576l4 4M1120 486l5 4M786 328l6 6M1168 316l2 4M840 604l7 7M1027 465l3 4M1025 401l5 9M764 447l4 4M808 446l8 8M710 657l7 9M687 641l-2 3M967 337l3 3M1175 583l8 6M1167 395l5 6M951 382l-9 4M762 476l-2 4M706 294l8 6M1137 485l1 5M1165 384l11 10M670 507l4 4M1116 566l8 10M681 371l6 12M667 603l3 4M771 442l9 9M913 639l10 8M1079 328l6 6M1046 475l5 3M898 371l5 5M713 632l13 3M1135 428l5 8M1013 639l7 4M862 349l3 4M975 301l6 5M749 424l4 10M775 367l6 6M1011 316l6 10M794 647l3 4M908 305l7 6M954 378l7 4M1131 512l6 6M868 406l9 7M751 328l9 12M1049 342l-12 5M708 459l8 12M1083 595l7 10M1137 534l6 8M1121 611l7 6M677 521l-8 3M863 343l2 5M1104 504l4 6M1070 561l5 5M1049 547l7 7M955 653l7 13M1170 520l9 11M681 554l8 2M775 554l3 5M722 547l7 6M835 545l-2 6M1171 430l4 5M1184 635l-7 4M1164 504l4 3M1101 291l4 5M1013 302l8 10M1100 346l11 8M1146 453l11 13M891 576l4 2M844 633l3 4M949 413l8 4M685 383l9 2M1183 296l-14 1M763 637l5 6M1094 394l3 5M819 417l4 4M788 477l5 5M763 349l7 11M1163 441l4 3M1130 339l6 7M1154 442l10 6M788 305l7 5M931 576l-10 9M1100 631l7 6M1079 299l7 5M1063 631l5 5M773 311l-11 3M1043 614l9 12M1174 492l5 10M1086 324l8 7M994 471l8 12M686 611l7 5M787 528l5 3M710 639l4 6M827 325l-16 4M821 632l9 12M990 312l8 11M1001 427l4 3M816 572l9 8M668 512l2 4M1154 509l-4 2M966 322l4 5M1125 545l9 10M879 376l8 10M993 394l8 13M1007 520l3 5M1082 478l5 4M666 306l9 3M666 645l8 12M1039 562l-7 8M703 439l-5 1M1153 639l8 12M755 368l11 11M1032 390l3 3M817 558l10 9M1106 556l6 9M927 608l8 10M745 658l11 6M810 339l8 10M722 529l7 2M662 388l7 9M659 439l7 5M1061 347l7 11M1137 615l9 3M663 349l3 3M847 604l4 6M819 383l12 10M684 651l7 8M1155 388l9 13M690 522l-9 10M971 568l6 5M843 372l6 6M833 414l11 12M1084 472l6 7M753 615l9 10M1031 341l12 11M1048 420l8 11M721 438l12 11M857 416l3 2M761 389l10 6M1115 373l4 4M669 629l6 5M994 470l13 11M776 652l4 7M681 628l11 11M756 418l15 7M1088 338l11 9M1164 356l6 7M738 360l4 4M670 396l-14 0M779 637l13 8M735 614l12 11M1000 525l12 11M988 502l7 10M833 460l4 6M686 630l11 10M683 548l-6 11M1130 352l4 4M757 302l-3 3M665 492l6 9M922 462l8 10M1144 385l8 7M1169 322l-3 5M1123 385l3 5M1131 471l5 4M964 301l-14 2M707 528l8 6M1064 444l-4 4M935 299l5 7M884 471l2 4M1095 445l-4 10M773 617l4 6M687 596l3 3M1136 339l10 6M667 322l-1 4M674 518l5 5M1092 564l1 6M711 412l5 3M1174 334l5 6M967 332l11 8M921 298l3 3M1114 472l2 5M1113 454l3 7M961 301l5 7M709 611l5 4M943 433l9 8M687 586l7 4M1129 432l9 10M1136 338l12 10M942 487l5 7M821 383l-4 2M879 349l4 5M896 619l11 12M1172 380l8 6M883 586l-11 3M1005 478l5 1M1089 302l3 4M1035 624l2 4M1001 604l5 5M836 310l12 11M1104 481l6 7M746 382l8 10M945 490l0 9M901 432l4 5M791 320l10 11M686 605l11 11M959 332l9 10M687 456l7 5M930 485l10 7M704 613l6 7M929 332l16 4M1040 633l8 12M747 327l3 6M778 466l-8 11M691 393l8 6M746 421l15 3M1062 561l-6 6M1115 333l3 10M875 375l8 5M954 315l6 5M699 351l4 5M775 643l11 13M871 421l3 4M964 496l10 9M1147 291l5 7M1030 431l6 11M831 339l7 9M764 636l-3 15M1090 464l5 5M999 484l5 6M1112 365l15 3M986 350l14 9M1103 409l-14 6M1163 321l5 7M951 638l8 10M1000 501l5 6M1013 366l8 5M912 423l12 9M729 593l13 9M1003 335l13 10M911 461l7 6M1134 602l11 12M1017 313l12 11M740 453l4 5M734 312l7 5M1094 346l11 9M995 336l8 9M1049 410l13 10M654 588l3 3M948 292l6 6M1026 346l9 5M802 480l5 5M868 500l9 8M896 382l-9 8M682 625l15 7M1065 486l6 5M994 417l4 3M1148 625l12 3M849 622l5 4M1141 363l8 9M784 561l12 8M856 650l5 5M663 335l10 12M813 423l6 5M936 571l8 12M1026 618l4 5M1170 611l2 4M1120 637l11 12M1129 429l6 6M860 373l6 4M1110 336l11 9M941 346l-8 11M815 615l9 14M1052 576l4 4M1085 456l8 9M1175 597l-4 6M680 515l5 5M1021 467l4 8M954 447l13 11M1123 528l6 7M1129 363l5 5M1099 327l4 5M947 303l6 5M1010 364l9 12M990 307l4 4M1107 651l-7 12M1031 390l2 4M822 566l5 8M921 520l8 10M1006 333l4 5M917 373l7 8M1112 380l10 10M1070 374l12 9M941 314l7 4M732 582l6 6M833 480l9 7M695 647l12 5M1107 324l4 3M1087 334l9 11M1000 357l14 6M1062 537l4 4M1105 508l10 10M939 348l6 3M738 454l8 6M1144 544l3 4M672 500l6 5M1164 366l5 4M662 611l8 10M1120 329l13 10M730 582l7 7M807 379l10 9M770 331l6 10M939 302l10 9M672 638l11 9M687 562l5 3M1131 617l11 12M996 406l13 10M676 533l11 12M673 340l-11 1M1126 525l9 7M856 408l9 5M980 351l9 4M1163 323l12 9M889 551l9 9M723 339l6 15M1033 488l2 4M1108 463l8 10M785 660l4 4M1166 342l7 7M1122 619l4 4M979 588l-6 6M876 646l7 8M1123 356l6 8M809 314l-4 2M970 306l10 8M769 460l9 11M1036 293l7 9M1169 388l11 7M992 631l1 15M849 514l13 9M957 311l7 5M773 603l13 6M769 579l-10 5M1080 416l6 5M775 575l7 6M1163 349l5 3M700 569l3 7M898 466l13 8M1154 368l11 8M762 641l-9 5M859 567l13 10M845 632l9 12M784 580l0 11M1166 314l3 3M1105 601l5 5M1033 562l10 10M1013 467l9 12M999 394l4 5M854 656l7 6M715 445l6 4M735 571l8 11M726 587l7 10M981 408l8 9M753 627l12 9M745 587l7 7M973 321l4 6M1144 304l10 11M811 565l9 11M700 569l-7 3M855 656l7 10M914 362l-11 2M685 597l5 4M802 649l8 6M664 516l3 4M981 465l10 12M728 624l11 11M817 355l3 6M708 504l-6 5M838 405l8 7M924 645l3 4M1113 527l3 4M1152 297l6 6M799 611l5 8M665 434l14 6M1143 297l3 4M974 443l7 6M916 295l4 5M1127 470l3 5M1063 639l4 3M849 655l7 6M895 656l8 10M667 537l4 2M966 657l8 8M717 649l12 10M1141 360l0 12M960 499l9 12M1006 382l7 4M1064 298l5 7M760 379l5 6M808 446l6 9M756 453l12 5M1033 417l4 8M953 305l-2 15M772 652l5 4M747 519l4 3M904 396l9 8M830 404l4 3M669 635l7 9M933 584l7 4M1040 578l13 9M663 646l8 3M1107 602l4 6M666 624l7 8M1096 496l6 5M1014 651l9 5M1062 629l4 5M988 390l1 15M986 415l11 12M681 622l11 10M1116 521l9 7M1171 560l8 9M823 367l-6 15M747 625l6 5M721 325l2 4M1068 622l5 5M1105 397l13 7M1007 554l9 9M1053 322l4 2M742 608l7 10M725 599l6 4M1103 512l11 12M1083 334l6 6M766 350l-4 3M686 444l8 4M1052 354l12 7M1071 373l13 10M987 581l11 12M1006 465l8 10M906 458l12 6M837 585l10 11M733 336l14 3M1137 336l8 8M773 630l10 11M798 624l10 13M1131 384l12 4M745 336l6 8M965 357l10 9M824 471l6 6M960 468l7 9M1141 640l6 1M824 328l11 9M999 374l3 4M913 408l6 11M919 314l8 5M939 330l10 11M779 411l9 9M970 428l7 8M1087 447l6 7M929 455l2 4M898 290l-14 6M943 310l7 5M858 431l11 7M1073 470l6 6M674 351l13 10M972 320l12 9M652 507l15 8M800 430l5 6M1116 377l8 9M1148 441l4 7M811 413l6 7M996 396l5 3M885 485l12 11M859 406l7 9M1155 378l-8 2M1152 470l5 4M807 636l11 10M792 634l3 9M1066 575l5 5M1134 350l2 4M1085 309l2 4M1028 545l11 8M884 504l10 8M1124 561l10 12M1066 387l11 10M943 419l7 5M946 424l10 7M1152 376l6 11M951 430l5 4M1149 626l5 5M957 490l4 6M1045 384l6 6M829 640l1 5M773 602l10 8M787 447l11 9M804 560l5 3M840 335l-7 1M1078 299l5 7M1071 425l11 11M918 511l8 5M715 323l7 6M894 356l6 6M1080 409l4 4M994 409l5 5M771 366l9 13M1093 460l7 7M800 568l-5 14M993 331l11 10M655 604l6 4M832 350l11 11M1004 456l12 8M1052 312l14 7M836 609l11 10M906 654l11 12M713 380l3 4M937 396l5 6M865 384l5 5M1137 499l9 8M789 424l4 6M1148 499l4 5M1003 512l9 8M891 560l6 8M1081 583l-4 1M1165 430l3 5M1163 333l6 2M1164 381l3 4M1161 354l7 9M957 432l7 9M767 465l6 4M830 633l-5 15M1103 443l5 13M1112 403l5 6M1104 354l8 8M755 613l9 11M700 451l5 6M852 381l10 13M965 521l11 11M1149 320l8 7M778 417l6 5M781 408l10 8M1090 338l9 14M757 602l8 9M668 619l13 9M786 577l9 11M948 365l8 14M946 363l6 12M986 373l9 12M705 495l4 4M925 323l8 6M784 339l9 12M1000 349l2 10M1164 423l7 5M1158 464l7 7M699 649l9 14M721 630l4 2M716 634l4 5M711 368l10 6M1017 433l-1 5M1062 426l-10 13M651 398l1 12M1044 379l-3 5M1133 598l4 3M1104 439l-14 0M1112 461l8 3M941 435l9 9M788 456l7 6M659 516l9 10M845 422l10 10M961 362l4 4M1011 470l7 14M1133 361l10 10M739 447l12 7M1142 309l-10 6M940 596l6 7M1138 426l5 8M1036 320l3 5M788 607l-9 3M955 565l3 3M865 628l13 7M783 350l11 11M1069 565l4 3M996 471l7 6M1130 428l7 5M838 418l8 7M919 295l5 7M1153 599l6 4M725 547l3 6M1091 631l10 12M1090 379l5 7M1143 307l-8 14M828 650l8 13M794 468l10 7M1070 604l4 8M950 293l4 6M686 600l14 8M727 365l4 7M1147 331l4 3M1135 310l9 6M684 546l11 5M1007 466l12 10M857 390l6 4M700 509l11 10M1162 365l6 6M1057 322l3 7M962 432l5 6M747 576l11 13M763 419l5 5M786 561l9 7M1035 647l8 9M1131 371l11 11M1077 465l5 4M806 658l12 7M860 650l13 9M663 424l3 7M768 655l-8 9M980 418l7 7M912 389l12 9M1047 360l2 4M973 634l11 9M982 292l-13 7M1126 509l9 7M1080 330l9 11M670 620l7 10M850 649l9 7M917 624l9 5M1029 330l5 7M1069 353l5 9M963 347l7 8M1151 551l5 3M917 474l9 8M652 387l4 3M816 297l12 11M1140 498l6 3M799 654l4 3M1065 435l11 9M1129 302l7 12M974 641l5 9M1168 428l2 4M837 652l11 8M944 307l12 6M834 631l6 4M693 305l3 11M674 504l4 4M1100 400l-9 11M1097 611l-1 8M1088 328l-1 4M897 619l7 9M835 465l-2 16M962 314l12 7M959 640l9 7M697 597l2 4M1129 345l6 5M931 398l6 5M947 366l7 13M1128 532l0 5M1133 380l8 10M771 440l4 3M962 657l6 7M1121 341l12 1M789 593l4 9M1037 355l-8 12M945 648l3 4M672 606l4 7M1088 581l5 5M788 654l7 5M1061 413l6 5M1033 352l11 12M742 656l6 6M923 390l9 12M791 522l5 5M1070 536l8 12M666 555l9 10M734 387l6 7M1168 616l5 5M851 400l8 12M1038 597l3 6M1037 294l6 7M1020 560l6 8M676 620l10 11M1055 358l5 6M970 313l7 6M955 310l6 6M991 626l-5 15M790 543l5 5M909 578l5 11M889 311l7 7M1129 322l10 10M952 528l10 9M1111 464l5 5M1102 533l-6 15M973 350l-5 3M830 526l5 3M756 329l9 10M701 609l6 4M864 497l11 8M732 399l4 4M857 440l5 4M969 467l7 7M1049 425l7 9M929 306l9 14M958 510l5 6M658 634l5 5M842 426l7 8M1125 394l7 6M914 362l6 9M660 314l2 3M1141 612l-5 3M788 309l4 2M1032 309l9 6M855 659l2 4M923 456l12 10M913 599l9 10M1157 305l6 4M989 357l2 7M916 369l7 4M883 296l13 10M1169 376l6 5M898 345l3 3M1129 612l13 9M741 641l-4 6M989 548l4 5M986 392l4 4M822 317l-2 16M993 389l5 5M781 650l-15 4M713 390l4 4M875 426l7 10M1152 329l-5 13M847 507l6 7M1169 545l9 6M1160 557l5 3M961 337l10 10M774 547l-12 7M1145 346l-11 12M1058 389l6 10M936 550l7 8M843 537l-7 4M761 614l11 13M838 657l7 9M1180 420l-1 14M922 624l13 11M660 653l8 9M1164 515l12 8M840 564l8 8M686 643l9 9M935 444l11 11M1105 464l7 5M915 417l9 14M690 658l9 8M760 644l8 6M1171 507l10 10M929 439l4 4M711 639l4 2M1003 360l5 7M1083 414l7 6M1053 409l7 8M1139 378l0 12M768 596l9 2M723 641l4 3M676 355l9 10M782 629l8 9M1148 507l13 9M1031 355l6 9M961 414l11 11M1114 406l3 4M1094 408l10 13M727 637l5 7M1169 460l10 10M1109 364l3 7M662 591l-14 9M751 633l7 11M918 464l10 5M880 502l-1 9M741 374l11 12M808 645l8 8M915 616l6 6M752 533l6 8M870 295l6 11M901 341l9 9M977 407l2 5M1013 346l11 10M667 656l10 12M993 388l6 4M798 353l4 1M1055 434l-3 3M858 428l10 4M1054 557l9 9M758 629l4 4M1177 517l3 3M1125 410l11 12M1155 322l-6 4M1009 333l7 6M1029 397l-4 0M1011 301l7 7M1034 298l9 5M813 355l6 10M1166 544l4 3M819 608l3 15M1098 456l12 7M820 476l7 7M808 378l4 3M1097 429l8 7M955 632l-15 0M829 437l12 12M859 539l5 3M712 652l-16 4M676 523l-2 10M692 414l3 6M689 542l8 9M954 449l6 8M692 658l5 6M804 348l4 5M1132 488l4 8M680 644l9 9M1018 634l-11 8M666 433l3 6M722 464l10 13M673 496l4 5M731 319l10 9M1092 371l10 12M938 296l6 7M1069 342l6 5M744 303l13 9M1088 467l11 11M1063 473l11 12M1099 328l6 7M1166 471l5 8M928 329l5 6M739 607l9 10M760 611l7 6M872 441l4 6M1030 577l6 4M708 498l5 5M856 442l12 7M943 617l3 4M909 577l3 3M876 646l6 6M722 604l3 3M673 653l7 9M749 431l3 6M1056 300l14 9M684 468l7 6M889 648l6 5M755 561l6 10M1109 499l10 6M1105 517l-4 14M937 345l13 9M956 373l3 3M1045 640l5 8M756 650l8 6M786 459l14 9M715 421l9 7M969 625l8 8M693 597l5 4M756 618l10 9M960 545l3 6M787 290l-1 7M1163 544l7 11M850 370l-5 8M970 318l11 10M1155 388l6 4M1093 360l13 3M706 312l10 10M1164 357l13 4M1125 456l8 6M724 485l-10 12M1141 484l5 3M1042 639l14 8" stroke="#bcbcbc" stroke-opacity="0.3" stroke-width="0.8" fill="none"/><path d="M1061 426l8 6M1138 491l5 6M676 629l10 4M869 353l2 4M810 441l-9 1M1145 609l5 9M991 504l9 7M925 481l1 15M1153 399l3 4M989 424l4 11M696 593l7 6M999 646l4 3M776 385l10 13M1116 621l4 4M1116 491l12 7M1077 538l-13 0M677 545l7 10M855 338l4 8M962 377l7 8M1113 464l-4 4M772 464l8 14M980 452l5 8M717 315l5 5M1151 515l7 7M704 593l5 0M755 395l11 8M1039 515l8 7M687 442l10 7M947 514l5 4M952 450l8 12M703 329l6 3M1158 339l6 7M755 584l-3 10M897 295l7 12M956 645l7 9M1168 400l14 8M882 622l4 4M991 300l8 5M1036 404l-11 2M1096 334l3 6M996 472l7 10M682 396l4 16M867 459l-1 9M1147 460l11 9M949 474l12 7M662 467l12 11M1092 305l6 8M901 479l5 14M1127 605l12 4M695 371l7 7M843 654l6 7M815 321l4 4M1008 337l4 3M1118 401l10 12M873 638l3 3M1099 322l4 7M1034 460l4 5M774 643l10 10M715 318l0 9M1102 583l4 4M796 556l9 13M765 453l6 4M1146 568l12 7M749 633l6 5M772 393l10 12M841 646l5 5M1174 329l5 2M753 552l10 7M1128 385l7 7M1005 463l3 5M1053 351l6 7M1026 362l4 5M816 548l7 5M814 303l7 6M991 332l6 1M911 624l6 5M716 569l9 9M826 432l9 9M907 454l11 11M1017 359l5 4M765 631l12 9M685 628l9 8M1036 388l5 7M742 436l-12 4M942 399l4 8M1146 529l-10 8M1138 361l7 5M1117 637l10 7M935 393l12 11M950 361l3 5M1150 617l3 3M1091 440l5 4M1020 303l7 8M1080 608l6 9M1057 312l6 9M674 569l10 12M1113 367l4 5M1109 561l-3 4M1125 491l8 6M762 336l-9 7M833 629l-12 2M830 495l5 10M1089 357l10 12M704 417l13 6M1086 386l7 9M960 322l5 5M1104 387l6 5M990 303l5 4M703 346l13 11M1073 514l7 6M949 367l11 11M1131 552l-10 0M964 353l1 4M942 411l5 4M952 356l4 6M1151 637l14 10M1169 449l10 12M980 298l8 9M1113 537l11 12M876 455l4 15M1054 506l9 14M1052 370l5 1M984 472l7 6M1090 478l6 8M1109 405l7 10M774 339l5 4M766 597l4 7M940 600l14 9M1097 405l10 7M1128 545l9 10M1021 483l8 5M824 407l9 11M818 621l4 13M1056 496l-7 4M1110 509l10 8M761 396l-5 14M1018 579l11 8M1139 516l4 4M981 355l7 5M1150 513l1 4M740 426l-3 10M860 353l3 3M691 637l5 8M845 302l6 7M669 596l8 8M1067 327l4 4M1178 548l5 6M787 420l8 8M1131 353l-4 5M1003 421l5 5M1018 353l5 6M958 468l4 6M912 391l4 3M718 523l6 4M880 351l9 9M1067 370l8 10M1094 316l13 6M1042 309l11 12M711 459l8 6M835 646l11 10M976 328l-7 3M1093 474l7 7M926 652l8 10M976 468l4 4M1095 377l6 6M1087 291l-6 9M1073 453l7 9M755 527l11 8M1168 336l5 9M720 290l3 5M1050 324l4 7M1094 511l11 7M1033 546l7 8M794 429l3 3M855 358l5 4M1076 371l5 10M968 461l1 4M1051 562l8 9M1127 432l3 4M1172 477l-11 4M997 630l14 0M1177 291l7 8M945 402l8 12M1142 618l5 9M1028 324l7 5M724 622l8 8M1076 602l5 5M649 649l7 5M659 539l8 7M753 342l8 13M881 486l11 13M1021 415l6 10M843 404l10 8M901 589l5 5M1109 372l4 3M1102 638l7 7M975 329l7 6M1127 486l-4 3M655 621l5 4M1138 485l3 3M1170 594l8 10M861 483l10 13M727 415l16 1M997 319l8 2M817 330l4 2M976 435l12 7M841 624l2 4M1155 290l1 7M830 534l3 4M990 450l13 9M1098 584l12 9M1058 421l9 12M942 319l12 9M724 600l10 13M745 532l4 6M1029 301l5 10M781 546l9 7M674 296l6 6M1017 401l5 6M1137 589l13 9M784 653l3 4M673 644l8 11M1129 355l3 4M1000 368l10 9M807 488l8 12M1156 362l10 7M951 395l10 2M833 439l6 6M1063 434l5 7M979 298l13 10M825 630l5 3M821 492l7 5M1155 465l-4 5M731 650l-6 0M865 608l7 4M958 317l6 8M756 335l4 5M851 624l13 7M982 351l13 8M1019 447l10 9M1155 390l8 10M734 611l6 5M986 411l10 12M1031 596l-7 6M730 547l9 9M1120 449l9 6M794 612l3 4M1049 366l6 6M1156 519l6 7M647 654l9 2M1044 305l10 11M900 300l5 5M1063 616l4 3M959 459l11 9M1088 564l-5 9M959 342l7 8M661 630l9 8M1017 383l8 12M1092 634l12 10M777 431l-2 4M967 317l7 9M995 417l13 9M822 625l5 4M1031 349l6 4M1136 604l10 11M1024 405l8 11M775 459l7 4M730 412l14 7M742 422l-4 9M720 507l4 6M712 341l5 15M769 342l14 8M977 653l4 5M798 599l4 3M850 405l11 13M715 410l9 11M674 315l-8 14M957 303l5 5M1060 381l7 8M967 319l11 12M1017 500l5 5M944 301l-5 3M1153 622l5 6M1056 459l-5 5M1161 357l7 4M785 444l4 12M1087 442l3 4M948 409l-16 4M839 556l-10 1M927 372l10 7M989 350l3 6M1108 507l11 10M769 449l-16 1M724 362l12 7M1010 454l12 9M945 413l9 10M932 627l10 10M1077 660l3 3M1133 416l4 4M1033 319l6 10M903 358l2 4M806 640l9 6M881 325l-5 15M1067 332l6 10M774 416l4 2M936 325l6 6M732 628l5 6M986 643l1 5M964 585l6 11M804 442l4 9M961 448l12 12M683 623l12 11M1134 365l4 13M680 636l5 4M774 594l12 10M1178 652l-4 2M673 595l10 11M877 628l5 4M719 478l3 9M944 367l9 9M797 424l13 11M1151 424l-9 9M1007 345l-8 0M983 420l9 5M677 315l5 4M1153 437l4 3M920 372l4 3M699 602l14 5M1077 581l8 9M1038 381l4 4M922 405l7 6M699 650l8 11M763 328l5 4M1151 635l9 11M940 388l12 8M841 448l6 12M1099 358l10 12M750 321l10 13M719 339l8 3M995 564l7 3M1110 571l-1 6M756 322l4 5M704 654l8 10M775 373l7 5M976 417l9 7M914 454l12 12M1148 590l8 8M1004 441l-7 8M1096 512l-15 7M738 647l9 4M1045 346l6 8M1076 419l6 6M859 637l4 5M992 399l7 10M719 631l-8 7M1069 432l8 12M1098 417l9 14M1090 535l6 3M931 639l5 5M1129 479l7 15M668 405l-1 7M910 540l9 9M957 351l6 7M1097 467l7 8M981 361l14 7M773 408l9 8M965 441l4 3M1056 503l8 8M991 429l7 7M813 650l-11 9M934 351l3 3M1170 523l4 5M683 304l8 0M1128 411l-4 0M995 472l8 2M875 589l11 1M668 604l9 9M946 333l8 12M1169 320l6 8M1151 355l-10 6M1125 581l4 16M1125 353l7 2M700 519l3 3M1007 492l7 8M779 391l4 6M1118 494l15 1M1132 518l7 10M887 646l1 14M860 499l-2 6M813 640l12 10M1011 483l-9 5M1002 656l10 10M679 598l8 6M1002 358l-13 5M672 347l13 11M1107 433l-3 5M746 649l-2 7M1035 455l-8 4M1074 381l-14 2M1159 532l7 8M751 623l7 7M794 368l4 3M1084 475l8 9M1034 393l9 7M813 601l12 12M992 362l11 11M1058 648l13 9M834 586l4 8M826 330l7 8M997 510l5 7M697 306l5 5M1090 651l11 10M669 650l9 9M688 417l11 8M932 369l11 7M966 363l13 9M740 527l12 12M1053 361l12 10M881 344l3 4M742 444l7 7M984 289l11 9M1140 631l8 7M944 381l4 5M962 658l4 2M792 386l8 7M1082 424l12 10M973 527l5 5M743 616l5 5M678 429l5 3M1140 459l7 2M695 576l5 6M1023 513l5 6M933 357l3 4M945 486l12 11M832 642l11 5M1137 335l12 11M707 291l8 6M698 465l5 5M1068 460l8 6M1012 432l4 3M814 638l4 2M778 420l5 4M963 602l-1 10M1145 460l8 2M1051 458l5 6M1167 368l10 11M1039 417l12 10M797 425l4 5M1079 358l12 11M649 495l12 5M1058 355l5 6M1116 345l13 10M1088 416l5 8M1051 396l4 8M871 613l-1 16M781 486l11 10M822 462l8 7M835 360l8 7M842 657l3 4M958 421l5 4M1184 508l-7 10M960 342l12 10M788 406l3 6M786 425l2 6M995 647l-1 13M781 295l5 5M991 433l7 7M1090 529l5 15M1128 494l2 3M691 564l4 4M732 624l12 7M1134 513l-10 1M700 649l10 9M727 357l-14 6M681 622l9 15M817 415l-5 3M697 532l5 11M952 554l9 6M860 338l-3 3M832 608l12 12M650 646l5 7M1074 294l-4 2M1095 599l10 11M862 513l11 12M789 635l10 13M701 395l6 5M1164 576l2 4M1053 306l10 8M1049 397l4 0M1164 528l10 12M1068 383l11 11M1115 293l9 6M998 404l11 9M915 432l11 10M922 467l12 2M1129 321l8 9M1125 488l6 9M1042 487l10 8M671 435l9 8M906 331l4 4M1116 448l16 2M901 294l-4 16M1016 337l11 6M696 547l10 11M1055 402l-1 10M976 372l13 8M696 604l6 5M1016 404l10 10M687 503l6 9M1030 309l3 5M1117 372l10 8M818 584l5 3M663 653l12 11M1115 397l4 7M954 622l9 6M882 492l6 11M1121 534l6 5M946 597l12 8M1020 487l8 5M1085 397l5 6M957 398l-4 7M962 379l8 8M1146 541l9 15M660 426l12 11M1028 401l4 5M731 616l10 9M1126 366l5 3M1100 587l12 9M985 610l8 5M704 630l9 4M890 636l12 5M790 362l8 8M1124 306l8 9M758 613l4 6M1168 418l4 5M649 574l10 6M795 497l11 5M954 356l4 4M732 487l6 6M1042 623l4 4M1073 450l9 9M681 596l7 8M1014 370l7 6M931 421l6 5M868 375l5 8M874 389l9 14M887 649l7 9M729 604l12 9M978 506l12 8M775 423l-9 11M990 390l8 5M1161 649l12 10M907 421l7 11M976 449l6 4M888 433l6 6M1174 449l7 2M993 380l5 4M901 550l4 7M1087 376l8 9M892 591l-3 6M1111 338l-0 10M1016 452l6 16M691 639l13 6M716 449l-9 10M751 441l9 8M706 572l13 10M1047 351l3 4M1162 614l14 7M1134 363l13 11M1143 453l5 6M943 345l11 10M742 322l12 11M766 354l10 11M1178 370l-11 4M800 366l7 9M924 301l8 9M778 429l4 5M751 565l5 9M790 438l5 4M950 424l-10 9M1006 637l8 7M934 396l9 8M1163 333l7 9M670 646l6 9M1015 328l8 10M1136 293l10 8M994 636l6 5M1135 311l5 3M972 448l5 2M665 655l4 3M980 297l-14 6M1151 530l12 7M953 426l10 9M887 400l4 7M1011 447l-10 14M844 659l5 4M703 602l8 13M1094 586l3 3M681 393l3 3M958 384l5 5M1127 458l11 2M919 608l6 4M936 527l5 5M963 410l6 4M1127 587l10 5M968 397l5 4M738 474l3 3M819 488l10 9M759 649l5 6M922 292l4 6M1078 298l3 12M715 504l-15 6M726 631l13 11M873 629l10 12M760 649l9 10M1140 304l9 9M852 480l13 11M658 658l8 6M1106 330l5 6M835 294l7 6M680 467l6 5M782 310l9 1M665 533l10 9M1055 466l9 7M724 621l-0 5M760 398l4 5M724 482l3 4M1123 370l3 4M782 659l-10 0M646 585l11 8M833 333l10 12M1013 639l8 12M824 406l9 6M1140 315l7 7M993 432l6 4M695 497l-11 5M1040 625l-6 2M1132 530l6 7M761 444l3 4M734 620l9 5M1103 565l11 12M751 644l10 8M827 591l-7 7M1010 417l7 6M998 434l5 6M683 471l-11 6M1165 341l4 4M737 428l10 10M819 387l2 9M1023 377l4 3M918 542l4 5M994 456l3 3M739 294l8 10M963 323l4 6M908 627l6 6M1149 473l9 11M823 551l5 8M995 643l4 3M705 293l10 10M1109 330l6 3M731 523l10 6M1026 511l3 3M981 403l13 5M1064 375l6 6M765 396l8 6M839 398l3 4M845 636l5 6M686 373l10 8M722 395l6 7M674 573l6 4M1109 617l12 8M1058 592l11 13M1146 370l4 2M1001 325l8 7M777 485l13 10M759 473l3 3M767 300l6 5M677 631l9 10M1119 420l12 5M928 310l9 9M968 346l13 10M991 308l10 13M1040 326l10 11M833 602l2 5M1152 333l4 5M1138 444l-7 2M980 387l10 13M846 315l5 5M974 612l10 12M715 527l9 14M954 399l6 7M720 437l-2 4M761 649l10 11M1087 318l11 10M733 602l13 8M1161 618l2 4M882 655l14 8M774 620l-0 7M821 569l10 13M678 585l5 6M1162 497l5 6M1152 636l-7 6M895 517l-8 6M929 487l10 10M1014 399l4 5M701 551l8 9M746 572l3 3M693 624l6 9M648 403l8 8M734 653l4 5M1091 619l7 11M1037 295l5 3M787 371l9 7M749 614l6 9M1149 495l-3 4M1118 341l4 3M717 621l9 9M945 431l8 10M1077 457l7 10M1000 360l-5 14M935 312l12 5M1049 355l11 9M1027 352l6 6M1148 608l9 8M985 443l2 4M994 647l10 9M979 386l8 9M1054 535l12 12M911 421l-14 3M760 448l3 6M775 423l9 10M903 395l8 10M711 294l12 9M1096 466l11 11M987 460l3 3M846 588l14 3M865 443l4 5M802 419l10 11M1138 571l9 13M653 296l11 8M728 634l6 10M680 446l10 8M1117 493l10 3M948 317l6 8M1088 466l9 8M1121 471l15 4M804 538l4 3M667 422l9 6M748 639l8 7M1031 337l7 6M917 571l9 7M1111 450l13 1M882 624l-12 3M1013 438l8 13M772 627l10 6M752 438l5 8M972 351l8 7M751 351l-10 8M1033 335l5 6M675 554l6 7M1046 423l7 6M693 460l8 8M878 407l10 10M1059 574l-2 6M933 581l11 11M704 451l10 7M1161 504l9 9M803 642l9 10M1087 295l6 5M1033 397l4 2M1130 547l3 5M949 420l8 8M823 487l8 4M822 608l6 10M860 575l12 9M958 470l9 11M1068 421l4 5M1130 500l5 4M822 548l9 6M934 293l3 3M688 579l5 7M982 376l8 11M971 323l14 7M1155 358l10 7M1109 461l7 6M872 654l4 6M1086 310l-12 1M1113 360l3 4M1000 382l11 6M1056 327l7 7M1018 340l7 4M1100 561l5 8M992 617l11 10M1131 439l11 8M914 476l4 7M649 635l8 5M759 521l7 4M1169 325l12 7M649 636l10 9M704 539l8 6M660 478l4 5M1048 376l8 11M806 559l12 10M747 447l-15 7M941 364l7 13M744 620l4 3M722 656l6 6M975 624l2 9M1097 294l7 12M932 372l3 6M1137 294l11 6M930 299l4 5M1062 501l11 7M1064 485l7 8M708 324l10 13M1125 573l-11 11M741 295l7 7M1036 298l8 4M948 360l5 7M802 657l11 9M696 603l9 9M1015 309l2 3M1005 465l3 4M981 322l5 5M978 562l10 11M754 636l4 3M808 453l12 10M1134 483l5 9M796 629l10 7M761 619l9 14M922 302l8 9M692 331l-2 11M676 644l-9 1M1005 335l-5 11M853 647l11 10M832 421l6 10M824 641l-2 15M769 427l4 10M829 532l10 7M1161 521l11 8M1051 311l11 11M955 436l5 5M802 352l10 12M744 621l5 7M704 611l-7 8M1072 654l3 7M1064 465l13 2M1115 622l13 9M945 334l5 7M989 632l5 9M680 604l12 9M869 653l7 7M792 616l11 13M1042 368l6 8M1141 606l6 6M875 636l5 7M1096 585l7 12M976 412l9 1M927 375l10 11M1052 640l6 14M994 574l11 10M883 568l7 9M1120 330l11 9M718 595l5 4M1069 362l8 12M828 430l4 4M786 643l11 12M953 483l-2 5M884 638l3 6M1061 467l8 9M773 534l11 6M917 325l9 12M916 406l6 5M916 468l8 7M1091 406l9 9M755 538l5 5M995 313l6 4M978 379l4 2M1088 476l7 4M952 328l4 4M957 378l6 9M1173 382l3 4M774 560l2 5M988 526l3 8M899 657l8 6M836 349l7 10M820 654l9 10M681 369l-9 2M970 394l6 9M1068 469l7 8M1170 345l10 11M732 483l4 13M1107 287l11 11M924 442l-7 0M1017 456l8 10M986 446l5 5M735 371l9 8M954 378l-12 10M1031 415l9 9M1139 576l8 13M774 645l6 5M1072 644l5 4M792 481l1 6M694 576l3 2M917 361l9 13M1112 331l10 6M936 361l5 3M1018 630l13 11M771 459l8 4M1126 386l11 2M1009 443l4 4M1070 653l6 7M1116 618l7 10M940 414l8 13M794 312l11 8M1037 375l0 7M929 331l11 10M654 386l6 7M711 656l11 7M976 330l5 7M764 363l4 1M875 632l9 9M955 328l11 6M904 394l-4 9M1175 480l5 7M887 495l14 7M905 307l10 13M1085 435l7 7M744 453l11 10M1130 609l4 6M1167 594l12 9M1009 355l11 9M1099 435l3 2M685 580l7 5M976 321l8 9M720 645l4 3M865 589l6 7M1078 559l1 5M751 601l5 10M1178 337l0 12M1177 416l-3 3M927 369l6 4M925 398l6 4M1053 577l-1 8M1069 359l9 6M703 363l9 6M1042 349l3 4M1142 477l-5 1M1173 618l-6 12M929 380l8 12M899 616l14 8M668 655l1 6M700 540l11 9M1140 322l10 7M803 463l13 9M766 483l9 9M919 526l8 9M1081 398l7 8M678 620l7 13M1135 489l11 6M860 408l9 6M740 413l10 7M1163 472l-6 2M672 594l10 11M1089 562l9 14M722 642l7 11M1042 639l5 4M761 420l6 10M726 617l9 13M974 477l3 3M1144 451l5 7M1135 490l6 4M1018 320l-0 7M872 325l5 5M1093 364l10 7M679 648l14 4M952 540l-5 11M1172 443l12 12M707 603l13 7M997 354l12 9M691 305l10 6M1154 487l5 3M740 344l6 6M1099 336l5 6M983 455l9 14M1019 333l6 13M667 591l-6 2M1139 490l10 10M681 476l4 3M1130 346l8 15M968 386l5 6M919 507l7 4M898 468l8 6M765 291l8 11M900 596l8 7M947 403l5 7M948 343l3 4M1159 599l16 4M923 566l8 4M739 618l9 8M692 627l10 11M761 444l8 4M716 598l8 15M919 517l10 12M1030 578l12 9M671 515l4 7M1099 362l-12 1M1035 573l6 5M1089 342l14 8M718 293l4 6M691 307l3 5M1110 325l4 2M995 409l3 6M1061 641l9 7M1005 369l5 10M1105 489l6 4M820 659l3 4M1085 297l6 6M978 317l8 9M1118 638l4 10M946 360l5 6M1074 372l10 14M828 461l13 10M1124 465l4 5M1085 524l10 7M1136 543l-4 1M942 379l5 9M1020 638l4 3M748 336l11 9M775 399l13 10M1101 406l6 6M1126 403l9 6M890 653l5 3M1140 599l5 5M842 371l7 6M1091 324l13 7M1074 587l7 7M1129 458l3 4M826 612l-4 7M976 315l10 11M651 635l3 4M1174 351l8 13M876 634l-7 3M981 478l-12 3M672 587l6 5M1168 642l9 8M732 631l9 12M687 299l10 8M680 327l5 4M767 402l4 6M798 367l3 4M1172 497l10 9M1113 646l9 12M1148 304l5 8M695 567l-3 5M691 518l5 6M806 419l10 6M1122 452l9 12M921 312l3 4M712 560l8 9M1017 603l11 10M661 567l10 8M1051 318l12 10M697 543l11 8M742 636l6 9M983 361l5 8M1122 308l3 4M825 647l8 6M1146 310l8 9M779 409l10 8M1010 464l5 12M685 626l8 9M786 417l7 5M1034 298l10 9M1016 390l7 9M1166 514l7 9M648 511l8 6M685 419l3 4M1170 334l-5 2M784 519l5 0M735 611l8 6M814 624l10 8M705 338l6 5M758 443l6 12M1034 316l11 9M1051 622l12 8M699 603l5 3M807 423l8 12M983 380l8 9M873 587l5 5M1053 376l4 11M823 558l8 13M941 451l12 11M988 311l12 12M949 348l2 6M841 361l4 5M1122 467l11 11M758 592l1 10M781 441l8 12M733 578l2 4M674 648l0 5M791 559l10 6M984 377l7 5M981 324l6 2M947 357l11 10M1043 336l9 8M1090 640l13 10M848 405l13 10M1027 413l4 3M878 504l-9 2M1145 440l9 12M816 358l4 8M1005 378l5 10M713 331l6 3M1165 518l10 5M1120 376l6 4M712 435l-6 5M982 427l4 0M1122 424l7 6M942 440l5 5M722 415l-6 5M860 454l-14 9M1150 404l3 6M718 592l14 1M691 622l12 8M1107 302l9 7M1142 344l3 3M877 388l9 6M1177 484l7 8M989 381l3 3M819 395l-13 5M691 572l6 6M995 329l12 10M921 593l3 4M1012 329l-0 10M870 633l5 5M707 576l7 4M914 540l-5 10M968 350l6 8M983 346l5 4M1175 375l-0 5M1061 418l5 6M1015 381l10 13M658 455l7 5M731 587l-10 5M752 418l16 5M847 349l3 5M998 500l11 8M656 466l-1 14M1131 651l9 15M709 631l11 8M1142 330l8 6M1087 579l2 4M1100 624l12 6M956 334l12 8M1008 508l3 3M1155 353l4 11M912 392l2 4M1096 399l5 7M757 366l3 4M802 658l3 4M986 647l8 6M688 648l4 3M922 467l8 5M1168 413l5 4M1018 369l4 8M757 427l6 11M750 423l7 10M1107 328l9 5M704 516l-4 15M766 445l-4 4M812 650l9 14M845 372l-17 2M1085 367l3 3M850 367l5 6M944 374l7 7M1002 450l5 5M977 463l4 3M924 365l4 4M1007 512l11 11M854 317l10 9M1033 409l8 11M661 599l10 11M742 637l5 2M762 621l7 8M655 309l4 4M749 642l14 7M1138 584l3 3M892 331l12 11M743 320l1 11M903 460l-4 6M804 353l6 8M749 554l9 11M962 602l9 13M996 495l-1 16M1094 355l13 10M837 530l4 8M777 427l6 6M826 349l-5 0M1100 362l6 8M844 645l4 4M1160 358l10 11M869 472l4 3M839 456l11 9M1095 310l9 4M934 311l7 12M1017 334l10 13M720 357l6 11M783 593l11 10M1034 420l8 8M1165 493l4 7M806 629l4 3M1175 561l5 4M704 367l4 6M810 441l14 9M1089 540l-1 7M698 502l10 8M982 344l5 4M809 473l-2 16M934 617l-4 13M968 383l-6 4M816 345l4 3M788 444l15 7M946 638l2 5M769 652l6 6M977 429l9 8M997 383l2 8M1133 380l5 4M699 317l4 3M745 326l3 3M756 463l9 5M801 327l10 8M1175 605l10 8M1072 326l13 8M1120 388l14 8M1116 314l9 12M800 386l4 5M681 445l-12 9M858 331l9 5M902 304l7 6M1107 640l6 6M1008 417l9 5M1116 535l-4 7M907 470l2 4M886 650l12 10M1094 589l5 5M659 388l8 11M887 401l-5 1M795 649l5 10M951 387l5 5M772 525l5 6M662 497l2 12M1105 515l4 2M836 577l5 15M1148 337l7 14M829 452l6 9M844 307l8 12M717 600l8 0M1016 297l6 9M915 456l7 9M731 609l3 4M809 495l4 6M1055 440l3 4M1137 310l11 9M857 630l8 9M937 399l5 6M1132 301l6 3M799 363l9 12M716 425l4 4M880 405l7 1M742 577l10 10M975 536l-9 8M1094 410l8 11M763 652l7 4M851 398l4 5M1084 538l6 6M660 586l6 6M1143 542l12 11M1086 570l9 10M1096 436l5 4M750 568l6 8M1140 301l7 6M1049 290l10 10M1152 467l7 7M1086 359l7 6M949 547l3 4M694 619l-3 4M697 559l10 12M863 345l10 12M708 588l-8 6M1175 340l6 5M706 460l5 16M954 595l2 15M1130 429l-11 4M1034 322l-4 4M692 603l5 3M1026 361l7 8M1127 421l13 4M664 479l6 4M886 373l4 4M1007 420l-2 8M866 612l13 4M1077 438l4 2M730 422l-6 16M675 365l11 10M769 305l3 7M761 319l6 5M706 658l4 6M732 621l-9 8M1107 290l8 9M1142 521l2 6M950 405l8 10M841 658l6 6M1003 621l9 9M952 312l8 5M1076 325l7 7M963 404l-10 2M1024 349l9 11M995 642l4 6M1172 508l7 12M1148 349l11 9M884 353l8 6M1109 520l6 4M1005 350l10 12M1057 602l10 6M672 627l5 6M888 355l8 9M1027 617l8 10M983 395l4 3M1059 332l8 10M1101 477l8 3M661 613l4 4M1032 651l9 7M682 656l7 9M1141 433l6 8M1156 405l6 10M1023 429l9 11M962 299l5 5M1156 430l4 4M998 328l-6 0M665 362l3 3M662 506l4 5M1165 637l3 4M1089 441l13 10M686 294l11 12M1017 571l4 4M649 558l7 5M814 395l-5 7M754 614l-12 6M789 593l7 6M1049 406l3 5M840 530l12 8M1102 558l7 6M837 428l-5 11M916 425l10 1M1121 297l9 5M1038 455l4 4M937 320l9 11M951 506l5 4M1170 475l6 4M1120 458l-7 8M1061 435l13 10M977 452l12 11M780 433l5 6M1047 387l10 13M1134 470l10 11M1075 412l4 5M1061 624l-10 10M1014 565l8 5M697 636l12 9M899 422l8 10M816 639l12 1M945 487l10 9M725 370l8 9M1155 407l6 5M1069 523l9 1M993 358l4 3M1083 477l-8 5M735 335l4 6M686 608l-3 11M929 307l3 4M1042 383l6 6M1008 627l13 7M892 628l6 4M893 293l10 6M993 459l-13 10M797 392l11 8M910 456l7 9M778 445l4 5M672 600l6 16M681 565l5 5M751 358l7 9M782 368l-3 15M1035 613l4 2M938 417l5 4M660 488l7 5M1139 528l9 11M708 462l4 4M1132 424l3 4M958 321l13 10M873 616l12 8M1027 350l8 8M928 315l2 4M725 445l12 11M682 357l-9 14M823 619l10 10M1009 625l9 9M817 651l2 5M655 400l9 10M774 542l5 6M761 450l4 3M880 391l4 2M1124 488l3 3M835 643l4 3M668 536l5 4M662 638l-8 14M873 613l4 2M690 365l9 7M1077 299l5 3M1152 368l3 4M1106 511l9 7M672 615l7 10M759 322l10 7M1147 529l3 4M983 299l13 9M933 626l11 11M691 519l-3 3M1095 574l9 13M1160 294l7 9M823 654l6 9M1110 565l11 10" stroke="#c8c8c8" stroke-opacity="0.25" stroke-width="1.2" fill="none"/><path d="M1013 585l-1 4M906 582l4 2M967 480l0 7M791 617l3 3M741 389l6 3M1095 617l-1 6M1167 397l5 5M1115 627l7 3M766 636l4 4M672 592l5 3M793 541l2 3M1057 466l3 4M998 430l6 5M1159 480l3 3M778 533l2 3M1036 377l-3 1M719 480l2 2M874 400l4 4M1153 426l1 3M651 536l5 4M682 493l3 4M888 562l3 3M1166 552l4 6M934 339l5 4M706 569l-0 5M677 337l-2 6M708 505l3 4M983 637l3 3M1018 611l4 4M865 616l4 6M708 391l3 2M825 638l2 3M774 391l5 4M1157 364l4 3M920 652l3 3M1019 627l4 3M878 640l5 5M662 587l4 3M1172 627l2 2M704 653l2 2M1040 499l3 3M846 316l5 5M990 646l1 7M869 404l6 4M973 439l4 1M681 599l2 4M722 545l-3 1M1001 445l6 4M664 513l3 2M1009 533l1 5M940 435l3 3M994 460l5 4M1005 397l3 3M1069 606l3 4M962 356l2 3M967 653l7 3M951 576l-0 6M956 527l4 5M754 455l3 2M1010 530l-1 5M1120 618l3 3M921 549l4 2M1011 353l-3 2M732 547l5 6M1142 533l2 4M887 636l4 5M1044 350l4 4M825 549l4 4M1013 633l4 3M1022 543l2 2M943 461l5 3M725 376l3 6M908 402l6 5M749 633l4 4M965 387l5 4M892 446l4 5M1090 331l2 3M1010 330l-0 3M1099 494l5 6M1090 555l3 3M777 339l-0 3M759 561l3 1M693 582l4 4M989 394l5 4M782 308l6 4M1162 372l4 5M839 558l2 2M938 631l3 2M982 341l2 2M940 506l2 3M1093 532l3 2M914 326l3 3M778 437l3 6M841 625l7 1M837 649l4 5M816 616l6 4M714 553l4 4M950 545l7 4M671 345l6 5M1172 375l6 5M914 347l3 2M688 588l5 6M758 593l4 4M655 323l2 5M687 592l5 5M995 434l-6 1M913 513l5 6M1165 472l5 3M906 558l5 5M821 490l6 5M726 312l3 7M1132 320l4 4M692 343l2 4M1115 306l3 5M837 396l4 3M699 539l6 4M1109 411l4 5M701 643l3 5M731 472l3 3M1168 342l-3 6M663 368l-5 5M965 560l5 6M1156 306l4 7M844 500l4 3M856 524l2 3M1042 600l2 2M1105 571l5 4M1051 471l4 2M1009 478l3 2M906 592l2 3M1023 383l4 4M995 492l-5 5M954 533l2 3M986 334l3 5M1165 504l3 2M920 372l1 6M1120 326l5 4M701 624l3 1M702 367l2 3M838 446l5 4M1089 484l2 4M759 610l-7 0M788 362l6 4M679 572l3 3M1136 425l7 0M818 381l4 3M662 411l5 4M897 605l5 6M850 563l5 3M676 367l5 5M839 390l3 4M772 478l3 3M682 317l4 2M971 383l2 2M1125 395l5 6M1085 631l4 4M1092 360l3 3M712 589l2 3M664 321l4 5M953 576l5 4M874 656l3 3M753 643l4 2M835 535l4 3M1076 510l3 4M725 485l2 5M879 579l3 2M875 393l-2 2M901 641l6 4M923 652l1 3M790 447l6 4M909 503l6 5M936 335l6 3M755 408l4 3M1061 458l6 5M802 462l3 4M1152 313l4 2M1143 319l0 3M1079 360l3 4M1111 491l4 5M1128 539l2 3M835 323l4 6M1089 434l4 3M726 351l4 2M1031 600l2 3M926 649l7 3M876 522l5 5M1010 320l3 6M976 365l6 3M958 577l4 6M1153 375l2 3M886 315l1 8M892 453l2 5M954 444l3 3M1128 443l4 3M850 571l4 5M1169 369l4 6M1000 589l5 6M1037 651l4 4M883 375l2 5M656 585l3 5M1138 361l3 2M723 342l5 3M1085 540l2 3M819 368l4 2M880 361l5 5M1157 447l6 4M780 324l-4 5M734 569l5 3M853 459l3 4M681 309l5 5M892 539l5 4M960 585l6 6M1034 385l-4 6M1094 484l5 5M943 468l4 2M848 311l5 4M676 448l-5 0M842 624l-4 4M901 635l5 4M1151 433l4 5M716 486l5 3M1031 291l-1 4M690 625l3 0M702 369l4 6M852 377l2 3M932 513l4 3M936 315l2 3M989 336l4 5M833 646l5 4M1084 455l3 3M953 374l3 7M733 301l3 2M1057 300l4 5M859 499l-5 2M1168 654l-3 4M977 541l3 3M914 589l3 3M1007 370l7 3M733 484l3 2M1133 430l3 2M1014 434l3 2M1010 483l6 3M912 488l4 6M651 453l4 3M967 332l4 5M1172 645l6 2M1156 660l4 4M1022 554l2 2M973 474l7 4M764 558l-5 2M1160 331l4 5M659 397l2 4M856 515l3 3M788 593l4 4M905 599l4 4M720 428l-1 3M985 345l5 5M1059 342l6 3M992 472l3 6M1094 318l-2 3M996 369l2 2M905 446l2 6M765 370l2 2M1114 393l4 3M766 501l5 4M1178 424l3 1M1160 446l2 3M719 405l6 4M834 303l5 5M991 437l3 2M1141 385l4 3M1085 297l5 2M663 644l4 3M790 541l3 4M936 565l4 6M673 352l2 6M840 423l5 4M1059 314l6 5M1155 481l3 2M1017 390l3 3M713 624l5 5M1146 655l3 3M794 533l-4 0M1039 529l5 3M712 363l7 4M763 377l2 3M1023 620l2 7M702 403l5 3M898 419l6 2M663 489l-2 3M1052 622l5 5M701 426l5 3M886 331l4 4M1007 508l3 7M973 367l3 4M1022 475l3 4M764 633l4 4M961 467l2 3M929 650l-3 2M924 465l3 3" stroke="#303030" stroke-opacity="0.35" stroke-width="1" fill="none"/><path d="M676 652l11 2M649 631l8 3M699 658l5 3M687 647l4 3M689 617l9 1M671 656l4 4M729 646l3 2M689 640l9 7M696 623l6 3M688 623l8 8M777 657l3 4M677 656l4 0M755 654l10 5M832 659l10 6M718 627l6 3M674 650l8 4M644 649l10 6M681 653l8 2M673 639l8 8M664 630l8 6M663 649l2 3M638 637l5 5M706 639l5 0M729 644l4 2M662 658l10 2M657 630l5 3M670 617l9 3M676 633l9 5M710 636l6 2M693 618l3 3M671 649l4 1M677 627l4 3M665 645l3 3M661 644l9 0M639 632l10 6M698 651l6 2M662 649l9 3M684 641l6 2M641 647l7 6M677 644l3 1M718 623l2 2M676 629l4 6M662 639l11 4M668 651l7 4M672 599l4 2M694 656l5 3M684 618l7 1M781 646l8 5M648 616l5 4M795 661l3 1M723 632l9 2M676 608l7 4M703 642l4 1M771 658l4 3M665 623l9 7M708 610l10 -2M653 652l8 3M686 648l6 2M812 644l4 5M668 645l4 1M676 635l3 3M691 657l6 -2M696 621l4 2M685 654l7 6M700 655l4 6M705 655l11 1M687 656l7 4M670 632l11 0M798 654l11 3M660 654l11 4M654 638l3 2M644 654l7 3M656 619l4 -0M664 605l3 1M721 656l7 3M676 627l6 4M699 647l4 3M653 656l7 8M683 651l7 3M675 620l7 5M654 617l5 5M773 659l4 3M681 630l6 1M726 632l6 2M673 619l6 2M658 659l3 2M781 658l7 6M680 640l4 2M717 617l3 1M695 635l4 3M698 631l5 2M682 650l7 2M715 640l4 4M646 624l3 4M660 637l5 2M812 654l7 8M750 652l8 1M717 627l3 1M688 659l5 5M695 650l6 1M669 636l4 2M809 657l4 3M657 641l6 7M684 621l10 3M680 648l6 10M687 656l10 0M719 619l7 9M682 642l4 4M673 660l3 3M661 642l9 7M686 659l3 1M675 612l5 0M698 645l5 1M673 623l4 3M676 635l3 3M704 615l3 2M811 652l9 5M653 654l4 3M702 649l8 8M852 657l8 5M676 638l3 6M820 653l6 6M653 647l4 2M699 653l3 2M699 618l3 3M668 634l3 3M655 619l3 2M664 615l8 5M669 628l9 5M695 643l6 5M681 651l4 3M695 638l9 3M793 654l6 5M678 647l3 2M839 658l4 1M668 635l6 5M663 661l5 1M691 621l7 6M682 624l10 1M676 659l6 2M666 658l9 4M722 657l10 -1M680 657l8 1M683 649l5 4M657 637l2 3M666 652l9 5M640 657l7 -1M797 652l8 2M679 624l5 2M683 632l8 3M725 638l9 7M704 638l4 3M650 638l2 2M673 652l7 5M686 659l5 3M717 651l2 4M662 641l7 3M688 643l10 4M840 658l2 2M649 634l7 6M686 638l11 4M693 656l4 2M673 621l11 3M692 642l7 6M669 611l2 3M689 621l7 5M679 625l7 8M749 651l7 2M719 651l6 1M823 655l5 4M663 643l8 8M730 647l8 9M786 647l4 7M708 653l7 9M790 658l6 4M806 642l4 3M648 624l3 1M701 628l12 1M661 614l7 5M767 644l8 2M663 657l11 3M673 629l3 7M696 609l8 3M688 640l2 3M705 609l9 7M656 652l4 3M673 648l9 8M701 644l7 2M690 603l10 5M645 616l7 1M703 641l7 7M788 652l9 1M693 635l7 6M831 652l9 0M853 649l5 9M647 647l4 7M661 645l4 4M710 655l7 6M692 661l4 0M669 650l9 6M655 622l4 1M740 657l7 6M684 652l9 4M648 605l7 5M674 656l7 9M683 618l5 3M695 644l3 1M742 649l5 2M644 629l6 3M722 651l6 5M735 648l10 4M802 658l6 2M730 650l3 2M766 653l8 4M825 650l8 6M718 645l3 2M648 625l11 4M775 657l10 -1M729 640l2 3M661 602l6 5M766 647l8 5M711 629l7 5M644 635l9 5M667 657l5 5M645 627l6 4M661 655l8 5M682 659l10 3M700 642l9 4M644 622l8 7M651 625l6 6M684 639l5 2M686 624l10 5M663 612l7 7M681 653l9 6M808 656l3 1M649 633l7 7M646 660l7 1M645 646l4 3M791 657l6 3M655 646l9 2M679 647l8 6M850 649l4 1M773 645l11 4M679 630l3 4M681 637l9 3M660 659l5 3M687 644l10 4M824 648l3 2M653 652l1 3M747 653l2 3M678 653l2 5M676 653l5 5M736 649l5 4M666 635l10 5M702 660l4 3M683 631l7 5M678 655l5 4M698 654l6 4M685 643l3 3M720 632l9 2M651 638l7 2M710 659l3 1M684 602l2 3M700 655l3 3M656 654l9 4M692 654l8 7M711 613l2 2M752 645l6 1M717 655l9 4M681 645l3 2M652 640l4 2M677 629l9 6M682 622l8 4M736 653l6 3M768 652l7 5M697 630l3 2M812 654l5 4M696 623l8 2M693 623l5 9M662 647l3 3M681 649l10 3M692 630l4 0M665 642l8 4M657 656l3 1M812 656l7 1M652 644l3 2M801 657l8 6M691 624l3 2M705 661l4 2M756 654l3 2M679 646l4 1M646 643l3 1M636 651l10 2M667 629l3 3M692 629l3 2M668 659l4 2M777 658l4 3M749 659l10 3M684 654l4 2M820 662l4 -0M729 635l2 3M714 649l6 4M690 640l7 9M647 654l11 4M822 655l8 7M664 631l4 3M717 655l6 3M667 642l7 5M702 642l5 1M718 647l4 1M666 645l5 1M794 651l9 7M691 651l4 4M682 642l3 4M727 619l9 2M713 648l8 7M790 658l7 6M698 638l6 2M697 627l7 6M673 649l5 2M802 655l7 6M790 647l4 1M779 658l10 6M722 653l6 6M699 615l3 2M771 648l9 7M761 647l8 2M680 632l9 7M697 638l6 8M687 649l5 3M785 652l7 1M687 646l6 3M722 651l9 5M641 658l6 2M704 633l4 1M826 652l4 2M849 655l5 5M669 647l8 1M712 623l7 6M644 615l9 -1M667 647l10 4M706 637l6 4M794 657l3 1M698 620l5 4M810 660l6 1M665 636l8 -0M695 645l4 4M683 647l4 4M656 642l7 1M667 639l7 4M715 655l3 2" stroke="#e0e0e0" stroke-opacity="0.45" stroke-width="1" fill="none"/><path d="M786 651l5 11M688 656l4 2M841 658l8 1M677 638l9 2M681 657l6 6M683 608l4 3M689 618l5 2M775 644l6 1M637 641l11 3M682 603l8 2M765 654l4 1M644 644l4 2M703 633l6 4M744 646l10 4M803 655l7 6M715 626l8 3M675 630l7 1M641 645l8 3M696 628l6 4M657 623l6 1M702 646l3 1M680 657l3 2M645 656l9 3M660 632l11 2M696 638l3 3M706 655l6 2M667 614l3 2M676 647l3 3M679 651l4 4M669 653l9 3M710 650l10 4M761 641l6 3M703 618l7 4M692 646l6 6M754 642l8 7M720 654l6 3M666 631l5 2M656 635l9 4M760 644l7 4M676 626l7 5M683 627l3 4M663 636l11 5M693 637l3 3M655 633l8 0M651 652l10 3M640 653l5 7M652 658l3 1M689 630l8 4M638 648l7 2M761 657l9 5M689 643l10 3M659 609l8 7M709 613l5 4M682 655l5 5M652 612l11 1M668 632l8 6M785 659l3 2M754 659l4 3M668 607l4 6M673 636l4 2M659 642l6 6M706 615l5 4M678 640l8 6M684 614l6 9M654 642l6 4M669 631l3 2M694 654l8 3M674 655l6 1M721 656l5 4M702 638l11 4M672 631l9 1M679 647l11 3M682 640l9 5M665 643l7 2M780 647l8 7M704 658l9 6M668 634l7 4M808 651l11 5M657 622l3 3M657 655l2 3M690 624l9 7M676 624l7 8M697 647l9 4M683 636l4 5M686 641l10 3M697 660l3 2M666 657l3 2M698 598l7 3M641 637l7 -0M644 614l1 9M677 652l7 3M810 656l6 1M784 657l5 3M687 627l7 4M662 650l10 3M668 620l8 1M672 607l8 4M760 649l6 1M720 651l3 2M663 643l7 5M738 656l5 4M839 658l8 2M679 650l10 1M714 631l3 1M688 605l4 2M644 614l9 8M678 608l6 3M734 658l7 6M670 648l6 1M655 647l5 5M692 649l3 1M676 620l7 5M700 629l8 3M675 633l9 8M704 632l5 4M655 655l7 7M684 619l8 5M808 652l5 10M716 633l5 3M636 647l9 6M761 655l5 1M653 653l3 3M670 642l2 2M653 644l6 9M701 641l2 2M705 615l9 3M677 630l7 8M790 653l4 4M745 656l9 -0M655 642l5 5M682 619l10 2M819 654l10 7M652 652l6 7M697 647l8 5M665 605l7 2M723 644l8 4M738 658l6 5M815 653l6 0M723 656l6 2M688 651l8 5M714 622l3 1M681 643l9 5M658 657l10 4M702 613l4 3M779 655l3 4M770 648l6 7M689 650l10 6M806 652l10 4M662 643l4 6M647 653l10 6M639 642l7 1M672 623l6 2M667 651l4 7M721 654l3 3M657 623l7 6M803 645l6 2M721 642l5 3M679 649l2 4M701 654l7 4M671 651l8 5M693 648l9 8M768 652l12 2M702 642l4 4M765 652l10 4M729 653l10 6M834 659l3 1M802 652l4 0M672 642l11 5M689 641l8 2M696 632l2 2M659 629l2 2M674 606l4 5M673 658l6 4M774 651l3 1M654 632l5 5M720 650l5 1M822 652l7 4M649 611l8 4M766 652l3 4M667 659l8 4M692 641l8 8M802 648l5 1M669 621l5 3M788 651l8 8M696 611l7 7M711 653l10 1M694 655l4 -1M740 644l5 3M645 610l6 2M672 635l6 7M669 642l5 2M662 636l5 8M660 620l10 4M649 618l6 4M753 650l10 3M688 659l12 2M653 635l6 2M652 639l4 4M675 651l2 3M710 634l4 6M712 646l10 2M675 659l2 4M706 624l8 8M719 653l7 2M656 615l5 9M688 639l12 2M684 617l10 4M695 623l4 3M684 612l9 6M664 632l7 5M686 657l8 1M654 623l8 2M699 615l4 2M828 657l8 4M695 645l3 2M698 637l4 2M645 650l8 3M671 630l4 2M695 656l10 2M662 649l9 6M678 646l5 7M663 659l3 1M676 618l7 3M704 644l6 6M817 659l4 3M664 657l4 5M672 654l4 3M662 626l12 2M749 650l9 6M656 622l9 7M712 621l5 1M699 649l3 2M690 625l8 5M755 659l5 0M822 656l3 1M646 659l5 3M690 653l2 2M689 649l4 2M650 660l3 1M650 627l5 2M678 626l2 3M654 638l3 1M657 656l3 2M717 621l11 4M640 638l4 2M686 640l11 4M763 653l2 3M677 614l7 2M683 646l7 7M799 653l9 6M688 640l5 1M660 614l8 6M701 636l4 5M679 652l2 2M697 651l6 2M714 640l3 1M636 638l8 6M716 624l3 2M684 658l5 3M698 624l5 3M660 661l8 1M691 655l7 -2M663 613l8 8M645 653l8 7M725 650l3 1M690 658l7 5M667 645l4 5M672 640l7 5M657 648l8 5M747 656l3 1M699 628l11 3M687 643l5 2M780 656l3 2M676 656l5 3M783 654l5 3M729 628l4 3M679 624l9 8M722 644l7 5M699 646l9 4M639 646l6 1M758 658l5 2M837 658l4 6M664 656l4 2M663 652l5 4M653 651l3 2M811 641l6 8M665 638l5 1M830 644l5 2M695 622l8 4M816 660l7 2M702 623l2 2M684 648l10 5M705 614l9 4M702 642l3 2M709 644l6 4M638 656l8 6M667 646l5 4M789 642l10 4M691 658l4 2M823 660l3 2M694 598l7 -2M687 616l10 4M807 658l3 -0M799 659l8 -2M717 637l3 1M678 654l6 3M695 635l4 3M673 630l5 4M676 649l3 4M687 609l7 9M728 640l4 2M852 659l10 4M668 657l7 6M646 649l8 5M648 626l4 2M744 659l8 -1M684 637l6 3M692 601l4 3M702 634l5 2M814 654l8 5M782 658l6 3M677 622l8 4M800 658l3 2M698 657l5 6M815 659l5 3M679 637l10 2M693 618l5 1M742 653l3 2M783 650l5 4M642 629l4 3M692 650l5 5M732 630l10 3M688 635l9 -1M687 641l10 4M680 655l6 3M702 605l5 2M679 616l3 4M691 650l5 4M788 657l3 2M699 632l3 4M674 641l9 7M676 628l5 1M787 656l6 2M670 633l3 3M692 607l11 3M682 645l5 3M800 656l4 1M684 627l5 2M668 649l10 1" stroke="#c8c8c8" stroke-opacity="0.5" stroke-width="1.2" fill="none"/><rect x="651" y="293" width="530" height="369" filter="url(#grainR)" opacity="0.3"/></g><rect x="324" y="636" width="214.5" height="5.2" fill="#fff"/><rect x="939.5" y="636" width="213.5" height="5.2" fill="#fff"/><g fill="#fff" font-size="32"><text transform="translate(402.6,618.5) scale(1.02,1)" >0 um</text><text transform="translate(1017.8,618.9) scale(1.02,1)" >0 um</text></g><path d="M394.1,595.1 L396.9,595.1 L396.9,618.5 L394.1,618.5 L394.1,600.6 C392.6,602.3 390.4,603.8 388,604.7 L388,601.8 C391,600.5 393.2,598 394.4,595.1 Z" fill="#fff"/><path transform="translate(615.2,0.4)" d="M394.1,595.1 L396.9,595.1 L396.9,618.5 L394.1,618.5 L394.1,600.6 C392.6,602.3 390.4,603.8 388,604.7 L388,601.8 C391,600.5 393.2,598 394.4,595.1 Z" fill="#fff"/><path d="M546.5,447.5 L621,447.5 L621,420.6 L676.5,474.7 L621,529 L621,502.1 L546.5,502.1 Z" fill="#0aa8e6" filter="url(#shadow)"/><text transform="translate(140,699.4) scale(1.017,1)" font-size="32" word-spacing="1" fill="#000">unordered membrane</text><text transform="translate(768.5,699.2) scale(1.02,1)" fill="#1a6fba" font-weight="bold" font-size="32">ordered membrane</text></svg></body></html>
